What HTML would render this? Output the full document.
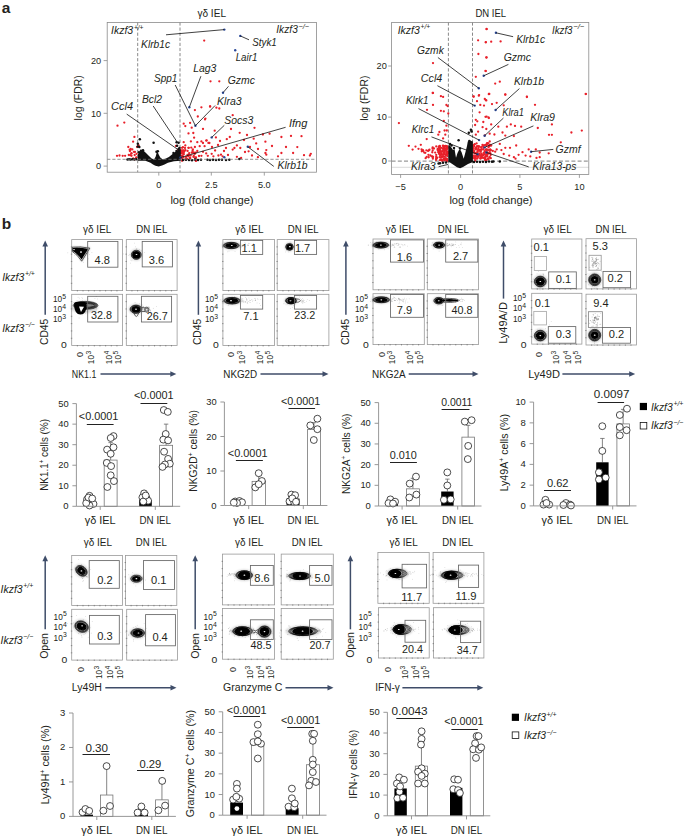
<!DOCTYPE html>
<html><head><meta charset="utf-8"><style>
html,body{margin:0;padding:0;background:#fff;}
svg{display:block;}
text{font-family:"Liberation Sans", sans-serif; fill:#231f20;}
</style></head><body>
<svg width="685" height="836" viewBox="0 0 685 836">
<text x="211.70" y="16.70" font-size="10.2" text-anchor="middle" textLength="28.6" lengthAdjust="spacingAndGlyphs">γδ IEL</text>
<line x1="103.60" y1="166.10" x2="107.20" y2="166.10" stroke="#8a8a8a" stroke-width="0.8"/>
<text x="101.20" y="169.40" font-size="9.2" text-anchor="end">0</text>
<line x1="103.60" y1="113.30" x2="107.20" y2="113.30" stroke="#8a8a8a" stroke-width="0.8"/>
<text x="101.20" y="116.60" font-size="9.2" text-anchor="end">10</text>
<line x1="103.60" y1="60.60" x2="107.20" y2="60.60" stroke="#8a8a8a" stroke-width="0.8"/>
<text x="101.20" y="63.90" font-size="9.2" text-anchor="end">20</text>
<line x1="158.80" y1="172.20" x2="158.80" y2="175.60" stroke="#8a8a8a" stroke-width="0.8"/>
<text x="158.80" y="188.20" font-size="9.2" text-anchor="middle">0</text>
<line x1="211.30" y1="172.20" x2="211.30" y2="175.60" stroke="#8a8a8a" stroke-width="0.8"/>
<text x="211.30" y="188.20" font-size="9.2" text-anchor="middle">2.5</text>
<line x1="264.30" y1="172.20" x2="264.30" y2="175.60" stroke="#8a8a8a" stroke-width="0.8"/>
<text x="264.30" y="188.20" font-size="9.2" text-anchor="middle">5.0</text>
<text x="212.00" y="203.60" font-size="10.4" text-anchor="middle" textLength="83.2" lengthAdjust="spacingAndGlyphs">log (fold change)</text>
<text x="81.80" y="97.80" font-size="10.2" text-anchor="middle" transform="rotate(-90 81.80 97.80)" textLength="45.2" lengthAdjust="spacingAndGlyphs">log (FDR)</text>
<line x1="137.70" y1="22.40" x2="137.70" y2="172.20" stroke="#6b6b6b" stroke-width="0.8" stroke-dasharray="3.2,1.9"/>
<line x1="180.00" y1="22.40" x2="180.00" y2="172.20" stroke="#6b6b6b" stroke-width="0.8" stroke-dasharray="3.2,1.9"/>
<circle cx="204.20" cy="40.60" r="1.15" fill="#e8202a"/>
<circle cx="210.50" cy="81.30" r="1.15" fill="#e8202a"/>
<circle cx="219.30" cy="81.30" r="1.15" fill="#e8202a"/>
<circle cx="210.00" cy="106.50" r="1.15" fill="#e8202a"/>
<circle cx="216.40" cy="107.70" r="1.15" fill="#e8202a"/>
<circle cx="219.30" cy="108.50" r="1.15" fill="#e8202a"/>
<circle cx="232.70" cy="115.20" r="1.15" fill="#e8202a"/>
<circle cx="254.50" cy="127.80" r="1.15" fill="#e8202a"/>
<circle cx="214.70" cy="130.70" r="1.15" fill="#e8202a"/>
<circle cx="239.70" cy="132.80" r="1.15" fill="#e8202a"/>
<circle cx="262.90" cy="134.50" r="1.15" fill="#e8202a"/>
<circle cx="269.60" cy="133.70" r="1.15" fill="#e8202a"/>
<circle cx="281.40" cy="137.00" r="1.15" fill="#e8202a"/>
<circle cx="291.00" cy="135.90" r="1.15" fill="#e8202a"/>
<circle cx="301.50" cy="136.20" r="1.15" fill="#e8202a"/>
<circle cx="215.90" cy="137.40" r="1.15" fill="#e8202a"/>
<circle cx="229.80" cy="137.00" r="1.15" fill="#e8202a"/>
<circle cx="226.80" cy="139.20" r="1.15" fill="#e8202a"/>
<circle cx="253.70" cy="138.70" r="1.15" fill="#e8202a"/>
<circle cx="265.40" cy="141.70" r="1.15" fill="#e8202a"/>
<circle cx="206.70" cy="140.40" r="1.15" fill="#e8202a"/>
<circle cx="208.40" cy="142.90" r="1.15" fill="#e8202a"/>
<circle cx="256.20" cy="143.40" r="1.15" fill="#e8202a"/>
<circle cx="236.90" cy="145.40" r="1.15" fill="#e8202a"/>
<circle cx="234.40" cy="148.00" r="1.15" fill="#e8202a"/>
<circle cx="240.30" cy="148.00" r="1.15" fill="#e8202a"/>
<circle cx="226.00" cy="148.00" r="1.15" fill="#e8202a"/>
<circle cx="297.30" cy="147.10" r="1.15" fill="#e8202a"/>
<circle cx="232.70" cy="149.60" r="1.15" fill="#e8202a"/>
<circle cx="266.30" cy="150.10" r="1.15" fill="#e8202a"/>
<circle cx="215.10" cy="150.50" r="1.15" fill="#e8202a"/>
<circle cx="248.60" cy="151.30" r="1.15" fill="#e8202a"/>
<circle cx="265.40" cy="153.00" r="1.15" fill="#e8202a"/>
<circle cx="281.40" cy="153.00" r="1.15" fill="#e8202a"/>
<circle cx="293.10" cy="153.00" r="1.15" fill="#e8202a"/>
<circle cx="266.30" cy="154.70" r="1.15" fill="#e8202a"/>
<circle cx="211.70" cy="153.80" r="1.15" fill="#e8202a"/>
<circle cx="252.00" cy="155.50" r="1.15" fill="#e8202a"/>
<circle cx="304.00" cy="155.20" r="1.15" fill="#e8202a"/>
<circle cx="310.80" cy="153.80" r="1.15" fill="#e8202a"/>
<circle cx="309.90" cy="155.50" r="1.15" fill="#e8202a"/>
<circle cx="278.00" cy="156.30" r="1.15" fill="#e8202a"/>
<circle cx="236.90" cy="156.80" r="1.15" fill="#e8202a"/>
<circle cx="221.00" cy="154.70" r="1.15" fill="#e8202a"/>
<circle cx="222.60" cy="156.30" r="1.15" fill="#e8202a"/>
<circle cx="218.40" cy="155.50" r="1.15" fill="#e8202a"/>
<circle cx="213.40" cy="156.30" r="1.15" fill="#e8202a"/>
<circle cx="257.90" cy="157.20" r="1.15" fill="#e8202a"/>
<circle cx="241.10" cy="158.00" r="1.15" fill="#e8202a"/>
<circle cx="205.00" cy="119.40" r="1.15" fill="#e8202a"/>
<circle cx="117.50" cy="125.70" r="1.15" fill="#e8202a"/>
<circle cx="124.30" cy="122.60" r="1.15" fill="#e8202a"/>
<circle cx="134.40" cy="136.90" r="1.15" fill="#e8202a"/>
<circle cx="133.10" cy="141.70" r="1.15" fill="#e8202a"/>
<circle cx="128.30" cy="147.00" r="1.15" fill="#e8202a"/>
<circle cx="132.30" cy="149.40" r="1.15" fill="#e8202a"/>
<circle cx="133.90" cy="151.80" r="1.15" fill="#e8202a"/>
<circle cx="131.50" cy="153.40" r="1.15" fill="#e8202a"/>
<circle cx="117.00" cy="155.80" r="1.15" fill="#e8202a"/>
<circle cx="119.50" cy="155.50" r="1.15" fill="#e8202a"/>
<circle cx="122.70" cy="155.80" r="1.15" fill="#e8202a"/>
<circle cx="125.10" cy="155.80" r="1.15" fill="#e8202a"/>
<circle cx="131.50" cy="155.80" r="1.15" fill="#e8202a"/>
<circle cx="134.70" cy="155.00" r="1.15" fill="#e8202a"/>
<circle cx="136.30" cy="157.40" r="1.15" fill="#e8202a"/>
<circle cx="137.10" cy="147.00" r="1.15" fill="#e8202a"/>
<circle cx="138.70" cy="145.40" r="1.15" fill="#e8202a"/>
<circle cx="183.70" cy="123.70" r="1.15" fill="#e8202a"/>
<circle cx="185.30" cy="126.10" r="1.15" fill="#e8202a"/>
<circle cx="190.10" cy="122.90" r="1.15" fill="#e8202a"/>
<circle cx="194.90" cy="110.10" r="1.15" fill="#e8202a"/>
<circle cx="201.40" cy="107.30" r="1.15" fill="#e8202a"/>
<circle cx="210.20" cy="106.40" r="1.15" fill="#e8202a"/>
<circle cx="197.80" cy="116.50" r="1.15" fill="#e8202a"/>
<circle cx="205.40" cy="118.60" r="1.15" fill="#e8202a"/>
<circle cx="191.70" cy="127.70" r="1.15" fill="#e8202a"/>
<circle cx="203.00" cy="128.90" r="1.15" fill="#e8202a"/>
<circle cx="188.50" cy="133.40" r="1.15" fill="#e8202a"/>
<circle cx="193.30" cy="133.00" r="1.15" fill="#e8202a"/>
<circle cx="194.10" cy="137.70" r="1.15" fill="#e8202a"/>
<circle cx="183.70" cy="142.20" r="1.15" fill="#e8202a"/>
<circle cx="190.90" cy="141.40" r="1.15" fill="#e8202a"/>
<circle cx="197.30" cy="142.20" r="1.15" fill="#e8202a"/>
<circle cx="203.00" cy="143.00" r="1.15" fill="#e8202a"/>
<circle cx="201.40" cy="141.40" r="1.15" fill="#e8202a"/>
<circle cx="206.20" cy="140.60" r="1.15" fill="#e8202a"/>
<circle cx="209.40" cy="143.00" r="1.15" fill="#e8202a"/>
<circle cx="185.30" cy="145.40" r="1.15" fill="#e8202a"/>
<circle cx="188.50" cy="147.80" r="1.15" fill="#e8202a"/>
<circle cx="194.90" cy="147.00" r="1.15" fill="#e8202a"/>
<circle cx="199.70" cy="146.20" r="1.15" fill="#e8202a"/>
<circle cx="204.60" cy="146.20" r="1.15" fill="#e8202a"/>
<circle cx="184.50" cy="151.00" r="1.15" fill="#e8202a"/>
<circle cx="191.70" cy="152.60" r="1.15" fill="#e8202a"/>
<circle cx="197.30" cy="151.00" r="1.15" fill="#e8202a"/>
<circle cx="203.00" cy="151.80" r="1.15" fill="#e8202a"/>
<circle cx="183.70" cy="154.20" r="1.15" fill="#e8202a"/>
<circle cx="188.50" cy="155.00" r="1.15" fill="#e8202a"/>
<circle cx="194.90" cy="153.40" r="1.15" fill="#e8202a"/>
<circle cx="201.40" cy="155.80" r="1.15" fill="#e8202a"/>
<circle cx="207.80" cy="155.80" r="1.15" fill="#e8202a"/>
<circle cx="180.50" cy="152.60" r="1.15" fill="#e8202a"/>
<circle cx="182.10" cy="155.80" r="1.15" fill="#e8202a"/>
<circle cx="181.30" cy="158.20" r="1.15" fill="#e8202a"/>
<circle cx="206.20" cy="153.40" r="1.15" fill="#e8202a"/>
<circle cx="186.00" cy="157.00" r="1.15" fill="#e8202a"/>
<circle cx="190.00" cy="158.00" r="1.15" fill="#e8202a"/>
<circle cx="196.00" cy="157.50" r="1.15" fill="#e8202a"/>
<circle cx="199.00" cy="156.00" r="1.15" fill="#e8202a"/>
<circle cx="212.00" cy="147.00" r="1.15" fill="#e8202a"/>
<circle cx="218.00" cy="145.00" r="1.15" fill="#e8202a"/>
<circle cx="224.00" cy="151.00" r="1.15" fill="#e8202a"/>
<circle cx="228.00" cy="155.00" r="1.15" fill="#e8202a"/>
<circle cx="245.00" cy="152.00" r="1.15" fill="#e8202a"/>
<circle cx="250.00" cy="147.00" r="1.15" fill="#e8202a"/>
<circle cx="258.00" cy="149.00" r="1.15" fill="#e8202a"/>
<circle cx="272.00" cy="146.00" r="1.15" fill="#e8202a"/>
<circle cx="286.00" cy="147.00" r="1.15" fill="#e8202a"/>
<circle cx="244.00" cy="140.00" r="1.15" fill="#e8202a"/>
<circle cx="247.00" cy="135.00" r="1.15" fill="#e8202a"/>
<circle cx="220.00" cy="141.00" r="1.15" fill="#e8202a"/>
<circle cx="231.00" cy="129.00" r="1.15" fill="#e8202a"/>
<circle cx="176.00" cy="146.00" r="1.15" fill="#e8202a"/>
<circle cx="178.00" cy="150.00" r="1.15" fill="#e8202a"/>
<circle cx="187.51" cy="154.84" r="1.15" fill="#e8202a"/>
<circle cx="194.83" cy="153.52" r="1.15" fill="#e8202a"/>
<circle cx="188.37" cy="155.22" r="1.15" fill="#e8202a"/>
<circle cx="183.36" cy="154.17" r="1.15" fill="#e8202a"/>
<circle cx="190.26" cy="158.10" r="1.15" fill="#e8202a"/>
<circle cx="181.96" cy="151.25" r="1.15" fill="#e8202a"/>
<circle cx="181.91" cy="158.34" r="1.15" fill="#e8202a"/>
<circle cx="191.25" cy="147.59" r="1.15" fill="#e8202a"/>
<circle cx="195.72" cy="160.51" r="1.15" fill="#e8202a"/>
<circle cx="190.64" cy="155.62" r="1.15" fill="#e8202a"/>
<circle cx="182.94" cy="147.21" r="1.15" fill="#e8202a"/>
<circle cx="188.69" cy="147.83" r="1.15" fill="#e8202a"/>
<circle cx="183.45" cy="150.39" r="1.15" fill="#e8202a"/>
<circle cx="180.97" cy="153.50" r="1.15" fill="#e8202a"/>
<circle cx="187.33" cy="158.79" r="1.15" fill="#e8202a"/>
<circle cx="188.55" cy="155.96" r="1.15" fill="#e8202a"/>
<circle cx="188.25" cy="156.27" r="1.15" fill="#e8202a"/>
<circle cx="187.59" cy="150.89" r="1.15" fill="#e8202a"/>
<circle cx="195.96" cy="160.94" r="1.15" fill="#e8202a"/>
<circle cx="193.52" cy="156.91" r="1.15" fill="#e8202a"/>
<circle cx="185.39" cy="150.22" r="1.15" fill="#e8202a"/>
<circle cx="184.98" cy="147.98" r="1.15" fill="#e8202a"/>
<circle cx="192.38" cy="152.61" r="1.15" fill="#e8202a"/>
<circle cx="193.62" cy="152.41" r="1.15" fill="#e8202a"/>
<circle cx="195.35" cy="158.86" r="1.15" fill="#e8202a"/>
<circle cx="180.51" cy="149.94" r="1.15" fill="#e8202a"/>
<circle cx="194.61" cy="153.58" r="1.15" fill="#e8202a"/>
<circle cx="195.70" cy="152.56" r="1.15" fill="#e8202a"/>
<circle cx="181.63" cy="155.81" r="1.15" fill="#e8202a"/>
<circle cx="192.57" cy="150.78" r="1.15" fill="#e8202a"/>
<circle cx="181.85" cy="151.66" r="1.15" fill="#e8202a"/>
<circle cx="195.44" cy="157.61" r="1.15" fill="#e8202a"/>
<circle cx="182.33" cy="150.45" r="1.15" fill="#e8202a"/>
<circle cx="182.07" cy="147.84" r="1.15" fill="#e8202a"/>
<circle cx="192.85" cy="149.49" r="1.15" fill="#e8202a"/>
<circle cx="189.17" cy="153.26" r="1.15" fill="#e8202a"/>
<circle cx="183.46" cy="157.25" r="1.15" fill="#e8202a"/>
<circle cx="182.53" cy="156.01" r="1.15" fill="#e8202a"/>
<circle cx="182.31" cy="152.89" r="1.15" fill="#e8202a"/>
<circle cx="183.80" cy="150.78" r="1.15" fill="#e8202a"/>
<circle cx="195.55" cy="158.25" r="1.15" fill="#e8202a"/>
<circle cx="185.21" cy="159.39" r="1.15" fill="#e8202a"/>
<circle cx="183.77" cy="152.52" r="1.15" fill="#e8202a"/>
<circle cx="193.74" cy="155.99" r="1.15" fill="#e8202a"/>
<circle cx="182.06" cy="160.85" r="1.15" fill="#e8202a"/>
<circle cx="129.92" cy="151.10" r="1.15" fill="#e8202a"/>
<circle cx="134.95" cy="151.95" r="1.15" fill="#e8202a"/>
<circle cx="130.67" cy="148.88" r="1.15" fill="#e8202a"/>
<circle cx="128.81" cy="154.99" r="1.15" fill="#e8202a"/>
<circle cx="130.19" cy="155.22" r="1.15" fill="#e8202a"/>
<circle cx="131.35" cy="153.44" r="1.15" fill="#e8202a"/>
<circle cx="136.63" cy="153.80" r="1.15" fill="#e8202a"/>
<circle cx="133.17" cy="158.40" r="1.15" fill="#e8202a"/>
<circle cx="129.65" cy="149.85" r="1.15" fill="#e8202a"/>
<circle cx="136.18" cy="157.81" r="1.15" fill="#e8202a"/>
<circle cx="130.25" cy="150.28" r="1.15" fill="#e8202a"/>
<circle cx="134.65" cy="159.28" r="1.15" fill="#e8202a"/>
<path d="M137.8,160.7 L137.8,154.5 L139.3,152.0 L141.4,150.4 L143.9,151.0 L146.0,153.0 L148.5,155.5 L151.6,158.6 L154.1,159.6 L155.7,156.6 L156.7,152.5 L157.7,152.0 L158.7,154.5 L160.3,157.6 L162.8,159.6 L165.9,158.6 L168.9,157.1 L172.0,154.5 L175.1,152.0 L178.1,149.9 L179.7,148.9 L180.8,149.5 L180.8,160.7 L174.0,161.2 L167.9,162.7 L164.5,164.4 L162.0,165.6 L158.7,166.4 L155.5,165.7 L153.0,164.4 L150.5,162.7 L145.4,160.7 Z" fill="#111"/>
<circle cx="139.80" cy="139.20" r="1.25" fill="#111"/>
<circle cx="137.80" cy="143.80" r="1.25" fill="#111"/>
<circle cx="137.80" cy="146.40" r="1.25" fill="#111"/>
<circle cx="139.30" cy="146.90" r="1.25" fill="#111"/>
<circle cx="153.60" cy="142.80" r="1.25" fill="#111"/>
<circle cx="176.60" cy="142.30" r="1.25" fill="#111"/>
<circle cx="178.60" cy="142.80" r="1.25" fill="#111"/>
<circle cx="177.10" cy="145.80" r="1.25" fill="#111"/>
<circle cx="178.60" cy="148.90" r="1.25" fill="#111"/>
<circle cx="127.50" cy="159.40" r="1.25" fill="#111"/>
<circle cx="129.10" cy="159.20" r="1.25" fill="#111"/>
<circle cx="130.70" cy="159.60" r="1.25" fill="#111"/>
<circle cx="132.50" cy="159.30" r="1.25" fill="#111"/>
<circle cx="134.30" cy="159.60" r="1.25" fill="#111"/>
<circle cx="136.20" cy="159.30" r="1.25" fill="#111"/>
<circle cx="183.00" cy="160.00" r="1.25" fill="#111"/>
<circle cx="186.00" cy="159.80" r="1.25" fill="#111"/>
<circle cx="189.00" cy="160.00" r="1.25" fill="#111"/>
<circle cx="192.00" cy="160.20" r="1.25" fill="#111"/>
<circle cx="195.00" cy="159.60" r="1.25" fill="#111"/>
<circle cx="198.00" cy="160.00" r="1.25" fill="#111"/>
<circle cx="201.00" cy="159.80" r="1.25" fill="#111"/>
<circle cx="207.50" cy="159.70" r="1.25" fill="#111"/>
<circle cx="210.00" cy="159.90" r="1.25" fill="#111"/>
<circle cx="213.00" cy="159.70" r="1.25" fill="#111"/>
<circle cx="216.00" cy="159.90" r="1.25" fill="#111"/>
<circle cx="219.00" cy="159.70" r="1.25" fill="#111"/>
<circle cx="222.00" cy="159.80" r="1.25" fill="#111"/>
<circle cx="226.00" cy="159.90" r="1.25" fill="#111"/>
<circle cx="229.30" cy="159.80" r="1.25" fill="#111"/>
<circle cx="239.40" cy="158.90" r="1.25" fill="#111"/>
<circle cx="141.00" cy="150.80" r="1.25" fill="#111"/>
<circle cx="143.00" cy="150.30" r="1.25" fill="#111"/>
<circle cx="156.50" cy="151.80" r="1.25" fill="#111"/>
<circle cx="157.80" cy="151.20" r="1.25" fill="#111"/>
<circle cx="173.50" cy="153.00" r="1.25" fill="#111"/>
<circle cx="176.50" cy="151.00" r="1.25" fill="#111"/>
<circle cx="179.50" cy="148.00" r="1.25" fill="#111"/>
<circle cx="139.00" cy="152.20" r="1.25" fill="#111"/>
<line x1="107.20" y1="159.30" x2="316.40" y2="159.30" stroke="#777777" stroke-width="0.8" stroke-dasharray="3.2,1.9"/>
<circle cx="224.30" cy="29.60" r="1.20" fill="#2b4a9a"/>
<circle cx="240.30" cy="35.90" r="1.20" fill="#2b4a9a"/>
<circle cx="235.20" cy="50.20" r="1.20" fill="#2b4a9a"/>
<circle cx="195.40" cy="125.70" r="1.20" fill="#2b4a9a"/>
<circle cx="189.30" cy="107.30" r="1.20" fill="#2b4a9a"/>
<circle cx="223.00" cy="92.70" r="1.20" fill="#2b4a9a"/>
<circle cx="211.70" cy="137.40" r="1.20" fill="#2b4a9a"/>
<circle cx="247.80" cy="146.80" r="1.20" fill="#2b4a9a"/>
<circle cx="224.30" cy="157.20" r="1.20" fill="#2b4a9a"/>
<circle cx="180.50" cy="157.50" r="1.20" fill="#2b4a9a"/>
<line x1="166.00" y1="34.80" x2="224.30" y2="29.60" stroke="#111" stroke-width="0.8"/>
<line x1="240.30" y1="35.90" x2="249.00" y2="39.80" stroke="#111" stroke-width="0.8"/>
<line x1="175.20" y1="85.00" x2="195.40" y2="125.70" stroke="#111" stroke-width="0.8"/>
<line x1="200.90" y1="76.20" x2="189.30" y2="107.30" stroke="#111" stroke-width="0.8"/>
<line x1="228.50" y1="86.30" x2="223.00" y2="92.70" stroke="#111" stroke-width="0.8"/>
<line x1="215.10" y1="105.50" x2="195.40" y2="125.70" stroke="#111" stroke-width="0.8"/>
<line x1="126.70" y1="114.10" x2="178.90" y2="150.20" stroke="#111" stroke-width="0.8"/>
<line x1="153.20" y1="106.00" x2="177.30" y2="142.20" stroke="#111" stroke-width="0.8"/>
<line x1="224.30" y1="125.30" x2="211.70" y2="137.40" stroke="#111" stroke-width="0.8"/>
<line x1="285.60" y1="127.30" x2="180.50" y2="157.50" stroke="#111" stroke-width="0.8"/>
<line x1="247.80" y1="146.80" x2="273.80" y2="166.40" stroke="#111" stroke-width="0.8"/>
<rect x="107.20" y="22.40" width="209.20" height="149.80" fill="none" stroke="#8a8a8a" stroke-width="0.8"/>
<text x="111.00" y="34.10" font-size="10.0" font-style="italic" textLength="22.2" lengthAdjust="spacingAndGlyphs">Ikzf3</text>
<text x="133.90" y="29.80" font-size="7.0" font-style="italic" textLength="9.5" lengthAdjust="spacingAndGlyphs">+/+</text>
<text x="276.30" y="33.40" font-size="10.0" font-style="italic" textLength="21.5" lengthAdjust="spacingAndGlyphs">Ikzf3</text>
<text x="298.50" y="29.10" font-size="7.0" font-style="italic" textLength="10.5" lengthAdjust="spacingAndGlyphs">−/−</text>
<text x="141.10" y="48.10" font-size="10.2" font-style="italic" textLength="28.9" lengthAdjust="spacingAndGlyphs">Klrb1c</text>
<text x="252.30" y="45.50" font-size="10.2" font-style="italic" textLength="24.5" lengthAdjust="spacingAndGlyphs">Styk1</text>
<text x="235.70" y="61.10" font-size="10.2" font-style="italic" textLength="21.7" lengthAdjust="spacingAndGlyphs">Lair1</text>
<text x="154.00" y="81.80" font-size="10.2" font-style="italic" textLength="23.3" lengthAdjust="spacingAndGlyphs">Spp1</text>
<text x="193.20" y="71.90" font-size="10.2" font-style="italic" textLength="23.2" lengthAdjust="spacingAndGlyphs">Lag3</text>
<text x="227.70" y="83.80" font-size="10.2" font-style="italic" textLength="27.2" lengthAdjust="spacingAndGlyphs">Gzmc</text>
<text x="217.10" y="104.80" font-size="10.2" font-style="italic" textLength="24.5" lengthAdjust="spacingAndGlyphs">Klra3</text>
<text x="111.10" y="110.40" font-size="10.2" font-style="italic" textLength="22" lengthAdjust="spacingAndGlyphs">Ccl4</text>
<text x="141.90" y="102.50" font-size="10.2" font-style="italic" textLength="20.1" lengthAdjust="spacingAndGlyphs">Bcl2</text>
<text x="224.30" y="123.60" font-size="10.2" font-style="italic" textLength="29" lengthAdjust="spacingAndGlyphs">Socs3</text>
<text x="288.90" y="127.00" font-size="10.2" font-style="italic" textLength="18.5" lengthAdjust="spacingAndGlyphs">Ifng</text>
<text x="277.50" y="168.90" font-size="10.2" font-style="italic" textLength="29.9" lengthAdjust="spacingAndGlyphs">Klrb1b</text>
<text x="490.80" y="16.70" font-size="10.2" text-anchor="middle" textLength="30.7" lengthAdjust="spacingAndGlyphs">DN IEL</text>
<line x1="388.20" y1="161.00" x2="391.60" y2="161.00" stroke="#8a8a8a" stroke-width="0.8"/>
<text x="386.80" y="164.30" font-size="9.2" text-anchor="end">0</text>
<line x1="388.20" y1="117.10" x2="391.60" y2="117.10" stroke="#8a8a8a" stroke-width="0.8"/>
<text x="386.80" y="120.40" font-size="9.2" text-anchor="end">10</text>
<line x1="388.20" y1="66.00" x2="391.60" y2="66.00" stroke="#8a8a8a" stroke-width="0.8"/>
<text x="386.80" y="69.30" font-size="9.2" text-anchor="end">20</text>
<line x1="400.60" y1="174.50" x2="400.60" y2="177.90" stroke="#8a8a8a" stroke-width="0.8"/>
<text x="400.60" y="190.00" font-size="9.2" text-anchor="middle">−5</text>
<line x1="460.60" y1="174.50" x2="460.60" y2="177.90" stroke="#8a8a8a" stroke-width="0.8"/>
<text x="460.60" y="190.00" font-size="9.2" text-anchor="middle">0</text>
<line x1="519.90" y1="174.50" x2="519.90" y2="177.90" stroke="#8a8a8a" stroke-width="0.8"/>
<text x="519.90" y="190.00" font-size="9.2" text-anchor="middle">5</text>
<line x1="579.40" y1="174.50" x2="579.40" y2="177.90" stroke="#8a8a8a" stroke-width="0.8"/>
<text x="579.40" y="190.00" font-size="9.2" text-anchor="middle">10</text>
<text x="491.00" y="203.60" font-size="10.4" text-anchor="middle" textLength="83.2" lengthAdjust="spacingAndGlyphs">log (fold change)</text>
<text x="368.00" y="98.20" font-size="10.2" text-anchor="middle" transform="rotate(-90 368.00 98.20)" textLength="45.2" lengthAdjust="spacingAndGlyphs">log (FDR)</text>
<line x1="391.60" y1="167.30" x2="588.80" y2="167.30" stroke="#d0d0d0" stroke-width="0.8"/>
<line x1="391.60" y1="161.10" x2="588.80" y2="161.10" stroke="#9a9a9a" stroke-width="1.3" stroke-dasharray="4,2.2"/>
<line x1="448.40" y1="22.40" x2="448.40" y2="174.50" stroke="#6b6b6b" stroke-width="0.8" stroke-dasharray="3.2,1.9"/>
<line x1="472.50" y1="22.40" x2="472.50" y2="174.50" stroke="#6b6b6b" stroke-width="0.8" stroke-dasharray="3.2,1.9"/>
<circle cx="486.60" cy="28.90" r="1.15" fill="#e8202a"/>
<circle cx="478.10" cy="40.30" r="1.15" fill="#e8202a"/>
<circle cx="485.80" cy="42.30" r="1.15" fill="#e8202a"/>
<circle cx="478.40" cy="54.00" r="1.15" fill="#e8202a"/>
<circle cx="486.30" cy="57.50" r="1.15" fill="#e8202a"/>
<circle cx="433.00" cy="63.10" r="1.15" fill="#e8202a"/>
<circle cx="485.50" cy="70.90" r="1.15" fill="#e8202a"/>
<circle cx="475.80" cy="76.80" r="1.15" fill="#e8202a"/>
<circle cx="433.00" cy="92.90" r="1.15" fill="#e8202a"/>
<circle cx="440.90" cy="96.20" r="1.15" fill="#e8202a"/>
<circle cx="443.10" cy="96.90" r="1.15" fill="#e8202a"/>
<circle cx="473.60" cy="96.50" r="1.15" fill="#e8202a"/>
<circle cx="479.10" cy="95.10" r="1.15" fill="#e8202a"/>
<circle cx="489.30" cy="93.90" r="1.15" fill="#e8202a"/>
<circle cx="486.60" cy="29.20" r="1.15" fill="#e8202a"/>
<circle cx="485.80" cy="42.20" r="1.15" fill="#e8202a"/>
<circle cx="491.20" cy="41.70" r="1.15" fill="#e8202a"/>
<circle cx="500.60" cy="41.40" r="1.15" fill="#e8202a"/>
<circle cx="486.60" cy="57.40" r="1.15" fill="#e8202a"/>
<circle cx="485.80" cy="71.10" r="1.15" fill="#e8202a"/>
<circle cx="495.20" cy="83.60" r="1.15" fill="#e8202a"/>
<circle cx="499.80" cy="81.70" r="1.15" fill="#e8202a"/>
<circle cx="488.90" cy="94.20" r="1.15" fill="#e8202a"/>
<circle cx="505.30" cy="94.50" r="1.15" fill="#e8202a"/>
<circle cx="526.90" cy="96.60" r="1.15" fill="#e8202a"/>
<circle cx="585.80" cy="94.10" r="1.15" fill="#e8202a"/>
<circle cx="432.70" cy="93.00" r="1.15" fill="#e8202a"/>
<circle cx="433.00" cy="104.90" r="1.15" fill="#e8202a"/>
<circle cx="446.40" cy="104.90" r="1.15" fill="#e8202a"/>
<circle cx="447.60" cy="106.10" r="1.15" fill="#e8202a"/>
<circle cx="427.00" cy="109.80" r="1.15" fill="#e8202a"/>
<circle cx="440.90" cy="110.80" r="1.15" fill="#e8202a"/>
<circle cx="443.80" cy="111.30" r="1.15" fill="#e8202a"/>
<circle cx="448.30" cy="113.50" r="1.15" fill="#e8202a"/>
<circle cx="398.90" cy="123.10" r="1.15" fill="#e8202a"/>
<circle cx="443.80" cy="121.00" r="1.15" fill="#e8202a"/>
<circle cx="446.40" cy="125.70" r="1.15" fill="#e8202a"/>
<circle cx="439.40" cy="132.00" r="1.15" fill="#e8202a"/>
<circle cx="444.60" cy="130.50" r="1.15" fill="#e8202a"/>
<circle cx="446.80" cy="130.50" r="1.15" fill="#e8202a"/>
<circle cx="438.30" cy="134.70" r="1.15" fill="#e8202a"/>
<circle cx="445.30" cy="134.70" r="1.15" fill="#e8202a"/>
<circle cx="426.70" cy="139.10" r="1.15" fill="#e8202a"/>
<circle cx="443.10" cy="138.40" r="1.15" fill="#e8202a"/>
<circle cx="408.80" cy="145.80" r="1.15" fill="#e8202a"/>
<circle cx="412.60" cy="149.60" r="1.15" fill="#e8202a"/>
<circle cx="415.50" cy="146.60" r="1.15" fill="#e8202a"/>
<circle cx="418.50" cy="148.80" r="1.15" fill="#e8202a"/>
<circle cx="420.80" cy="144.80" r="1.15" fill="#e8202a"/>
<circle cx="428.90" cy="150.30" r="1.15" fill="#e8202a"/>
<circle cx="432.70" cy="147.30" r="1.15" fill="#e8202a"/>
<circle cx="432.70" cy="150.30" r="1.15" fill="#e8202a"/>
<circle cx="430.40" cy="155.50" r="1.15" fill="#e8202a"/>
<circle cx="431.90" cy="156.30" r="1.15" fill="#e8202a"/>
<circle cx="473.60" cy="96.70" r="1.15" fill="#e8202a"/>
<circle cx="478.80" cy="95.70" r="1.15" fill="#e8202a"/>
<circle cx="484.80" cy="98.90" r="1.15" fill="#e8202a"/>
<circle cx="477.00" cy="101.20" r="1.15" fill="#e8202a"/>
<circle cx="480.30" cy="104.90" r="1.15" fill="#e8202a"/>
<circle cx="484.00" cy="105.60" r="1.15" fill="#e8202a"/>
<circle cx="486.30" cy="100.40" r="1.15" fill="#e8202a"/>
<circle cx="479.60" cy="112.30" r="1.15" fill="#e8202a"/>
<circle cx="485.50" cy="116.80" r="1.15" fill="#e8202a"/>
<circle cx="475.80" cy="119.80" r="1.15" fill="#e8202a"/>
<circle cx="477.30" cy="121.30" r="1.15" fill="#e8202a"/>
<circle cx="483.30" cy="122.00" r="1.15" fill="#e8202a"/>
<circle cx="475.10" cy="125.00" r="1.15" fill="#e8202a"/>
<circle cx="488.50" cy="117.50" r="1.15" fill="#e8202a"/>
<circle cx="486.30" cy="129.00" r="1.15" fill="#e8202a"/>
<circle cx="482.60" cy="127.20" r="1.15" fill="#e8202a"/>
<circle cx="478.10" cy="131.70" r="1.15" fill="#e8202a"/>
<circle cx="475.80" cy="134.70" r="1.15" fill="#e8202a"/>
<circle cx="484.80" cy="135.40" r="1.15" fill="#e8202a"/>
<circle cx="488.90" cy="93.90" r="1.15" fill="#e8202a"/>
<circle cx="505.30" cy="94.70" r="1.15" fill="#e8202a"/>
<circle cx="526.90" cy="97.00" r="1.15" fill="#e8202a"/>
<circle cx="585.80" cy="93.90" r="1.15" fill="#e8202a"/>
<circle cx="485.80" cy="100.20" r="1.15" fill="#e8202a"/>
<circle cx="492.00" cy="104.10" r="1.15" fill="#e8202a"/>
<circle cx="496.70" cy="102.80" r="1.15" fill="#e8202a"/>
<circle cx="503.70" cy="105.30" r="1.15" fill="#e8202a"/>
<circle cx="535.00" cy="104.80" r="1.15" fill="#e8202a"/>
<circle cx="486.60" cy="116.60" r="1.15" fill="#e8202a"/>
<circle cx="488.90" cy="118.10" r="1.15" fill="#e8202a"/>
<circle cx="491.20" cy="124.40" r="1.15" fill="#e8202a"/>
<circle cx="498.30" cy="126.70" r="1.15" fill="#e8202a"/>
<circle cx="506.90" cy="126.70" r="1.15" fill="#e8202a"/>
<circle cx="510.80" cy="124.40" r="1.15" fill="#e8202a"/>
<circle cx="515.00" cy="125.90" r="1.15" fill="#e8202a"/>
<circle cx="521.20" cy="126.70" r="1.15" fill="#e8202a"/>
<circle cx="537.80" cy="128.00" r="1.15" fill="#e8202a"/>
<circle cx="551.90" cy="124.40" r="1.15" fill="#e8202a"/>
<circle cx="489.70" cy="133.70" r="1.15" fill="#e8202a"/>
<circle cx="494.40" cy="134.50" r="1.15" fill="#e8202a"/>
<circle cx="502.50" cy="132.50" r="1.15" fill="#e8202a"/>
<circle cx="505.30" cy="135.60" r="1.15" fill="#e8202a"/>
<circle cx="513.90" cy="136.10" r="1.15" fill="#e8202a"/>
<circle cx="549.00" cy="134.80" r="1.15" fill="#e8202a"/>
<circle cx="551.90" cy="134.80" r="1.15" fill="#e8202a"/>
<circle cx="571.40" cy="132.50" r="1.15" fill="#e8202a"/>
<circle cx="581.80" cy="130.60" r="1.15" fill="#e8202a"/>
<circle cx="489.70" cy="141.50" r="1.15" fill="#e8202a"/>
<circle cx="491.20" cy="145.50" r="1.15" fill="#e8202a"/>
<circle cx="560.80" cy="142.30" r="1.15" fill="#e8202a"/>
<circle cx="499.80" cy="143.90" r="1.15" fill="#e8202a"/>
<circle cx="505.30" cy="147.80" r="1.15" fill="#e8202a"/>
<circle cx="510.00" cy="147.80" r="1.15" fill="#e8202a"/>
<circle cx="516.20" cy="145.50" r="1.15" fill="#e8202a"/>
<circle cx="501.40" cy="150.10" r="1.15" fill="#e8202a"/>
<circle cx="528.70" cy="149.40" r="1.15" fill="#e8202a"/>
<circle cx="535.80" cy="149.40" r="1.15" fill="#e8202a"/>
<circle cx="539.70" cy="152.50" r="1.15" fill="#e8202a"/>
<circle cx="548.70" cy="153.30" r="1.15" fill="#e8202a"/>
<circle cx="522.50" cy="152.20" r="1.15" fill="#e8202a"/>
<circle cx="525.60" cy="155.60" r="1.15" fill="#e8202a"/>
<circle cx="530.30" cy="156.40" r="1.15" fill="#e8202a"/>
<circle cx="536.50" cy="157.90" r="1.15" fill="#e8202a"/>
<circle cx="539.70" cy="157.20" r="1.15" fill="#e8202a"/>
<circle cx="518.60" cy="154.80" r="1.15" fill="#e8202a"/>
<circle cx="509.20" cy="155.60" r="1.15" fill="#e8202a"/>
<circle cx="513.90" cy="157.20" r="1.15" fill="#e8202a"/>
<circle cx="515.50" cy="158.70" r="1.15" fill="#e8202a"/>
<circle cx="503.70" cy="154.00" r="1.15" fill="#e8202a"/>
<circle cx="495.20" cy="151.70" r="1.15" fill="#e8202a"/>
<circle cx="496.70" cy="149.40" r="1.15" fill="#e8202a"/>
<circle cx="492.80" cy="150.90" r="1.15" fill="#e8202a"/>
<circle cx="486.60" cy="155.60" r="1.15" fill="#e8202a"/>
<circle cx="488.10" cy="158.70" r="1.15" fill="#e8202a"/>
<circle cx="438.97" cy="153.83" r="1.15" fill="#e8202a"/>
<circle cx="440.62" cy="154.74" r="1.15" fill="#e8202a"/>
<circle cx="443.82" cy="146.50" r="1.15" fill="#e8202a"/>
<circle cx="436.16" cy="158.31" r="1.15" fill="#e8202a"/>
<circle cx="439.24" cy="149.09" r="1.15" fill="#e8202a"/>
<circle cx="448.45" cy="152.70" r="1.15" fill="#e8202a"/>
<circle cx="446.46" cy="152.79" r="1.15" fill="#e8202a"/>
<circle cx="443.99" cy="147.80" r="1.15" fill="#e8202a"/>
<circle cx="443.94" cy="158.78" r="1.15" fill="#e8202a"/>
<circle cx="442.54" cy="156.84" r="1.15" fill="#e8202a"/>
<circle cx="444.39" cy="146.48" r="1.15" fill="#e8202a"/>
<circle cx="445.48" cy="154.54" r="1.15" fill="#e8202a"/>
<circle cx="439.77" cy="145.97" r="1.15" fill="#e8202a"/>
<circle cx="446.82" cy="152.73" r="1.15" fill="#e8202a"/>
<circle cx="444.99" cy="158.95" r="1.15" fill="#e8202a"/>
<circle cx="444.93" cy="159.59" r="1.15" fill="#e8202a"/>
<circle cx="440.94" cy="157.75" r="1.15" fill="#e8202a"/>
<circle cx="441.56" cy="159.81" r="1.15" fill="#e8202a"/>
<circle cx="446.99" cy="146.99" r="1.15" fill="#e8202a"/>
<circle cx="437.70" cy="148.82" r="1.15" fill="#e8202a"/>
<circle cx="448.07" cy="152.17" r="1.15" fill="#e8202a"/>
<circle cx="443.83" cy="150.11" r="1.15" fill="#e8202a"/>
<circle cx="442.34" cy="151.40" r="1.15" fill="#e8202a"/>
<circle cx="440.39" cy="154.45" r="1.15" fill="#e8202a"/>
<circle cx="443.30" cy="159.33" r="1.15" fill="#e8202a"/>
<circle cx="444.52" cy="159.71" r="1.15" fill="#e8202a"/>
<circle cx="446.71" cy="160.66" r="1.15" fill="#e8202a"/>
<circle cx="444.39" cy="148.00" r="1.15" fill="#e8202a"/>
<circle cx="446.76" cy="160.26" r="1.15" fill="#e8202a"/>
<circle cx="447.31" cy="154.21" r="1.15" fill="#e8202a"/>
<circle cx="444.92" cy="148.73" r="1.15" fill="#e8202a"/>
<circle cx="446.40" cy="154.28" r="1.15" fill="#e8202a"/>
<circle cx="439.56" cy="146.47" r="1.15" fill="#e8202a"/>
<circle cx="446.67" cy="160.64" r="1.15" fill="#e8202a"/>
<circle cx="437.11" cy="157.75" r="1.15" fill="#e8202a"/>
<circle cx="441.13" cy="147.81" r="1.15" fill="#e8202a"/>
<circle cx="439.67" cy="157.26" r="1.15" fill="#e8202a"/>
<circle cx="446.91" cy="146.18" r="1.15" fill="#e8202a"/>
<circle cx="443.68" cy="146.19" r="1.15" fill="#e8202a"/>
<circle cx="444.98" cy="150.56" r="1.15" fill="#e8202a"/>
<circle cx="447.01" cy="160.50" r="1.15" fill="#e8202a"/>
<circle cx="442.32" cy="160.78" r="1.15" fill="#e8202a"/>
<circle cx="439.87" cy="146.68" r="1.15" fill="#e8202a"/>
<circle cx="443.50" cy="145.98" r="1.15" fill="#e8202a"/>
<circle cx="438.47" cy="151.74" r="1.15" fill="#e8202a"/>
<circle cx="443.63" cy="147.89" r="1.15" fill="#e8202a"/>
<circle cx="436.53" cy="158.78" r="1.15" fill="#e8202a"/>
<circle cx="439.92" cy="160.17" r="1.15" fill="#e8202a"/>
<circle cx="447.21" cy="151.28" r="1.15" fill="#e8202a"/>
<circle cx="441.76" cy="153.46" r="1.15" fill="#e8202a"/>
<circle cx="444.05" cy="154.61" r="1.15" fill="#e8202a"/>
<circle cx="442.99" cy="154.99" r="1.15" fill="#e8202a"/>
<circle cx="447.76" cy="153.26" r="1.15" fill="#e8202a"/>
<circle cx="441.39" cy="156.52" r="1.15" fill="#e8202a"/>
<circle cx="438.97" cy="150.11" r="1.15" fill="#e8202a"/>
<circle cx="448.22" cy="153.47" r="1.15" fill="#e8202a"/>
<circle cx="442.86" cy="145.68" r="1.15" fill="#e8202a"/>
<circle cx="441.19" cy="154.37" r="1.15" fill="#e8202a"/>
<circle cx="436.25" cy="154.92" r="1.15" fill="#e8202a"/>
<circle cx="443.90" cy="146.42" r="1.15" fill="#e8202a"/>
<circle cx="443.84" cy="152.63" r="1.15" fill="#e8202a"/>
<circle cx="444.49" cy="150.89" r="1.15" fill="#e8202a"/>
<circle cx="444.84" cy="156.79" r="1.15" fill="#e8202a"/>
<circle cx="436.28" cy="146.43" r="1.15" fill="#e8202a"/>
<circle cx="444.45" cy="160.24" r="1.15" fill="#e8202a"/>
<circle cx="439.14" cy="152.48" r="1.15" fill="#e8202a"/>
<circle cx="443.41" cy="150.40" r="1.15" fill="#e8202a"/>
<circle cx="440.55" cy="150.28" r="1.15" fill="#e8202a"/>
<circle cx="440.61" cy="154.61" r="1.15" fill="#e8202a"/>
<circle cx="439.76" cy="151.27" r="1.15" fill="#e8202a"/>
<circle cx="445.65" cy="145.91" r="1.15" fill="#e8202a"/>
<circle cx="443.12" cy="156.75" r="1.15" fill="#e8202a"/>
<circle cx="439.88" cy="148.90" r="1.15" fill="#e8202a"/>
<circle cx="446.05" cy="149.15" r="1.15" fill="#e8202a"/>
<circle cx="438.34" cy="152.16" r="1.15" fill="#e8202a"/>
<circle cx="444.73" cy="147.06" r="1.15" fill="#e8202a"/>
<circle cx="440.02" cy="150.61" r="1.15" fill="#e8202a"/>
<circle cx="446.42" cy="152.21" r="1.15" fill="#e8202a"/>
<circle cx="446.69" cy="148.09" r="1.15" fill="#e8202a"/>
<circle cx="440.21" cy="155.45" r="1.15" fill="#e8202a"/>
<circle cx="447.06" cy="152.40" r="1.15" fill="#e8202a"/>
<circle cx="438.81" cy="147.35" r="1.15" fill="#e8202a"/>
<circle cx="442.62" cy="148.42" r="1.15" fill="#e8202a"/>
<circle cx="446.08" cy="158.33" r="1.15" fill="#e8202a"/>
<circle cx="438.29" cy="149.76" r="1.15" fill="#e8202a"/>
<circle cx="446.09" cy="155.32" r="1.15" fill="#e8202a"/>
<circle cx="446.08" cy="150.78" r="1.15" fill="#e8202a"/>
<circle cx="437.62" cy="149.97" r="1.15" fill="#e8202a"/>
<circle cx="445.92" cy="149.65" r="1.15" fill="#e8202a"/>
<circle cx="440.33" cy="151.88" r="1.15" fill="#e8202a"/>
<circle cx="441.25" cy="151.77" r="1.15" fill="#e8202a"/>
<circle cx="447.51" cy="147.89" r="1.15" fill="#e8202a"/>
<circle cx="436.06" cy="159.93" r="1.15" fill="#e8202a"/>
<circle cx="447.00" cy="160.60" r="1.15" fill="#e8202a"/>
<circle cx="441.43" cy="160.04" r="1.15" fill="#e8202a"/>
<circle cx="447.59" cy="148.90" r="1.15" fill="#e8202a"/>
<circle cx="445.32" cy="158.30" r="1.15" fill="#e8202a"/>
<circle cx="444.29" cy="153.44" r="1.15" fill="#e8202a"/>
<circle cx="439.61" cy="150.72" r="1.15" fill="#e8202a"/>
<circle cx="438.84" cy="146.54" r="1.15" fill="#e8202a"/>
<circle cx="443.36" cy="149.89" r="1.15" fill="#e8202a"/>
<circle cx="446.13" cy="146.19" r="1.15" fill="#e8202a"/>
<circle cx="447.30" cy="156.11" r="1.15" fill="#e8202a"/>
<circle cx="447.55" cy="159.22" r="1.15" fill="#e8202a"/>
<circle cx="447.25" cy="154.33" r="1.15" fill="#e8202a"/>
<circle cx="436.16" cy="156.90" r="1.15" fill="#e8202a"/>
<circle cx="438.15" cy="150.09" r="1.15" fill="#e8202a"/>
<circle cx="444.29" cy="153.53" r="1.15" fill="#e8202a"/>
<circle cx="441.17" cy="159.87" r="1.15" fill="#e8202a"/>
<circle cx="443.65" cy="150.72" r="1.15" fill="#e8202a"/>
<circle cx="477.25" cy="158.34" r="1.15" fill="#e8202a"/>
<circle cx="481.47" cy="156.93" r="1.15" fill="#e8202a"/>
<circle cx="479.11" cy="146.51" r="1.15" fill="#e8202a"/>
<circle cx="482.55" cy="157.54" r="1.15" fill="#e8202a"/>
<circle cx="475.72" cy="157.09" r="1.15" fill="#e8202a"/>
<circle cx="489.83" cy="157.35" r="1.15" fill="#e8202a"/>
<circle cx="487.98" cy="143.13" r="1.15" fill="#e8202a"/>
<circle cx="484.32" cy="158.35" r="1.15" fill="#e8202a"/>
<circle cx="473.44" cy="147.83" r="1.15" fill="#e8202a"/>
<circle cx="477.55" cy="152.39" r="1.15" fill="#e8202a"/>
<circle cx="480.45" cy="151.42" r="1.15" fill="#e8202a"/>
<circle cx="487.10" cy="143.03" r="1.15" fill="#e8202a"/>
<circle cx="473.53" cy="145.26" r="1.15" fill="#e8202a"/>
<circle cx="474.84" cy="144.22" r="1.15" fill="#e8202a"/>
<circle cx="490.82" cy="158.21" r="1.15" fill="#e8202a"/>
<circle cx="474.12" cy="151.94" r="1.15" fill="#e8202a"/>
<circle cx="478.44" cy="148.60" r="1.15" fill="#e8202a"/>
<circle cx="479.10" cy="154.52" r="1.15" fill="#e8202a"/>
<circle cx="483.53" cy="149.42" r="1.15" fill="#e8202a"/>
<circle cx="476.09" cy="148.85" r="1.15" fill="#e8202a"/>
<circle cx="474.83" cy="152.89" r="1.15" fill="#e8202a"/>
<circle cx="485.96" cy="149.77" r="1.15" fill="#e8202a"/>
<circle cx="474.00" cy="146.18" r="1.15" fill="#e8202a"/>
<circle cx="479.52" cy="153.76" r="1.15" fill="#e8202a"/>
<circle cx="487.21" cy="149.77" r="1.15" fill="#e8202a"/>
<circle cx="487.56" cy="154.09" r="1.15" fill="#e8202a"/>
<circle cx="480.61" cy="149.63" r="1.15" fill="#e8202a"/>
<circle cx="481.83" cy="155.51" r="1.15" fill="#e8202a"/>
<circle cx="480.41" cy="155.36" r="1.15" fill="#e8202a"/>
<circle cx="481.16" cy="147.36" r="1.15" fill="#e8202a"/>
<circle cx="482.57" cy="155.37" r="1.15" fill="#e8202a"/>
<circle cx="473.85" cy="150.56" r="1.15" fill="#e8202a"/>
<circle cx="480.51" cy="158.66" r="1.15" fill="#e8202a"/>
<circle cx="490.11" cy="149.66" r="1.15" fill="#e8202a"/>
<circle cx="489.38" cy="157.08" r="1.15" fill="#e8202a"/>
<circle cx="477.43" cy="151.26" r="1.15" fill="#e8202a"/>
<circle cx="474.82" cy="157.48" r="1.15" fill="#e8202a"/>
<circle cx="484.95" cy="158.79" r="1.15" fill="#e8202a"/>
<circle cx="487.40" cy="154.88" r="1.15" fill="#e8202a"/>
<circle cx="486.29" cy="153.04" r="1.15" fill="#e8202a"/>
<circle cx="474.44" cy="153.46" r="1.15" fill="#e8202a"/>
<circle cx="472.59" cy="145.55" r="1.15" fill="#e8202a"/>
<circle cx="487.06" cy="143.79" r="1.15" fill="#e8202a"/>
<circle cx="474.23" cy="144.77" r="1.15" fill="#e8202a"/>
<circle cx="489.05" cy="146.19" r="1.15" fill="#e8202a"/>
<circle cx="472.94" cy="157.98" r="1.15" fill="#e8202a"/>
<circle cx="474.78" cy="158.02" r="1.15" fill="#e8202a"/>
<circle cx="485.16" cy="157.88" r="1.15" fill="#e8202a"/>
<circle cx="490.41" cy="153.31" r="1.15" fill="#e8202a"/>
<circle cx="487.52" cy="143.65" r="1.15" fill="#e8202a"/>
<circle cx="486.93" cy="152.10" r="1.15" fill="#e8202a"/>
<circle cx="485.94" cy="144.90" r="1.15" fill="#e8202a"/>
<circle cx="486.58" cy="159.64" r="1.15" fill="#e8202a"/>
<circle cx="473.65" cy="148.77" r="1.15" fill="#e8202a"/>
<circle cx="483.10" cy="157.74" r="1.15" fill="#e8202a"/>
<circle cx="477.05" cy="146.20" r="1.15" fill="#e8202a"/>
<circle cx="477.20" cy="153.96" r="1.15" fill="#e8202a"/>
<circle cx="486.67" cy="150.01" r="1.15" fill="#e8202a"/>
<circle cx="479.41" cy="150.06" r="1.15" fill="#e8202a"/>
<circle cx="479.09" cy="150.44" r="1.15" fill="#e8202a"/>
<circle cx="474.07" cy="151.91" r="1.15" fill="#e8202a"/>
<circle cx="490.79" cy="150.35" r="1.15" fill="#e8202a"/>
<circle cx="486.55" cy="145.86" r="1.15" fill="#e8202a"/>
<circle cx="485.49" cy="156.46" r="1.15" fill="#e8202a"/>
<circle cx="485.17" cy="152.20" r="1.15" fill="#e8202a"/>
<circle cx="481.59" cy="154.44" r="1.15" fill="#e8202a"/>
<circle cx="489.37" cy="145.66" r="1.15" fill="#e8202a"/>
<circle cx="474.30" cy="156.32" r="1.15" fill="#e8202a"/>
<circle cx="489.73" cy="152.21" r="1.15" fill="#e8202a"/>
<circle cx="480.83" cy="155.80" r="1.15" fill="#e8202a"/>
<circle cx="476.00" cy="147.76" r="1.15" fill="#e8202a"/>
<circle cx="476.24" cy="153.42" r="1.15" fill="#e8202a"/>
<circle cx="478.42" cy="147.14" r="1.15" fill="#e8202a"/>
<circle cx="485.49" cy="159.97" r="1.15" fill="#e8202a"/>
<circle cx="478.06" cy="155.55" r="1.15" fill="#e8202a"/>
<circle cx="480.27" cy="158.19" r="1.15" fill="#e8202a"/>
<circle cx="483.49" cy="147.76" r="1.15" fill="#e8202a"/>
<circle cx="476.59" cy="143.41" r="1.15" fill="#e8202a"/>
<circle cx="481.51" cy="149.81" r="1.15" fill="#e8202a"/>
<circle cx="475.74" cy="149.42" r="1.15" fill="#e8202a"/>
<circle cx="478.55" cy="156.78" r="1.15" fill="#e8202a"/>
<circle cx="475.20" cy="160.64" r="1.15" fill="#e8202a"/>
<circle cx="481.52" cy="153.66" r="1.15" fill="#e8202a"/>
<circle cx="481.30" cy="157.86" r="1.15" fill="#e8202a"/>
<circle cx="487.95" cy="152.92" r="1.15" fill="#e8202a"/>
<circle cx="481.55" cy="155.83" r="1.15" fill="#e8202a"/>
<circle cx="488.61" cy="150.12" r="1.15" fill="#e8202a"/>
<circle cx="486.29" cy="160.09" r="1.15" fill="#e8202a"/>
<circle cx="481.29" cy="147.09" r="1.15" fill="#e8202a"/>
<circle cx="476.91" cy="155.77" r="1.15" fill="#e8202a"/>
<circle cx="485.20" cy="160.07" r="1.15" fill="#e8202a"/>
<circle cx="488.55" cy="147.31" r="1.15" fill="#e8202a"/>
<circle cx="476.06" cy="147.60" r="1.15" fill="#e8202a"/>
<circle cx="476.02" cy="155.54" r="1.15" fill="#e8202a"/>
<circle cx="488.64" cy="159.02" r="1.15" fill="#e8202a"/>
<circle cx="477.29" cy="158.40" r="1.15" fill="#e8202a"/>
<circle cx="478.39" cy="150.53" r="1.15" fill="#e8202a"/>
<circle cx="486.20" cy="144.53" r="1.15" fill="#e8202a"/>
<circle cx="474.24" cy="157.84" r="1.15" fill="#e8202a"/>
<circle cx="477.99" cy="149.35" r="1.15" fill="#e8202a"/>
<circle cx="483.41" cy="155.02" r="1.15" fill="#e8202a"/>
<circle cx="472.63" cy="148.96" r="1.15" fill="#e8202a"/>
<circle cx="480.70" cy="151.65" r="1.15" fill="#e8202a"/>
<circle cx="476.45" cy="153.41" r="1.15" fill="#e8202a"/>
<circle cx="490.46" cy="149.96" r="1.15" fill="#e8202a"/>
<circle cx="482.73" cy="145.12" r="1.15" fill="#e8202a"/>
<circle cx="477.67" cy="154.84" r="1.15" fill="#e8202a"/>
<circle cx="474.62" cy="158.79" r="1.15" fill="#e8202a"/>
<circle cx="489.58" cy="144.72" r="1.15" fill="#e8202a"/>
<circle cx="490.20" cy="149.66" r="1.15" fill="#e8202a"/>
<circle cx="487.02" cy="156.48" r="1.15" fill="#e8202a"/>
<circle cx="478.06" cy="155.03" r="1.15" fill="#e8202a"/>
<circle cx="484.80" cy="157.35" r="1.15" fill="#e8202a"/>
<circle cx="477.49" cy="156.42" r="1.15" fill="#e8202a"/>
<circle cx="490.57" cy="154.98" r="1.15" fill="#e8202a"/>
<circle cx="482.58" cy="145.02" r="1.15" fill="#e8202a"/>
<circle cx="481.78" cy="149.27" r="1.15" fill="#e8202a"/>
<circle cx="486.00" cy="155.08" r="1.15" fill="#e8202a"/>
<circle cx="483.15" cy="146.24" r="1.15" fill="#e8202a"/>
<circle cx="484.64" cy="154.23" r="1.15" fill="#e8202a"/>
<circle cx="475.87" cy="158.84" r="1.15" fill="#e8202a"/>
<circle cx="484.82" cy="145.19" r="1.15" fill="#e8202a"/>
<circle cx="490.02" cy="145.52" r="1.15" fill="#e8202a"/>
<circle cx="478.73" cy="155.82" r="1.15" fill="#e8202a"/>
<circle cx="483.73" cy="152.88" r="1.15" fill="#e8202a"/>
<circle cx="484.67" cy="151.15" r="1.15" fill="#e8202a"/>
<circle cx="478.37" cy="146.14" r="1.15" fill="#e8202a"/>
<circle cx="473.79" cy="155.74" r="1.15" fill="#e8202a"/>
<circle cx="486.68" cy="152.67" r="1.15" fill="#e8202a"/>
<circle cx="486.41" cy="149.39" r="1.15" fill="#e8202a"/>
<circle cx="424.25" cy="152.60" r="1.15" fill="#e8202a"/>
<circle cx="433.96" cy="148.51" r="1.15" fill="#e8202a"/>
<circle cx="428.08" cy="150.97" r="1.15" fill="#e8202a"/>
<circle cx="432.30" cy="152.25" r="1.15" fill="#e8202a"/>
<circle cx="425.33" cy="152.84" r="1.15" fill="#e8202a"/>
<circle cx="428.66" cy="157.26" r="1.15" fill="#e8202a"/>
<circle cx="425.65" cy="158.16" r="1.15" fill="#e8202a"/>
<circle cx="421.79" cy="151.25" r="1.15" fill="#e8202a"/>
<circle cx="421.59" cy="149.35" r="1.15" fill="#e8202a"/>
<circle cx="432.46" cy="156.73" r="1.15" fill="#e8202a"/>
<circle cx="422.96" cy="150.27" r="1.15" fill="#e8202a"/>
<circle cx="426.67" cy="156.92" r="1.15" fill="#e8202a"/>
<circle cx="433.05" cy="156.98" r="1.15" fill="#e8202a"/>
<circle cx="429.47" cy="149.76" r="1.15" fill="#e8202a"/>
<circle cx="426.37" cy="150.32" r="1.15" fill="#e8202a"/>
<circle cx="428.44" cy="154.82" r="1.15" fill="#e8202a"/>
<circle cx="423.23" cy="151.00" r="1.15" fill="#e8202a"/>
<circle cx="432.51" cy="148.36" r="1.15" fill="#e8202a"/>
<circle cx="432.85" cy="158.69" r="1.15" fill="#e8202a"/>
<circle cx="435.19" cy="152.60" r="1.15" fill="#e8202a"/>
<path d="M448.4,161.9 L448.4,146.0 L449.4,145.0 L451.0,147.0 L453.0,150.0 L454.5,149.0 L456.0,157.8 L457.5,153.0 L459.0,150.0 L460.1,149.6 L461.5,152.0 L463.7,158.8 L465.5,152.0 L467.0,146.0 L467.8,141.5 L470.0,140.4 L472.9,141.5 L472.9,161.9 L468.0,164.0 L463.0,167.0 L460.1,168.2 L457.0,167.2 L453.0,164.5 L450.0,162.5 Z" fill="#111"/>
<circle cx="458.60" cy="140.20" r="1.25" fill="#111"/>
<circle cx="470.90" cy="129.70" r="1.25" fill="#111"/>
<circle cx="468.80" cy="132.80" r="1.25" fill="#111"/>
<circle cx="469.30" cy="141.00" r="1.25" fill="#111"/>
<circle cx="471.50" cy="131.50" r="1.25" fill="#111"/>
<circle cx="450.00" cy="144.00" r="1.25" fill="#111"/>
<circle cx="451.50" cy="145.50" r="1.25" fill="#111"/>
<circle cx="460.00" cy="148.50" r="1.25" fill="#111"/>
<circle cx="454.00" cy="148.00" r="1.25" fill="#111"/>
<circle cx="474.00" cy="162.00" r="1.25" fill="#111"/>
<circle cx="477.00" cy="161.80" r="1.25" fill="#111"/>
<circle cx="480.00" cy="162.00" r="1.25" fill="#111"/>
<circle cx="483.00" cy="161.80" r="1.25" fill="#111"/>
<circle cx="486.00" cy="162.00" r="1.25" fill="#111"/>
<circle cx="489.00" cy="161.60" r="1.25" fill="#111"/>
<circle cx="492.00" cy="161.80" r="1.25" fill="#111"/>
<circle cx="493.40" cy="161.50" r="1.25" fill="#111"/>
<circle cx="499.80" cy="161.50" r="1.25" fill="#111"/>
<circle cx="446.00" cy="162.50" r="1.25" fill="#111"/>
<circle cx="443.00" cy="162.80" r="1.25" fill="#111"/>
<circle cx="440.00" cy="163.20" r="1.25" fill="#111"/>
<circle cx="438.60" cy="163.50" r="1.25" fill="#111"/>
<circle cx="478.80" cy="88.30" r="1.20" fill="#2b4a9a"/>
<circle cx="474.70" cy="105.60" r="1.20" fill="#2b4a9a"/>
<circle cx="479.10" cy="140.10" r="1.20" fill="#2b4a9a"/>
<circle cx="477.60" cy="154.30" r="1.20" fill="#2b4a9a"/>
<circle cx="495.90" cy="32.80" r="1.20" fill="#2b4a9a"/>
<circle cx="483.70" cy="75.80" r="1.20" fill="#2b4a9a"/>
<circle cx="495.60" cy="110.00" r="1.20" fill="#2b4a9a"/>
<circle cx="484.60" cy="135.70" r="1.20" fill="#2b4a9a"/>
<circle cx="484.60" cy="147.40" r="1.20" fill="#2b4a9a"/>
<circle cx="531.10" cy="151.70" r="1.20" fill="#2b4a9a"/>
<circle cx="486.40" cy="152.50" r="1.20" fill="#2b4a9a"/>
<line x1="437.90" y1="57.50" x2="478.80" y2="88.30" stroke="#111" stroke-width="0.8"/>
<line x1="437.40" y1="85.70" x2="474.70" y2="105.60" stroke="#111" stroke-width="0.8"/>
<line x1="418.50" y1="108.60" x2="479.10" y2="140.10" stroke="#111" stroke-width="0.8"/>
<line x1="431.50" y1="136.90" x2="477.60" y2="154.30" stroke="#111" stroke-width="0.8"/>
<line x1="438.60" y1="166.70" x2="448.30" y2="164.40" stroke="#111" stroke-width="0.8"/>
<line x1="495.90" y1="32.80" x2="513.10" y2="36.70" stroke="#111" stroke-width="0.8"/>
<line x1="508.40" y1="64.40" x2="483.70" y2="75.80" stroke="#111" stroke-width="0.8"/>
<line x1="519.40" y1="88.60" x2="495.60" y2="110.00" stroke="#111" stroke-width="0.8"/>
<line x1="503.40" y1="118.10" x2="484.60" y2="135.70" stroke="#111" stroke-width="0.8"/>
<line x1="533.40" y1="125.90" x2="484.60" y2="147.40" stroke="#111" stroke-width="0.8"/>
<line x1="553.30" y1="149.40" x2="531.10" y2="151.70" stroke="#111" stroke-width="0.8"/>
<line x1="528.70" y1="166.90" x2="486.40" y2="152.50" stroke="#111" stroke-width="0.8"/>
<rect x="391.60" y="22.40" width="197.20" height="152.10" fill="none" stroke="#8a8a8a" stroke-width="0.8"/>
<text x="397.70" y="33.60" font-size="10.0" font-style="italic" textLength="22.2" lengthAdjust="spacingAndGlyphs">Ikzf3</text>
<text x="420.60" y="29.30" font-size="7.0" font-style="italic" textLength="9.5" lengthAdjust="spacingAndGlyphs">+/+</text>
<text x="552.00" y="33.60" font-size="10.0" font-style="italic" textLength="20.5" lengthAdjust="spacingAndGlyphs">Ikzf3</text>
<text x="573.20" y="29.30" font-size="7.0" font-style="italic" textLength="11.0" lengthAdjust="spacingAndGlyphs">−/−</text>
<text x="417.00" y="53.70" font-size="10.2" font-style="italic" textLength="26.8" lengthAdjust="spacingAndGlyphs">Gzmk</text>
<text x="420.80" y="82.30" font-size="10.2" font-style="italic" textLength="21.5" lengthAdjust="spacingAndGlyphs">Ccl4</text>
<text x="405.90" y="104.40" font-size="10.2" font-style="italic" textLength="22.6" lengthAdjust="spacingAndGlyphs">Klrk1</text>
<text x="411.80" y="133.20" font-size="10.2" font-style="italic" textLength="22.4" lengthAdjust="spacingAndGlyphs">Klrc1</text>
<text x="411.10" y="170.40" font-size="10.2" font-style="italic" textLength="24.5" lengthAdjust="spacingAndGlyphs">Klra3</text>
<text x="516.20" y="43.00" font-size="10.2" font-style="italic" textLength="28.9" lengthAdjust="spacingAndGlyphs">Klrb1c</text>
<text x="503.70" y="61.00" font-size="10.2" font-style="italic" textLength="27.4" lengthAdjust="spacingAndGlyphs">Gzmc</text>
<text x="513.90" y="84.90" font-size="10.2" font-style="italic" textLength="30.1" lengthAdjust="spacingAndGlyphs">Klrb1b</text>
<text x="502.20" y="115.50" font-size="10.2" font-style="italic" textLength="21.8" lengthAdjust="spacingAndGlyphs">Klra1</text>
<text x="530.30" y="121.20" font-size="10.2" font-style="italic" textLength="24.7" lengthAdjust="spacingAndGlyphs">Klra9</text>
<text x="555.60" y="153.30" font-size="10.2" font-style="italic" textLength="25" lengthAdjust="spacingAndGlyphs">Gzmf</text>
<text x="532.60" y="170.40" font-size="10.2" font-style="italic" textLength="43.8" lengthAdjust="spacingAndGlyphs">Klra13-ps</text>
<text x="1.80" y="13.00" font-size="15.5" font-weight="bold" fill="#000">a</text>
<defs><filter id="bl" x="-50%" y="-50%" width="200%" height="200%"><feGaussianBlur stdDeviation="1.1"/></filter><filter id="bl2" x="-50%" y="-50%" width="200%" height="200%"><feGaussianBlur stdDeviation="0.45"/></filter></defs>
<text x="1.80" y="229.00" font-size="15.5" font-weight="bold" fill="#000">b</text>
<text x="97.20" y="232.50" font-size="10.2" text-anchor="middle" textLength="28.3" lengthAdjust="spacingAndGlyphs">γδ IEL</text>
<text x="151.80" y="232.50" font-size="10.2" text-anchor="middle" textLength="31.0" lengthAdjust="spacingAndGlyphs">DN IEL</text>
<text x="2.20" y="280.70" font-size="10.4" font-style="italic" textLength="22.0" lengthAdjust="spacingAndGlyphs">Ikzf3</text>
<text x="24.90" y="276.30" font-size="7.0" font-style="italic" textLength="9.9" lengthAdjust="spacingAndGlyphs">+/+</text>
<text x="2.20" y="331.80" font-size="10.4" font-style="italic" textLength="22.0" lengthAdjust="spacingAndGlyphs">Ikzf3</text>
<text x="24.90" y="327.40" font-size="7.0" font-style="italic" textLength="9.9" lengthAdjust="spacingAndGlyphs">−/−</text>
<rect x="71.70" y="239.60" width="50.90" height="51.00" fill="none" stroke="#999999" stroke-width="0.8"/>
<line x1="77.36" y1="290.00" x2="77.36" y2="291.50" stroke="#555" stroke-width="0.5"/>
<line x1="83.01" y1="290.00" x2="83.01" y2="291.50" stroke="#555" stroke-width="0.5"/>
<line x1="88.67" y1="290.00" x2="88.67" y2="291.50" stroke="#555" stroke-width="0.5"/>
<line x1="94.32" y1="290.00" x2="94.32" y2="291.50" stroke="#555" stroke-width="0.5"/>
<line x1="99.98" y1="290.00" x2="99.98" y2="291.50" stroke="#555" stroke-width="0.5"/>
<line x1="105.63" y1="290.00" x2="105.63" y2="291.50" stroke="#555" stroke-width="0.5"/>
<line x1="111.29" y1="290.00" x2="111.29" y2="291.50" stroke="#555" stroke-width="0.5"/>
<line x1="116.94" y1="290.00" x2="116.94" y2="291.50" stroke="#555" stroke-width="0.5"/>
<line x1="70.80" y1="246.89" x2="72.30" y2="246.89" stroke="#555" stroke-width="0.5"/>
<line x1="70.80" y1="254.17" x2="72.30" y2="254.17" stroke="#555" stroke-width="0.5"/>
<line x1="70.80" y1="261.46" x2="72.30" y2="261.46" stroke="#555" stroke-width="0.5"/>
<line x1="70.80" y1="268.74" x2="72.30" y2="268.74" stroke="#555" stroke-width="0.5"/>
<line x1="70.80" y1="276.03" x2="72.30" y2="276.03" stroke="#555" stroke-width="0.5"/>
<line x1="70.80" y1="283.31" x2="72.30" y2="283.31" stroke="#555" stroke-width="0.5"/>
<rect x="71.70" y="294.30" width="50.90" height="51.30" fill="none" stroke="#999999" stroke-width="0.8"/>
<line x1="77.36" y1="345.00" x2="77.36" y2="346.50" stroke="#555" stroke-width="0.5"/>
<line x1="83.01" y1="345.00" x2="83.01" y2="346.50" stroke="#555" stroke-width="0.5"/>
<line x1="88.67" y1="345.00" x2="88.67" y2="346.50" stroke="#555" stroke-width="0.5"/>
<line x1="94.32" y1="345.00" x2="94.32" y2="346.50" stroke="#555" stroke-width="0.5"/>
<line x1="99.98" y1="345.00" x2="99.98" y2="346.50" stroke="#555" stroke-width="0.5"/>
<line x1="105.63" y1="345.00" x2="105.63" y2="346.50" stroke="#555" stroke-width="0.5"/>
<line x1="111.29" y1="345.00" x2="111.29" y2="346.50" stroke="#555" stroke-width="0.5"/>
<line x1="116.94" y1="345.00" x2="116.94" y2="346.50" stroke="#555" stroke-width="0.5"/>
<line x1="70.80" y1="301.63" x2="72.30" y2="301.63" stroke="#555" stroke-width="0.5"/>
<line x1="70.80" y1="308.96" x2="72.30" y2="308.96" stroke="#555" stroke-width="0.5"/>
<line x1="70.80" y1="316.29" x2="72.30" y2="316.29" stroke="#555" stroke-width="0.5"/>
<line x1="70.80" y1="323.61" x2="72.30" y2="323.61" stroke="#555" stroke-width="0.5"/>
<line x1="70.80" y1="330.94" x2="72.30" y2="330.94" stroke="#555" stroke-width="0.5"/>
<line x1="70.80" y1="338.27" x2="72.30" y2="338.27" stroke="#555" stroke-width="0.5"/>
<rect x="126.30" y="239.60" width="50.80" height="51.00" fill="none" stroke="#999999" stroke-width="0.8"/>
<line x1="131.94" y1="290.00" x2="131.94" y2="291.50" stroke="#555" stroke-width="0.5"/>
<line x1="137.59" y1="290.00" x2="137.59" y2="291.50" stroke="#555" stroke-width="0.5"/>
<line x1="143.23" y1="290.00" x2="143.23" y2="291.50" stroke="#555" stroke-width="0.5"/>
<line x1="148.88" y1="290.00" x2="148.88" y2="291.50" stroke="#555" stroke-width="0.5"/>
<line x1="154.52" y1="290.00" x2="154.52" y2="291.50" stroke="#555" stroke-width="0.5"/>
<line x1="160.17" y1="290.00" x2="160.17" y2="291.50" stroke="#555" stroke-width="0.5"/>
<line x1="165.81" y1="290.00" x2="165.81" y2="291.50" stroke="#555" stroke-width="0.5"/>
<line x1="171.46" y1="290.00" x2="171.46" y2="291.50" stroke="#555" stroke-width="0.5"/>
<line x1="125.40" y1="246.89" x2="126.90" y2="246.89" stroke="#555" stroke-width="0.5"/>
<line x1="125.40" y1="254.17" x2="126.90" y2="254.17" stroke="#555" stroke-width="0.5"/>
<line x1="125.40" y1="261.46" x2="126.90" y2="261.46" stroke="#555" stroke-width="0.5"/>
<line x1="125.40" y1="268.74" x2="126.90" y2="268.74" stroke="#555" stroke-width="0.5"/>
<line x1="125.40" y1="276.03" x2="126.90" y2="276.03" stroke="#555" stroke-width="0.5"/>
<line x1="125.40" y1="283.31" x2="126.90" y2="283.31" stroke="#555" stroke-width="0.5"/>
<rect x="126.30" y="294.30" width="50.80" height="51.30" fill="none" stroke="#999999" stroke-width="0.8"/>
<line x1="131.94" y1="345.00" x2="131.94" y2="346.50" stroke="#555" stroke-width="0.5"/>
<line x1="137.59" y1="345.00" x2="137.59" y2="346.50" stroke="#555" stroke-width="0.5"/>
<line x1="143.23" y1="345.00" x2="143.23" y2="346.50" stroke="#555" stroke-width="0.5"/>
<line x1="148.88" y1="345.00" x2="148.88" y2="346.50" stroke="#555" stroke-width="0.5"/>
<line x1="154.52" y1="345.00" x2="154.52" y2="346.50" stroke="#555" stroke-width="0.5"/>
<line x1="160.17" y1="345.00" x2="160.17" y2="346.50" stroke="#555" stroke-width="0.5"/>
<line x1="165.81" y1="345.00" x2="165.81" y2="346.50" stroke="#555" stroke-width="0.5"/>
<line x1="171.46" y1="345.00" x2="171.46" y2="346.50" stroke="#555" stroke-width="0.5"/>
<line x1="125.40" y1="301.63" x2="126.90" y2="301.63" stroke="#555" stroke-width="0.5"/>
<line x1="125.40" y1="308.96" x2="126.90" y2="308.96" stroke="#555" stroke-width="0.5"/>
<line x1="125.40" y1="316.29" x2="126.90" y2="316.29" stroke="#555" stroke-width="0.5"/>
<line x1="125.40" y1="323.61" x2="126.90" y2="323.61" stroke="#555" stroke-width="0.5"/>
<line x1="125.40" y1="330.94" x2="126.90" y2="330.94" stroke="#555" stroke-width="0.5"/>
<line x1="125.40" y1="338.27" x2="126.90" y2="338.27" stroke="#555" stroke-width="0.5"/>
<path d="M72.2,246.6 L90.5,247.6 L81.8,261.8 Z" fill="#000" opacity="0.25" filter="url(#bl)"/>
<circle cx="88.44" cy="258.80" r="0.4" fill="#777" opacity="0.5"/>
<circle cx="82.33" cy="249.94" r="0.4" fill="#777" opacity="0.5"/>
<circle cx="76.54" cy="253.13" r="0.4" fill="#777" opacity="0.5"/>
<circle cx="76.89" cy="247.25" r="0.4" fill="#777" opacity="0.5"/>
<circle cx="83.00" cy="253.53" r="0.4" fill="#777" opacity="0.5"/>
<circle cx="84.73" cy="249.34" r="0.4" fill="#777" opacity="0.5"/>
<circle cx="82.03" cy="252.74" r="0.4" fill="#777" opacity="0.5"/>
<circle cx="74.47" cy="255.15" r="0.4" fill="#777" opacity="0.5"/>
<circle cx="83.60" cy="262.56" r="0.4" fill="#777" opacity="0.5"/>
<circle cx="83.01" cy="252.42" r="0.4" fill="#777" opacity="0.5"/>
<circle cx="88.16" cy="253.80" r="0.4" fill="#777" opacity="0.5"/>
<circle cx="86.55" cy="251.54" r="0.4" fill="#777" opacity="0.5"/>
<circle cx="83.09" cy="257.10" r="0.4" fill="#777" opacity="0.5"/>
<circle cx="85.48" cy="253.51" r="0.4" fill="#777" opacity="0.5"/>
<circle cx="76.59" cy="254.78" r="0.4" fill="#777" opacity="0.5"/>
<circle cx="82.38" cy="255.88" r="0.4" fill="#777" opacity="0.5"/>
<circle cx="83.08" cy="257.35" r="0.4" fill="#777" opacity="0.5"/>
<circle cx="81.74" cy="253.81" r="0.4" fill="#777" opacity="0.5"/>
<circle cx="85.33" cy="248.65" r="0.4" fill="#777" opacity="0.5"/>
<circle cx="79.99" cy="251.00" r="0.4" fill="#777" opacity="0.5"/>
<circle cx="91.90" cy="252.63" r="0.4" fill="#777" opacity="0.5"/>
<circle cx="85.26" cy="255.48" r="0.4" fill="#777" opacity="0.5"/>
<circle cx="80.60" cy="246.80" r="0.4" fill="#777" opacity="0.5"/>
<circle cx="86.82" cy="251.37" r="0.4" fill="#777" opacity="0.5"/>
<circle cx="85.59" cy="247.78" r="0.4" fill="#777" opacity="0.5"/>
<circle cx="79.81" cy="258.03" r="0.4" fill="#777" opacity="0.5"/>
<circle cx="89.16" cy="247.79" r="0.4" fill="#777" opacity="0.5"/>
<circle cx="75.34" cy="252.82" r="0.4" fill="#777" opacity="0.5"/>
<circle cx="85.64" cy="253.64" r="0.4" fill="#777" opacity="0.5"/>
<circle cx="83.52" cy="249.04" r="0.4" fill="#777" opacity="0.5"/>
<circle cx="84.93" cy="257.47" r="0.4" fill="#777" opacity="0.5"/>
<circle cx="79.82" cy="247.27" r="0.4" fill="#777" opacity="0.5"/>
<circle cx="78.21" cy="256.05" r="0.4" fill="#777" opacity="0.5"/>
<circle cx="73.33" cy="252.63" r="0.4" fill="#777" opacity="0.5"/>
<circle cx="77.04" cy="252.48" r="0.4" fill="#777" opacity="0.5"/>
<circle cx="80.78" cy="253.06" r="0.4" fill="#777" opacity="0.5"/>
<circle cx="89.51" cy="254.68" r="0.4" fill="#777" opacity="0.5"/>
<circle cx="88.67" cy="252.43" r="0.4" fill="#777" opacity="0.5"/>
<circle cx="79.60" cy="254.52" r="0.4" fill="#777" opacity="0.5"/>
<circle cx="67.82" cy="252.84" r="0.4" fill="#777" opacity="0.5"/>
<path d="M72.3,247.2 Q80,246.2 89.8,248.2 Q85.8,254.6 81.7,261.2 Q77,254 72.3,251.6 Z" fill="none" stroke="#000" stroke-width="0.6"/>
<path d="M72.6,248.0 Q80,247.2 88.3,249.0 Q84.6,254.2 81.6,259.6 Q77.4,253.4 72.6,251.0 Z" fill="#000"/>
<ellipse cx="81.0" cy="252.1" rx="1.0" ry="0.8" fill="#fff" filter="url(#bl2)"/>
<ellipse cx="74.0" cy="249.6" rx="0.8" ry="0.6" fill="#fff" filter="url(#bl2)"/>
<ellipse cx="136.30" cy="254.80" rx="6.00" ry="5.98" fill="#000" opacity="0.16" filter="url(#bl)"/>
<circle cx="144.48" cy="252.36" r="0.4" fill="#777" opacity="0.5"/>
<circle cx="137.68" cy="255.34" r="0.4" fill="#777" opacity="0.5"/>
<circle cx="139.22" cy="249.64" r="0.4" fill="#777" opacity="0.5"/>
<circle cx="134.85" cy="252.03" r="0.4" fill="#777" opacity="0.5"/>
<circle cx="132.54" cy="251.69" r="0.4" fill="#777" opacity="0.5"/>
<circle cx="134.51" cy="253.74" r="0.4" fill="#777" opacity="0.5"/>
<circle cx="133.13" cy="256.35" r="0.4" fill="#777" opacity="0.5"/>
<circle cx="134.38" cy="243.03" r="0.4" fill="#777" opacity="0.5"/>
<circle cx="140.47" cy="253.36" r="0.4" fill="#777" opacity="0.5"/>
<circle cx="133.70" cy="255.79" r="0.4" fill="#777" opacity="0.5"/>
<circle cx="137.10" cy="254.99" r="0.4" fill="#777" opacity="0.5"/>
<circle cx="133.31" cy="255.51" r="0.4" fill="#777" opacity="0.5"/>
<circle cx="130.92" cy="260.11" r="0.4" fill="#777" opacity="0.5"/>
<circle cx="131.87" cy="254.04" r="0.4" fill="#777" opacity="0.5"/>
<circle cx="136.37" cy="255.61" r="0.4" fill="#777" opacity="0.5"/>
<circle cx="135.44" cy="256.58" r="0.4" fill="#777" opacity="0.5"/>
<circle cx="123.58" cy="253.94" r="0.4" fill="#777" opacity="0.5"/>
<circle cx="135.29" cy="252.73" r="0.4" fill="#777" opacity="0.5"/>
<circle cx="141.20" cy="250.73" r="0.4" fill="#777" opacity="0.5"/>
<circle cx="135.55" cy="246.83" r="0.4" fill="#777" opacity="0.5"/>
<circle cx="136.80" cy="248.32" r="0.4" fill="#777" opacity="0.5"/>
<circle cx="130.32" cy="263.03" r="0.4" fill="#777" opacity="0.5"/>
<circle cx="138.32" cy="254.28" r="0.4" fill="#777" opacity="0.5"/>
<circle cx="136.44" cy="248.97" r="0.4" fill="#777" opacity="0.5"/>
<circle cx="132.12" cy="255.89" r="0.4" fill="#777" opacity="0.5"/>
<circle cx="128.35" cy="255.32" r="0.4" fill="#777" opacity="0.5"/>
<circle cx="129.69" cy="254.76" r="0.4" fill="#777" opacity="0.5"/>
<circle cx="131.90" cy="260.85" r="0.4" fill="#777" opacity="0.5"/>
<ellipse cx="136.30" cy="254.80" rx="5.00" ry="4.60" fill="none" stroke="#000" stroke-width="0.55"/>
<ellipse cx="136.30" cy="254.80" rx="4.60" ry="4.25" fill="none" stroke="#000" stroke-width="0.55"/>
<ellipse cx="136.30" cy="254.80" rx="4.20" ry="3.90" fill="#000"/>
<ellipse cx="136.50" cy="254.50" rx="0.9" ry="0.6" fill="#fff" filter="url(#bl2)"/>
<ellipse cx="84.5" cy="307" rx="13.5" ry="6.2" fill="#000" opacity="0.16" filter="url(#bl)"/>
<circle cx="85.57" cy="313.13" r="0.4" fill="#777" opacity="0.5"/>
<circle cx="79.41" cy="311.97" r="0.4" fill="#777" opacity="0.5"/>
<circle cx="83.45" cy="306.32" r="0.4" fill="#777" opacity="0.5"/>
<circle cx="96.40" cy="308.21" r="0.4" fill="#777" opacity="0.5"/>
<circle cx="84.74" cy="310.78" r="0.4" fill="#777" opacity="0.5"/>
<circle cx="91.76" cy="307.36" r="0.4" fill="#777" opacity="0.5"/>
<circle cx="88.53" cy="303.12" r="0.4" fill="#777" opacity="0.5"/>
<circle cx="82.80" cy="305.53" r="0.4" fill="#777" opacity="0.5"/>
<circle cx="77.01" cy="300.71" r="0.4" fill="#777" opacity="0.5"/>
<circle cx="75.24" cy="306.43" r="0.4" fill="#777" opacity="0.5"/>
<circle cx="83.97" cy="306.06" r="0.4" fill="#777" opacity="0.5"/>
<circle cx="85.41" cy="301.49" r="0.4" fill="#777" opacity="0.5"/>
<circle cx="84.52" cy="308.57" r="0.4" fill="#777" opacity="0.5"/>
<circle cx="89.51" cy="303.69" r="0.4" fill="#777" opacity="0.5"/>
<circle cx="82.60" cy="298.43" r="0.4" fill="#777" opacity="0.5"/>
<circle cx="81.98" cy="297.61" r="0.4" fill="#777" opacity="0.5"/>
<circle cx="76.48" cy="312.46" r="0.4" fill="#777" opacity="0.5"/>
<circle cx="71.79" cy="311.09" r="0.4" fill="#777" opacity="0.5"/>
<circle cx="86.97" cy="306.09" r="0.4" fill="#777" opacity="0.5"/>
<circle cx="87.76" cy="309.87" r="0.4" fill="#777" opacity="0.5"/>
<circle cx="91.27" cy="306.46" r="0.4" fill="#777" opacity="0.5"/>
<circle cx="81.45" cy="304.78" r="0.4" fill="#777" opacity="0.5"/>
<circle cx="79.08" cy="307.30" r="0.4" fill="#777" opacity="0.5"/>
<circle cx="80.29" cy="312.31" r="0.4" fill="#777" opacity="0.5"/>
<circle cx="73.78" cy="302.58" r="0.4" fill="#777" opacity="0.5"/>
<circle cx="79.28" cy="298.08" r="0.4" fill="#777" opacity="0.5"/>
<circle cx="96.41" cy="296.66" r="0.4" fill="#777" opacity="0.5"/>
<circle cx="83.30" cy="305.14" r="0.4" fill="#777" opacity="0.5"/>
<circle cx="94.94" cy="298.57" r="0.4" fill="#777" opacity="0.5"/>
<circle cx="91.43" cy="304.21" r="0.4" fill="#777" opacity="0.5"/>
<circle cx="84.07" cy="304.48" r="0.4" fill="#777" opacity="0.5"/>
<circle cx="88.84" cy="302.38" r="0.4" fill="#777" opacity="0.5"/>
<circle cx="84.53" cy="309.09" r="0.4" fill="#777" opacity="0.5"/>
<circle cx="96.04" cy="296.68" r="0.4" fill="#777" opacity="0.5"/>
<circle cx="94.15" cy="311.77" r="0.4" fill="#777" opacity="0.5"/>
<circle cx="82.10" cy="308.87" r="0.4" fill="#777" opacity="0.5"/>
<circle cx="82.20" cy="314.91" r="0.4" fill="#777" opacity="0.5"/>
<circle cx="86.26" cy="306.53" r="0.4" fill="#777" opacity="0.5"/>
<circle cx="83.63" cy="306.60" r="0.4" fill="#777" opacity="0.5"/>
<circle cx="83.94" cy="303.54" r="0.4" fill="#777" opacity="0.5"/>
<circle cx="97.35" cy="298.90" r="0.4" fill="#777" opacity="0.5"/>
<circle cx="63.37" cy="306.95" r="0.4" fill="#777" opacity="0.5"/>
<circle cx="84.12" cy="309.18" r="0.4" fill="#777" opacity="0.5"/>
<circle cx="83.77" cy="306.83" r="0.4" fill="#777" opacity="0.5"/>
<circle cx="86.99" cy="311.86" r="0.4" fill="#777" opacity="0.5"/>
<circle cx="82.31" cy="305.82" r="0.4" fill="#777" opacity="0.5"/>
<circle cx="96.64" cy="309.89" r="0.4" fill="#777" opacity="0.5"/>
<circle cx="79.09" cy="317.96" r="0.4" fill="#777" opacity="0.5"/>
<circle cx="89.66" cy="304.85" r="0.4" fill="#777" opacity="0.5"/>
<circle cx="77.95" cy="308.84" r="0.4" fill="#777" opacity="0.5"/>
<circle cx="80.01" cy="302.74" r="0.4" fill="#777" opacity="0.5"/>
<circle cx="77.22" cy="305.22" r="0.4" fill="#777" opacity="0.5"/>
<circle cx="91.65" cy="305.55" r="0.4" fill="#777" opacity="0.5"/>
<circle cx="76.30" cy="310.51" r="0.4" fill="#777" opacity="0.5"/>
<circle cx="85.39" cy="311.30" r="0.4" fill="#777" opacity="0.5"/>
<circle cx="92.21" cy="306.74" r="0.4" fill="#777" opacity="0.5"/>
<circle cx="84.13" cy="307.30" r="0.4" fill="#777" opacity="0.5"/>
<circle cx="78.19" cy="310.51" r="0.4" fill="#777" opacity="0.5"/>
<circle cx="93.23" cy="308.28" r="0.4" fill="#777" opacity="0.5"/>
<circle cx="83.58" cy="306.33" r="0.4" fill="#777" opacity="0.5"/>
<circle cx="80.32" cy="303.88" r="0.4" fill="#777" opacity="0.5"/>
<circle cx="82.59" cy="303.71" r="0.4" fill="#777" opacity="0.5"/>
<circle cx="82.38" cy="300.40" r="0.4" fill="#777" opacity="0.5"/>
<circle cx="87.10" cy="307.72" r="0.4" fill="#777" opacity="0.5"/>
<circle cx="78.08" cy="297.16" r="0.4" fill="#777" opacity="0.5"/>
<circle cx="84.95" cy="312.47" r="0.4" fill="#777" opacity="0.5"/>
<circle cx="80.60" cy="305.33" r="0.4" fill="#777" opacity="0.5"/>
<circle cx="81.59" cy="310.44" r="0.4" fill="#777" opacity="0.5"/>
<circle cx="79.50" cy="311.94" r="0.4" fill="#777" opacity="0.5"/>
<circle cx="83.18" cy="311.66" r="0.4" fill="#777" opacity="0.5"/>
<circle cx="85.20" cy="306.46" r="0.4" fill="#777" opacity="0.5"/>
<circle cx="76.13" cy="304.41" r="0.4" fill="#777" opacity="0.5"/>
<circle cx="83.43" cy="310.47" r="0.4" fill="#777" opacity="0.5"/>
<circle cx="86.47" cy="304.36" r="0.4" fill="#777" opacity="0.5"/>
<circle cx="87.46" cy="311.94" r="0.4" fill="#777" opacity="0.5"/>
<circle cx="84.11" cy="305.52" r="0.4" fill="#777" opacity="0.5"/>
<circle cx="82.64" cy="311.15" r="0.4" fill="#777" opacity="0.5"/>
<circle cx="88.23" cy="303.32" r="0.4" fill="#777" opacity="0.5"/>
<circle cx="87.25" cy="305.34" r="0.4" fill="#777" opacity="0.5"/>
<circle cx="80.49" cy="313.08" r="0.4" fill="#777" opacity="0.5"/>
<ellipse cx="85.6" cy="305.4" rx="12.0" ry="3.8" fill="#222" opacity="0.45"/>
<ellipse cx="85.6" cy="305.4" rx="12.4" ry="4.0" fill="none" stroke="#000" stroke-width="0.55"/>
<ellipse cx="85.6" cy="305.4" rx="11.3" ry="3.3" fill="none" stroke="#000" stroke-width="0.55"/>
<ellipse cx="85.6" cy="305.4" rx="10.2" ry="2.6" fill="none" stroke="#000" stroke-width="0.55"/>
<ellipse cx="85.6" cy="305.4" rx="9.0" ry="1.9" fill="none" stroke="#000" stroke-width="0.55"/>
<path d="M74.0,304.5 Q74.5,314.5 80.5,314.6 Q86.5,314.5 86.8,304.8 Z" fill="#000"/>
<ellipse cx="80.4" cy="303.8" rx="6.4" ry="2.4" fill="#000"/>
<path d="M79.0,306.6 L84.0,306.8 L81.0,312.0 Z" fill="#fff" filter="url(#bl2)"/>
<ellipse cx="136.00" cy="309.20" rx="7.20" ry="5.46" fill="#000" opacity="0.16" filter="url(#bl)"/>
<circle cx="136.17" cy="310.76" r="0.4" fill="#777" opacity="0.5"/>
<circle cx="134.06" cy="310.38" r="0.4" fill="#777" opacity="0.5"/>
<circle cx="139.89" cy="310.58" r="0.4" fill="#777" opacity="0.5"/>
<circle cx="142.56" cy="306.23" r="0.4" fill="#777" opacity="0.5"/>
<circle cx="136.28" cy="306.83" r="0.4" fill="#777" opacity="0.5"/>
<circle cx="132.71" cy="308.58" r="0.4" fill="#777" opacity="0.5"/>
<circle cx="136.93" cy="310.61" r="0.4" fill="#777" opacity="0.5"/>
<circle cx="138.13" cy="316.71" r="0.4" fill="#777" opacity="0.5"/>
<circle cx="139.62" cy="303.84" r="0.4" fill="#777" opacity="0.5"/>
<circle cx="136.86" cy="307.11" r="0.4" fill="#777" opacity="0.5"/>
<circle cx="133.83" cy="313.59" r="0.4" fill="#777" opacity="0.5"/>
<circle cx="135.06" cy="302.64" r="0.4" fill="#777" opacity="0.5"/>
<circle cx="137.30" cy="308.22" r="0.4" fill="#777" opacity="0.5"/>
<circle cx="131.07" cy="306.11" r="0.4" fill="#777" opacity="0.5"/>
<circle cx="133.37" cy="309.12" r="0.4" fill="#777" opacity="0.5"/>
<circle cx="134.21" cy="309.44" r="0.4" fill="#777" opacity="0.5"/>
<circle cx="143.71" cy="306.51" r="0.4" fill="#777" opacity="0.5"/>
<circle cx="132.61" cy="308.36" r="0.4" fill="#777" opacity="0.5"/>
<circle cx="140.60" cy="306.83" r="0.4" fill="#777" opacity="0.5"/>
<circle cx="142.02" cy="304.80" r="0.4" fill="#777" opacity="0.5"/>
<circle cx="131.66" cy="309.02" r="0.4" fill="#777" opacity="0.5"/>
<circle cx="132.37" cy="307.12" r="0.4" fill="#777" opacity="0.5"/>
<circle cx="137.90" cy="311.63" r="0.4" fill="#777" opacity="0.5"/>
<circle cx="136.48" cy="308.28" r="0.4" fill="#777" opacity="0.5"/>
<circle cx="141.65" cy="310.55" r="0.4" fill="#777" opacity="0.5"/>
<circle cx="135.01" cy="313.28" r="0.4" fill="#777" opacity="0.5"/>
<circle cx="132.21" cy="309.75" r="0.4" fill="#777" opacity="0.5"/>
<circle cx="138.77" cy="309.16" r="0.4" fill="#777" opacity="0.5"/>
<circle cx="133.59" cy="310.38" r="0.4" fill="#777" opacity="0.5"/>
<circle cx="133.73" cy="307.20" r="0.4" fill="#777" opacity="0.5"/>
<circle cx="153.25" cy="308.24" r="0.4" fill="#666" opacity="0.45"/>
<circle cx="146.22" cy="307.93" r="0.4" fill="#666" opacity="0.45"/>
<circle cx="143.86" cy="311.07" r="0.4" fill="#666" opacity="0.45"/>
<circle cx="146.72" cy="308.74" r="0.4" fill="#666" opacity="0.45"/>
<circle cx="150.15" cy="311.76" r="0.4" fill="#666" opacity="0.45"/>
<circle cx="150.20" cy="310.48" r="0.4" fill="#666" opacity="0.45"/>
<circle cx="144.12" cy="310.89" r="0.4" fill="#666" opacity="0.45"/>
<circle cx="149.44" cy="307.49" r="0.4" fill="#666" opacity="0.45"/>
<circle cx="144.15" cy="309.84" r="0.4" fill="#666" opacity="0.45"/>
<circle cx="143.00" cy="307.54" r="0.4" fill="#666" opacity="0.45"/>
<circle cx="143.25" cy="309.90" r="0.4" fill="#666" opacity="0.45"/>
<circle cx="143.91" cy="308.74" r="0.4" fill="#666" opacity="0.45"/>
<circle cx="148.41" cy="310.76" r="0.4" fill="#666" opacity="0.45"/>
<circle cx="150.25" cy="310.19" r="0.4" fill="#666" opacity="0.45"/>
<circle cx="148.56" cy="306.33" r="0.4" fill="#666" opacity="0.45"/>
<circle cx="146.45" cy="310.55" r="0.4" fill="#666" opacity="0.45"/>
<circle cx="149.33" cy="308.36" r="0.4" fill="#666" opacity="0.45"/>
<circle cx="148.79" cy="308.95" r="0.4" fill="#666" opacity="0.45"/>
<circle cx="147.04" cy="308.63" r="0.4" fill="#666" opacity="0.45"/>
<circle cx="143.42" cy="306.64" r="0.4" fill="#666" opacity="0.45"/>
<circle cx="141.85" cy="308.37" r="0.4" fill="#666" opacity="0.45"/>
<circle cx="156.36" cy="306.41" r="0.4" fill="#666" opacity="0.45"/>
<circle cx="148.30" cy="310.65" r="0.4" fill="#666" opacity="0.45"/>
<circle cx="149.75" cy="309.36" r="0.4" fill="#666" opacity="0.45"/>
<circle cx="147.74" cy="309.70" r="0.4" fill="#666" opacity="0.45"/>
<circle cx="145.48" cy="308.55" r="0.4" fill="#666" opacity="0.45"/>
<circle cx="146.77" cy="309.17" r="0.4" fill="#666" opacity="0.45"/>
<circle cx="147.50" cy="307.97" r="0.4" fill="#666" opacity="0.45"/>
<circle cx="150.80" cy="309.92" r="0.4" fill="#666" opacity="0.45"/>
<circle cx="145.52" cy="306.93" r="0.4" fill="#666" opacity="0.45"/>
<circle cx="142.44" cy="308.46" r="0.4" fill="#666" opacity="0.45"/>
<circle cx="145.94" cy="307.73" r="0.4" fill="#666" opacity="0.45"/>
<circle cx="149.41" cy="307.07" r="0.4" fill="#666" opacity="0.45"/>
<ellipse cx="136.00" cy="309.20" rx="6.00" ry="4.20" fill="none" stroke="#000" stroke-width="0.55"/>
<ellipse cx="136.00" cy="309.20" rx="5.47" ry="3.87" fill="none" stroke="#000" stroke-width="0.55"/>
<ellipse cx="136.00" cy="309.20" rx="4.93" ry="3.53" fill="none" stroke="#000" stroke-width="0.55"/>
<ellipse cx="136.00" cy="309.20" rx="4.40" ry="3.20" fill="#000"/>
<ellipse cx="136.00" cy="309.20" rx="0.9" ry="0.6" fill="#fff" filter="url(#bl2)"/>
<ellipse cx="146.8" cy="309.7" rx="2.2" ry="2.6" fill="none" stroke="#000" stroke-width="0.6"/>
<ellipse cx="146.8" cy="309.7" rx="1.3" ry="1.6" fill="none" stroke="#000" stroke-width="0.5"/>
<line x1="141.00" y1="307.50" x2="145.00" y2="307.80" stroke="#000" stroke-width="0.6"/>
<line x1="141.00" y1="311.50" x2="145.00" y2="311.60" stroke="#000" stroke-width="0.6"/>
<path d="M134,313.2 Q136.3,319.8 138.6,313.2" fill="none" stroke="#000" stroke-width="0.6"/>
<rect x="87.70" y="241.40" width="30.20" height="25.80" fill="none" stroke="#666666" stroke-width="0.85"/>
<rect x="142.20" y="241.40" width="30.20" height="25.50" fill="none" stroke="#666666" stroke-width="0.85"/>
<rect x="87.70" y="296.30" width="30.20" height="25.70" fill="none" stroke="#666666" stroke-width="0.85"/>
<rect x="141.40" y="296.30" width="30.20" height="25.70" fill="none" stroke="#666666" stroke-width="0.85"/>
<text x="102.30" y="263.50" font-size="10.4" text-anchor="middle" textLength="15.4" lengthAdjust="spacingAndGlyphs">4.8</text>
<text x="156.50" y="264.00" font-size="10.4" text-anchor="middle" textLength="15.4" lengthAdjust="spacingAndGlyphs">3.6</text>
<text x="101.60" y="318.90" font-size="10.4" text-anchor="middle" textLength="21.0" lengthAdjust="spacingAndGlyphs">32.8</text>
<text x="157.30" y="319.80" font-size="10.4" text-anchor="middle" textLength="21.0" lengthAdjust="spacingAndGlyphs">26.7</text>
<line x1="45.20" y1="314.80" x2="45.20" y2="244.60" stroke="#3f4d69" stroke-width="1.5"/>
<path d="M45.20,240.60 L42.40,246.60 L48.00,246.60 Z" fill="#3f4d69"/>
<text x="47.90" y="331.90" font-size="10.0" text-anchor="middle" transform="rotate(-90 47.90 331.90)" textLength="26.3" lengthAdjust="spacingAndGlyphs">CD45</text>
<text x="53.00" y="301.70" font-size="8.6" textLength="9.2" lengthAdjust="spacingAndGlyphs">10</text>
<text x="62.30" y="298.60" font-size="6.6" textLength="3.8" lengthAdjust="spacingAndGlyphs">5</text>
<text x="53.00" y="311.60" font-size="8.6" textLength="9.2" lengthAdjust="spacingAndGlyphs">10</text>
<text x="62.30" y="308.50" font-size="6.6" textLength="3.8" lengthAdjust="spacingAndGlyphs">4</text>
<text x="53.00" y="322.00" font-size="8.6" textLength="9.2" lengthAdjust="spacingAndGlyphs">10</text>
<text x="62.30" y="318.90" font-size="6.6" textLength="3.8" lengthAdjust="spacingAndGlyphs">3</text>
<text x="63.80" y="348.00" font-size="9.2" text-anchor="middle" textLength="5.8" lengthAdjust="spacingAndGlyphs">0</text>
<text x="83.30" y="354.60" font-size="9.0" text-anchor="middle" transform="rotate(-90 83.30 354.60)">0</text>
<text x="93.60" y="364.20" font-size="8.8" textLength="9.2" lengthAdjust="spacingAndGlyphs" transform="rotate(-90 93.60 364.20)">10</text>
<text x="90.50" y="354.50" font-size="6.6" textLength="3.8" lengthAdjust="spacingAndGlyphs" transform="rotate(-90 90.50 354.50)">3</text>
<text x="111.60" y="364.20" font-size="8.8" textLength="9.2" lengthAdjust="spacingAndGlyphs" transform="rotate(-90 111.60 364.20)">10</text>
<text x="108.50" y="354.50" font-size="6.6" textLength="3.8" lengthAdjust="spacingAndGlyphs" transform="rotate(-90 108.50 354.50)">4</text>
<text x="121.50" y="364.20" font-size="8.8" textLength="9.2" lengthAdjust="spacingAndGlyphs" transform="rotate(-90 121.50 364.20)">10</text>
<text x="118.40" y="354.50" font-size="6.6" textLength="3.8" lengthAdjust="spacingAndGlyphs" transform="rotate(-90 118.40 354.50)">5</text>
<text x="71.80" y="377.60" font-size="10.0" textLength="24.5" lengthAdjust="spacingAndGlyphs">NK1.1</text>
<line x1="100.50" y1="374.00" x2="172.30" y2="374.00" stroke="#3f4d69" stroke-width="1.5"/>
<path d="M176.30,374.00 L170.30,371.20 L170.30,376.80 Z" fill="#3f4d69"/>
<text x="249.30" y="232.50" font-size="10.2" text-anchor="middle" textLength="28.3" lengthAdjust="spacingAndGlyphs">γδ IEL</text>
<text x="303.20" y="232.50" font-size="10.2" text-anchor="middle" textLength="31.0" lengthAdjust="spacingAndGlyphs">DN IEL</text>
<rect x="222.90" y="239.60" width="51.70" height="51.00" fill="none" stroke="#999999" stroke-width="0.8"/>
<line x1="228.64" y1="290.00" x2="228.64" y2="291.50" stroke="#555" stroke-width="0.5"/>
<line x1="234.39" y1="290.00" x2="234.39" y2="291.50" stroke="#555" stroke-width="0.5"/>
<line x1="240.13" y1="290.00" x2="240.13" y2="291.50" stroke="#555" stroke-width="0.5"/>
<line x1="245.88" y1="290.00" x2="245.88" y2="291.50" stroke="#555" stroke-width="0.5"/>
<line x1="251.62" y1="290.00" x2="251.62" y2="291.50" stroke="#555" stroke-width="0.5"/>
<line x1="257.37" y1="290.00" x2="257.37" y2="291.50" stroke="#555" stroke-width="0.5"/>
<line x1="263.11" y1="290.00" x2="263.11" y2="291.50" stroke="#555" stroke-width="0.5"/>
<line x1="268.86" y1="290.00" x2="268.86" y2="291.50" stroke="#555" stroke-width="0.5"/>
<line x1="222.00" y1="246.89" x2="223.50" y2="246.89" stroke="#555" stroke-width="0.5"/>
<line x1="222.00" y1="254.17" x2="223.50" y2="254.17" stroke="#555" stroke-width="0.5"/>
<line x1="222.00" y1="261.46" x2="223.50" y2="261.46" stroke="#555" stroke-width="0.5"/>
<line x1="222.00" y1="268.74" x2="223.50" y2="268.74" stroke="#555" stroke-width="0.5"/>
<line x1="222.00" y1="276.03" x2="223.50" y2="276.03" stroke="#555" stroke-width="0.5"/>
<line x1="222.00" y1="283.31" x2="223.50" y2="283.31" stroke="#555" stroke-width="0.5"/>
<rect x="222.90" y="294.30" width="51.70" height="51.30" fill="none" stroke="#999999" stroke-width="0.8"/>
<line x1="228.64" y1="345.00" x2="228.64" y2="346.50" stroke="#555" stroke-width="0.5"/>
<line x1="234.39" y1="345.00" x2="234.39" y2="346.50" stroke="#555" stroke-width="0.5"/>
<line x1="240.13" y1="345.00" x2="240.13" y2="346.50" stroke="#555" stroke-width="0.5"/>
<line x1="245.88" y1="345.00" x2="245.88" y2="346.50" stroke="#555" stroke-width="0.5"/>
<line x1="251.62" y1="345.00" x2="251.62" y2="346.50" stroke="#555" stroke-width="0.5"/>
<line x1="257.37" y1="345.00" x2="257.37" y2="346.50" stroke="#555" stroke-width="0.5"/>
<line x1="263.11" y1="345.00" x2="263.11" y2="346.50" stroke="#555" stroke-width="0.5"/>
<line x1="268.86" y1="345.00" x2="268.86" y2="346.50" stroke="#555" stroke-width="0.5"/>
<line x1="222.00" y1="301.63" x2="223.50" y2="301.63" stroke="#555" stroke-width="0.5"/>
<line x1="222.00" y1="308.96" x2="223.50" y2="308.96" stroke="#555" stroke-width="0.5"/>
<line x1="222.00" y1="316.29" x2="223.50" y2="316.29" stroke="#555" stroke-width="0.5"/>
<line x1="222.00" y1="323.61" x2="223.50" y2="323.61" stroke="#555" stroke-width="0.5"/>
<line x1="222.00" y1="330.94" x2="223.50" y2="330.94" stroke="#555" stroke-width="0.5"/>
<line x1="222.00" y1="338.27" x2="223.50" y2="338.27" stroke="#555" stroke-width="0.5"/>
<rect x="277.20" y="239.60" width="51.70" height="51.00" fill="none" stroke="#999999" stroke-width="0.8"/>
<line x1="282.94" y1="290.00" x2="282.94" y2="291.50" stroke="#555" stroke-width="0.5"/>
<line x1="288.69" y1="290.00" x2="288.69" y2="291.50" stroke="#555" stroke-width="0.5"/>
<line x1="294.43" y1="290.00" x2="294.43" y2="291.50" stroke="#555" stroke-width="0.5"/>
<line x1="300.18" y1="290.00" x2="300.18" y2="291.50" stroke="#555" stroke-width="0.5"/>
<line x1="305.92" y1="290.00" x2="305.92" y2="291.50" stroke="#555" stroke-width="0.5"/>
<line x1="311.67" y1="290.00" x2="311.67" y2="291.50" stroke="#555" stroke-width="0.5"/>
<line x1="317.41" y1="290.00" x2="317.41" y2="291.50" stroke="#555" stroke-width="0.5"/>
<line x1="323.16" y1="290.00" x2="323.16" y2="291.50" stroke="#555" stroke-width="0.5"/>
<line x1="276.30" y1="246.89" x2="277.80" y2="246.89" stroke="#555" stroke-width="0.5"/>
<line x1="276.30" y1="254.17" x2="277.80" y2="254.17" stroke="#555" stroke-width="0.5"/>
<line x1="276.30" y1="261.46" x2="277.80" y2="261.46" stroke="#555" stroke-width="0.5"/>
<line x1="276.30" y1="268.74" x2="277.80" y2="268.74" stroke="#555" stroke-width="0.5"/>
<line x1="276.30" y1="276.03" x2="277.80" y2="276.03" stroke="#555" stroke-width="0.5"/>
<line x1="276.30" y1="283.31" x2="277.80" y2="283.31" stroke="#555" stroke-width="0.5"/>
<rect x="277.20" y="294.30" width="51.70" height="51.30" fill="none" stroke="#999999" stroke-width="0.8"/>
<line x1="282.94" y1="345.00" x2="282.94" y2="346.50" stroke="#555" stroke-width="0.5"/>
<line x1="288.69" y1="345.00" x2="288.69" y2="346.50" stroke="#555" stroke-width="0.5"/>
<line x1="294.43" y1="345.00" x2="294.43" y2="346.50" stroke="#555" stroke-width="0.5"/>
<line x1="300.18" y1="345.00" x2="300.18" y2="346.50" stroke="#555" stroke-width="0.5"/>
<line x1="305.92" y1="345.00" x2="305.92" y2="346.50" stroke="#555" stroke-width="0.5"/>
<line x1="311.67" y1="345.00" x2="311.67" y2="346.50" stroke="#555" stroke-width="0.5"/>
<line x1="317.41" y1="345.00" x2="317.41" y2="346.50" stroke="#555" stroke-width="0.5"/>
<line x1="323.16" y1="345.00" x2="323.16" y2="346.50" stroke="#555" stroke-width="0.5"/>
<line x1="276.30" y1="301.63" x2="277.80" y2="301.63" stroke="#555" stroke-width="0.5"/>
<line x1="276.30" y1="308.96" x2="277.80" y2="308.96" stroke="#555" stroke-width="0.5"/>
<line x1="276.30" y1="316.29" x2="277.80" y2="316.29" stroke="#555" stroke-width="0.5"/>
<line x1="276.30" y1="323.61" x2="277.80" y2="323.61" stroke="#555" stroke-width="0.5"/>
<line x1="276.30" y1="330.94" x2="277.80" y2="330.94" stroke="#555" stroke-width="0.5"/>
<line x1="276.30" y1="338.27" x2="277.80" y2="338.27" stroke="#555" stroke-width="0.5"/>
<ellipse cx="231.30" cy="245.50" rx="9.60" ry="4.16" fill="#000" opacity="0.16" filter="url(#bl)"/>
<circle cx="224.70" cy="242.56" r="0.4" fill="#777" opacity="0.5"/>
<circle cx="235.05" cy="239.63" r="0.4" fill="#777" opacity="0.5"/>
<circle cx="230.50" cy="239.72" r="0.4" fill="#777" opacity="0.5"/>
<circle cx="237.47" cy="246.02" r="0.4" fill="#777" opacity="0.5"/>
<circle cx="238.90" cy="244.21" r="0.4" fill="#777" opacity="0.5"/>
<circle cx="233.53" cy="244.77" r="0.4" fill="#777" opacity="0.5"/>
<circle cx="227.17" cy="245.87" r="0.4" fill="#777" opacity="0.5"/>
<circle cx="224.26" cy="244.59" r="0.4" fill="#777" opacity="0.5"/>
<circle cx="235.20" cy="245.65" r="0.4" fill="#777" opacity="0.5"/>
<circle cx="229.00" cy="251.11" r="0.4" fill="#777" opacity="0.5"/>
<circle cx="231.63" cy="244.00" r="0.4" fill="#777" opacity="0.5"/>
<circle cx="232.19" cy="244.16" r="0.4" fill="#777" opacity="0.5"/>
<circle cx="229.14" cy="244.60" r="0.4" fill="#777" opacity="0.5"/>
<circle cx="242.64" cy="245.56" r="0.4" fill="#777" opacity="0.5"/>
<circle cx="232.28" cy="247.23" r="0.4" fill="#777" opacity="0.5"/>
<circle cx="242.59" cy="244.93" r="0.4" fill="#777" opacity="0.5"/>
<circle cx="227.81" cy="251.84" r="0.4" fill="#777" opacity="0.5"/>
<circle cx="223.13" cy="244.56" r="0.4" fill="#777" opacity="0.5"/>
<circle cx="235.03" cy="251.35" r="0.4" fill="#777" opacity="0.5"/>
<circle cx="225.98" cy="239.28" r="0.4" fill="#777" opacity="0.5"/>
<circle cx="235.01" cy="244.16" r="0.4" fill="#777" opacity="0.5"/>
<circle cx="229.13" cy="246.68" r="0.4" fill="#777" opacity="0.5"/>
<circle cx="232.55" cy="246.24" r="0.4" fill="#777" opacity="0.5"/>
<circle cx="228.89" cy="248.80" r="0.4" fill="#777" opacity="0.5"/>
<circle cx="239.73" cy="245.58" r="0.4" fill="#777" opacity="0.5"/>
<circle cx="228.77" cy="247.38" r="0.4" fill="#777" opacity="0.5"/>
<circle cx="233.98" cy="242.84" r="0.4" fill="#777" opacity="0.5"/>
<circle cx="228.72" cy="248.19" r="0.4" fill="#777" opacity="0.5"/>
<circle cx="230.76" cy="244.66" r="0.4" fill="#777" opacity="0.5"/>
<circle cx="232.49" cy="245.41" r="0.4" fill="#777" opacity="0.5"/>
<circle cx="245.09" cy="244.83" r="0.4" fill="#666" opacity="0.45"/>
<circle cx="244.95" cy="242.74" r="0.4" fill="#666" opacity="0.45"/>
<circle cx="240.96" cy="247.50" r="0.4" fill="#666" opacity="0.45"/>
<circle cx="242.05" cy="246.22" r="0.4" fill="#666" opacity="0.45"/>
<circle cx="239.98" cy="247.23" r="0.4" fill="#666" opacity="0.45"/>
<circle cx="245.75" cy="247.01" r="0.4" fill="#666" opacity="0.45"/>
<circle cx="241.87" cy="246.19" r="0.4" fill="#666" opacity="0.45"/>
<circle cx="240.20" cy="246.10" r="0.4" fill="#666" opacity="0.45"/>
<circle cx="236.75" cy="246.21" r="0.4" fill="#666" opacity="0.45"/>
<circle cx="244.97" cy="245.19" r="0.4" fill="#666" opacity="0.45"/>
<circle cx="247.29" cy="245.47" r="0.4" fill="#666" opacity="0.45"/>
<circle cx="248.57" cy="245.05" r="0.4" fill="#666" opacity="0.45"/>
<circle cx="240.66" cy="245.45" r="0.4" fill="#666" opacity="0.45"/>
<circle cx="253.61" cy="243.66" r="0.4" fill="#666" opacity="0.45"/>
<circle cx="241.90" cy="245.18" r="0.4" fill="#666" opacity="0.45"/>
<circle cx="245.36" cy="243.77" r="0.4" fill="#666" opacity="0.45"/>
<circle cx="249.23" cy="243.35" r="0.4" fill="#666" opacity="0.45"/>
<circle cx="248.04" cy="245.30" r="0.4" fill="#666" opacity="0.45"/>
<circle cx="239.99" cy="246.53" r="0.4" fill="#666" opacity="0.45"/>
<circle cx="237.72" cy="245.54" r="0.4" fill="#666" opacity="0.45"/>
<circle cx="238.90" cy="244.00" r="0.4" fill="#666" opacity="0.45"/>
<circle cx="238.85" cy="245.44" r="0.4" fill="#666" opacity="0.45"/>
<circle cx="248.39" cy="245.12" r="0.4" fill="#666" opacity="0.45"/>
<circle cx="247.40" cy="244.82" r="0.4" fill="#666" opacity="0.45"/>
<circle cx="245.31" cy="246.48" r="0.4" fill="#666" opacity="0.45"/>
<circle cx="242.38" cy="246.51" r="0.4" fill="#666" opacity="0.45"/>
<circle cx="244.06" cy="246.02" r="0.4" fill="#666" opacity="0.45"/>
<circle cx="237.58" cy="245.85" r="0.4" fill="#666" opacity="0.45"/>
<circle cx="248.50" cy="243.27" r="0.4" fill="#666" opacity="0.45"/>
<circle cx="242.54" cy="245.50" r="0.4" fill="#666" opacity="0.45"/>
<ellipse cx="231.30" cy="245.50" rx="8.00" ry="3.20" fill="none" stroke="#000" stroke-width="0.55"/>
<ellipse cx="231.30" cy="245.50" rx="7.33" ry="2.97" fill="none" stroke="#000" stroke-width="0.55"/>
<ellipse cx="231.30" cy="245.50" rx="6.67" ry="2.73" fill="none" stroke="#000" stroke-width="0.55"/>
<ellipse cx="231.30" cy="245.50" rx="6.00" ry="2.50" fill="#000"/>
<ellipse cx="231.80" cy="245.50" rx="0.9" ry="0.6" fill="#fff" filter="url(#bl2)"/>
<ellipse cx="289.50" cy="246.90" rx="4.68" ry="4.55" fill="#000" opacity="0.16" filter="url(#bl)"/>
<circle cx="290.86" cy="241.89" r="0.4" fill="#777" opacity="0.5"/>
<circle cx="287.38" cy="247.10" r="0.4" fill="#777" opacity="0.5"/>
<circle cx="293.53" cy="246.91" r="0.4" fill="#777" opacity="0.5"/>
<circle cx="284.97" cy="247.78" r="0.4" fill="#777" opacity="0.5"/>
<circle cx="286.23" cy="250.33" r="0.4" fill="#777" opacity="0.5"/>
<circle cx="288.80" cy="251.89" r="0.4" fill="#777" opacity="0.5"/>
<circle cx="289.14" cy="244.03" r="0.4" fill="#777" opacity="0.5"/>
<circle cx="285.49" cy="245.89" r="0.4" fill="#777" opacity="0.5"/>
<circle cx="290.72" cy="250.23" r="0.4" fill="#777" opacity="0.5"/>
<circle cx="290.23" cy="244.83" r="0.4" fill="#777" opacity="0.5"/>
<circle cx="290.87" cy="242.88" r="0.4" fill="#777" opacity="0.5"/>
<circle cx="290.88" cy="244.80" r="0.4" fill="#777" opacity="0.5"/>
<circle cx="293.58" cy="249.68" r="0.4" fill="#777" opacity="0.5"/>
<circle cx="290.50" cy="244.04" r="0.4" fill="#777" opacity="0.5"/>
<circle cx="291.00" cy="247.93" r="0.4" fill="#777" opacity="0.5"/>
<circle cx="288.00" cy="245.16" r="0.4" fill="#777" opacity="0.5"/>
<circle cx="292.97" cy="245.78" r="0.4" fill="#777" opacity="0.5"/>
<circle cx="290.71" cy="250.79" r="0.4" fill="#777" opacity="0.5"/>
<circle cx="285.45" cy="251.90" r="0.4" fill="#777" opacity="0.5"/>
<circle cx="292.27" cy="245.09" r="0.4" fill="#777" opacity="0.5"/>
<ellipse cx="289.50" cy="246.90" rx="3.90" ry="3.50" fill="none" stroke="#000" stroke-width="0.55"/>
<ellipse cx="289.50" cy="246.90" rx="3.55" ry="3.20" fill="none" stroke="#000" stroke-width="0.55"/>
<ellipse cx="289.50" cy="246.90" rx="3.20" ry="2.90" fill="#000"/>
<ellipse cx="289.90" cy="246.70" rx="0.9" ry="0.6" fill="#fff" filter="url(#bl2)"/>
<ellipse cx="232.00" cy="300.70" rx="9.96" ry="4.29" fill="#000" opacity="0.16" filter="url(#bl)"/>
<circle cx="230.51" cy="302.05" r="0.4" fill="#777" opacity="0.5"/>
<circle cx="230.69" cy="299.87" r="0.4" fill="#777" opacity="0.5"/>
<circle cx="226.60" cy="300.14" r="0.4" fill="#777" opacity="0.5"/>
<circle cx="238.46" cy="301.82" r="0.4" fill="#777" opacity="0.5"/>
<circle cx="238.02" cy="301.36" r="0.4" fill="#777" opacity="0.5"/>
<circle cx="234.29" cy="301.19" r="0.4" fill="#777" opacity="0.5"/>
<circle cx="222.32" cy="302.96" r="0.4" fill="#777" opacity="0.5"/>
<circle cx="234.94" cy="302.02" r="0.4" fill="#777" opacity="0.5"/>
<circle cx="222.17" cy="296.10" r="0.4" fill="#777" opacity="0.5"/>
<circle cx="226.83" cy="299.46" r="0.4" fill="#777" opacity="0.5"/>
<circle cx="233.77" cy="300.58" r="0.4" fill="#777" opacity="0.5"/>
<circle cx="235.03" cy="299.00" r="0.4" fill="#777" opacity="0.5"/>
<circle cx="233.79" cy="301.74" r="0.4" fill="#777" opacity="0.5"/>
<circle cx="228.16" cy="305.23" r="0.4" fill="#777" opacity="0.5"/>
<circle cx="235.23" cy="303.86" r="0.4" fill="#777" opacity="0.5"/>
<circle cx="228.40" cy="298.75" r="0.4" fill="#777" opacity="0.5"/>
<circle cx="230.00" cy="300.42" r="0.4" fill="#777" opacity="0.5"/>
<circle cx="235.67" cy="301.36" r="0.4" fill="#777" opacity="0.5"/>
<circle cx="229.40" cy="298.17" r="0.4" fill="#777" opacity="0.5"/>
<circle cx="228.98" cy="303.92" r="0.4" fill="#777" opacity="0.5"/>
<circle cx="227.31" cy="301.35" r="0.4" fill="#777" opacity="0.5"/>
<circle cx="234.48" cy="296.77" r="0.4" fill="#777" opacity="0.5"/>
<circle cx="232.28" cy="304.15" r="0.4" fill="#777" opacity="0.5"/>
<circle cx="220.30" cy="299.85" r="0.4" fill="#777" opacity="0.5"/>
<circle cx="231.38" cy="298.54" r="0.4" fill="#777" opacity="0.5"/>
<circle cx="234.89" cy="300.54" r="0.4" fill="#777" opacity="0.5"/>
<circle cx="223.49" cy="302.89" r="0.4" fill="#777" opacity="0.5"/>
<circle cx="235.89" cy="303.20" r="0.4" fill="#777" opacity="0.5"/>
<circle cx="240.37" cy="301.66" r="0.4" fill="#777" opacity="0.5"/>
<circle cx="232.69" cy="297.27" r="0.4" fill="#777" opacity="0.5"/>
<circle cx="235.58" cy="299.08" r="0.4" fill="#777" opacity="0.5"/>
<circle cx="247.16" cy="303.11" r="0.4" fill="#666" opacity="0.45"/>
<circle cx="255.11" cy="300.59" r="0.4" fill="#666" opacity="0.45"/>
<circle cx="242.19" cy="301.15" r="0.4" fill="#666" opacity="0.45"/>
<circle cx="260.32" cy="305.45" r="0.4" fill="#666" opacity="0.45"/>
<circle cx="247.12" cy="299.79" r="0.4" fill="#666" opacity="0.45"/>
<circle cx="239.67" cy="299.60" r="0.4" fill="#666" opacity="0.45"/>
<circle cx="250.80" cy="300.28" r="0.4" fill="#666" opacity="0.45"/>
<circle cx="245.59" cy="301.95" r="0.4" fill="#666" opacity="0.45"/>
<circle cx="236.26" cy="299.07" r="0.4" fill="#666" opacity="0.45"/>
<circle cx="246.70" cy="300.13" r="0.4" fill="#666" opacity="0.45"/>
<circle cx="245.44" cy="301.46" r="0.4" fill="#666" opacity="0.45"/>
<circle cx="250.48" cy="302.58" r="0.4" fill="#666" opacity="0.45"/>
<circle cx="249.55" cy="302.04" r="0.4" fill="#666" opacity="0.45"/>
<circle cx="247.25" cy="302.67" r="0.4" fill="#666" opacity="0.45"/>
<circle cx="249.54" cy="300.08" r="0.4" fill="#666" opacity="0.45"/>
<circle cx="242.69" cy="299.95" r="0.4" fill="#666" opacity="0.45"/>
<circle cx="245.78" cy="302.30" r="0.4" fill="#666" opacity="0.45"/>
<circle cx="248.95" cy="297.97" r="0.4" fill="#666" opacity="0.45"/>
<circle cx="245.70" cy="297.67" r="0.4" fill="#666" opacity="0.45"/>
<circle cx="246.36" cy="299.66" r="0.4" fill="#666" opacity="0.45"/>
<circle cx="247.74" cy="303.06" r="0.4" fill="#666" opacity="0.45"/>
<circle cx="239.37" cy="299.22" r="0.4" fill="#666" opacity="0.45"/>
<circle cx="255.36" cy="299.41" r="0.4" fill="#666" opacity="0.45"/>
<circle cx="255.33" cy="300.64" r="0.4" fill="#666" opacity="0.45"/>
<circle cx="242.85" cy="298.39" r="0.4" fill="#666" opacity="0.45"/>
<circle cx="236.94" cy="301.05" r="0.4" fill="#666" opacity="0.45"/>
<circle cx="251.78" cy="299.65" r="0.4" fill="#666" opacity="0.45"/>
<circle cx="243.96" cy="302.31" r="0.4" fill="#666" opacity="0.45"/>
<circle cx="241.47" cy="299.66" r="0.4" fill="#666" opacity="0.45"/>
<circle cx="241.42" cy="301.05" r="0.4" fill="#666" opacity="0.45"/>
<circle cx="246.37" cy="298.58" r="0.4" fill="#666" opacity="0.45"/>
<circle cx="260.26" cy="299.41" r="0.4" fill="#666" opacity="0.45"/>
<circle cx="252.67" cy="301.14" r="0.4" fill="#666" opacity="0.45"/>
<circle cx="246.69" cy="299.02" r="0.4" fill="#666" opacity="0.45"/>
<circle cx="243.80" cy="300.17" r="0.4" fill="#666" opacity="0.45"/>
<circle cx="238.60" cy="303.10" r="0.4" fill="#666" opacity="0.45"/>
<circle cx="241.45" cy="298.12" r="0.4" fill="#666" opacity="0.45"/>
<circle cx="258.02" cy="299.22" r="0.4" fill="#666" opacity="0.45"/>
<circle cx="255.28" cy="298.33" r="0.4" fill="#666" opacity="0.45"/>
<circle cx="257.37" cy="298.79" r="0.4" fill="#666" opacity="0.45"/>
<circle cx="242.07" cy="301.84" r="0.4" fill="#666" opacity="0.45"/>
<circle cx="237.95" cy="301.91" r="0.4" fill="#666" opacity="0.45"/>
<circle cx="255.32" cy="300.67" r="0.4" fill="#666" opacity="0.45"/>
<circle cx="244.90" cy="301.29" r="0.4" fill="#666" opacity="0.45"/>
<circle cx="248.41" cy="301.44" r="0.4" fill="#666" opacity="0.45"/>
<circle cx="247.09" cy="301.04" r="0.4" fill="#666" opacity="0.45"/>
<circle cx="243.14" cy="301.81" r="0.4" fill="#666" opacity="0.45"/>
<circle cx="250.09" cy="300.71" r="0.4" fill="#666" opacity="0.45"/>
<circle cx="257.05" cy="302.88" r="0.4" fill="#666" opacity="0.45"/>
<circle cx="252.94" cy="300.10" r="0.4" fill="#666" opacity="0.45"/>
<circle cx="242.05" cy="300.65" r="0.4" fill="#666" opacity="0.45"/>
<circle cx="243.35" cy="301.79" r="0.4" fill="#666" opacity="0.45"/>
<circle cx="259.35" cy="303.62" r="0.4" fill="#666" opacity="0.45"/>
<circle cx="254.54" cy="298.64" r="0.4" fill="#666" opacity="0.45"/>
<ellipse cx="232.00" cy="300.70" rx="8.30" ry="3.30" fill="none" stroke="#000" stroke-width="0.55"/>
<ellipse cx="232.00" cy="300.70" rx="7.60" ry="3.07" fill="none" stroke="#000" stroke-width="0.55"/>
<ellipse cx="232.00" cy="300.70" rx="6.90" ry="2.83" fill="none" stroke="#000" stroke-width="0.55"/>
<ellipse cx="232.00" cy="300.70" rx="6.20" ry="2.60" fill="#000"/>
<ellipse cx="231.00" cy="300.70" rx="0.9" ry="0.6" fill="#fff" filter="url(#bl2)"/>
<ellipse cx="291.00" cy="300.70" rx="6.72" ry="4.16" fill="#000" opacity="0.16" filter="url(#bl)"/>
<circle cx="292.46" cy="307.18" r="0.4" fill="#777" opacity="0.5"/>
<circle cx="295.29" cy="303.55" r="0.4" fill="#777" opacity="0.5"/>
<circle cx="293.54" cy="301.68" r="0.4" fill="#777" opacity="0.5"/>
<circle cx="293.69" cy="300.69" r="0.4" fill="#777" opacity="0.5"/>
<circle cx="288.27" cy="298.49" r="0.4" fill="#777" opacity="0.5"/>
<circle cx="286.62" cy="301.57" r="0.4" fill="#777" opacity="0.5"/>
<circle cx="293.62" cy="305.21" r="0.4" fill="#777" opacity="0.5"/>
<circle cx="293.42" cy="301.70" r="0.4" fill="#777" opacity="0.5"/>
<circle cx="294.06" cy="300.95" r="0.4" fill="#777" opacity="0.5"/>
<circle cx="283.93" cy="303.73" r="0.4" fill="#777" opacity="0.5"/>
<circle cx="289.60" cy="301.57" r="0.4" fill="#777" opacity="0.5"/>
<circle cx="290.36" cy="308.60" r="0.4" fill="#777" opacity="0.5"/>
<circle cx="296.03" cy="302.08" r="0.4" fill="#777" opacity="0.5"/>
<circle cx="286.87" cy="303.32" r="0.4" fill="#777" opacity="0.5"/>
<circle cx="287.83" cy="304.03" r="0.4" fill="#777" opacity="0.5"/>
<circle cx="285.32" cy="300.76" r="0.4" fill="#777" opacity="0.5"/>
<circle cx="295.21" cy="298.74" r="0.4" fill="#777" opacity="0.5"/>
<circle cx="291.90" cy="301.43" r="0.4" fill="#777" opacity="0.5"/>
<circle cx="295.28" cy="299.71" r="0.4" fill="#777" opacity="0.5"/>
<circle cx="294.27" cy="306.51" r="0.4" fill="#777" opacity="0.5"/>
<circle cx="285.43" cy="298.73" r="0.4" fill="#777" opacity="0.5"/>
<circle cx="293.36" cy="299.27" r="0.4" fill="#777" opacity="0.5"/>
<circle cx="286.00" cy="304.82" r="0.4" fill="#777" opacity="0.5"/>
<circle cx="295.41" cy="303.96" r="0.4" fill="#777" opacity="0.5"/>
<circle cx="304.92" cy="302.55" r="0.4" fill="#666" opacity="0.45"/>
<circle cx="303.25" cy="299.92" r="0.4" fill="#666" opacity="0.45"/>
<circle cx="300.66" cy="301.65" r="0.4" fill="#666" opacity="0.45"/>
<circle cx="302.90" cy="301.24" r="0.4" fill="#666" opacity="0.45"/>
<circle cx="302.82" cy="303.23" r="0.4" fill="#666" opacity="0.45"/>
<circle cx="301.74" cy="301.59" r="0.4" fill="#666" opacity="0.45"/>
<circle cx="307.27" cy="299.53" r="0.4" fill="#666" opacity="0.45"/>
<circle cx="303.21" cy="301.49" r="0.4" fill="#666" opacity="0.45"/>
<circle cx="304.10" cy="300.71" r="0.4" fill="#666" opacity="0.45"/>
<circle cx="297.67" cy="299.37" r="0.4" fill="#666" opacity="0.45"/>
<circle cx="300.36" cy="300.45" r="0.4" fill="#666" opacity="0.45"/>
<circle cx="300.03" cy="298.45" r="0.4" fill="#666" opacity="0.45"/>
<circle cx="298.27" cy="301.18" r="0.4" fill="#666" opacity="0.45"/>
<circle cx="299.40" cy="296.94" r="0.4" fill="#666" opacity="0.45"/>
<circle cx="302.96" cy="300.49" r="0.4" fill="#666" opacity="0.45"/>
<circle cx="301.21" cy="299.29" r="0.4" fill="#666" opacity="0.45"/>
<circle cx="309.27" cy="300.52" r="0.4" fill="#666" opacity="0.45"/>
<circle cx="294.30" cy="301.08" r="0.4" fill="#666" opacity="0.45"/>
<circle cx="302.14" cy="300.38" r="0.4" fill="#666" opacity="0.45"/>
<circle cx="294.71" cy="302.55" r="0.4" fill="#666" opacity="0.45"/>
<circle cx="301.32" cy="302.19" r="0.4" fill="#666" opacity="0.45"/>
<circle cx="298.99" cy="299.92" r="0.4" fill="#666" opacity="0.45"/>
<circle cx="301.43" cy="299.99" r="0.4" fill="#666" opacity="0.45"/>
<circle cx="297.76" cy="299.85" r="0.4" fill="#666" opacity="0.45"/>
<circle cx="306.45" cy="301.19" r="0.4" fill="#666" opacity="0.45"/>
<circle cx="302.53" cy="298.34" r="0.4" fill="#666" opacity="0.45"/>
<circle cx="302.40" cy="302.29" r="0.4" fill="#666" opacity="0.45"/>
<circle cx="303.97" cy="302.52" r="0.4" fill="#666" opacity="0.45"/>
<circle cx="296.05" cy="299.00" r="0.4" fill="#666" opacity="0.45"/>
<circle cx="302.56" cy="301.55" r="0.4" fill="#666" opacity="0.45"/>
<ellipse cx="291.00" cy="300.70" rx="5.60" ry="3.20" fill="none" stroke="#000" stroke-width="0.55"/>
<ellipse cx="291.00" cy="300.70" rx="5.10" ry="3.08" fill="none" stroke="#000" stroke-width="0.55"/>
<ellipse cx="291.00" cy="300.70" rx="4.60" ry="2.95" fill="none" stroke="#000" stroke-width="0.55"/>
<ellipse cx="291.00" cy="300.70" rx="4.10" ry="2.83" fill="none" stroke="#000" stroke-width="0.55"/>
<ellipse cx="291.00" cy="300.70" rx="3.60" ry="2.70" fill="#000"/>
<ellipse cx="290.50" cy="300.70" rx="0.9" ry="0.6" fill="#fff" filter="url(#bl2)"/>
<ellipse cx="295.5" cy="300.6" rx="4.8" ry="1.9" fill="none" stroke="#000" stroke-width="0.5"/>
<rect x="240.40" y="240.40" width="22.30" height="14.00" fill="none" stroke="#666666" stroke-width="0.85"/>
<rect x="294.40" y="240.40" width="22.20" height="14.00" fill="none" stroke="#666666" stroke-width="0.85"/>
<rect x="240.40" y="295.40" width="22.30" height="13.70" fill="none" stroke="#666666" stroke-width="0.85"/>
<rect x="294.40" y="295.40" width="22.20" height="13.70" fill="none" stroke="#666666" stroke-width="0.85"/>
<text x="249.20" y="251.80" font-size="10.4" text-anchor="middle" textLength="15.4" lengthAdjust="spacingAndGlyphs">1.1</text>
<text x="302.60" y="251.80" font-size="10.4" text-anchor="middle" textLength="15.4" lengthAdjust="spacingAndGlyphs">1.7</text>
<text x="250.90" y="320.10" font-size="10.4" text-anchor="middle" textLength="15.4" lengthAdjust="spacingAndGlyphs">7.1</text>
<text x="304.70" y="319.10" font-size="10.4" text-anchor="middle" textLength="21.0" lengthAdjust="spacingAndGlyphs">23.2</text>
<line x1="198.40" y1="314.80" x2="198.40" y2="244.60" stroke="#3f4d69" stroke-width="1.5"/>
<path d="M198.40,240.60 L195.60,246.60 L201.20,246.60 Z" fill="#3f4d69"/>
<text x="201.10" y="331.90" font-size="10.0" text-anchor="middle" transform="rotate(-90 201.10 331.90)" textLength="26.3" lengthAdjust="spacingAndGlyphs">CD45</text>
<text x="205.00" y="301.70" font-size="8.6" textLength="9.2" lengthAdjust="spacingAndGlyphs">10</text>
<text x="214.30" y="298.60" font-size="6.6" textLength="3.8" lengthAdjust="spacingAndGlyphs">5</text>
<text x="205.00" y="311.60" font-size="8.6" textLength="9.2" lengthAdjust="spacingAndGlyphs">10</text>
<text x="214.30" y="308.50" font-size="6.6" textLength="3.8" lengthAdjust="spacingAndGlyphs">4</text>
<text x="205.00" y="322.00" font-size="8.6" textLength="9.2" lengthAdjust="spacingAndGlyphs">10</text>
<text x="214.30" y="318.90" font-size="6.6" textLength="3.8" lengthAdjust="spacingAndGlyphs">3</text>
<text x="215.80" y="348.00" font-size="9.2" text-anchor="middle" textLength="5.8" lengthAdjust="spacingAndGlyphs">0</text>
<text x="234.50" y="354.60" font-size="9.0" text-anchor="middle" transform="rotate(-90 234.50 354.60)">0</text>
<text x="244.80" y="364.20" font-size="8.8" textLength="9.2" lengthAdjust="spacingAndGlyphs" transform="rotate(-90 244.80 364.20)">10</text>
<text x="241.70" y="354.50" font-size="6.6" textLength="3.8" lengthAdjust="spacingAndGlyphs" transform="rotate(-90 241.70 354.50)">3</text>
<text x="262.80" y="364.20" font-size="8.8" textLength="9.2" lengthAdjust="spacingAndGlyphs" transform="rotate(-90 262.80 364.20)">10</text>
<text x="259.70" y="354.50" font-size="6.6" textLength="3.8" lengthAdjust="spacingAndGlyphs" transform="rotate(-90 259.70 354.50)">4</text>
<text x="272.70" y="364.20" font-size="8.8" textLength="9.2" lengthAdjust="spacingAndGlyphs" transform="rotate(-90 272.70 364.20)">10</text>
<text x="269.60" y="354.50" font-size="6.6" textLength="3.8" lengthAdjust="spacingAndGlyphs" transform="rotate(-90 269.60 354.50)">5</text>
<text x="223.30" y="377.60" font-size="10.0" textLength="33.9" lengthAdjust="spacingAndGlyphs">NKG2D</text>
<line x1="260.50" y1="374.00" x2="324.50" y2="374.00" stroke="#3f4d69" stroke-width="1.5"/>
<path d="M328.50,374.00 L322.50,371.20 L322.50,376.80 Z" fill="#3f4d69"/>
<text x="399.80" y="232.50" font-size="10.2" text-anchor="middle" textLength="28.3" lengthAdjust="spacingAndGlyphs">γδ IEL</text>
<text x="453.30" y="232.50" font-size="10.2" text-anchor="middle" textLength="31.0" lengthAdjust="spacingAndGlyphs">DN IEL</text>
<rect x="373.00" y="239.00" width="51.30" height="50.80" fill="none" stroke="#999999" stroke-width="0.8"/>
<line x1="378.70" y1="289.20" x2="378.70" y2="290.70" stroke="#555" stroke-width="0.5"/>
<line x1="384.40" y1="289.20" x2="384.40" y2="290.70" stroke="#555" stroke-width="0.5"/>
<line x1="390.10" y1="289.20" x2="390.10" y2="290.70" stroke="#555" stroke-width="0.5"/>
<line x1="395.80" y1="289.20" x2="395.80" y2="290.70" stroke="#555" stroke-width="0.5"/>
<line x1="401.50" y1="289.20" x2="401.50" y2="290.70" stroke="#555" stroke-width="0.5"/>
<line x1="407.20" y1="289.20" x2="407.20" y2="290.70" stroke="#555" stroke-width="0.5"/>
<line x1="412.90" y1="289.20" x2="412.90" y2="290.70" stroke="#555" stroke-width="0.5"/>
<line x1="418.60" y1="289.20" x2="418.60" y2="290.70" stroke="#555" stroke-width="0.5"/>
<line x1="372.10" y1="246.26" x2="373.60" y2="246.26" stroke="#555" stroke-width="0.5"/>
<line x1="372.10" y1="253.51" x2="373.60" y2="253.51" stroke="#555" stroke-width="0.5"/>
<line x1="372.10" y1="260.77" x2="373.60" y2="260.77" stroke="#555" stroke-width="0.5"/>
<line x1="372.10" y1="268.03" x2="373.60" y2="268.03" stroke="#555" stroke-width="0.5"/>
<line x1="372.10" y1="275.29" x2="373.60" y2="275.29" stroke="#555" stroke-width="0.5"/>
<line x1="372.10" y1="282.54" x2="373.60" y2="282.54" stroke="#555" stroke-width="0.5"/>
<rect x="427.30" y="239.00" width="51.20" height="50.80" fill="none" stroke="#999999" stroke-width="0.8"/>
<line x1="432.99" y1="289.20" x2="432.99" y2="290.70" stroke="#555" stroke-width="0.5"/>
<line x1="438.68" y1="289.20" x2="438.68" y2="290.70" stroke="#555" stroke-width="0.5"/>
<line x1="444.37" y1="289.20" x2="444.37" y2="290.70" stroke="#555" stroke-width="0.5"/>
<line x1="450.06" y1="289.20" x2="450.06" y2="290.70" stroke="#555" stroke-width="0.5"/>
<line x1="455.74" y1="289.20" x2="455.74" y2="290.70" stroke="#555" stroke-width="0.5"/>
<line x1="461.43" y1="289.20" x2="461.43" y2="290.70" stroke="#555" stroke-width="0.5"/>
<line x1="467.12" y1="289.20" x2="467.12" y2="290.70" stroke="#555" stroke-width="0.5"/>
<line x1="472.81" y1="289.20" x2="472.81" y2="290.70" stroke="#555" stroke-width="0.5"/>
<line x1="426.40" y1="246.26" x2="427.90" y2="246.26" stroke="#555" stroke-width="0.5"/>
<line x1="426.40" y1="253.51" x2="427.90" y2="253.51" stroke="#555" stroke-width="0.5"/>
<line x1="426.40" y1="260.77" x2="427.90" y2="260.77" stroke="#555" stroke-width="0.5"/>
<line x1="426.40" y1="268.03" x2="427.90" y2="268.03" stroke="#555" stroke-width="0.5"/>
<line x1="426.40" y1="275.29" x2="427.90" y2="275.29" stroke="#555" stroke-width="0.5"/>
<line x1="426.40" y1="282.54" x2="427.90" y2="282.54" stroke="#555" stroke-width="0.5"/>
<rect x="373.00" y="293.70" width="51.30" height="50.90" fill="none" stroke="#999999" stroke-width="0.8"/>
<line x1="378.70" y1="344.00" x2="378.70" y2="345.50" stroke="#555" stroke-width="0.5"/>
<line x1="384.40" y1="344.00" x2="384.40" y2="345.50" stroke="#555" stroke-width="0.5"/>
<line x1="390.10" y1="344.00" x2="390.10" y2="345.50" stroke="#555" stroke-width="0.5"/>
<line x1="395.80" y1="344.00" x2="395.80" y2="345.50" stroke="#555" stroke-width="0.5"/>
<line x1="401.50" y1="344.00" x2="401.50" y2="345.50" stroke="#555" stroke-width="0.5"/>
<line x1="407.20" y1="344.00" x2="407.20" y2="345.50" stroke="#555" stroke-width="0.5"/>
<line x1="412.90" y1="344.00" x2="412.90" y2="345.50" stroke="#555" stroke-width="0.5"/>
<line x1="418.60" y1="344.00" x2="418.60" y2="345.50" stroke="#555" stroke-width="0.5"/>
<line x1="372.10" y1="300.97" x2="373.60" y2="300.97" stroke="#555" stroke-width="0.5"/>
<line x1="372.10" y1="308.24" x2="373.60" y2="308.24" stroke="#555" stroke-width="0.5"/>
<line x1="372.10" y1="315.51" x2="373.60" y2="315.51" stroke="#555" stroke-width="0.5"/>
<line x1="372.10" y1="322.79" x2="373.60" y2="322.79" stroke="#555" stroke-width="0.5"/>
<line x1="372.10" y1="330.06" x2="373.60" y2="330.06" stroke="#555" stroke-width="0.5"/>
<line x1="372.10" y1="337.33" x2="373.60" y2="337.33" stroke="#555" stroke-width="0.5"/>
<rect x="427.30" y="293.70" width="51.20" height="50.90" fill="none" stroke="#999999" stroke-width="0.8"/>
<line x1="432.99" y1="344.00" x2="432.99" y2="345.50" stroke="#555" stroke-width="0.5"/>
<line x1="438.68" y1="344.00" x2="438.68" y2="345.50" stroke="#555" stroke-width="0.5"/>
<line x1="444.37" y1="344.00" x2="444.37" y2="345.50" stroke="#555" stroke-width="0.5"/>
<line x1="450.06" y1="344.00" x2="450.06" y2="345.50" stroke="#555" stroke-width="0.5"/>
<line x1="455.74" y1="344.00" x2="455.74" y2="345.50" stroke="#555" stroke-width="0.5"/>
<line x1="461.43" y1="344.00" x2="461.43" y2="345.50" stroke="#555" stroke-width="0.5"/>
<line x1="467.12" y1="344.00" x2="467.12" y2="345.50" stroke="#555" stroke-width="0.5"/>
<line x1="472.81" y1="344.00" x2="472.81" y2="345.50" stroke="#555" stroke-width="0.5"/>
<line x1="426.40" y1="300.97" x2="427.90" y2="300.97" stroke="#555" stroke-width="0.5"/>
<line x1="426.40" y1="308.24" x2="427.90" y2="308.24" stroke="#555" stroke-width="0.5"/>
<line x1="426.40" y1="315.51" x2="427.90" y2="315.51" stroke="#555" stroke-width="0.5"/>
<line x1="426.40" y1="322.79" x2="427.90" y2="322.79" stroke="#555" stroke-width="0.5"/>
<line x1="426.40" y1="330.06" x2="427.90" y2="330.06" stroke="#555" stroke-width="0.5"/>
<line x1="426.40" y1="337.33" x2="427.90" y2="337.33" stroke="#555" stroke-width="0.5"/>
<ellipse cx="380.90" cy="245.10" rx="9.60" ry="3.90" fill="#000" opacity="0.16" filter="url(#bl)"/>
<circle cx="375.63" cy="245.63" r="0.4" fill="#777" opacity="0.5"/>
<circle cx="388.14" cy="248.78" r="0.4" fill="#777" opacity="0.5"/>
<circle cx="387.51" cy="245.21" r="0.4" fill="#777" opacity="0.5"/>
<circle cx="382.75" cy="244.51" r="0.4" fill="#777" opacity="0.5"/>
<circle cx="373.59" cy="243.99" r="0.4" fill="#777" opacity="0.5"/>
<circle cx="386.19" cy="245.70" r="0.4" fill="#777" opacity="0.5"/>
<circle cx="379.13" cy="242.58" r="0.4" fill="#777" opacity="0.5"/>
<circle cx="380.39" cy="243.71" r="0.4" fill="#777" opacity="0.5"/>
<circle cx="381.10" cy="246.26" r="0.4" fill="#777" opacity="0.5"/>
<circle cx="368.20" cy="244.89" r="0.4" fill="#777" opacity="0.5"/>
<circle cx="372.76" cy="242.87" r="0.4" fill="#777" opacity="0.5"/>
<circle cx="374.00" cy="247.75" r="0.4" fill="#777" opacity="0.5"/>
<circle cx="384.63" cy="246.29" r="0.4" fill="#777" opacity="0.5"/>
<circle cx="376.77" cy="241.67" r="0.4" fill="#777" opacity="0.5"/>
<circle cx="378.78" cy="245.59" r="0.4" fill="#777" opacity="0.5"/>
<circle cx="380.50" cy="246.74" r="0.4" fill="#777" opacity="0.5"/>
<circle cx="378.91" cy="249.39" r="0.4" fill="#777" opacity="0.5"/>
<circle cx="384.55" cy="249.86" r="0.4" fill="#777" opacity="0.5"/>
<circle cx="382.27" cy="244.55" r="0.4" fill="#777" opacity="0.5"/>
<circle cx="376.18" cy="247.03" r="0.4" fill="#777" opacity="0.5"/>
<circle cx="386.72" cy="245.47" r="0.4" fill="#777" opacity="0.5"/>
<circle cx="383.17" cy="244.45" r="0.4" fill="#777" opacity="0.5"/>
<circle cx="378.56" cy="244.40" r="0.4" fill="#777" opacity="0.5"/>
<circle cx="370.43" cy="242.68" r="0.4" fill="#777" opacity="0.5"/>
<circle cx="381.11" cy="245.40" r="0.4" fill="#777" opacity="0.5"/>
<circle cx="386.94" cy="246.60" r="0.4" fill="#777" opacity="0.5"/>
<circle cx="383.24" cy="245.21" r="0.4" fill="#777" opacity="0.5"/>
<circle cx="368.29" cy="245.21" r="0.4" fill="#777" opacity="0.5"/>
<circle cx="375.95" cy="246.26" r="0.4" fill="#777" opacity="0.5"/>
<circle cx="394.54" cy="246.62" r="0.4" fill="#666" opacity="0.45"/>
<circle cx="393.43" cy="245.02" r="0.4" fill="#666" opacity="0.45"/>
<circle cx="383.77" cy="245.15" r="0.4" fill="#666" opacity="0.45"/>
<circle cx="390.26" cy="244.60" r="0.4" fill="#666" opacity="0.45"/>
<circle cx="396.77" cy="243.82" r="0.4" fill="#666" opacity="0.45"/>
<circle cx="394.09" cy="247.65" r="0.4" fill="#666" opacity="0.45"/>
<circle cx="400.39" cy="247.57" r="0.4" fill="#666" opacity="0.45"/>
<circle cx="399.90" cy="244.11" r="0.4" fill="#666" opacity="0.45"/>
<circle cx="393.78" cy="245.15" r="0.4" fill="#666" opacity="0.45"/>
<circle cx="399.24" cy="247.18" r="0.4" fill="#666" opacity="0.45"/>
<circle cx="394.63" cy="243.40" r="0.4" fill="#666" opacity="0.45"/>
<circle cx="400.39" cy="246.78" r="0.4" fill="#666" opacity="0.45"/>
<circle cx="404.98" cy="245.02" r="0.4" fill="#666" opacity="0.45"/>
<circle cx="392.93" cy="243.98" r="0.4" fill="#666" opacity="0.45"/>
<circle cx="393.10" cy="245.55" r="0.4" fill="#666" opacity="0.45"/>
<circle cx="407.39" cy="246.07" r="0.4" fill="#666" opacity="0.45"/>
<circle cx="391.79" cy="245.98" r="0.4" fill="#666" opacity="0.45"/>
<circle cx="382.17" cy="245.57" r="0.4" fill="#666" opacity="0.45"/>
<circle cx="401.65" cy="244.18" r="0.4" fill="#666" opacity="0.45"/>
<circle cx="396.71" cy="243.65" r="0.4" fill="#666" opacity="0.45"/>
<circle cx="390.53" cy="243.34" r="0.4" fill="#666" opacity="0.45"/>
<circle cx="394.74" cy="244.85" r="0.4" fill="#666" opacity="0.45"/>
<circle cx="389.42" cy="245.57" r="0.4" fill="#666" opacity="0.45"/>
<circle cx="390.38" cy="242.54" r="0.4" fill="#666" opacity="0.45"/>
<circle cx="396.49" cy="243.87" r="0.4" fill="#666" opacity="0.45"/>
<circle cx="387.41" cy="245.50" r="0.4" fill="#666" opacity="0.45"/>
<circle cx="395.69" cy="243.97" r="0.4" fill="#666" opacity="0.45"/>
<circle cx="390.37" cy="246.28" r="0.4" fill="#666" opacity="0.45"/>
<circle cx="388.54" cy="245.27" r="0.4" fill="#666" opacity="0.45"/>
<circle cx="398.48" cy="244.13" r="0.4" fill="#666" opacity="0.45"/>
<circle cx="392.74" cy="244.79" r="0.4" fill="#666" opacity="0.45"/>
<circle cx="398.31" cy="243.34" r="0.4" fill="#666" opacity="0.45"/>
<circle cx="392.14" cy="244.48" r="0.4" fill="#666" opacity="0.45"/>
<circle cx="398.51" cy="245.72" r="0.4" fill="#666" opacity="0.45"/>
<circle cx="394.87" cy="247.42" r="0.4" fill="#666" opacity="0.45"/>
<circle cx="387.34" cy="244.02" r="0.4" fill="#666" opacity="0.45"/>
<circle cx="398.85" cy="244.76" r="0.4" fill="#666" opacity="0.45"/>
<circle cx="399.79" cy="246.92" r="0.4" fill="#666" opacity="0.45"/>
<circle cx="387.55" cy="246.28" r="0.4" fill="#666" opacity="0.45"/>
<circle cx="392.31" cy="245.51" r="0.4" fill="#666" opacity="0.45"/>
<circle cx="402.77" cy="244.46" r="0.4" fill="#666" opacity="0.45"/>
<circle cx="397.67" cy="243.26" r="0.4" fill="#666" opacity="0.45"/>
<circle cx="404.64" cy="244.39" r="0.4" fill="#666" opacity="0.45"/>
<circle cx="397.21" cy="245.42" r="0.4" fill="#666" opacity="0.45"/>
<circle cx="402.97" cy="245.75" r="0.4" fill="#666" opacity="0.45"/>
<ellipse cx="380.90" cy="245.10" rx="8.00" ry="3.00" fill="none" stroke="#000" stroke-width="0.55"/>
<ellipse cx="380.90" cy="245.10" rx="7.33" ry="2.77" fill="none" stroke="#000" stroke-width="0.55"/>
<ellipse cx="380.90" cy="245.10" rx="6.67" ry="2.53" fill="none" stroke="#000" stroke-width="0.55"/>
<ellipse cx="380.90" cy="245.10" rx="6.00" ry="2.30" fill="#000"/>
<ellipse cx="380.90" cy="245.10" rx="0.9" ry="0.6" fill="#fff" filter="url(#bl2)"/>
<ellipse cx="439.10" cy="245.10" rx="7.08" ry="3.90" fill="#000" opacity="0.16" filter="url(#bl)"/>
<circle cx="435.16" cy="244.00" r="0.4" fill="#777" opacity="0.5"/>
<circle cx="436.63" cy="244.33" r="0.4" fill="#777" opacity="0.5"/>
<circle cx="442.08" cy="240.98" r="0.4" fill="#777" opacity="0.5"/>
<circle cx="437.71" cy="243.93" r="0.4" fill="#777" opacity="0.5"/>
<circle cx="435.45" cy="244.82" r="0.4" fill="#777" opacity="0.5"/>
<circle cx="439.10" cy="251.03" r="0.4" fill="#777" opacity="0.5"/>
<circle cx="440.35" cy="245.08" r="0.4" fill="#777" opacity="0.5"/>
<circle cx="442.68" cy="242.59" r="0.4" fill="#777" opacity="0.5"/>
<circle cx="436.62" cy="246.43" r="0.4" fill="#777" opacity="0.5"/>
<circle cx="437.03" cy="242.74" r="0.4" fill="#777" opacity="0.5"/>
<circle cx="436.71" cy="241.85" r="0.4" fill="#777" opacity="0.5"/>
<circle cx="443.83" cy="248.14" r="0.4" fill="#777" opacity="0.5"/>
<circle cx="449.94" cy="244.40" r="0.4" fill="#777" opacity="0.5"/>
<circle cx="438.16" cy="244.63" r="0.4" fill="#777" opacity="0.5"/>
<circle cx="441.31" cy="245.13" r="0.4" fill="#777" opacity="0.5"/>
<circle cx="442.37" cy="244.36" r="0.4" fill="#777" opacity="0.5"/>
<circle cx="433.21" cy="248.92" r="0.4" fill="#777" opacity="0.5"/>
<circle cx="437.05" cy="247.88" r="0.4" fill="#777" opacity="0.5"/>
<circle cx="437.71" cy="245.44" r="0.4" fill="#777" opacity="0.5"/>
<circle cx="432.24" cy="242.76" r="0.4" fill="#777" opacity="0.5"/>
<circle cx="440.73" cy="246.52" r="0.4" fill="#777" opacity="0.5"/>
<circle cx="438.13" cy="245.44" r="0.4" fill="#777" opacity="0.5"/>
<circle cx="431.48" cy="245.19" r="0.4" fill="#777" opacity="0.5"/>
<circle cx="436.31" cy="242.62" r="0.4" fill="#777" opacity="0.5"/>
<circle cx="454.97" cy="244.44" r="0.4" fill="#666" opacity="0.45"/>
<circle cx="452.44" cy="244.05" r="0.4" fill="#666" opacity="0.45"/>
<circle cx="447.52" cy="245.13" r="0.4" fill="#666" opacity="0.45"/>
<circle cx="449.33" cy="244.86" r="0.4" fill="#666" opacity="0.45"/>
<circle cx="447.70" cy="245.61" r="0.4" fill="#666" opacity="0.45"/>
<circle cx="458.79" cy="245.64" r="0.4" fill="#666" opacity="0.45"/>
<circle cx="453.13" cy="244.58" r="0.4" fill="#666" opacity="0.45"/>
<circle cx="447.38" cy="243.73" r="0.4" fill="#666" opacity="0.45"/>
<circle cx="445.79" cy="245.85" r="0.4" fill="#666" opacity="0.45"/>
<circle cx="449.13" cy="244.04" r="0.4" fill="#666" opacity="0.45"/>
<circle cx="447.61" cy="246.27" r="0.4" fill="#666" opacity="0.45"/>
<circle cx="461.10" cy="244.87" r="0.4" fill="#666" opacity="0.45"/>
<circle cx="451.82" cy="243.47" r="0.4" fill="#666" opacity="0.45"/>
<circle cx="461.21" cy="242.89" r="0.4" fill="#666" opacity="0.45"/>
<circle cx="453.14" cy="244.39" r="0.4" fill="#666" opacity="0.45"/>
<circle cx="448.34" cy="245.54" r="0.4" fill="#666" opacity="0.45"/>
<circle cx="442.81" cy="245.82" r="0.4" fill="#666" opacity="0.45"/>
<circle cx="447.09" cy="245.04" r="0.4" fill="#666" opacity="0.45"/>
<circle cx="452.23" cy="245.66" r="0.4" fill="#666" opacity="0.45"/>
<circle cx="455.76" cy="241.91" r="0.4" fill="#666" opacity="0.45"/>
<circle cx="451.30" cy="244.92" r="0.4" fill="#666" opacity="0.45"/>
<circle cx="450.74" cy="245.77" r="0.4" fill="#666" opacity="0.45"/>
<circle cx="448.14" cy="245.21" r="0.4" fill="#666" opacity="0.45"/>
<circle cx="446.22" cy="245.12" r="0.4" fill="#666" opacity="0.45"/>
<circle cx="447.43" cy="243.76" r="0.4" fill="#666" opacity="0.45"/>
<circle cx="449.67" cy="244.99" r="0.4" fill="#666" opacity="0.45"/>
<circle cx="455.32" cy="244.48" r="0.4" fill="#666" opacity="0.45"/>
<circle cx="453.65" cy="244.10" r="0.4" fill="#666" opacity="0.45"/>
<circle cx="462.34" cy="247.32" r="0.4" fill="#666" opacity="0.45"/>
<circle cx="448.34" cy="245.04" r="0.4" fill="#666" opacity="0.45"/>
<circle cx="460.77" cy="244.27" r="0.4" fill="#666" opacity="0.45"/>
<circle cx="459.25" cy="247.20" r="0.4" fill="#666" opacity="0.45"/>
<circle cx="452.56" cy="245.54" r="0.4" fill="#666" opacity="0.45"/>
<circle cx="456.30" cy="247.30" r="0.4" fill="#666" opacity="0.45"/>
<circle cx="446.62" cy="243.90" r="0.4" fill="#666" opacity="0.45"/>
<circle cx="449.85" cy="243.89" r="0.4" fill="#666" opacity="0.45"/>
<circle cx="452.65" cy="245.21" r="0.4" fill="#666" opacity="0.45"/>
<circle cx="451.47" cy="246.85" r="0.4" fill="#666" opacity="0.45"/>
<circle cx="452.19" cy="245.19" r="0.4" fill="#666" opacity="0.45"/>
<circle cx="451.19" cy="245.20" r="0.4" fill="#666" opacity="0.45"/>
<circle cx="453.22" cy="245.26" r="0.4" fill="#666" opacity="0.45"/>
<circle cx="453.87" cy="245.87" r="0.4" fill="#666" opacity="0.45"/>
<ellipse cx="439.10" cy="245.10" rx="5.90" ry="3.00" fill="none" stroke="#000" stroke-width="0.55"/>
<ellipse cx="439.10" cy="245.10" rx="5.33" ry="2.80" fill="none" stroke="#000" stroke-width="0.55"/>
<ellipse cx="439.10" cy="245.10" rx="4.77" ry="2.60" fill="none" stroke="#000" stroke-width="0.55"/>
<ellipse cx="439.10" cy="245.10" rx="4.20" ry="2.40" fill="#000"/>
<ellipse cx="439.10" cy="245.10" rx="0.9" ry="0.6" fill="#fff" filter="url(#bl2)"/>
<ellipse cx="381.30" cy="299.80" rx="10.08" ry="3.90" fill="#000" opacity="0.16" filter="url(#bl)"/>
<circle cx="374.10" cy="300.71" r="0.4" fill="#777" opacity="0.5"/>
<circle cx="387.15" cy="298.57" r="0.4" fill="#777" opacity="0.5"/>
<circle cx="373.49" cy="299.64" r="0.4" fill="#777" opacity="0.5"/>
<circle cx="384.11" cy="302.44" r="0.4" fill="#777" opacity="0.5"/>
<circle cx="374.15" cy="296.70" r="0.4" fill="#777" opacity="0.5"/>
<circle cx="385.45" cy="300.94" r="0.4" fill="#777" opacity="0.5"/>
<circle cx="390.32" cy="302.16" r="0.4" fill="#777" opacity="0.5"/>
<circle cx="380.70" cy="299.14" r="0.4" fill="#777" opacity="0.5"/>
<circle cx="396.41" cy="299.11" r="0.4" fill="#777" opacity="0.5"/>
<circle cx="376.68" cy="297.07" r="0.4" fill="#777" opacity="0.5"/>
<circle cx="381.86" cy="300.15" r="0.4" fill="#777" opacity="0.5"/>
<circle cx="379.27" cy="299.65" r="0.4" fill="#777" opacity="0.5"/>
<circle cx="382.91" cy="301.46" r="0.4" fill="#777" opacity="0.5"/>
<circle cx="387.75" cy="300.30" r="0.4" fill="#777" opacity="0.5"/>
<circle cx="370.78" cy="301.48" r="0.4" fill="#777" opacity="0.5"/>
<circle cx="372.95" cy="299.39" r="0.4" fill="#777" opacity="0.5"/>
<circle cx="372.63" cy="299.81" r="0.4" fill="#777" opacity="0.5"/>
<circle cx="376.72" cy="300.31" r="0.4" fill="#777" opacity="0.5"/>
<circle cx="400.71" cy="299.68" r="0.4" fill="#777" opacity="0.5"/>
<circle cx="386.25" cy="296.62" r="0.4" fill="#777" opacity="0.5"/>
<circle cx="379.61" cy="301.39" r="0.4" fill="#777" opacity="0.5"/>
<circle cx="380.76" cy="300.69" r="0.4" fill="#777" opacity="0.5"/>
<circle cx="381.91" cy="297.39" r="0.4" fill="#777" opacity="0.5"/>
<circle cx="384.61" cy="297.85" r="0.4" fill="#777" opacity="0.5"/>
<circle cx="392.31" cy="298.59" r="0.4" fill="#777" opacity="0.5"/>
<circle cx="385.33" cy="299.81" r="0.4" fill="#777" opacity="0.5"/>
<circle cx="386.90" cy="298.35" r="0.4" fill="#777" opacity="0.5"/>
<circle cx="387.17" cy="299.50" r="0.4" fill="#777" opacity="0.5"/>
<circle cx="388.73" cy="301.30" r="0.4" fill="#777" opacity="0.5"/>
<circle cx="382.13" cy="297.93" r="0.4" fill="#777" opacity="0.5"/>
<circle cx="399.81" cy="298.94" r="0.4" fill="#666" opacity="0.45"/>
<circle cx="404.14" cy="299.22" r="0.4" fill="#666" opacity="0.45"/>
<circle cx="391.76" cy="300.96" r="0.4" fill="#666" opacity="0.45"/>
<circle cx="399.79" cy="300.60" r="0.4" fill="#666" opacity="0.45"/>
<circle cx="394.42" cy="300.28" r="0.4" fill="#666" opacity="0.45"/>
<circle cx="395.20" cy="298.53" r="0.4" fill="#666" opacity="0.45"/>
<circle cx="394.62" cy="300.55" r="0.4" fill="#666" opacity="0.45"/>
<circle cx="399.63" cy="301.98" r="0.4" fill="#666" opacity="0.45"/>
<circle cx="402.27" cy="299.05" r="0.4" fill="#666" opacity="0.45"/>
<circle cx="399.62" cy="298.66" r="0.4" fill="#666" opacity="0.45"/>
<circle cx="398.27" cy="298.77" r="0.4" fill="#666" opacity="0.45"/>
<circle cx="392.77" cy="299.20" r="0.4" fill="#666" opacity="0.45"/>
<circle cx="404.56" cy="298.08" r="0.4" fill="#666" opacity="0.45"/>
<circle cx="400.00" cy="300.20" r="0.4" fill="#666" opacity="0.45"/>
<circle cx="394.21" cy="300.04" r="0.4" fill="#666" opacity="0.45"/>
<circle cx="399.05" cy="303.23" r="0.4" fill="#666" opacity="0.45"/>
<circle cx="398.98" cy="299.70" r="0.4" fill="#666" opacity="0.45"/>
<circle cx="405.82" cy="300.07" r="0.4" fill="#666" opacity="0.45"/>
<circle cx="409.15" cy="298.85" r="0.4" fill="#666" opacity="0.45"/>
<circle cx="394.76" cy="297.65" r="0.4" fill="#666" opacity="0.45"/>
<circle cx="391.51" cy="299.97" r="0.4" fill="#666" opacity="0.45"/>
<circle cx="399.67" cy="299.28" r="0.4" fill="#666" opacity="0.45"/>
<circle cx="394.30" cy="297.77" r="0.4" fill="#666" opacity="0.45"/>
<circle cx="403.39" cy="301.79" r="0.4" fill="#666" opacity="0.45"/>
<circle cx="405.23" cy="303.00" r="0.4" fill="#666" opacity="0.45"/>
<circle cx="398.54" cy="298.26" r="0.4" fill="#666" opacity="0.45"/>
<circle cx="384.88" cy="297.90" r="0.4" fill="#666" opacity="0.45"/>
<circle cx="395.45" cy="300.50" r="0.4" fill="#666" opacity="0.45"/>
<circle cx="393.49" cy="296.99" r="0.4" fill="#666" opacity="0.45"/>
<circle cx="403.32" cy="301.78" r="0.4" fill="#666" opacity="0.45"/>
<circle cx="391.43" cy="301.17" r="0.4" fill="#666" opacity="0.45"/>
<circle cx="384.35" cy="300.29" r="0.4" fill="#666" opacity="0.45"/>
<circle cx="384.97" cy="298.12" r="0.4" fill="#666" opacity="0.45"/>
<circle cx="400.87" cy="299.63" r="0.4" fill="#666" opacity="0.45"/>
<circle cx="406.77" cy="298.91" r="0.4" fill="#666" opacity="0.45"/>
<circle cx="402.58" cy="301.24" r="0.4" fill="#666" opacity="0.45"/>
<circle cx="397.76" cy="300.23" r="0.4" fill="#666" opacity="0.45"/>
<circle cx="403.00" cy="300.27" r="0.4" fill="#666" opacity="0.45"/>
<circle cx="399.54" cy="299.41" r="0.4" fill="#666" opacity="0.45"/>
<circle cx="388.19" cy="298.34" r="0.4" fill="#666" opacity="0.45"/>
<circle cx="392.16" cy="301.49" r="0.4" fill="#666" opacity="0.45"/>
<circle cx="390.07" cy="298.49" r="0.4" fill="#666" opacity="0.45"/>
<circle cx="382.22" cy="300.26" r="0.4" fill="#666" opacity="0.45"/>
<circle cx="394.87" cy="300.37" r="0.4" fill="#666" opacity="0.45"/>
<circle cx="401.13" cy="300.55" r="0.4" fill="#666" opacity="0.45"/>
<circle cx="407.87" cy="302.05" r="0.4" fill="#666" opacity="0.45"/>
<circle cx="405.22" cy="301.79" r="0.4" fill="#666" opacity="0.45"/>
<circle cx="398.80" cy="298.24" r="0.4" fill="#666" opacity="0.45"/>
<circle cx="401.59" cy="300.10" r="0.4" fill="#666" opacity="0.45"/>
<circle cx="403.35" cy="299.23" r="0.4" fill="#666" opacity="0.45"/>
<circle cx="398.57" cy="299.09" r="0.4" fill="#666" opacity="0.45"/>
<circle cx="403.08" cy="300.19" r="0.4" fill="#666" opacity="0.45"/>
<circle cx="395.75" cy="300.57" r="0.4" fill="#666" opacity="0.45"/>
<circle cx="393.31" cy="298.38" r="0.4" fill="#666" opacity="0.45"/>
<ellipse cx="381.30" cy="299.80" rx="8.40" ry="3.00" fill="none" stroke="#000" stroke-width="0.55"/>
<ellipse cx="381.30" cy="299.80" rx="7.70" ry="2.77" fill="none" stroke="#000" stroke-width="0.55"/>
<ellipse cx="381.30" cy="299.80" rx="7.00" ry="2.53" fill="none" stroke="#000" stroke-width="0.55"/>
<ellipse cx="381.30" cy="299.80" rx="6.30" ry="2.30" fill="#000"/>
<ellipse cx="381.30" cy="299.80" rx="0.9" ry="0.6" fill="#fff" filter="url(#bl2)"/>
<ellipse cx="438.80" cy="300.70" rx="6.00" ry="4.29" fill="#000" opacity="0.16" filter="url(#bl)"/>
<circle cx="433.74" cy="301.31" r="0.4" fill="#777" opacity="0.5"/>
<circle cx="437.83" cy="299.43" r="0.4" fill="#777" opacity="0.5"/>
<circle cx="442.18" cy="300.87" r="0.4" fill="#777" opacity="0.5"/>
<circle cx="437.84" cy="305.46" r="0.4" fill="#777" opacity="0.5"/>
<circle cx="437.07" cy="297.37" r="0.4" fill="#777" opacity="0.5"/>
<circle cx="433.99" cy="299.31" r="0.4" fill="#777" opacity="0.5"/>
<circle cx="441.10" cy="302.95" r="0.4" fill="#777" opacity="0.5"/>
<circle cx="442.79" cy="305.59" r="0.4" fill="#777" opacity="0.5"/>
<circle cx="444.83" cy="302.46" r="0.4" fill="#777" opacity="0.5"/>
<circle cx="443.56" cy="302.52" r="0.4" fill="#777" opacity="0.5"/>
<circle cx="436.95" cy="303.00" r="0.4" fill="#777" opacity="0.5"/>
<circle cx="439.17" cy="300.27" r="0.4" fill="#777" opacity="0.5"/>
<circle cx="446.01" cy="302.88" r="0.4" fill="#777" opacity="0.5"/>
<circle cx="437.27" cy="300.64" r="0.4" fill="#777" opacity="0.5"/>
<circle cx="447.25" cy="300.18" r="0.4" fill="#777" opacity="0.5"/>
<circle cx="441.59" cy="302.50" r="0.4" fill="#777" opacity="0.5"/>
<circle cx="440.80" cy="302.42" r="0.4" fill="#777" opacity="0.5"/>
<circle cx="437.29" cy="299.61" r="0.4" fill="#777" opacity="0.5"/>
<circle cx="438.43" cy="299.89" r="0.4" fill="#777" opacity="0.5"/>
<circle cx="441.86" cy="304.97" r="0.4" fill="#777" opacity="0.5"/>
<circle cx="435.84" cy="302.31" r="0.4" fill="#777" opacity="0.5"/>
<circle cx="435.52" cy="299.00" r="0.4" fill="#777" opacity="0.5"/>
<circle cx="438.15" cy="301.14" r="0.4" fill="#777" opacity="0.5"/>
<circle cx="446.69" cy="300.73" r="0.4" fill="#666" opacity="0.45"/>
<circle cx="448.49" cy="299.12" r="0.4" fill="#666" opacity="0.45"/>
<circle cx="461.75" cy="299.25" r="0.4" fill="#666" opacity="0.45"/>
<circle cx="456.46" cy="301.28" r="0.4" fill="#666" opacity="0.45"/>
<circle cx="449.43" cy="300.86" r="0.4" fill="#666" opacity="0.45"/>
<circle cx="462.85" cy="300.02" r="0.4" fill="#666" opacity="0.45"/>
<circle cx="449.65" cy="300.74" r="0.4" fill="#666" opacity="0.45"/>
<circle cx="455.52" cy="302.25" r="0.4" fill="#666" opacity="0.45"/>
<circle cx="457.35" cy="300.14" r="0.4" fill="#666" opacity="0.45"/>
<circle cx="449.83" cy="300.85" r="0.4" fill="#666" opacity="0.45"/>
<circle cx="451.36" cy="299.87" r="0.4" fill="#666" opacity="0.45"/>
<circle cx="461.82" cy="301.28" r="0.4" fill="#666" opacity="0.45"/>
<circle cx="451.81" cy="302.26" r="0.4" fill="#666" opacity="0.45"/>
<circle cx="460.36" cy="299.56" r="0.4" fill="#666" opacity="0.45"/>
<circle cx="462.65" cy="299.27" r="0.4" fill="#666" opacity="0.45"/>
<circle cx="458.18" cy="300.88" r="0.4" fill="#666" opacity="0.45"/>
<circle cx="451.33" cy="299.24" r="0.4" fill="#666" opacity="0.45"/>
<circle cx="464.36" cy="300.57" r="0.4" fill="#666" opacity="0.45"/>
<circle cx="451.16" cy="299.38" r="0.4" fill="#666" opacity="0.45"/>
<circle cx="451.28" cy="300.39" r="0.4" fill="#666" opacity="0.45"/>
<circle cx="451.70" cy="300.28" r="0.4" fill="#666" opacity="0.45"/>
<circle cx="447.98" cy="297.84" r="0.4" fill="#666" opacity="0.45"/>
<circle cx="455.38" cy="301.50" r="0.4" fill="#666" opacity="0.45"/>
<circle cx="444.85" cy="299.28" r="0.4" fill="#666" opacity="0.45"/>
<circle cx="457.08" cy="301.63" r="0.4" fill="#666" opacity="0.45"/>
<circle cx="451.99" cy="300.02" r="0.4" fill="#666" opacity="0.45"/>
<circle cx="462.50" cy="301.41" r="0.4" fill="#666" opacity="0.45"/>
<circle cx="449.47" cy="299.31" r="0.4" fill="#666" opacity="0.45"/>
<circle cx="452.13" cy="300.33" r="0.4" fill="#666" opacity="0.45"/>
<circle cx="448.41" cy="300.68" r="0.4" fill="#666" opacity="0.45"/>
<circle cx="451.34" cy="300.43" r="0.4" fill="#666" opacity="0.45"/>
<circle cx="460.32" cy="301.15" r="0.4" fill="#666" opacity="0.45"/>
<circle cx="451.87" cy="298.68" r="0.4" fill="#666" opacity="0.45"/>
<circle cx="459.22" cy="300.02" r="0.4" fill="#666" opacity="0.45"/>
<circle cx="450.81" cy="301.24" r="0.4" fill="#666" opacity="0.45"/>
<circle cx="446.60" cy="300.44" r="0.4" fill="#666" opacity="0.45"/>
<circle cx="456.04" cy="300.07" r="0.4" fill="#666" opacity="0.45"/>
<circle cx="446.43" cy="299.49" r="0.4" fill="#666" opacity="0.45"/>
<circle cx="454.49" cy="299.12" r="0.4" fill="#666" opacity="0.45"/>
<circle cx="458.72" cy="301.00" r="0.4" fill="#666" opacity="0.45"/>
<circle cx="446.91" cy="299.22" r="0.4" fill="#666" opacity="0.45"/>
<circle cx="455.45" cy="301.63" r="0.4" fill="#666" opacity="0.45"/>
<circle cx="453.33" cy="300.81" r="0.4" fill="#666" opacity="0.45"/>
<circle cx="459.37" cy="300.29" r="0.4" fill="#666" opacity="0.45"/>
<circle cx="441.42" cy="301.74" r="0.4" fill="#666" opacity="0.45"/>
<circle cx="455.35" cy="299.48" r="0.4" fill="#666" opacity="0.45"/>
<circle cx="463.75" cy="299.62" r="0.4" fill="#666" opacity="0.45"/>
<circle cx="449.23" cy="299.94" r="0.4" fill="#666" opacity="0.45"/>
<circle cx="461.47" cy="298.12" r="0.4" fill="#666" opacity="0.45"/>
<circle cx="452.27" cy="299.50" r="0.4" fill="#666" opacity="0.45"/>
<circle cx="459.91" cy="299.13" r="0.4" fill="#666" opacity="0.45"/>
<ellipse cx="438.80" cy="300.70" rx="5.00" ry="3.30" fill="none" stroke="#000" stroke-width="0.55"/>
<ellipse cx="438.80" cy="300.70" rx="4.40" ry="3.00" fill="none" stroke="#000" stroke-width="0.55"/>
<ellipse cx="438.80" cy="300.70" rx="3.80" ry="2.70" fill="#000"/>
<ellipse cx="438.80" cy="300.70" rx="0.9" ry="0.6" fill="#fff" filter="url(#bl2)"/>
<ellipse cx="449.0" cy="300.4" rx="10.0" ry="2.0" fill="none" stroke="#000" stroke-width="0.6"/>
<ellipse cx="449.5" cy="300.4" rx="8.8" ry="1.3" fill="#000"/>
<rect x="390.50" y="239.90" width="33.00" height="22.20" fill="none" stroke="#666666" stroke-width="0.85"/>
<rect x="445.70" y="239.90" width="32.10" height="22.20" fill="none" stroke="#666666" stroke-width="0.85"/>
<rect x="390.50" y="294.50" width="33.00" height="22.80" fill="none" stroke="#666666" stroke-width="0.85"/>
<rect x="445.70" y="294.50" width="32.10" height="22.80" fill="none" stroke="#666666" stroke-width="0.85"/>
<text x="404.50" y="260.60" font-size="10.4" text-anchor="middle" textLength="15.4" lengthAdjust="spacingAndGlyphs">1.6</text>
<text x="460.60" y="260.00" font-size="10.4" text-anchor="middle" textLength="15.4" lengthAdjust="spacingAndGlyphs">2.7</text>
<text x="404.50" y="314.30" font-size="10.4" text-anchor="middle" textLength="15.4" lengthAdjust="spacingAndGlyphs">7.9</text>
<text x="462.00" y="313.50" font-size="10.4" text-anchor="middle" textLength="21.0" lengthAdjust="spacingAndGlyphs">40.8</text>
<line x1="345.90" y1="314.80" x2="345.90" y2="244.60" stroke="#3f4d69" stroke-width="1.5"/>
<path d="M345.90,240.60 L343.10,246.60 L348.70,246.60 Z" fill="#3f4d69"/>
<text x="348.60" y="331.90" font-size="10.0" text-anchor="middle" transform="rotate(-90 348.60 331.90)" textLength="26.3" lengthAdjust="spacingAndGlyphs">CD45</text>
<text x="355.00" y="301.70" font-size="8.6" textLength="9.2" lengthAdjust="spacingAndGlyphs">10</text>
<text x="364.30" y="298.60" font-size="6.6" textLength="3.8" lengthAdjust="spacingAndGlyphs">5</text>
<text x="355.00" y="311.60" font-size="8.6" textLength="9.2" lengthAdjust="spacingAndGlyphs">10</text>
<text x="364.30" y="308.50" font-size="6.6" textLength="3.8" lengthAdjust="spacingAndGlyphs">4</text>
<text x="355.00" y="322.00" font-size="8.6" textLength="9.2" lengthAdjust="spacingAndGlyphs">10</text>
<text x="364.30" y="318.90" font-size="6.6" textLength="3.8" lengthAdjust="spacingAndGlyphs">3</text>
<text x="365.80" y="348.00" font-size="9.2" text-anchor="middle" textLength="5.8" lengthAdjust="spacingAndGlyphs">0</text>
<text x="384.60" y="354.60" font-size="9.0" text-anchor="middle" transform="rotate(-90 384.60 354.60)">0</text>
<text x="394.90" y="364.20" font-size="8.8" textLength="9.2" lengthAdjust="spacingAndGlyphs" transform="rotate(-90 394.90 364.20)">10</text>
<text x="391.80" y="354.50" font-size="6.6" textLength="3.8" lengthAdjust="spacingAndGlyphs" transform="rotate(-90 391.80 354.50)">3</text>
<text x="412.90" y="364.20" font-size="8.8" textLength="9.2" lengthAdjust="spacingAndGlyphs" transform="rotate(-90 412.90 364.20)">10</text>
<text x="409.80" y="354.50" font-size="6.6" textLength="3.8" lengthAdjust="spacingAndGlyphs" transform="rotate(-90 409.80 354.50)">4</text>
<text x="422.80" y="364.20" font-size="8.8" textLength="9.2" lengthAdjust="spacingAndGlyphs" transform="rotate(-90 422.80 364.20)">10</text>
<text x="419.70" y="354.50" font-size="6.6" textLength="3.8" lengthAdjust="spacingAndGlyphs" transform="rotate(-90 419.70 354.50)">5</text>
<text x="372.00" y="377.60" font-size="10.0" textLength="33.7" lengthAdjust="spacingAndGlyphs">NKG2A</text>
<line x1="408.70" y1="374.00" x2="474.50" y2="374.00" stroke="#3f4d69" stroke-width="1.5"/>
<path d="M478.50,374.00 L472.50,371.20 L472.50,376.80 Z" fill="#3f4d69"/>
<text x="557.60" y="232.50" font-size="10.2" text-anchor="middle" textLength="28.3" lengthAdjust="spacingAndGlyphs">γδ IEL</text>
<text x="611.00" y="232.50" font-size="10.2" text-anchor="middle" textLength="31.0" lengthAdjust="spacingAndGlyphs">DN IEL</text>
<rect x="531.70" y="239.00" width="50.20" height="49.90" fill="none" stroke="#999999" stroke-width="0.8"/>
<line x1="537.28" y1="288.30" x2="537.28" y2="289.80" stroke="#555" stroke-width="0.5"/>
<line x1="542.86" y1="288.30" x2="542.86" y2="289.80" stroke="#555" stroke-width="0.5"/>
<line x1="548.43" y1="288.30" x2="548.43" y2="289.80" stroke="#555" stroke-width="0.5"/>
<line x1="554.01" y1="288.30" x2="554.01" y2="289.80" stroke="#555" stroke-width="0.5"/>
<line x1="559.59" y1="288.30" x2="559.59" y2="289.80" stroke="#555" stroke-width="0.5"/>
<line x1="565.17" y1="288.30" x2="565.17" y2="289.80" stroke="#555" stroke-width="0.5"/>
<line x1="570.74" y1="288.30" x2="570.74" y2="289.80" stroke="#555" stroke-width="0.5"/>
<line x1="576.32" y1="288.30" x2="576.32" y2="289.80" stroke="#555" stroke-width="0.5"/>
<line x1="530.80" y1="246.13" x2="532.30" y2="246.13" stroke="#555" stroke-width="0.5"/>
<line x1="530.80" y1="253.26" x2="532.30" y2="253.26" stroke="#555" stroke-width="0.5"/>
<line x1="530.80" y1="260.39" x2="532.30" y2="260.39" stroke="#555" stroke-width="0.5"/>
<line x1="530.80" y1="267.51" x2="532.30" y2="267.51" stroke="#555" stroke-width="0.5"/>
<line x1="530.80" y1="274.64" x2="532.30" y2="274.64" stroke="#555" stroke-width="0.5"/>
<line x1="530.80" y1="281.77" x2="532.30" y2="281.77" stroke="#555" stroke-width="0.5"/>
<rect x="586.00" y="238.70" width="50.60" height="50.20" fill="none" stroke="#999999" stroke-width="0.8"/>
<line x1="591.62" y1="288.30" x2="591.62" y2="289.80" stroke="#555" stroke-width="0.5"/>
<line x1="597.24" y1="288.30" x2="597.24" y2="289.80" stroke="#555" stroke-width="0.5"/>
<line x1="602.87" y1="288.30" x2="602.87" y2="289.80" stroke="#555" stroke-width="0.5"/>
<line x1="608.49" y1="288.30" x2="608.49" y2="289.80" stroke="#555" stroke-width="0.5"/>
<line x1="614.11" y1="288.30" x2="614.11" y2="289.80" stroke="#555" stroke-width="0.5"/>
<line x1="619.73" y1="288.30" x2="619.73" y2="289.80" stroke="#555" stroke-width="0.5"/>
<line x1="625.36" y1="288.30" x2="625.36" y2="289.80" stroke="#555" stroke-width="0.5"/>
<line x1="630.98" y1="288.30" x2="630.98" y2="289.80" stroke="#555" stroke-width="0.5"/>
<line x1="585.10" y1="245.87" x2="586.60" y2="245.87" stroke="#555" stroke-width="0.5"/>
<line x1="585.10" y1="253.04" x2="586.60" y2="253.04" stroke="#555" stroke-width="0.5"/>
<line x1="585.10" y1="260.21" x2="586.60" y2="260.21" stroke="#555" stroke-width="0.5"/>
<line x1="585.10" y1="267.39" x2="586.60" y2="267.39" stroke="#555" stroke-width="0.5"/>
<line x1="585.10" y1="274.56" x2="586.60" y2="274.56" stroke="#555" stroke-width="0.5"/>
<line x1="585.10" y1="281.73" x2="586.60" y2="281.73" stroke="#555" stroke-width="0.5"/>
<rect x="531.70" y="293.30" width="50.20" height="50.80" fill="none" stroke="#999999" stroke-width="0.8"/>
<line x1="537.28" y1="343.50" x2="537.28" y2="345.00" stroke="#555" stroke-width="0.5"/>
<line x1="542.86" y1="343.50" x2="542.86" y2="345.00" stroke="#555" stroke-width="0.5"/>
<line x1="548.43" y1="343.50" x2="548.43" y2="345.00" stroke="#555" stroke-width="0.5"/>
<line x1="554.01" y1="343.50" x2="554.01" y2="345.00" stroke="#555" stroke-width="0.5"/>
<line x1="559.59" y1="343.50" x2="559.59" y2="345.00" stroke="#555" stroke-width="0.5"/>
<line x1="565.17" y1="343.50" x2="565.17" y2="345.00" stroke="#555" stroke-width="0.5"/>
<line x1="570.74" y1="343.50" x2="570.74" y2="345.00" stroke="#555" stroke-width="0.5"/>
<line x1="576.32" y1="343.50" x2="576.32" y2="345.00" stroke="#555" stroke-width="0.5"/>
<line x1="530.80" y1="300.56" x2="532.30" y2="300.56" stroke="#555" stroke-width="0.5"/>
<line x1="530.80" y1="307.81" x2="532.30" y2="307.81" stroke="#555" stroke-width="0.5"/>
<line x1="530.80" y1="315.07" x2="532.30" y2="315.07" stroke="#555" stroke-width="0.5"/>
<line x1="530.80" y1="322.33" x2="532.30" y2="322.33" stroke="#555" stroke-width="0.5"/>
<line x1="530.80" y1="329.59" x2="532.30" y2="329.59" stroke="#555" stroke-width="0.5"/>
<line x1="530.80" y1="336.84" x2="532.30" y2="336.84" stroke="#555" stroke-width="0.5"/>
<rect x="586.00" y="294.20" width="50.60" height="50.80" fill="none" stroke="#999999" stroke-width="0.8"/>
<line x1="591.62" y1="344.40" x2="591.62" y2="345.90" stroke="#555" stroke-width="0.5"/>
<line x1="597.24" y1="344.40" x2="597.24" y2="345.90" stroke="#555" stroke-width="0.5"/>
<line x1="602.87" y1="344.40" x2="602.87" y2="345.90" stroke="#555" stroke-width="0.5"/>
<line x1="608.49" y1="344.40" x2="608.49" y2="345.90" stroke="#555" stroke-width="0.5"/>
<line x1="614.11" y1="344.40" x2="614.11" y2="345.90" stroke="#555" stroke-width="0.5"/>
<line x1="619.73" y1="344.40" x2="619.73" y2="345.90" stroke="#555" stroke-width="0.5"/>
<line x1="625.36" y1="344.40" x2="625.36" y2="345.90" stroke="#555" stroke-width="0.5"/>
<line x1="630.98" y1="344.40" x2="630.98" y2="345.90" stroke="#555" stroke-width="0.5"/>
<line x1="585.10" y1="301.46" x2="586.60" y2="301.46" stroke="#555" stroke-width="0.5"/>
<line x1="585.10" y1="308.71" x2="586.60" y2="308.71" stroke="#555" stroke-width="0.5"/>
<line x1="585.10" y1="315.97" x2="586.60" y2="315.97" stroke="#555" stroke-width="0.5"/>
<line x1="585.10" y1="323.23" x2="586.60" y2="323.23" stroke="#555" stroke-width="0.5"/>
<line x1="585.10" y1="330.49" x2="586.60" y2="330.49" stroke="#555" stroke-width="0.5"/>
<line x1="585.10" y1="337.74" x2="586.60" y2="337.74" stroke="#555" stroke-width="0.5"/>
<circle cx="593.90" cy="262.76" r="0.45" fill="#555" opacity="0.55"/>
<circle cx="597.83" cy="268.09" r="0.45" fill="#555" opacity="0.55"/>
<circle cx="596.64" cy="265.88" r="0.45" fill="#555" opacity="0.55"/>
<circle cx="592.34" cy="263.61" r="0.45" fill="#555" opacity="0.55"/>
<circle cx="598.02" cy="267.66" r="0.45" fill="#555" opacity="0.55"/>
<circle cx="592.84" cy="259.30" r="0.45" fill="#555" opacity="0.55"/>
<circle cx="593.19" cy="264.93" r="0.45" fill="#555" opacity="0.55"/>
<circle cx="595.03" cy="264.66" r="0.45" fill="#555" opacity="0.55"/>
<circle cx="595.87" cy="263.38" r="0.45" fill="#555" opacity="0.55"/>
<circle cx="593.77" cy="265.41" r="0.45" fill="#555" opacity="0.55"/>
<circle cx="592.84" cy="257.97" r="0.45" fill="#555" opacity="0.55"/>
<circle cx="592.78" cy="264.73" r="0.45" fill="#555" opacity="0.55"/>
<circle cx="598.65" cy="268.73" r="0.45" fill="#555" opacity="0.55"/>
<circle cx="598.97" cy="265.91" r="0.45" fill="#555" opacity="0.55"/>
<circle cx="596.61" cy="260.72" r="0.45" fill="#555" opacity="0.55"/>
<circle cx="595.93" cy="263.55" r="0.45" fill="#555" opacity="0.55"/>
<circle cx="594.17" cy="261.52" r="0.45" fill="#555" opacity="0.55"/>
<circle cx="597.67" cy="262.61" r="0.45" fill="#555" opacity="0.55"/>
<circle cx="596.68" cy="263.27" r="0.45" fill="#555" opacity="0.55"/>
<circle cx="593.05" cy="264.92" r="0.45" fill="#555" opacity="0.55"/>
<circle cx="598.69" cy="263.26" r="0.45" fill="#555" opacity="0.55"/>
<circle cx="596.75" cy="260.42" r="0.45" fill="#555" opacity="0.55"/>
<circle cx="599.15" cy="263.95" r="0.45" fill="#555" opacity="0.55"/>
<circle cx="592.53" cy="266.30" r="0.45" fill="#555" opacity="0.55"/>
<circle cx="594.99" cy="263.16" r="0.45" fill="#555" opacity="0.55"/>
<circle cx="596.05" cy="260.94" r="0.45" fill="#555" opacity="0.55"/>
<circle cx="595.88" cy="266.61" r="0.45" fill="#555" opacity="0.55"/>
<circle cx="592.69" cy="257.95" r="0.45" fill="#555" opacity="0.55"/>
<circle cx="594.54" cy="263.74" r="0.45" fill="#555" opacity="0.55"/>
<circle cx="591.74" cy="257.64" r="0.45" fill="#555" opacity="0.55"/>
<circle cx="593.42" cy="263.28" r="0.45" fill="#555" opacity="0.55"/>
<circle cx="593.71" cy="263.33" r="0.45" fill="#555" opacity="0.55"/>
<circle cx="592.35" cy="261.25" r="0.45" fill="#555" opacity="0.55"/>
<circle cx="595.52" cy="258.46" r="0.45" fill="#555" opacity="0.55"/>
<circle cx="593.97" cy="261.00" r="0.45" fill="#555" opacity="0.55"/>
<circle cx="596.70" cy="265.25" r="0.45" fill="#555" opacity="0.55"/>
<circle cx="596.70" cy="257.58" r="0.45" fill="#555" opacity="0.55"/>
<circle cx="595.57" cy="262.54" r="0.45" fill="#555" opacity="0.55"/>
<circle cx="593.78" cy="262.23" r="0.45" fill="#555" opacity="0.55"/>
<circle cx="597.11" cy="264.58" r="0.45" fill="#555" opacity="0.55"/>
<circle cx="597.23" cy="259.61" r="0.45" fill="#555" opacity="0.55"/>
<circle cx="595.79" cy="261.56" r="0.45" fill="#555" opacity="0.55"/>
<circle cx="595.63" cy="263.98" r="0.45" fill="#555" opacity="0.55"/>
<circle cx="598.41" cy="259.18" r="0.45" fill="#555" opacity="0.55"/>
<circle cx="591.73" cy="261.04" r="0.45" fill="#555" opacity="0.55"/>
<circle cx="592.99" cy="267.48" r="0.45" fill="#555" opacity="0.55"/>
<circle cx="592.90" cy="265.01" r="0.45" fill="#555" opacity="0.55"/>
<circle cx="596.61" cy="265.71" r="0.45" fill="#555" opacity="0.55"/>
<circle cx="595.80" cy="266.15" r="0.45" fill="#555" opacity="0.55"/>
<circle cx="592.06" cy="265.12" r="0.45" fill="#555" opacity="0.55"/>
<circle cx="596.89" cy="259.49" r="0.45" fill="#555" opacity="0.55"/>
<circle cx="600.11" cy="261.19" r="0.45" fill="#555" opacity="0.55"/>
<circle cx="595.80" cy="260.09" r="0.45" fill="#555" opacity="0.55"/>
<circle cx="594.09" cy="262.36" r="0.45" fill="#555" opacity="0.55"/>
<circle cx="596.37" cy="269.64" r="0.45" fill="#555" opacity="0.55"/>
<circle cx="592.27" cy="259.55" r="0.45" fill="#555" opacity="0.55"/>
<circle cx="589.83" cy="267.28" r="0.45" fill="#555" opacity="0.55"/>
<circle cx="593.14" cy="260.87" r="0.45" fill="#555" opacity="0.55"/>
<circle cx="596.10" cy="259.48" r="0.45" fill="#555" opacity="0.55"/>
<circle cx="595.10" cy="261.67" r="0.45" fill="#555" opacity="0.55"/>
<circle cx="596.13" cy="263.27" r="0.45" fill="#555" opacity="0.55"/>
<circle cx="595.95" cy="261.70" r="0.45" fill="#555" opacity="0.55"/>
<circle cx="596.73" cy="259.21" r="0.45" fill="#555" opacity="0.55"/>
<circle cx="598.00" cy="268.84" r="0.45" fill="#555" opacity="0.55"/>
<circle cx="597.30" cy="269.16" r="0.45" fill="#555" opacity="0.55"/>
<circle cx="597.98" cy="263.00" r="0.45" fill="#555" opacity="0.55"/>
<circle cx="593.42" cy="266.85" r="0.45" fill="#555" opacity="0.55"/>
<circle cx="592.06" cy="265.17" r="0.45" fill="#555" opacity="0.55"/>
<circle cx="594.62" cy="262.55" r="0.45" fill="#555" opacity="0.55"/>
<circle cx="596.34" cy="258.28" r="0.45" fill="#555" opacity="0.55"/>
<circle cx="597.15" cy="324.74" r="0.45" fill="#555" opacity="0.55"/>
<circle cx="590.13" cy="320.60" r="0.45" fill="#555" opacity="0.55"/>
<circle cx="595.98" cy="317.05" r="0.45" fill="#555" opacity="0.55"/>
<circle cx="592.75" cy="319.90" r="0.45" fill="#555" opacity="0.55"/>
<circle cx="597.85" cy="319.20" r="0.45" fill="#555" opacity="0.55"/>
<circle cx="596.69" cy="324.58" r="0.45" fill="#555" opacity="0.55"/>
<circle cx="600.71" cy="324.12" r="0.45" fill="#555" opacity="0.55"/>
<circle cx="592.07" cy="317.07" r="0.45" fill="#555" opacity="0.55"/>
<circle cx="593.41" cy="315.01" r="0.45" fill="#555" opacity="0.55"/>
<circle cx="589.66" cy="323.21" r="0.45" fill="#555" opacity="0.55"/>
<circle cx="591.52" cy="321.90" r="0.45" fill="#555" opacity="0.55"/>
<circle cx="595.77" cy="316.54" r="0.45" fill="#555" opacity="0.55"/>
<circle cx="596.99" cy="325.76" r="0.45" fill="#555" opacity="0.55"/>
<circle cx="597.50" cy="325.96" r="0.45" fill="#555" opacity="0.55"/>
<circle cx="595.04" cy="317.78" r="0.45" fill="#555" opacity="0.55"/>
<circle cx="596.05" cy="326.68" r="0.45" fill="#555" opacity="0.55"/>
<circle cx="597.40" cy="315.07" r="0.45" fill="#555" opacity="0.55"/>
<circle cx="597.35" cy="322.72" r="0.45" fill="#555" opacity="0.55"/>
<circle cx="594.10" cy="322.62" r="0.45" fill="#555" opacity="0.55"/>
<circle cx="592.08" cy="326.24" r="0.45" fill="#555" opacity="0.55"/>
<circle cx="593.06" cy="320.93" r="0.45" fill="#555" opacity="0.55"/>
<circle cx="594.47" cy="317.67" r="0.45" fill="#555" opacity="0.55"/>
<circle cx="596.88" cy="319.32" r="0.45" fill="#555" opacity="0.55"/>
<circle cx="595.04" cy="318.17" r="0.45" fill="#555" opacity="0.55"/>
<circle cx="594.49" cy="317.89" r="0.45" fill="#555" opacity="0.55"/>
<circle cx="593.86" cy="323.40" r="0.45" fill="#555" opacity="0.55"/>
<circle cx="598.65" cy="319.23" r="0.45" fill="#555" opacity="0.55"/>
<circle cx="600.81" cy="313.39" r="0.45" fill="#555" opacity="0.55"/>
<circle cx="596.73" cy="318.76" r="0.45" fill="#555" opacity="0.55"/>
<circle cx="593.65" cy="320.68" r="0.45" fill="#555" opacity="0.55"/>
<circle cx="594.61" cy="320.50" r="0.45" fill="#555" opacity="0.55"/>
<circle cx="594.60" cy="320.32" r="0.45" fill="#555" opacity="0.55"/>
<circle cx="595.43" cy="317.67" r="0.45" fill="#555" opacity="0.55"/>
<circle cx="593.15" cy="326.00" r="0.45" fill="#555" opacity="0.55"/>
<circle cx="597.42" cy="319.93" r="0.45" fill="#555" opacity="0.55"/>
<circle cx="595.15" cy="313.36" r="0.45" fill="#555" opacity="0.55"/>
<circle cx="588.53" cy="320.04" r="0.45" fill="#555" opacity="0.55"/>
<circle cx="593.10" cy="314.25" r="0.45" fill="#555" opacity="0.55"/>
<circle cx="594.63" cy="318.86" r="0.45" fill="#555" opacity="0.55"/>
<circle cx="595.07" cy="321.06" r="0.45" fill="#555" opacity="0.55"/>
<circle cx="595.16" cy="318.02" r="0.45" fill="#555" opacity="0.55"/>
<circle cx="596.21" cy="320.09" r="0.45" fill="#555" opacity="0.55"/>
<circle cx="599.92" cy="324.37" r="0.45" fill="#555" opacity="0.55"/>
<circle cx="594.56" cy="323.46" r="0.45" fill="#555" opacity="0.55"/>
<circle cx="593.31" cy="322.22" r="0.45" fill="#555" opacity="0.55"/>
<circle cx="596.17" cy="319.26" r="0.45" fill="#555" opacity="0.55"/>
<circle cx="599.52" cy="316.51" r="0.45" fill="#555" opacity="0.55"/>
<circle cx="597.90" cy="318.43" r="0.45" fill="#555" opacity="0.55"/>
<circle cx="595.39" cy="317.26" r="0.45" fill="#555" opacity="0.55"/>
<circle cx="594.16" cy="319.60" r="0.45" fill="#555" opacity="0.55"/>
<circle cx="594.48" cy="320.40" r="0.45" fill="#555" opacity="0.55"/>
<circle cx="592.86" cy="322.30" r="0.45" fill="#555" opacity="0.55"/>
<circle cx="594.44" cy="318.96" r="0.45" fill="#555" opacity="0.55"/>
<circle cx="590.38" cy="320.78" r="0.45" fill="#555" opacity="0.55"/>
<circle cx="593.11" cy="320.09" r="0.45" fill="#555" opacity="0.55"/>
<circle cx="598.26" cy="316.26" r="0.45" fill="#555" opacity="0.55"/>
<circle cx="597.35" cy="316.86" r="0.45" fill="#555" opacity="0.55"/>
<circle cx="597.74" cy="319.25" r="0.45" fill="#555" opacity="0.55"/>
<circle cx="595.64" cy="318.20" r="0.45" fill="#555" opacity="0.55"/>
<circle cx="591.33" cy="327.10" r="0.45" fill="#555" opacity="0.55"/>
<circle cx="598.57" cy="319.74" r="0.45" fill="#555" opacity="0.55"/>
<circle cx="596.62" cy="317.76" r="0.45" fill="#555" opacity="0.55"/>
<circle cx="594.31" cy="317.30" r="0.45" fill="#555" opacity="0.55"/>
<circle cx="588.34" cy="318.36" r="0.45" fill="#555" opacity="0.55"/>
<circle cx="594.72" cy="317.59" r="0.45" fill="#555" opacity="0.55"/>
<circle cx="598.48" cy="318.47" r="0.45" fill="#555" opacity="0.55"/>
<circle cx="594.31" cy="317.91" r="0.45" fill="#555" opacity="0.55"/>
<circle cx="595.97" cy="324.86" r="0.45" fill="#555" opacity="0.55"/>
<circle cx="596.47" cy="318.40" r="0.45" fill="#555" opacity="0.55"/>
<circle cx="595.48" cy="322.07" r="0.45" fill="#555" opacity="0.55"/>
<ellipse cx="540.30" cy="281.50" rx="7.20" ry="7.02" fill="#000" opacity="0.16" filter="url(#bl)"/>
<circle cx="539.94" cy="288.06" r="0.4" fill="#777" opacity="0.5"/>
<circle cx="537.01" cy="273.81" r="0.4" fill="#777" opacity="0.5"/>
<circle cx="541.49" cy="284.38" r="0.4" fill="#777" opacity="0.5"/>
<circle cx="542.11" cy="283.96" r="0.4" fill="#777" opacity="0.5"/>
<circle cx="540.08" cy="279.23" r="0.4" fill="#777" opacity="0.5"/>
<circle cx="537.44" cy="280.91" r="0.4" fill="#777" opacity="0.5"/>
<circle cx="539.06" cy="285.91" r="0.4" fill="#777" opacity="0.5"/>
<circle cx="543.31" cy="276.46" r="0.4" fill="#777" opacity="0.5"/>
<circle cx="543.66" cy="281.81" r="0.4" fill="#777" opacity="0.5"/>
<circle cx="545.44" cy="288.47" r="0.4" fill="#777" opacity="0.5"/>
<circle cx="543.09" cy="274.22" r="0.4" fill="#777" opacity="0.5"/>
<circle cx="543.50" cy="275.17" r="0.4" fill="#777" opacity="0.5"/>
<circle cx="547.39" cy="279.10" r="0.4" fill="#777" opacity="0.5"/>
<circle cx="539.96" cy="289.91" r="0.4" fill="#777" opacity="0.5"/>
<circle cx="533.28" cy="282.10" r="0.4" fill="#777" opacity="0.5"/>
<circle cx="536.21" cy="279.70" r="0.4" fill="#777" opacity="0.5"/>
<circle cx="537.37" cy="284.95" r="0.4" fill="#777" opacity="0.5"/>
<circle cx="539.48" cy="283.49" r="0.4" fill="#777" opacity="0.5"/>
<circle cx="543.48" cy="274.50" r="0.4" fill="#777" opacity="0.5"/>
<circle cx="546.71" cy="280.91" r="0.4" fill="#777" opacity="0.5"/>
<circle cx="533.72" cy="279.10" r="0.4" fill="#777" opacity="0.5"/>
<circle cx="544.48" cy="286.37" r="0.4" fill="#777" opacity="0.5"/>
<circle cx="537.85" cy="282.44" r="0.4" fill="#777" opacity="0.5"/>
<circle cx="541.80" cy="286.52" r="0.4" fill="#777" opacity="0.5"/>
<circle cx="540.20" cy="286.29" r="0.4" fill="#777" opacity="0.5"/>
<circle cx="536.98" cy="278.83" r="0.4" fill="#777" opacity="0.5"/>
<circle cx="543.62" cy="285.18" r="0.4" fill="#777" opacity="0.5"/>
<circle cx="540.58" cy="284.65" r="0.4" fill="#777" opacity="0.5"/>
<circle cx="541.67" cy="285.38" r="0.4" fill="#777" opacity="0.5"/>
<circle cx="545.76" cy="284.29" r="0.4" fill="#777" opacity="0.5"/>
<circle cx="544.30" cy="280.27" r="0.4" fill="#777" opacity="0.5"/>
<circle cx="538.40" cy="271.65" r="0.4" fill="#777" opacity="0.5"/>
<circle cx="542.54" cy="282.14" r="0.4" fill="#777" opacity="0.5"/>
<circle cx="543.07" cy="273.76" r="0.4" fill="#777" opacity="0.5"/>
<circle cx="538.71" cy="279.55" r="0.4" fill="#777" opacity="0.5"/>
<ellipse cx="540.30" cy="281.50" rx="6.00" ry="5.40" fill="none" stroke="#000" stroke-width="0.55"/>
<ellipse cx="540.30" cy="281.50" rx="5.53" ry="5.00" fill="none" stroke="#000" stroke-width="0.55"/>
<ellipse cx="540.30" cy="281.50" rx="5.07" ry="4.60" fill="none" stroke="#000" stroke-width="0.55"/>
<ellipse cx="540.30" cy="281.50" rx="4.60" ry="4.20" fill="#000"/>
<ellipse cx="540.30" cy="281.50" rx="0.9" ry="0.6" fill="#fff" filter="url(#bl2)"/>
<ellipse cx="594.70" cy="279.80" rx="7.32" ry="7.67" fill="#000" opacity="0.16" filter="url(#bl)"/>
<circle cx="599.91" cy="284.37" r="0.4" fill="#777" opacity="0.5"/>
<circle cx="588.85" cy="270.65" r="0.4" fill="#777" opacity="0.5"/>
<circle cx="594.27" cy="283.40" r="0.4" fill="#777" opacity="0.5"/>
<circle cx="594.07" cy="272.92" r="0.4" fill="#777" opacity="0.5"/>
<circle cx="592.58" cy="286.57" r="0.4" fill="#777" opacity="0.5"/>
<circle cx="588.80" cy="284.75" r="0.4" fill="#777" opacity="0.5"/>
<circle cx="596.93" cy="282.07" r="0.4" fill="#777" opacity="0.5"/>
<circle cx="597.97" cy="277.22" r="0.4" fill="#777" opacity="0.5"/>
<circle cx="594.20" cy="288.31" r="0.4" fill="#777" opacity="0.5"/>
<circle cx="593.05" cy="277.82" r="0.4" fill="#777" opacity="0.5"/>
<circle cx="588.72" cy="277.59" r="0.4" fill="#777" opacity="0.5"/>
<circle cx="597.86" cy="285.70" r="0.4" fill="#777" opacity="0.5"/>
<circle cx="597.47" cy="282.79" r="0.4" fill="#777" opacity="0.5"/>
<circle cx="597.20" cy="281.39" r="0.4" fill="#777" opacity="0.5"/>
<circle cx="599.00" cy="279.14" r="0.4" fill="#777" opacity="0.5"/>
<circle cx="599.28" cy="279.50" r="0.4" fill="#777" opacity="0.5"/>
<circle cx="587.94" cy="273.81" r="0.4" fill="#777" opacity="0.5"/>
<circle cx="593.90" cy="277.68" r="0.4" fill="#777" opacity="0.5"/>
<circle cx="589.57" cy="276.25" r="0.4" fill="#777" opacity="0.5"/>
<circle cx="595.50" cy="281.71" r="0.4" fill="#777" opacity="0.5"/>
<circle cx="598.32" cy="275.79" r="0.4" fill="#777" opacity="0.5"/>
<circle cx="596.32" cy="284.66" r="0.4" fill="#777" opacity="0.5"/>
<circle cx="596.22" cy="288.08" r="0.4" fill="#777" opacity="0.5"/>
<circle cx="592.71" cy="279.79" r="0.4" fill="#777" opacity="0.5"/>
<circle cx="595.47" cy="277.94" r="0.4" fill="#777" opacity="0.5"/>
<circle cx="594.51" cy="280.90" r="0.4" fill="#777" opacity="0.5"/>
<circle cx="594.57" cy="277.48" r="0.4" fill="#777" opacity="0.5"/>
<circle cx="592.84" cy="279.46" r="0.4" fill="#777" opacity="0.5"/>
<circle cx="588.26" cy="280.68" r="0.4" fill="#777" opacity="0.5"/>
<circle cx="590.11" cy="278.67" r="0.4" fill="#777" opacity="0.5"/>
<circle cx="590.14" cy="280.28" r="0.4" fill="#777" opacity="0.5"/>
<circle cx="593.13" cy="278.61" r="0.4" fill="#777" opacity="0.5"/>
<circle cx="591.61" cy="280.35" r="0.4" fill="#777" opacity="0.5"/>
<circle cx="601.40" cy="271.45" r="0.4" fill="#777" opacity="0.5"/>
<circle cx="596.87" cy="280.86" r="0.4" fill="#777" opacity="0.5"/>
<circle cx="593.10" cy="273.92" r="0.4" fill="#777" opacity="0.5"/>
<circle cx="601.32" cy="280.68" r="0.4" fill="#777" opacity="0.5"/>
<circle cx="598.90" cy="278.09" r="0.4" fill="#777" opacity="0.5"/>
<ellipse cx="594.70" cy="279.80" rx="6.10" ry="5.90" fill="none" stroke="#000" stroke-width="0.55"/>
<ellipse cx="594.70" cy="279.80" rx="5.64" ry="5.46" fill="none" stroke="#000" stroke-width="0.55"/>
<ellipse cx="594.70" cy="279.80" rx="5.18" ry="5.02" fill="none" stroke="#000" stroke-width="0.55"/>
<ellipse cx="594.70" cy="279.80" rx="4.72" ry="4.58" fill="none" stroke="#000" stroke-width="0.55"/>
<ellipse cx="594.70" cy="279.80" rx="4.26" ry="4.14" fill="none" stroke="#000" stroke-width="0.55"/>
<ellipse cx="594.70" cy="279.80" rx="3.80" ry="3.70" fill="#000"/>
<ellipse cx="594.70" cy="279.80" rx="0.9" ry="0.6" fill="#fff" filter="url(#bl2)"/>
<ellipse cx="540.30" cy="335.60" rx="7.20" ry="7.02" fill="#000" opacity="0.16" filter="url(#bl)"/>
<circle cx="540.93" cy="335.46" r="0.4" fill="#777" opacity="0.5"/>
<circle cx="540.08" cy="333.08" r="0.4" fill="#777" opacity="0.5"/>
<circle cx="541.07" cy="335.53" r="0.4" fill="#777" opacity="0.5"/>
<circle cx="544.92" cy="331.11" r="0.4" fill="#777" opacity="0.5"/>
<circle cx="551.18" cy="321.60" r="0.4" fill="#777" opacity="0.5"/>
<circle cx="540.55" cy="339.52" r="0.4" fill="#777" opacity="0.5"/>
<circle cx="539.41" cy="332.21" r="0.4" fill="#777" opacity="0.5"/>
<circle cx="540.05" cy="338.70" r="0.4" fill="#777" opacity="0.5"/>
<circle cx="545.66" cy="328.74" r="0.4" fill="#777" opacity="0.5"/>
<circle cx="541.18" cy="332.66" r="0.4" fill="#777" opacity="0.5"/>
<circle cx="544.78" cy="333.25" r="0.4" fill="#777" opacity="0.5"/>
<circle cx="540.84" cy="340.33" r="0.4" fill="#777" opacity="0.5"/>
<circle cx="538.81" cy="336.45" r="0.4" fill="#777" opacity="0.5"/>
<circle cx="536.66" cy="333.99" r="0.4" fill="#777" opacity="0.5"/>
<circle cx="531.52" cy="331.38" r="0.4" fill="#777" opacity="0.5"/>
<circle cx="537.69" cy="332.11" r="0.4" fill="#777" opacity="0.5"/>
<circle cx="549.28" cy="324.93" r="0.4" fill="#777" opacity="0.5"/>
<circle cx="530.20" cy="336.24" r="0.4" fill="#777" opacity="0.5"/>
<circle cx="542.59" cy="335.88" r="0.4" fill="#777" opacity="0.5"/>
<circle cx="544.95" cy="344.60" r="0.4" fill="#777" opacity="0.5"/>
<circle cx="537.86" cy="329.19" r="0.4" fill="#777" opacity="0.5"/>
<circle cx="539.18" cy="340.52" r="0.4" fill="#777" opacity="0.5"/>
<circle cx="541.76" cy="334.31" r="0.4" fill="#777" opacity="0.5"/>
<circle cx="541.28" cy="336.50" r="0.4" fill="#777" opacity="0.5"/>
<circle cx="532.41" cy="337.22" r="0.4" fill="#777" opacity="0.5"/>
<circle cx="536.30" cy="334.12" r="0.4" fill="#777" opacity="0.5"/>
<circle cx="537.66" cy="335.56" r="0.4" fill="#777" opacity="0.5"/>
<circle cx="544.02" cy="334.31" r="0.4" fill="#777" opacity="0.5"/>
<circle cx="540.64" cy="339.31" r="0.4" fill="#777" opacity="0.5"/>
<circle cx="541.97" cy="332.23" r="0.4" fill="#777" opacity="0.5"/>
<circle cx="543.44" cy="333.40" r="0.4" fill="#777" opacity="0.5"/>
<circle cx="538.76" cy="336.21" r="0.4" fill="#777" opacity="0.5"/>
<circle cx="546.56" cy="331.37" r="0.4" fill="#777" opacity="0.5"/>
<circle cx="538.25" cy="335.94" r="0.4" fill="#777" opacity="0.5"/>
<circle cx="536.22" cy="335.80" r="0.4" fill="#777" opacity="0.5"/>
<ellipse cx="540.30" cy="335.60" rx="6.00" ry="5.40" fill="none" stroke="#000" stroke-width="0.55"/>
<ellipse cx="540.30" cy="335.60" rx="5.53" ry="5.00" fill="none" stroke="#000" stroke-width="0.55"/>
<ellipse cx="540.30" cy="335.60" rx="5.07" ry="4.60" fill="none" stroke="#000" stroke-width="0.55"/>
<ellipse cx="540.30" cy="335.60" rx="4.60" ry="4.20" fill="#000"/>
<ellipse cx="540.30" cy="335.60" rx="0.9" ry="0.6" fill="#fff" filter="url(#bl2)"/>
<ellipse cx="594.70" cy="335.20" rx="7.32" ry="7.67" fill="#000" opacity="0.16" filter="url(#bl)"/>
<circle cx="591.55" cy="339.33" r="0.4" fill="#777" opacity="0.5"/>
<circle cx="590.67" cy="337.76" r="0.4" fill="#777" opacity="0.5"/>
<circle cx="589.43" cy="338.92" r="0.4" fill="#777" opacity="0.5"/>
<circle cx="594.36" cy="341.89" r="0.4" fill="#777" opacity="0.5"/>
<circle cx="598.31" cy="335.45" r="0.4" fill="#777" opacity="0.5"/>
<circle cx="593.50" cy="337.45" r="0.4" fill="#777" opacity="0.5"/>
<circle cx="594.55" cy="331.14" r="0.4" fill="#777" opacity="0.5"/>
<circle cx="597.31" cy="323.75" r="0.4" fill="#777" opacity="0.5"/>
<circle cx="594.50" cy="345.19" r="0.4" fill="#777" opacity="0.5"/>
<circle cx="596.94" cy="328.65" r="0.4" fill="#777" opacity="0.5"/>
<circle cx="599.35" cy="336.09" r="0.4" fill="#777" opacity="0.5"/>
<circle cx="592.20" cy="332.37" r="0.4" fill="#777" opacity="0.5"/>
<circle cx="595.29" cy="339.21" r="0.4" fill="#777" opacity="0.5"/>
<circle cx="594.31" cy="343.50" r="0.4" fill="#777" opacity="0.5"/>
<circle cx="592.12" cy="339.25" r="0.4" fill="#777" opacity="0.5"/>
<circle cx="588.23" cy="326.21" r="0.4" fill="#777" opacity="0.5"/>
<circle cx="594.36" cy="336.56" r="0.4" fill="#777" opacity="0.5"/>
<circle cx="602.66" cy="333.74" r="0.4" fill="#777" opacity="0.5"/>
<circle cx="596.00" cy="329.64" r="0.4" fill="#777" opacity="0.5"/>
<circle cx="594.94" cy="337.92" r="0.4" fill="#777" opacity="0.5"/>
<circle cx="593.11" cy="340.14" r="0.4" fill="#777" opacity="0.5"/>
<circle cx="600.76" cy="338.14" r="0.4" fill="#777" opacity="0.5"/>
<circle cx="594.60" cy="334.44" r="0.4" fill="#777" opacity="0.5"/>
<circle cx="597.42" cy="330.61" r="0.4" fill="#777" opacity="0.5"/>
<circle cx="598.93" cy="332.58" r="0.4" fill="#777" opacity="0.5"/>
<circle cx="596.03" cy="330.22" r="0.4" fill="#777" opacity="0.5"/>
<circle cx="590.89" cy="331.58" r="0.4" fill="#777" opacity="0.5"/>
<circle cx="597.06" cy="335.57" r="0.4" fill="#777" opacity="0.5"/>
<circle cx="595.18" cy="339.99" r="0.4" fill="#777" opacity="0.5"/>
<circle cx="591.08" cy="339.50" r="0.4" fill="#777" opacity="0.5"/>
<circle cx="592.37" cy="331.18" r="0.4" fill="#777" opacity="0.5"/>
<circle cx="592.54" cy="340.32" r="0.4" fill="#777" opacity="0.5"/>
<circle cx="601.84" cy="332.79" r="0.4" fill="#777" opacity="0.5"/>
<circle cx="590.29" cy="327.99" r="0.4" fill="#777" opacity="0.5"/>
<circle cx="594.97" cy="337.36" r="0.4" fill="#777" opacity="0.5"/>
<circle cx="596.51" cy="336.53" r="0.4" fill="#777" opacity="0.5"/>
<circle cx="600.68" cy="335.58" r="0.4" fill="#777" opacity="0.5"/>
<circle cx="596.53" cy="334.07" r="0.4" fill="#777" opacity="0.5"/>
<ellipse cx="594.70" cy="335.20" rx="6.10" ry="5.90" fill="none" stroke="#000" stroke-width="0.55"/>
<ellipse cx="594.70" cy="335.20" rx="5.64" ry="5.46" fill="none" stroke="#000" stroke-width="0.55"/>
<ellipse cx="594.70" cy="335.20" rx="5.18" ry="5.02" fill="none" stroke="#000" stroke-width="0.55"/>
<ellipse cx="594.70" cy="335.20" rx="4.72" ry="4.58" fill="none" stroke="#000" stroke-width="0.55"/>
<ellipse cx="594.70" cy="335.20" rx="4.26" ry="4.14" fill="none" stroke="#000" stroke-width="0.55"/>
<ellipse cx="594.70" cy="335.20" rx="3.80" ry="3.70" fill="#000"/>
<ellipse cx="594.70" cy="335.20" rx="0.9" ry="0.6" fill="#fff" filter="url(#bl2)"/>
<rect x="534.30" y="256.50" width="12.20" height="14.00" fill="none" stroke="#aaa" stroke-width="0.85"/>
<rect x="548.70" y="271.90" width="27.60" height="16.50" fill="none" stroke="#666666" stroke-width="0.85"/>
<rect x="589.00" y="255.30" width="12.20" height="14.90" fill="none" stroke="#999" stroke-width="0.85"/>
<rect x="603.00" y="271.40" width="27.60" height="16.30" fill="none" stroke="#666666" stroke-width="0.85"/>
<rect x="533.80" y="311.40" width="12.70" height="13.50" fill="none" stroke="#aaa" stroke-width="0.85"/>
<rect x="548.30" y="326.60" width="27.50" height="16.60" fill="none" stroke="#666666" stroke-width="0.85"/>
<rect x="588.40" y="311.70" width="14.00" height="15.80" fill="none" stroke="#888" stroke-width="0.85"/>
<rect x="602.40" y="327.50" width="28.10" height="15.70" fill="none" stroke="#666666" stroke-width="0.85"/>
<text x="541.30" y="251.30" font-size="10.4" text-anchor="middle" textLength="15.4" lengthAdjust="spacingAndGlyphs">0.1</text>
<text x="563.50" y="282.80" font-size="10.4" text-anchor="middle" textLength="15.4" lengthAdjust="spacingAndGlyphs">0.1</text>
<text x="600.30" y="250.40" font-size="10.4" text-anchor="middle" textLength="15.4" lengthAdjust="spacingAndGlyphs">5.3</text>
<text x="615.20" y="282.30" font-size="10.4" text-anchor="middle" textLength="15.4" lengthAdjust="spacingAndGlyphs">0.2</text>
<text x="542.50" y="306.50" font-size="10.4" text-anchor="middle" textLength="15.4" lengthAdjust="spacingAndGlyphs">0.1</text>
<text x="563.50" y="338.00" font-size="10.4" text-anchor="middle" textLength="15.4" lengthAdjust="spacingAndGlyphs">0.3</text>
<text x="600.90" y="307.00" font-size="10.4" text-anchor="middle" textLength="15.4" lengthAdjust="spacingAndGlyphs">9.4</text>
<text x="616.50" y="338.00" font-size="10.4" text-anchor="middle" textLength="15.4" lengthAdjust="spacingAndGlyphs">0.2</text>
<line x1="503.50" y1="298.60" x2="503.50" y2="244.60" stroke="#3f4d69" stroke-width="1.5"/>
<path d="M503.50,240.60 L500.70,246.60 L506.30,246.60 Z" fill="#3f4d69"/>
<text x="506.80" y="323.00" font-size="10.0" text-anchor="middle" transform="rotate(-90 506.80 323.00)" textLength="41.7" lengthAdjust="spacingAndGlyphs">Ly49A/D</text>
<text x="512.90" y="301.40" font-size="8.6" textLength="9.2" lengthAdjust="spacingAndGlyphs">10</text>
<text x="522.20" y="298.30" font-size="6.6" textLength="3.8" lengthAdjust="spacingAndGlyphs">5</text>
<text x="512.90" y="310.60" font-size="8.6" textLength="9.2" lengthAdjust="spacingAndGlyphs">10</text>
<text x="522.20" y="307.50" font-size="6.6" textLength="3.8" lengthAdjust="spacingAndGlyphs">4</text>
<text x="512.90" y="321.80" font-size="8.6" textLength="9.2" lengthAdjust="spacingAndGlyphs">10</text>
<text x="522.20" y="318.70" font-size="6.6" textLength="3.8" lengthAdjust="spacingAndGlyphs">3</text>
<text x="523.70" y="348.00" font-size="9.2" text-anchor="middle" textLength="5.8" lengthAdjust="spacingAndGlyphs">0</text>
<text x="542.10" y="354.60" font-size="9.0" text-anchor="middle" transform="rotate(-90 542.10 354.60)">0</text>
<text x="559.10" y="364.20" font-size="8.8" textLength="9.2" lengthAdjust="spacingAndGlyphs" transform="rotate(-90 559.10 364.20)">10</text>
<text x="556.00" y="354.50" font-size="6.6" textLength="3.8" lengthAdjust="spacingAndGlyphs" transform="rotate(-90 556.00 354.50)">3</text>
<text x="571.50" y="364.20" font-size="8.8" textLength="9.2" lengthAdjust="spacingAndGlyphs" transform="rotate(-90 571.50 364.20)">10</text>
<text x="568.40" y="354.50" font-size="6.6" textLength="3.8" lengthAdjust="spacingAndGlyphs" transform="rotate(-90 568.40 354.50)">4</text>
<text x="581.20" y="364.20" font-size="8.8" textLength="9.2" lengthAdjust="spacingAndGlyphs" transform="rotate(-90 581.20 364.20)">10</text>
<text x="578.10" y="354.50" font-size="6.6" textLength="3.8" lengthAdjust="spacingAndGlyphs" transform="rotate(-90 578.10 354.50)">5</text>
<text x="528.30" y="377.60" font-size="10.0" textLength="31.7" lengthAdjust="spacingAndGlyphs">Ly49D</text>
<line x1="562.40" y1="374.00" x2="631.20" y2="374.00" stroke="#3f4d69" stroke-width="1.5"/>
<path d="M635.20,374.00 L629.20,371.20 L629.20,376.80 Z" fill="#3f4d69"/>
<text x="97.90" y="545.50" font-size="10.2" text-anchor="middle" textLength="28.3" lengthAdjust="spacingAndGlyphs">γδ IEL</text>
<text x="151.30" y="545.50" font-size="10.2" text-anchor="middle" textLength="31.0" lengthAdjust="spacingAndGlyphs">DN IEL</text>
<text x="0.60" y="592.70" font-size="10.4" font-style="italic" textLength="22.0" lengthAdjust="spacingAndGlyphs">Ikzf3</text>
<text x="23.30" y="588.30" font-size="7.0" font-style="italic" textLength="9.9" lengthAdjust="spacingAndGlyphs">+/+</text>
<text x="0.60" y="643.80" font-size="10.4" font-style="italic" textLength="22.0" lengthAdjust="spacingAndGlyphs">Ikzf3</text>
<text x="23.30" y="639.40" font-size="7.0" font-style="italic" textLength="9.9" lengthAdjust="spacingAndGlyphs">−/−</text>
<rect x="71.70" y="555.40" width="50.80" height="50.10" fill="none" stroke="#999999" stroke-width="0.8"/>
<line x1="77.34" y1="604.90" x2="77.34" y2="606.40" stroke="#555" stroke-width="0.5"/>
<line x1="82.99" y1="604.90" x2="82.99" y2="606.40" stroke="#555" stroke-width="0.5"/>
<line x1="88.63" y1="604.90" x2="88.63" y2="606.40" stroke="#555" stroke-width="0.5"/>
<line x1="94.28" y1="604.90" x2="94.28" y2="606.40" stroke="#555" stroke-width="0.5"/>
<line x1="99.92" y1="604.90" x2="99.92" y2="606.40" stroke="#555" stroke-width="0.5"/>
<line x1="105.57" y1="604.90" x2="105.57" y2="606.40" stroke="#555" stroke-width="0.5"/>
<line x1="111.21" y1="604.90" x2="111.21" y2="606.40" stroke="#555" stroke-width="0.5"/>
<line x1="116.86" y1="604.90" x2="116.86" y2="606.40" stroke="#555" stroke-width="0.5"/>
<line x1="70.80" y1="562.56" x2="72.30" y2="562.56" stroke="#555" stroke-width="0.5"/>
<line x1="70.80" y1="569.71" x2="72.30" y2="569.71" stroke="#555" stroke-width="0.5"/>
<line x1="70.80" y1="576.87" x2="72.30" y2="576.87" stroke="#555" stroke-width="0.5"/>
<line x1="70.80" y1="584.03" x2="72.30" y2="584.03" stroke="#555" stroke-width="0.5"/>
<line x1="70.80" y1="591.19" x2="72.30" y2="591.19" stroke="#555" stroke-width="0.5"/>
<line x1="70.80" y1="598.34" x2="72.30" y2="598.34" stroke="#555" stroke-width="0.5"/>
<rect x="125.40" y="555.40" width="51.40" height="50.10" fill="none" stroke="#999999" stroke-width="0.8"/>
<line x1="131.11" y1="604.90" x2="131.11" y2="606.40" stroke="#555" stroke-width="0.5"/>
<line x1="136.82" y1="604.90" x2="136.82" y2="606.40" stroke="#555" stroke-width="0.5"/>
<line x1="142.53" y1="604.90" x2="142.53" y2="606.40" stroke="#555" stroke-width="0.5"/>
<line x1="148.24" y1="604.90" x2="148.24" y2="606.40" stroke="#555" stroke-width="0.5"/>
<line x1="153.96" y1="604.90" x2="153.96" y2="606.40" stroke="#555" stroke-width="0.5"/>
<line x1="159.67" y1="604.90" x2="159.67" y2="606.40" stroke="#555" stroke-width="0.5"/>
<line x1="165.38" y1="604.90" x2="165.38" y2="606.40" stroke="#555" stroke-width="0.5"/>
<line x1="171.09" y1="604.90" x2="171.09" y2="606.40" stroke="#555" stroke-width="0.5"/>
<line x1="124.50" y1="562.56" x2="126.00" y2="562.56" stroke="#555" stroke-width="0.5"/>
<line x1="124.50" y1="569.71" x2="126.00" y2="569.71" stroke="#555" stroke-width="0.5"/>
<line x1="124.50" y1="576.87" x2="126.00" y2="576.87" stroke="#555" stroke-width="0.5"/>
<line x1="124.50" y1="584.03" x2="126.00" y2="584.03" stroke="#555" stroke-width="0.5"/>
<line x1="124.50" y1="591.19" x2="126.00" y2="591.19" stroke="#555" stroke-width="0.5"/>
<line x1="124.50" y1="598.34" x2="126.00" y2="598.34" stroke="#555" stroke-width="0.5"/>
<rect x="71.70" y="609.30" width="50.80" height="50.80" fill="none" stroke="#999999" stroke-width="0.8"/>
<line x1="77.34" y1="659.50" x2="77.34" y2="661.00" stroke="#555" stroke-width="0.5"/>
<line x1="82.99" y1="659.50" x2="82.99" y2="661.00" stroke="#555" stroke-width="0.5"/>
<line x1="88.63" y1="659.50" x2="88.63" y2="661.00" stroke="#555" stroke-width="0.5"/>
<line x1="94.28" y1="659.50" x2="94.28" y2="661.00" stroke="#555" stroke-width="0.5"/>
<line x1="99.92" y1="659.50" x2="99.92" y2="661.00" stroke="#555" stroke-width="0.5"/>
<line x1="105.57" y1="659.50" x2="105.57" y2="661.00" stroke="#555" stroke-width="0.5"/>
<line x1="111.21" y1="659.50" x2="111.21" y2="661.00" stroke="#555" stroke-width="0.5"/>
<line x1="116.86" y1="659.50" x2="116.86" y2="661.00" stroke="#555" stroke-width="0.5"/>
<line x1="70.80" y1="616.56" x2="72.30" y2="616.56" stroke="#555" stroke-width="0.5"/>
<line x1="70.80" y1="623.81" x2="72.30" y2="623.81" stroke="#555" stroke-width="0.5"/>
<line x1="70.80" y1="631.07" x2="72.30" y2="631.07" stroke="#555" stroke-width="0.5"/>
<line x1="70.80" y1="638.33" x2="72.30" y2="638.33" stroke="#555" stroke-width="0.5"/>
<line x1="70.80" y1="645.59" x2="72.30" y2="645.59" stroke="#555" stroke-width="0.5"/>
<line x1="70.80" y1="652.84" x2="72.30" y2="652.84" stroke="#555" stroke-width="0.5"/>
<rect x="126.70" y="609.30" width="50.80" height="50.80" fill="none" stroke="#999999" stroke-width="0.8"/>
<line x1="132.34" y1="659.50" x2="132.34" y2="661.00" stroke="#555" stroke-width="0.5"/>
<line x1="137.99" y1="659.50" x2="137.99" y2="661.00" stroke="#555" stroke-width="0.5"/>
<line x1="143.63" y1="659.50" x2="143.63" y2="661.00" stroke="#555" stroke-width="0.5"/>
<line x1="149.28" y1="659.50" x2="149.28" y2="661.00" stroke="#555" stroke-width="0.5"/>
<line x1="154.92" y1="659.50" x2="154.92" y2="661.00" stroke="#555" stroke-width="0.5"/>
<line x1="160.57" y1="659.50" x2="160.57" y2="661.00" stroke="#555" stroke-width="0.5"/>
<line x1="166.21" y1="659.50" x2="166.21" y2="661.00" stroke="#555" stroke-width="0.5"/>
<line x1="171.86" y1="659.50" x2="171.86" y2="661.00" stroke="#555" stroke-width="0.5"/>
<line x1="125.80" y1="616.56" x2="127.30" y2="616.56" stroke="#555" stroke-width="0.5"/>
<line x1="125.80" y1="623.81" x2="127.30" y2="623.81" stroke="#555" stroke-width="0.5"/>
<line x1="125.80" y1="631.07" x2="127.30" y2="631.07" stroke="#555" stroke-width="0.5"/>
<line x1="125.80" y1="638.33" x2="127.30" y2="638.33" stroke="#555" stroke-width="0.5"/>
<line x1="125.80" y1="645.59" x2="127.30" y2="645.59" stroke="#555" stroke-width="0.5"/>
<line x1="125.80" y1="652.84" x2="127.30" y2="652.84" stroke="#555" stroke-width="0.5"/>
<ellipse cx="81.40" cy="570.90" rx="7.68" ry="6.11" fill="#000" opacity="0.16" filter="url(#bl)" transform="rotate(38 81.40 570.90)"/>
<circle cx="84.89" cy="575.85" r="0.4" fill="#777" opacity="0.5"/>
<circle cx="78.02" cy="567.68" r="0.4" fill="#777" opacity="0.5"/>
<circle cx="83.08" cy="577.42" r="0.4" fill="#777" opacity="0.5"/>
<circle cx="83.31" cy="566.69" r="0.4" fill="#777" opacity="0.5"/>
<circle cx="78.11" cy="570.81" r="0.4" fill="#777" opacity="0.5"/>
<circle cx="85.71" cy="570.97" r="0.4" fill="#777" opacity="0.5"/>
<circle cx="79.94" cy="570.17" r="0.4" fill="#777" opacity="0.5"/>
<circle cx="82.28" cy="568.27" r="0.4" fill="#777" opacity="0.5"/>
<circle cx="81.54" cy="572.00" r="0.4" fill="#777" opacity="0.5"/>
<circle cx="88.74" cy="570.81" r="0.4" fill="#777" opacity="0.5"/>
<circle cx="85.78" cy="567.22" r="0.4" fill="#777" opacity="0.5"/>
<circle cx="85.31" cy="571.61" r="0.4" fill="#777" opacity="0.5"/>
<circle cx="79.18" cy="570.93" r="0.4" fill="#777" opacity="0.5"/>
<circle cx="85.50" cy="569.83" r="0.4" fill="#777" opacity="0.5"/>
<circle cx="86.05" cy="576.63" r="0.4" fill="#777" opacity="0.5"/>
<circle cx="88.67" cy="576.99" r="0.4" fill="#777" opacity="0.5"/>
<circle cx="75.97" cy="572.28" r="0.4" fill="#777" opacity="0.5"/>
<circle cx="78.56" cy="574.51" r="0.4" fill="#777" opacity="0.5"/>
<circle cx="81.88" cy="571.85" r="0.4" fill="#777" opacity="0.5"/>
<circle cx="83.58" cy="568.85" r="0.4" fill="#777" opacity="0.5"/>
<circle cx="81.98" cy="568.37" r="0.4" fill="#777" opacity="0.5"/>
<circle cx="90.71" cy="569.35" r="0.4" fill="#777" opacity="0.5"/>
<circle cx="81.63" cy="564.52" r="0.4" fill="#777" opacity="0.5"/>
<circle cx="75.07" cy="567.94" r="0.4" fill="#777" opacity="0.5"/>
<circle cx="85.06" cy="573.88" r="0.4" fill="#777" opacity="0.5"/>
<circle cx="82.80" cy="568.67" r="0.4" fill="#777" opacity="0.5"/>
<circle cx="89.70" cy="567.25" r="0.4" fill="#777" opacity="0.5"/>
<circle cx="77.80" cy="572.83" r="0.4" fill="#777" opacity="0.5"/>
<circle cx="77.18" cy="572.02" r="0.4" fill="#777" opacity="0.5"/>
<circle cx="85.83" cy="570.78" r="0.4" fill="#777" opacity="0.5"/>
<circle cx="83.35" cy="571.18" r="0.4" fill="#777" opacity="0.5"/>
<circle cx="78.60" cy="559.32" r="0.4" fill="#777" opacity="0.5"/>
<circle cx="76.19" cy="571.01" r="0.4" fill="#777" opacity="0.5"/>
<circle cx="74.33" cy="568.95" r="0.4" fill="#777" opacity="0.5"/>
<ellipse cx="81.40" cy="570.90" rx="6.40" ry="4.70" fill="none" stroke="#000" stroke-width="0.55" transform="rotate(38 81.40 570.90)"/>
<ellipse cx="81.40" cy="570.90" rx="5.77" ry="4.27" fill="none" stroke="#000" stroke-width="0.55" transform="rotate(38 81.40 570.90)"/>
<ellipse cx="81.40" cy="570.90" rx="5.13" ry="3.83" fill="none" stroke="#000" stroke-width="0.55" transform="rotate(38 81.40 570.90)"/>
<ellipse cx="81.40" cy="570.90" rx="4.50" ry="3.40" fill="#000" transform="rotate(38 81.40 570.90)"/>
<ellipse cx="81.40" cy="570.90" rx="0.9" ry="0.6" fill="#fff" filter="url(#bl2)"/>
<circle cx="81.67" cy="577.00" r="0.4" fill="#555" opacity="0.5"/>
<circle cx="84.13" cy="571.98" r="0.4" fill="#555" opacity="0.5"/>
<circle cx="84.75" cy="574.94" r="0.4" fill="#555" opacity="0.5"/>
<circle cx="84.32" cy="575.19" r="0.4" fill="#555" opacity="0.5"/>
<circle cx="86.55" cy="576.85" r="0.4" fill="#555" opacity="0.5"/>
<circle cx="79.67" cy="574.98" r="0.4" fill="#555" opacity="0.5"/>
<circle cx="85.21" cy="575.20" r="0.4" fill="#555" opacity="0.5"/>
<circle cx="86.26" cy="576.38" r="0.4" fill="#555" opacity="0.5"/>
<circle cx="87.27" cy="577.81" r="0.4" fill="#555" opacity="0.5"/>
<circle cx="76.58" cy="569.97" r="0.4" fill="#555" opacity="0.5"/>
<circle cx="83.23" cy="580.62" r="0.4" fill="#555" opacity="0.5"/>
<circle cx="82.37" cy="578.30" r="0.4" fill="#555" opacity="0.5"/>
<circle cx="85.63" cy="572.75" r="0.4" fill="#555" opacity="0.5"/>
<circle cx="84.39" cy="574.75" r="0.4" fill="#555" opacity="0.5"/>
<circle cx="82.69" cy="572.15" r="0.4" fill="#555" opacity="0.5"/>
<circle cx="84.25" cy="574.19" r="0.4" fill="#555" opacity="0.5"/>
<circle cx="88.57" cy="575.00" r="0.4" fill="#555" opacity="0.5"/>
<circle cx="82.90" cy="581.58" r="0.4" fill="#555" opacity="0.5"/>
<circle cx="83.80" cy="573.13" r="0.4" fill="#555" opacity="0.5"/>
<circle cx="85.81" cy="570.38" r="0.4" fill="#555" opacity="0.5"/>
<circle cx="78.44" cy="572.79" r="0.4" fill="#555" opacity="0.5"/>
<circle cx="88.06" cy="571.97" r="0.4" fill="#555" opacity="0.5"/>
<circle cx="86.36" cy="571.08" r="0.4" fill="#555" opacity="0.5"/>
<circle cx="82.28" cy="573.78" r="0.4" fill="#555" opacity="0.5"/>
<circle cx="82.04" cy="574.04" r="0.4" fill="#555" opacity="0.5"/>
<circle cx="82.80" cy="578.03" r="0.4" fill="#555" opacity="0.5"/>
<circle cx="85.22" cy="573.30" r="0.4" fill="#555" opacity="0.5"/>
<circle cx="87.33" cy="576.37" r="0.4" fill="#555" opacity="0.5"/>
<circle cx="83.36" cy="573.97" r="0.4" fill="#555" opacity="0.5"/>
<circle cx="84.95" cy="573.13" r="0.4" fill="#555" opacity="0.5"/>
<ellipse cx="136.40" cy="578.70" rx="6.96" ry="4.68" fill="#000" opacity="0.16" filter="url(#bl)"/>
<circle cx="138.56" cy="578.29" r="0.4" fill="#777" opacity="0.5"/>
<circle cx="150.98" cy="580.25" r="0.4" fill="#777" opacity="0.5"/>
<circle cx="137.23" cy="580.04" r="0.4" fill="#777" opacity="0.5"/>
<circle cx="134.23" cy="576.54" r="0.4" fill="#777" opacity="0.5"/>
<circle cx="138.67" cy="577.36" r="0.4" fill="#777" opacity="0.5"/>
<circle cx="139.85" cy="578.06" r="0.4" fill="#777" opacity="0.5"/>
<circle cx="128.82" cy="574.74" r="0.4" fill="#777" opacity="0.5"/>
<circle cx="132.75" cy="572.70" r="0.4" fill="#777" opacity="0.5"/>
<circle cx="136.07" cy="577.82" r="0.4" fill="#777" opacity="0.5"/>
<circle cx="140.38" cy="576.09" r="0.4" fill="#777" opacity="0.5"/>
<circle cx="135.42" cy="580.44" r="0.4" fill="#777" opacity="0.5"/>
<circle cx="139.55" cy="575.62" r="0.4" fill="#777" opacity="0.5"/>
<circle cx="142.88" cy="576.81" r="0.4" fill="#777" opacity="0.5"/>
<circle cx="141.49" cy="577.80" r="0.4" fill="#777" opacity="0.5"/>
<circle cx="134.62" cy="574.94" r="0.4" fill="#777" opacity="0.5"/>
<circle cx="135.86" cy="585.91" r="0.4" fill="#777" opacity="0.5"/>
<circle cx="133.69" cy="583.34" r="0.4" fill="#777" opacity="0.5"/>
<circle cx="142.05" cy="577.53" r="0.4" fill="#777" opacity="0.5"/>
<circle cx="141.15" cy="582.89" r="0.4" fill="#777" opacity="0.5"/>
<circle cx="135.11" cy="577.10" r="0.4" fill="#777" opacity="0.5"/>
<circle cx="141.17" cy="579.78" r="0.4" fill="#777" opacity="0.5"/>
<circle cx="145.45" cy="580.02" r="0.4" fill="#777" opacity="0.5"/>
<circle cx="131.50" cy="578.56" r="0.4" fill="#777" opacity="0.5"/>
<circle cx="131.37" cy="580.98" r="0.4" fill="#777" opacity="0.5"/>
<circle cx="139.41" cy="577.46" r="0.4" fill="#777" opacity="0.5"/>
<circle cx="132.63" cy="581.41" r="0.4" fill="#777" opacity="0.5"/>
<ellipse cx="136.40" cy="578.70" rx="5.80" ry="3.60" fill="none" stroke="#000" stroke-width="0.55"/>
<ellipse cx="136.40" cy="578.70" rx="5.10" ry="3.20" fill="none" stroke="#000" stroke-width="0.55"/>
<ellipse cx="136.40" cy="578.70" rx="4.40" ry="2.80" fill="#000"/>
<ellipse cx="136.40" cy="578.70" rx="0.9" ry="0.6" fill="#fff" filter="url(#bl2)"/>
<ellipse cx="81.60" cy="626.60" rx="8.40" ry="7.28" fill="#000" opacity="0.16" filter="url(#bl)" transform="rotate(22 81.60 626.60)"/>
<circle cx="92.23" cy="621.64" r="0.4" fill="#777" opacity="0.5"/>
<circle cx="83.20" cy="625.43" r="0.4" fill="#777" opacity="0.5"/>
<circle cx="77.29" cy="624.03" r="0.4" fill="#777" opacity="0.5"/>
<circle cx="79.06" cy="626.16" r="0.4" fill="#777" opacity="0.5"/>
<circle cx="83.49" cy="631.14" r="0.4" fill="#777" opacity="0.5"/>
<circle cx="82.58" cy="631.45" r="0.4" fill="#777" opacity="0.5"/>
<circle cx="83.65" cy="626.89" r="0.4" fill="#777" opacity="0.5"/>
<circle cx="80.33" cy="622.06" r="0.4" fill="#777" opacity="0.5"/>
<circle cx="73.65" cy="626.02" r="0.4" fill="#777" opacity="0.5"/>
<circle cx="80.53" cy="627.79" r="0.4" fill="#777" opacity="0.5"/>
<circle cx="82.95" cy="620.75" r="0.4" fill="#777" opacity="0.5"/>
<circle cx="77.87" cy="621.38" r="0.4" fill="#777" opacity="0.5"/>
<circle cx="86.17" cy="625.82" r="0.4" fill="#777" opacity="0.5"/>
<circle cx="81.89" cy="622.31" r="0.4" fill="#777" opacity="0.5"/>
<circle cx="75.12" cy="623.72" r="0.4" fill="#777" opacity="0.5"/>
<circle cx="80.78" cy="628.34" r="0.4" fill="#777" opacity="0.5"/>
<circle cx="73.91" cy="627.76" r="0.4" fill="#777" opacity="0.5"/>
<circle cx="77.10" cy="623.97" r="0.4" fill="#777" opacity="0.5"/>
<circle cx="79.66" cy="624.38" r="0.4" fill="#777" opacity="0.5"/>
<circle cx="83.48" cy="630.17" r="0.4" fill="#777" opacity="0.5"/>
<circle cx="82.90" cy="623.89" r="0.4" fill="#777" opacity="0.5"/>
<circle cx="83.28" cy="627.94" r="0.4" fill="#777" opacity="0.5"/>
<circle cx="85.42" cy="627.47" r="0.4" fill="#777" opacity="0.5"/>
<circle cx="73.45" cy="622.93" r="0.4" fill="#777" opacity="0.5"/>
<circle cx="79.31" cy="630.36" r="0.4" fill="#777" opacity="0.5"/>
<circle cx="80.60" cy="630.31" r="0.4" fill="#777" opacity="0.5"/>
<circle cx="82.67" cy="621.03" r="0.4" fill="#777" opacity="0.5"/>
<circle cx="81.48" cy="628.73" r="0.4" fill="#777" opacity="0.5"/>
<circle cx="83.22" cy="619.74" r="0.4" fill="#777" opacity="0.5"/>
<circle cx="83.31" cy="623.69" r="0.4" fill="#777" opacity="0.5"/>
<circle cx="71.07" cy="623.77" r="0.4" fill="#777" opacity="0.5"/>
<circle cx="71.73" cy="620.66" r="0.4" fill="#777" opacity="0.5"/>
<circle cx="88.21" cy="637.16" r="0.4" fill="#777" opacity="0.5"/>
<circle cx="86.37" cy="628.20" r="0.4" fill="#777" opacity="0.5"/>
<circle cx="90.43" cy="627.79" r="0.4" fill="#777" opacity="0.5"/>
<circle cx="76.52" cy="615.44" r="0.4" fill="#777" opacity="0.5"/>
<circle cx="85.64" cy="616.32" r="0.4" fill="#777" opacity="0.5"/>
<circle cx="67.42" cy="623.39" r="0.4" fill="#777" opacity="0.5"/>
<circle cx="81.57" cy="622.47" r="0.4" fill="#777" opacity="0.5"/>
<circle cx="86.31" cy="625.90" r="0.4" fill="#777" opacity="0.5"/>
<circle cx="82.28" cy="628.27" r="0.4" fill="#777" opacity="0.5"/>
<ellipse cx="81.60" cy="626.60" rx="7.00" ry="5.60" fill="none" stroke="#000" stroke-width="0.55" transform="rotate(22 81.60 626.60)"/>
<ellipse cx="81.60" cy="626.60" rx="6.40" ry="5.07" fill="none" stroke="#000" stroke-width="0.55" transform="rotate(22 81.60 626.60)"/>
<ellipse cx="81.60" cy="626.60" rx="5.80" ry="4.53" fill="none" stroke="#000" stroke-width="0.55" transform="rotate(22 81.60 626.60)"/>
<ellipse cx="81.60" cy="626.60" rx="5.20" ry="4.00" fill="#000" transform="rotate(22 81.60 626.60)"/>
<ellipse cx="82.10" cy="625.80" rx="0.9" ry="0.6" fill="#fff" filter="url(#bl2)"/>
<circle cx="82.79" cy="629.46" r="0.4" fill="#555" opacity="0.5"/>
<circle cx="89.29" cy="629.56" r="0.4" fill="#555" opacity="0.5"/>
<circle cx="79.22" cy="630.65" r="0.4" fill="#555" opacity="0.5"/>
<circle cx="83.85" cy="628.63" r="0.4" fill="#555" opacity="0.5"/>
<circle cx="88.61" cy="628.72" r="0.4" fill="#555" opacity="0.5"/>
<circle cx="86.42" cy="629.00" r="0.4" fill="#555" opacity="0.5"/>
<circle cx="84.19" cy="624.23" r="0.4" fill="#555" opacity="0.5"/>
<circle cx="88.07" cy="631.53" r="0.4" fill="#555" opacity="0.5"/>
<circle cx="83.80" cy="631.01" r="0.4" fill="#555" opacity="0.5"/>
<circle cx="83.87" cy="629.36" r="0.4" fill="#555" opacity="0.5"/>
<circle cx="84.86" cy="630.85" r="0.4" fill="#555" opacity="0.5"/>
<circle cx="79.68" cy="631.97" r="0.4" fill="#555" opacity="0.5"/>
<circle cx="81.30" cy="630.58" r="0.4" fill="#555" opacity="0.5"/>
<circle cx="91.18" cy="633.10" r="0.4" fill="#555" opacity="0.5"/>
<circle cx="81.61" cy="635.16" r="0.4" fill="#555" opacity="0.5"/>
<circle cx="80.96" cy="631.41" r="0.4" fill="#555" opacity="0.5"/>
<circle cx="84.01" cy="634.22" r="0.4" fill="#555" opacity="0.5"/>
<circle cx="87.12" cy="629.64" r="0.4" fill="#555" opacity="0.5"/>
<circle cx="80.76" cy="632.93" r="0.4" fill="#555" opacity="0.5"/>
<circle cx="86.03" cy="627.11" r="0.4" fill="#555" opacity="0.5"/>
<circle cx="85.93" cy="631.51" r="0.4" fill="#555" opacity="0.5"/>
<circle cx="82.75" cy="630.24" r="0.4" fill="#555" opacity="0.5"/>
<circle cx="78.59" cy="633.60" r="0.4" fill="#555" opacity="0.5"/>
<circle cx="85.84" cy="627.26" r="0.4" fill="#555" opacity="0.5"/>
<circle cx="84.98" cy="632.53" r="0.4" fill="#555" opacity="0.5"/>
<circle cx="81.80" cy="631.16" r="0.4" fill="#555" opacity="0.5"/>
<circle cx="84.62" cy="630.79" r="0.4" fill="#555" opacity="0.5"/>
<circle cx="81.95" cy="637.00" r="0.4" fill="#555" opacity="0.5"/>
<circle cx="86.38" cy="632.21" r="0.4" fill="#555" opacity="0.5"/>
<circle cx="80.68" cy="629.37" r="0.4" fill="#555" opacity="0.5"/>
<circle cx="87.16" cy="630.96" r="0.4" fill="#555" opacity="0.5"/>
<circle cx="84.47" cy="629.61" r="0.4" fill="#555" opacity="0.5"/>
<circle cx="85.28" cy="633.34" r="0.4" fill="#555" opacity="0.5"/>
<circle cx="80.29" cy="629.32" r="0.4" fill="#555" opacity="0.5"/>
<circle cx="80.89" cy="631.43" r="0.4" fill="#555" opacity="0.5"/>
<ellipse cx="137.70" cy="633.00" rx="8.40" ry="5.59" fill="#000" opacity="0.16" filter="url(#bl)"/>
<circle cx="135.50" cy="626.60" r="0.4" fill="#777" opacity="0.5"/>
<circle cx="144.89" cy="644.19" r="0.4" fill="#777" opacity="0.5"/>
<circle cx="140.21" cy="637.82" r="0.4" fill="#777" opacity="0.5"/>
<circle cx="144.62" cy="636.16" r="0.4" fill="#777" opacity="0.5"/>
<circle cx="142.16" cy="637.38" r="0.4" fill="#777" opacity="0.5"/>
<circle cx="136.37" cy="627.21" r="0.4" fill="#777" opacity="0.5"/>
<circle cx="128.54" cy="635.48" r="0.4" fill="#777" opacity="0.5"/>
<circle cx="140.12" cy="632.87" r="0.4" fill="#777" opacity="0.5"/>
<circle cx="125.42" cy="632.08" r="0.4" fill="#777" opacity="0.5"/>
<circle cx="137.34" cy="629.28" r="0.4" fill="#777" opacity="0.5"/>
<circle cx="133.62" cy="641.01" r="0.4" fill="#777" opacity="0.5"/>
<circle cx="144.83" cy="635.96" r="0.4" fill="#777" opacity="0.5"/>
<circle cx="139.29" cy="631.32" r="0.4" fill="#777" opacity="0.5"/>
<circle cx="135.76" cy="635.60" r="0.4" fill="#777" opacity="0.5"/>
<circle cx="133.18" cy="632.14" r="0.4" fill="#777" opacity="0.5"/>
<circle cx="146.45" cy="628.15" r="0.4" fill="#777" opacity="0.5"/>
<circle cx="133.50" cy="639.68" r="0.4" fill="#777" opacity="0.5"/>
<circle cx="139.70" cy="633.66" r="0.4" fill="#777" opacity="0.5"/>
<circle cx="133.24" cy="627.69" r="0.4" fill="#777" opacity="0.5"/>
<circle cx="144.11" cy="623.31" r="0.4" fill="#777" opacity="0.5"/>
<circle cx="140.15" cy="630.91" r="0.4" fill="#777" opacity="0.5"/>
<circle cx="137.20" cy="625.19" r="0.4" fill="#777" opacity="0.5"/>
<circle cx="142.46" cy="635.23" r="0.4" fill="#777" opacity="0.5"/>
<circle cx="139.24" cy="634.58" r="0.4" fill="#777" opacity="0.5"/>
<circle cx="130.46" cy="633.66" r="0.4" fill="#777" opacity="0.5"/>
<circle cx="140.27" cy="632.70" r="0.4" fill="#777" opacity="0.5"/>
<circle cx="120.82" cy="632.59" r="0.4" fill="#777" opacity="0.5"/>
<circle cx="138.27" cy="628.78" r="0.4" fill="#777" opacity="0.5"/>
<circle cx="138.02" cy="637.85" r="0.4" fill="#777" opacity="0.5"/>
<circle cx="137.22" cy="637.93" r="0.4" fill="#777" opacity="0.5"/>
<circle cx="134.80" cy="630.24" r="0.4" fill="#777" opacity="0.5"/>
<circle cx="139.08" cy="629.64" r="0.4" fill="#777" opacity="0.5"/>
<circle cx="128.63" cy="634.26" r="0.4" fill="#777" opacity="0.5"/>
<circle cx="137.69" cy="635.20" r="0.4" fill="#777" opacity="0.5"/>
<ellipse cx="137.70" cy="633.00" rx="7.00" ry="4.30" fill="none" stroke="#000" stroke-width="0.55"/>
<ellipse cx="137.70" cy="633.00" rx="6.43" ry="3.97" fill="none" stroke="#000" stroke-width="0.55"/>
<ellipse cx="137.70" cy="633.00" rx="5.87" ry="3.63" fill="none" stroke="#000" stroke-width="0.55"/>
<ellipse cx="137.70" cy="633.00" rx="5.30" ry="3.30" fill="#000"/>
<ellipse cx="138.50" cy="633.00" rx="0.9" ry="0.6" fill="#fff" filter="url(#bl2)"/>
<rect x="89.20" y="560.60" width="30.10" height="27.70" fill="none" stroke="#666666" stroke-width="0.85"/>
<rect x="143.50" y="560.60" width="31.00" height="28.90" fill="none" stroke="#666666" stroke-width="0.85"/>
<rect x="89.50" y="615.40" width="29.80" height="28.60" fill="none" stroke="#666666" stroke-width="0.85"/>
<rect x="145.60" y="614.60" width="29.80" height="31.20" fill="none" stroke="#666666" stroke-width="0.85"/>
<text x="104.90" y="583.90" font-size="10.4" text-anchor="middle" textLength="15.4" lengthAdjust="spacingAndGlyphs">0.2</text>
<text x="158.70" y="583.90" font-size="10.4" text-anchor="middle" textLength="15.4" lengthAdjust="spacingAndGlyphs">0.1</text>
<text x="104.90" y="639.60" font-size="10.4" text-anchor="middle" textLength="15.4" lengthAdjust="spacingAndGlyphs">0.3</text>
<text x="160.10" y="640.90" font-size="10.4" text-anchor="middle" textLength="15.4" lengthAdjust="spacingAndGlyphs">0.4</text>
<line x1="45.20" y1="629.30" x2="45.20" y2="559.20" stroke="#3f4d69" stroke-width="1.5"/>
<path d="M45.20,555.20 L42.40,561.20 L48.00,561.20 Z" fill="#3f4d69"/>
<text x="48.10" y="646.00" font-size="10.0" text-anchor="middle" transform="rotate(-90 48.10 646.00)" textLength="25.7" lengthAdjust="spacingAndGlyphs">Open</text>
<text x="53.60" y="619.50" font-size="8.6" textLength="9.2" lengthAdjust="spacingAndGlyphs">10</text>
<text x="62.90" y="616.40" font-size="6.6" textLength="3.8" lengthAdjust="spacingAndGlyphs">5</text>
<text x="53.60" y="630.00" font-size="8.6" textLength="9.2" lengthAdjust="spacingAndGlyphs">10</text>
<text x="62.90" y="626.90" font-size="6.6" textLength="3.8" lengthAdjust="spacingAndGlyphs">4</text>
<text x="53.60" y="640.50" font-size="8.6" textLength="9.2" lengthAdjust="spacingAndGlyphs">10</text>
<text x="62.90" y="637.40" font-size="6.6" textLength="3.8" lengthAdjust="spacingAndGlyphs">3</text>
<text x="64.40" y="662.80" font-size="9.2" text-anchor="middle" textLength="5.8" lengthAdjust="spacingAndGlyphs">0</text>
<text x="83.50" y="669.50" font-size="9.0" text-anchor="middle" transform="rotate(-90 83.50 669.50)">0</text>
<text x="102.50" y="679.10" font-size="8.8" textLength="9.2" lengthAdjust="spacingAndGlyphs" transform="rotate(-90 102.50 679.10)">10</text>
<text x="99.40" y="669.40" font-size="6.6" textLength="3.8" lengthAdjust="spacingAndGlyphs" transform="rotate(-90 99.40 669.40)">3</text>
<text x="113.10" y="679.10" font-size="8.8" textLength="9.2" lengthAdjust="spacingAndGlyphs" transform="rotate(-90 113.10 679.10)">10</text>
<text x="110.00" y="669.40" font-size="6.6" textLength="3.8" lengthAdjust="spacingAndGlyphs" transform="rotate(-90 110.00 669.40)">4</text>
<text x="122.70" y="679.10" font-size="8.8" textLength="9.2" lengthAdjust="spacingAndGlyphs" transform="rotate(-90 122.70 679.10)">10</text>
<text x="119.60" y="669.40" font-size="6.6" textLength="3.8" lengthAdjust="spacingAndGlyphs" transform="rotate(-90 119.60 669.40)">5</text>
<text x="71.80" y="691.00" font-size="10.0" textLength="30.2" lengthAdjust="spacingAndGlyphs">Ly49H</text>
<line x1="105.30" y1="687.80" x2="172.50" y2="687.80" stroke="#3f4d69" stroke-width="1.5"/>
<path d="M176.50,687.80 L170.50,685.00 L170.50,690.60 Z" fill="#3f4d69"/>
<text x="249.20" y="545.50" font-size="10.2" text-anchor="middle" textLength="28.3" lengthAdjust="spacingAndGlyphs">γδ IEL</text>
<text x="307.20" y="545.50" font-size="10.2" text-anchor="middle" textLength="31.0" lengthAdjust="spacingAndGlyphs">DN IEL</text>
<rect x="222.40" y="554.10" width="52.20" height="50.80" fill="none" stroke="#999999" stroke-width="0.8"/>
<line x1="228.20" y1="604.30" x2="228.20" y2="605.80" stroke="#555" stroke-width="0.5"/>
<line x1="234.00" y1="604.30" x2="234.00" y2="605.80" stroke="#555" stroke-width="0.5"/>
<line x1="239.80" y1="604.30" x2="239.80" y2="605.80" stroke="#555" stroke-width="0.5"/>
<line x1="245.60" y1="604.30" x2="245.60" y2="605.80" stroke="#555" stroke-width="0.5"/>
<line x1="251.40" y1="604.30" x2="251.40" y2="605.80" stroke="#555" stroke-width="0.5"/>
<line x1="257.20" y1="604.30" x2="257.20" y2="605.80" stroke="#555" stroke-width="0.5"/>
<line x1="263.00" y1="604.30" x2="263.00" y2="605.80" stroke="#555" stroke-width="0.5"/>
<line x1="268.80" y1="604.30" x2="268.80" y2="605.80" stroke="#555" stroke-width="0.5"/>
<line x1="221.50" y1="561.36" x2="223.00" y2="561.36" stroke="#555" stroke-width="0.5"/>
<line x1="221.50" y1="568.61" x2="223.00" y2="568.61" stroke="#555" stroke-width="0.5"/>
<line x1="221.50" y1="575.87" x2="223.00" y2="575.87" stroke="#555" stroke-width="0.5"/>
<line x1="221.50" y1="583.13" x2="223.00" y2="583.13" stroke="#555" stroke-width="0.5"/>
<line x1="221.50" y1="590.39" x2="223.00" y2="590.39" stroke="#555" stroke-width="0.5"/>
<line x1="221.50" y1="597.64" x2="223.00" y2="597.64" stroke="#555" stroke-width="0.5"/>
<rect x="281.20" y="554.10" width="52.10" height="50.80" fill="none" stroke="#999999" stroke-width="0.8"/>
<line x1="286.99" y1="604.30" x2="286.99" y2="605.80" stroke="#555" stroke-width="0.5"/>
<line x1="292.78" y1="604.30" x2="292.78" y2="605.80" stroke="#555" stroke-width="0.5"/>
<line x1="298.57" y1="604.30" x2="298.57" y2="605.80" stroke="#555" stroke-width="0.5"/>
<line x1="304.36" y1="604.30" x2="304.36" y2="605.80" stroke="#555" stroke-width="0.5"/>
<line x1="310.14" y1="604.30" x2="310.14" y2="605.80" stroke="#555" stroke-width="0.5"/>
<line x1="315.93" y1="604.30" x2="315.93" y2="605.80" stroke="#555" stroke-width="0.5"/>
<line x1="321.72" y1="604.30" x2="321.72" y2="605.80" stroke="#555" stroke-width="0.5"/>
<line x1="327.51" y1="604.30" x2="327.51" y2="605.80" stroke="#555" stroke-width="0.5"/>
<line x1="280.30" y1="561.36" x2="281.80" y2="561.36" stroke="#555" stroke-width="0.5"/>
<line x1="280.30" y1="568.61" x2="281.80" y2="568.61" stroke="#555" stroke-width="0.5"/>
<line x1="280.30" y1="575.87" x2="281.80" y2="575.87" stroke="#555" stroke-width="0.5"/>
<line x1="280.30" y1="583.13" x2="281.80" y2="583.13" stroke="#555" stroke-width="0.5"/>
<line x1="280.30" y1="590.39" x2="281.80" y2="590.39" stroke="#555" stroke-width="0.5"/>
<line x1="280.30" y1="597.64" x2="281.80" y2="597.64" stroke="#555" stroke-width="0.5"/>
<rect x="222.40" y="608.40" width="52.20" height="50.80" fill="none" stroke="#999999" stroke-width="0.8"/>
<line x1="228.20" y1="658.60" x2="228.20" y2="660.10" stroke="#555" stroke-width="0.5"/>
<line x1="234.00" y1="658.60" x2="234.00" y2="660.10" stroke="#555" stroke-width="0.5"/>
<line x1="239.80" y1="658.60" x2="239.80" y2="660.10" stroke="#555" stroke-width="0.5"/>
<line x1="245.60" y1="658.60" x2="245.60" y2="660.10" stroke="#555" stroke-width="0.5"/>
<line x1="251.40" y1="658.60" x2="251.40" y2="660.10" stroke="#555" stroke-width="0.5"/>
<line x1="257.20" y1="658.60" x2="257.20" y2="660.10" stroke="#555" stroke-width="0.5"/>
<line x1="263.00" y1="658.60" x2="263.00" y2="660.10" stroke="#555" stroke-width="0.5"/>
<line x1="268.80" y1="658.60" x2="268.80" y2="660.10" stroke="#555" stroke-width="0.5"/>
<line x1="221.50" y1="615.66" x2="223.00" y2="615.66" stroke="#555" stroke-width="0.5"/>
<line x1="221.50" y1="622.91" x2="223.00" y2="622.91" stroke="#555" stroke-width="0.5"/>
<line x1="221.50" y1="630.17" x2="223.00" y2="630.17" stroke="#555" stroke-width="0.5"/>
<line x1="221.50" y1="637.43" x2="223.00" y2="637.43" stroke="#555" stroke-width="0.5"/>
<line x1="221.50" y1="644.69" x2="223.00" y2="644.69" stroke="#555" stroke-width="0.5"/>
<line x1="221.50" y1="651.94" x2="223.00" y2="651.94" stroke="#555" stroke-width="0.5"/>
<rect x="281.20" y="608.40" width="52.10" height="50.80" fill="none" stroke="#999999" stroke-width="0.8"/>
<line x1="286.99" y1="658.60" x2="286.99" y2="660.10" stroke="#555" stroke-width="0.5"/>
<line x1="292.78" y1="658.60" x2="292.78" y2="660.10" stroke="#555" stroke-width="0.5"/>
<line x1="298.57" y1="658.60" x2="298.57" y2="660.10" stroke="#555" stroke-width="0.5"/>
<line x1="304.36" y1="658.60" x2="304.36" y2="660.10" stroke="#555" stroke-width="0.5"/>
<line x1="310.14" y1="658.60" x2="310.14" y2="660.10" stroke="#555" stroke-width="0.5"/>
<line x1="315.93" y1="658.60" x2="315.93" y2="660.10" stroke="#555" stroke-width="0.5"/>
<line x1="321.72" y1="658.60" x2="321.72" y2="660.10" stroke="#555" stroke-width="0.5"/>
<line x1="327.51" y1="658.60" x2="327.51" y2="660.10" stroke="#555" stroke-width="0.5"/>
<line x1="280.30" y1="615.66" x2="281.80" y2="615.66" stroke="#555" stroke-width="0.5"/>
<line x1="280.30" y1="622.91" x2="281.80" y2="622.91" stroke="#555" stroke-width="0.5"/>
<line x1="280.30" y1="630.17" x2="281.80" y2="630.17" stroke="#555" stroke-width="0.5"/>
<line x1="280.30" y1="637.43" x2="281.80" y2="637.43" stroke="#555" stroke-width="0.5"/>
<line x1="280.30" y1="644.69" x2="281.80" y2="644.69" stroke="#555" stroke-width="0.5"/>
<line x1="280.30" y1="651.94" x2="281.80" y2="651.94" stroke="#555" stroke-width="0.5"/>
<ellipse cx="244.20" cy="575.20" rx="10.20" ry="5.72" fill="#000" opacity="0.16" filter="url(#bl)"/>
<circle cx="234.46" cy="580.82" r="0.4" fill="#777" opacity="0.5"/>
<circle cx="246.49" cy="573.17" r="0.4" fill="#777" opacity="0.5"/>
<circle cx="250.06" cy="571.59" r="0.4" fill="#777" opacity="0.5"/>
<circle cx="258.39" cy="577.49" r="0.4" fill="#777" opacity="0.5"/>
<circle cx="244.02" cy="578.21" r="0.4" fill="#777" opacity="0.5"/>
<circle cx="237.16" cy="577.35" r="0.4" fill="#777" opacity="0.5"/>
<circle cx="250.63" cy="578.98" r="0.4" fill="#777" opacity="0.5"/>
<circle cx="247.72" cy="571.53" r="0.4" fill="#777" opacity="0.5"/>
<circle cx="246.50" cy="570.46" r="0.4" fill="#777" opacity="0.5"/>
<circle cx="245.90" cy="573.22" r="0.4" fill="#777" opacity="0.5"/>
<circle cx="239.97" cy="578.27" r="0.4" fill="#777" opacity="0.5"/>
<circle cx="256.91" cy="580.95" r="0.4" fill="#777" opacity="0.5"/>
<circle cx="242.42" cy="573.99" r="0.4" fill="#777" opacity="0.5"/>
<circle cx="238.86" cy="573.39" r="0.4" fill="#777" opacity="0.5"/>
<circle cx="245.51" cy="577.14" r="0.4" fill="#777" opacity="0.5"/>
<circle cx="242.00" cy="575.53" r="0.4" fill="#777" opacity="0.5"/>
<circle cx="237.60" cy="573.57" r="0.4" fill="#777" opacity="0.5"/>
<circle cx="252.67" cy="580.34" r="0.4" fill="#777" opacity="0.5"/>
<circle cx="247.74" cy="575.74" r="0.4" fill="#777" opacity="0.5"/>
<circle cx="245.92" cy="572.93" r="0.4" fill="#777" opacity="0.5"/>
<circle cx="237.43" cy="577.27" r="0.4" fill="#777" opacity="0.5"/>
<circle cx="237.82" cy="576.82" r="0.4" fill="#777" opacity="0.5"/>
<circle cx="237.37" cy="575.08" r="0.4" fill="#777" opacity="0.5"/>
<circle cx="254.44" cy="577.49" r="0.4" fill="#777" opacity="0.5"/>
<circle cx="243.82" cy="576.28" r="0.4" fill="#777" opacity="0.5"/>
<circle cx="235.04" cy="578.72" r="0.4" fill="#777" opacity="0.5"/>
<circle cx="239.66" cy="572.38" r="0.4" fill="#777" opacity="0.5"/>
<circle cx="240.05" cy="575.54" r="0.4" fill="#777" opacity="0.5"/>
<circle cx="240.12" cy="572.99" r="0.4" fill="#777" opacity="0.5"/>
<circle cx="247.09" cy="575.93" r="0.4" fill="#777" opacity="0.5"/>
<circle cx="251.75" cy="578.14" r="0.4" fill="#777" opacity="0.5"/>
<circle cx="251.57" cy="571.22" r="0.4" fill="#777" opacity="0.5"/>
<circle cx="244.84" cy="577.15" r="0.4" fill="#777" opacity="0.5"/>
<circle cx="249.68" cy="574.16" r="0.4" fill="#777" opacity="0.5"/>
<circle cx="248.05" cy="579.18" r="0.4" fill="#777" opacity="0.5"/>
<circle cx="238.75" cy="572.22" r="0.4" fill="#777" opacity="0.5"/>
<circle cx="239.37" cy="576.09" r="0.4" fill="#777" opacity="0.5"/>
<circle cx="237.62" cy="575.33" r="0.4" fill="#777" opacity="0.5"/>
<circle cx="241.49" cy="571.71" r="0.4" fill="#777" opacity="0.5"/>
<circle cx="234.11" cy="574.46" r="0.4" fill="#666" opacity="0.45"/>
<circle cx="233.35" cy="573.97" r="0.4" fill="#666" opacity="0.45"/>
<circle cx="232.29" cy="573.79" r="0.4" fill="#666" opacity="0.45"/>
<circle cx="229.47" cy="573.88" r="0.4" fill="#666" opacity="0.45"/>
<circle cx="236.92" cy="575.05" r="0.4" fill="#666" opacity="0.45"/>
<circle cx="234.38" cy="576.27" r="0.4" fill="#666" opacity="0.45"/>
<circle cx="234.37" cy="573.37" r="0.4" fill="#666" opacity="0.45"/>
<circle cx="232.52" cy="573.92" r="0.4" fill="#666" opacity="0.45"/>
<circle cx="230.69" cy="575.05" r="0.4" fill="#666" opacity="0.45"/>
<circle cx="230.94" cy="575.04" r="0.4" fill="#666" opacity="0.45"/>
<circle cx="234.52" cy="574.53" r="0.4" fill="#666" opacity="0.45"/>
<circle cx="229.77" cy="574.01" r="0.4" fill="#666" opacity="0.45"/>
<circle cx="227.14" cy="576.18" r="0.4" fill="#666" opacity="0.45"/>
<circle cx="229.43" cy="573.29" r="0.4" fill="#666" opacity="0.45"/>
<circle cx="233.23" cy="575.69" r="0.4" fill="#666" opacity="0.45"/>
<circle cx="237.13" cy="575.79" r="0.4" fill="#666" opacity="0.45"/>
<circle cx="231.50" cy="574.69" r="0.4" fill="#666" opacity="0.45"/>
<circle cx="229.17" cy="575.35" r="0.4" fill="#666" opacity="0.45"/>
<circle cx="228.59" cy="575.20" r="0.4" fill="#666" opacity="0.45"/>
<circle cx="235.17" cy="574.77" r="0.4" fill="#666" opacity="0.45"/>
<circle cx="229.51" cy="573.27" r="0.4" fill="#666" opacity="0.45"/>
<circle cx="233.99" cy="573.81" r="0.4" fill="#666" opacity="0.45"/>
<circle cx="228.07" cy="574.46" r="0.4" fill="#666" opacity="0.45"/>
<circle cx="229.81" cy="573.16" r="0.4" fill="#666" opacity="0.45"/>
<circle cx="230.62" cy="574.61" r="0.4" fill="#666" opacity="0.45"/>
<circle cx="229.82" cy="574.05" r="0.4" fill="#666" opacity="0.45"/>
<circle cx="231.42" cy="573.65" r="0.4" fill="#666" opacity="0.45"/>
<ellipse cx="244.20" cy="575.20" rx="8.50" ry="4.40" fill="none" stroke="#000" stroke-width="0.55"/>
<ellipse cx="244.27" cy="575.20" rx="7.87" ry="4.37" fill="none" stroke="#000" stroke-width="0.55"/>
<ellipse cx="244.33" cy="575.20" rx="7.23" ry="4.33" fill="none" stroke="#000" stroke-width="0.55"/>
<ellipse cx="244.40" cy="575.20" rx="6.60" ry="4.30" fill="#000"/>
<ellipse cx="244.40" cy="575.20" rx="0.9" ry="0.6" fill="#fff" filter="url(#bl2)"/>
<ellipse cx="299.60" cy="576.00" rx="13.20" ry="4.68" fill="#000" opacity="0.16" filter="url(#bl)"/>
<circle cx="299.51" cy="574.06" r="0.4" fill="#777" opacity="0.5"/>
<circle cx="302.50" cy="579.75" r="0.4" fill="#777" opacity="0.5"/>
<circle cx="312.09" cy="577.74" r="0.4" fill="#777" opacity="0.5"/>
<circle cx="299.80" cy="575.16" r="0.4" fill="#777" opacity="0.5"/>
<circle cx="295.90" cy="572.89" r="0.4" fill="#777" opacity="0.5"/>
<circle cx="287.02" cy="570.63" r="0.4" fill="#777" opacity="0.5"/>
<circle cx="307.47" cy="575.75" r="0.4" fill="#777" opacity="0.5"/>
<circle cx="307.14" cy="571.80" r="0.4" fill="#777" opacity="0.5"/>
<circle cx="301.43" cy="575.88" r="0.4" fill="#777" opacity="0.5"/>
<circle cx="304.65" cy="575.22" r="0.4" fill="#777" opacity="0.5"/>
<circle cx="306.74" cy="578.82" r="0.4" fill="#777" opacity="0.5"/>
<circle cx="309.82" cy="569.88" r="0.4" fill="#777" opacity="0.5"/>
<circle cx="290.10" cy="580.07" r="0.4" fill="#777" opacity="0.5"/>
<circle cx="319.47" cy="577.46" r="0.4" fill="#777" opacity="0.5"/>
<circle cx="297.00" cy="579.47" r="0.4" fill="#777" opacity="0.5"/>
<circle cx="301.24" cy="576.61" r="0.4" fill="#777" opacity="0.5"/>
<circle cx="310.01" cy="576.19" r="0.4" fill="#777" opacity="0.5"/>
<circle cx="286.47" cy="574.01" r="0.4" fill="#777" opacity="0.5"/>
<circle cx="304.40" cy="573.57" r="0.4" fill="#777" opacity="0.5"/>
<circle cx="302.56" cy="574.42" r="0.4" fill="#777" opacity="0.5"/>
<circle cx="303.89" cy="574.51" r="0.4" fill="#777" opacity="0.5"/>
<circle cx="306.65" cy="574.95" r="0.4" fill="#777" opacity="0.5"/>
<circle cx="291.23" cy="577.52" r="0.4" fill="#777" opacity="0.5"/>
<circle cx="302.43" cy="576.41" r="0.4" fill="#777" opacity="0.5"/>
<circle cx="287.90" cy="574.73" r="0.4" fill="#777" opacity="0.5"/>
<circle cx="307.16" cy="576.82" r="0.4" fill="#777" opacity="0.5"/>
<circle cx="290.41" cy="579.66" r="0.4" fill="#777" opacity="0.5"/>
<circle cx="302.95" cy="575.92" r="0.4" fill="#777" opacity="0.5"/>
<circle cx="296.12" cy="575.63" r="0.4" fill="#777" opacity="0.5"/>
<circle cx="303.47" cy="569.28" r="0.4" fill="#777" opacity="0.5"/>
<circle cx="296.85" cy="572.34" r="0.4" fill="#777" opacity="0.5"/>
<circle cx="302.95" cy="576.33" r="0.4" fill="#777" opacity="0.5"/>
<circle cx="299.81" cy="577.19" r="0.4" fill="#777" opacity="0.5"/>
<circle cx="312.60" cy="581.43" r="0.4" fill="#777" opacity="0.5"/>
<circle cx="289.92" cy="581.12" r="0.4" fill="#777" opacity="0.5"/>
<circle cx="300.51" cy="571.03" r="0.4" fill="#777" opacity="0.5"/>
<circle cx="309.77" cy="573.68" r="0.4" fill="#777" opacity="0.5"/>
<circle cx="294.61" cy="578.65" r="0.4" fill="#777" opacity="0.5"/>
<circle cx="298.08" cy="576.47" r="0.4" fill="#777" opacity="0.5"/>
<circle cx="309.19" cy="577.02" r="0.4" fill="#777" opacity="0.5"/>
<circle cx="279.18" cy="574.90" r="0.4" fill="#777" opacity="0.5"/>
<circle cx="286.79" cy="575.01" r="0.4" fill="#666" opacity="0.45"/>
<circle cx="286.40" cy="576.17" r="0.4" fill="#666" opacity="0.45"/>
<circle cx="286.91" cy="575.94" r="0.4" fill="#666" opacity="0.45"/>
<circle cx="289.55" cy="576.23" r="0.4" fill="#666" opacity="0.45"/>
<circle cx="288.43" cy="575.33" r="0.4" fill="#666" opacity="0.45"/>
<circle cx="287.95" cy="574.37" r="0.4" fill="#666" opacity="0.45"/>
<circle cx="286.99" cy="577.29" r="0.4" fill="#666" opacity="0.45"/>
<circle cx="287.53" cy="576.52" r="0.4" fill="#666" opacity="0.45"/>
<circle cx="289.66" cy="574.40" r="0.4" fill="#666" opacity="0.45"/>
<circle cx="288.89" cy="575.69" r="0.4" fill="#666" opacity="0.45"/>
<circle cx="287.91" cy="574.96" r="0.4" fill="#666" opacity="0.45"/>
<circle cx="290.20" cy="577.21" r="0.4" fill="#666" opacity="0.45"/>
<circle cx="287.86" cy="576.23" r="0.4" fill="#666" opacity="0.45"/>
<circle cx="287.75" cy="576.13" r="0.4" fill="#666" opacity="0.45"/>
<circle cx="286.43" cy="576.78" r="0.4" fill="#666" opacity="0.45"/>
<circle cx="292.79" cy="576.04" r="0.4" fill="#666" opacity="0.45"/>
<circle cx="287.50" cy="574.28" r="0.4" fill="#666" opacity="0.45"/>
<circle cx="290.53" cy="577.10" r="0.4" fill="#666" opacity="0.45"/>
<ellipse cx="299.60" cy="576.00" rx="11.00" ry="3.60" fill="none" stroke="#000" stroke-width="0.55"/>
<ellipse cx="299.70" cy="576.00" rx="10.22" ry="3.55" fill="none" stroke="#000" stroke-width="0.55"/>
<ellipse cx="299.80" cy="576.00" rx="9.45" ry="3.50" fill="none" stroke="#000" stroke-width="0.55"/>
<ellipse cx="299.90" cy="576.00" rx="8.68" ry="3.45" fill="none" stroke="#000" stroke-width="0.55"/>
<ellipse cx="300.00" cy="576.00" rx="7.90" ry="3.40" fill="#000"/>
<ellipse cx="300.00" cy="576.00" rx="0.9" ry="0.6" fill="#fff" filter="url(#bl2)"/>
<ellipse cx="242.60" cy="631.20" rx="12.12" ry="5.85" fill="#000" opacity="0.16" filter="url(#bl)"/>
<circle cx="236.06" cy="626.70" r="0.4" fill="#777" opacity="0.5"/>
<circle cx="247.11" cy="630.57" r="0.4" fill="#777" opacity="0.5"/>
<circle cx="254.69" cy="633.88" r="0.4" fill="#777" opacity="0.5"/>
<circle cx="239.20" cy="634.21" r="0.4" fill="#777" opacity="0.5"/>
<circle cx="244.38" cy="629.10" r="0.4" fill="#777" opacity="0.5"/>
<circle cx="249.53" cy="628.95" r="0.4" fill="#777" opacity="0.5"/>
<circle cx="256.84" cy="634.69" r="0.4" fill="#777" opacity="0.5"/>
<circle cx="240.03" cy="630.55" r="0.4" fill="#777" opacity="0.5"/>
<circle cx="249.05" cy="625.92" r="0.4" fill="#777" opacity="0.5"/>
<circle cx="241.96" cy="625.94" r="0.4" fill="#777" opacity="0.5"/>
<circle cx="243.70" cy="631.17" r="0.4" fill="#777" opacity="0.5"/>
<circle cx="252.61" cy="630.37" r="0.4" fill="#777" opacity="0.5"/>
<circle cx="242.42" cy="636.16" r="0.4" fill="#777" opacity="0.5"/>
<circle cx="237.23" cy="635.64" r="0.4" fill="#777" opacity="0.5"/>
<circle cx="240.16" cy="626.99" r="0.4" fill="#777" opacity="0.5"/>
<circle cx="248.34" cy="633.29" r="0.4" fill="#777" opacity="0.5"/>
<circle cx="238.82" cy="636.87" r="0.4" fill="#777" opacity="0.5"/>
<circle cx="253.70" cy="628.59" r="0.4" fill="#777" opacity="0.5"/>
<circle cx="238.36" cy="630.78" r="0.4" fill="#777" opacity="0.5"/>
<circle cx="241.14" cy="628.47" r="0.4" fill="#777" opacity="0.5"/>
<circle cx="246.96" cy="631.16" r="0.4" fill="#777" opacity="0.5"/>
<circle cx="243.81" cy="631.08" r="0.4" fill="#777" opacity="0.5"/>
<circle cx="243.81" cy="627.94" r="0.4" fill="#777" opacity="0.5"/>
<circle cx="236.05" cy="629.52" r="0.4" fill="#777" opacity="0.5"/>
<circle cx="239.90" cy="634.81" r="0.4" fill="#777" opacity="0.5"/>
<circle cx="245.25" cy="628.13" r="0.4" fill="#777" opacity="0.5"/>
<circle cx="234.69" cy="636.01" r="0.4" fill="#777" opacity="0.5"/>
<circle cx="245.52" cy="634.24" r="0.4" fill="#777" opacity="0.5"/>
<circle cx="234.11" cy="630.75" r="0.4" fill="#777" opacity="0.5"/>
<circle cx="248.39" cy="636.56" r="0.4" fill="#777" opacity="0.5"/>
<circle cx="239.51" cy="631.31" r="0.4" fill="#777" opacity="0.5"/>
<circle cx="241.32" cy="632.25" r="0.4" fill="#777" opacity="0.5"/>
<circle cx="240.66" cy="632.67" r="0.4" fill="#777" opacity="0.5"/>
<circle cx="242.35" cy="635.79" r="0.4" fill="#777" opacity="0.5"/>
<circle cx="240.39" cy="628.38" r="0.4" fill="#777" opacity="0.5"/>
<circle cx="234.34" cy="632.18" r="0.4" fill="#777" opacity="0.5"/>
<circle cx="229.38" cy="627.17" r="0.4" fill="#777" opacity="0.5"/>
<circle cx="245.14" cy="637.27" r="0.4" fill="#777" opacity="0.5"/>
<circle cx="228.47" cy="628.65" r="0.4" fill="#777" opacity="0.5"/>
<circle cx="242.35" cy="630.91" r="0.4" fill="#777" opacity="0.5"/>
<circle cx="254.41" cy="633.47" r="0.4" fill="#777" opacity="0.5"/>
<circle cx="239.81" cy="635.96" r="0.4" fill="#777" opacity="0.5"/>
<circle cx="250.05" cy="633.85" r="0.4" fill="#777" opacity="0.5"/>
<circle cx="235.95" cy="633.33" r="0.4" fill="#777" opacity="0.5"/>
<circle cx="257.63" cy="631.37" r="0.4" fill="#777" opacity="0.5"/>
<circle cx="249.08" cy="626.28" r="0.4" fill="#777" opacity="0.5"/>
<circle cx="233.52" cy="631.50" r="0.4" fill="#666" opacity="0.45"/>
<circle cx="230.22" cy="630.77" r="0.4" fill="#666" opacity="0.45"/>
<circle cx="235.37" cy="631.57" r="0.4" fill="#666" opacity="0.45"/>
<circle cx="229.68" cy="631.60" r="0.4" fill="#666" opacity="0.45"/>
<circle cx="228.84" cy="628.36" r="0.4" fill="#666" opacity="0.45"/>
<circle cx="229.30" cy="633.97" r="0.4" fill="#666" opacity="0.45"/>
<circle cx="229.17" cy="634.06" r="0.4" fill="#666" opacity="0.45"/>
<circle cx="230.74" cy="630.36" r="0.4" fill="#666" opacity="0.45"/>
<circle cx="231.79" cy="630.71" r="0.4" fill="#666" opacity="0.45"/>
<circle cx="233.12" cy="631.93" r="0.4" fill="#666" opacity="0.45"/>
<circle cx="231.39" cy="630.96" r="0.4" fill="#666" opacity="0.45"/>
<circle cx="233.90" cy="630.36" r="0.4" fill="#666" opacity="0.45"/>
<circle cx="230.56" cy="629.78" r="0.4" fill="#666" opacity="0.45"/>
<circle cx="229.91" cy="631.74" r="0.4" fill="#666" opacity="0.45"/>
<circle cx="229.56" cy="630.96" r="0.4" fill="#666" opacity="0.45"/>
<circle cx="232.48" cy="631.71" r="0.4" fill="#666" opacity="0.45"/>
<circle cx="233.78" cy="631.76" r="0.4" fill="#666" opacity="0.45"/>
<circle cx="231.43" cy="632.02" r="0.4" fill="#666" opacity="0.45"/>
<ellipse cx="242.60" cy="631.20" rx="10.10" ry="4.50" fill="none" stroke="#000" stroke-width="0.55"/>
<ellipse cx="242.47" cy="631.20" rx="9.37" ry="4.43" fill="none" stroke="#000" stroke-width="0.55"/>
<ellipse cx="242.33" cy="631.20" rx="8.63" ry="4.37" fill="none" stroke="#000" stroke-width="0.55"/>
<ellipse cx="242.20" cy="631.20" rx="7.90" ry="4.30" fill="#000"/>
<ellipse cx="241.20" cy="631.20" rx="0.9" ry="0.6" fill="#fff" filter="url(#bl2)"/>
<ellipse cx="264.50" cy="631.60" rx="7.92" ry="7.41" fill="#000" opacity="0.16" filter="url(#bl)"/>
<circle cx="266.36" cy="633.17" r="0.4" fill="#777" opacity="0.5"/>
<circle cx="262.13" cy="629.96" r="0.4" fill="#777" opacity="0.5"/>
<circle cx="267.97" cy="635.37" r="0.4" fill="#777" opacity="0.5"/>
<circle cx="261.72" cy="633.16" r="0.4" fill="#777" opacity="0.5"/>
<circle cx="257.60" cy="637.11" r="0.4" fill="#777" opacity="0.5"/>
<circle cx="266.52" cy="633.76" r="0.4" fill="#777" opacity="0.5"/>
<circle cx="267.87" cy="632.19" r="0.4" fill="#777" opacity="0.5"/>
<circle cx="275.55" cy="639.01" r="0.4" fill="#777" opacity="0.5"/>
<circle cx="259.02" cy="644.19" r="0.4" fill="#777" opacity="0.5"/>
<circle cx="271.37" cy="638.77" r="0.4" fill="#777" opacity="0.5"/>
<circle cx="257.43" cy="631.32" r="0.4" fill="#777" opacity="0.5"/>
<circle cx="262.58" cy="628.51" r="0.4" fill="#777" opacity="0.5"/>
<circle cx="265.26" cy="638.44" r="0.4" fill="#777" opacity="0.5"/>
<circle cx="265.01" cy="632.15" r="0.4" fill="#777" opacity="0.5"/>
<circle cx="265.36" cy="625.20" r="0.4" fill="#777" opacity="0.5"/>
<circle cx="264.14" cy="637.12" r="0.4" fill="#777" opacity="0.5"/>
<circle cx="267.65" cy="629.62" r="0.4" fill="#777" opacity="0.5"/>
<circle cx="267.92" cy="634.93" r="0.4" fill="#777" opacity="0.5"/>
<circle cx="266.69" cy="635.40" r="0.4" fill="#777" opacity="0.5"/>
<circle cx="272.18" cy="633.18" r="0.4" fill="#777" opacity="0.5"/>
<circle cx="266.05" cy="627.46" r="0.4" fill="#777" opacity="0.5"/>
<circle cx="261.94" cy="634.05" r="0.4" fill="#777" opacity="0.5"/>
<circle cx="273.58" cy="628.93" r="0.4" fill="#777" opacity="0.5"/>
<circle cx="263.00" cy="629.19" r="0.4" fill="#777" opacity="0.5"/>
<circle cx="268.20" cy="638.48" r="0.4" fill="#777" opacity="0.5"/>
<circle cx="267.11" cy="638.07" r="0.4" fill="#777" opacity="0.5"/>
<circle cx="263.48" cy="632.15" r="0.4" fill="#777" opacity="0.5"/>
<circle cx="267.80" cy="641.15" r="0.4" fill="#777" opacity="0.5"/>
<circle cx="261.46" cy="637.74" r="0.4" fill="#777" opacity="0.5"/>
<circle cx="264.84" cy="627.01" r="0.4" fill="#777" opacity="0.5"/>
<circle cx="255.34" cy="631.65" r="0.4" fill="#777" opacity="0.5"/>
<circle cx="263.69" cy="626.13" r="0.4" fill="#777" opacity="0.5"/>
<circle cx="259.66" cy="630.22" r="0.4" fill="#777" opacity="0.5"/>
<circle cx="258.33" cy="634.63" r="0.4" fill="#777" opacity="0.5"/>
<circle cx="264.87" cy="640.73" r="0.4" fill="#777" opacity="0.5"/>
<circle cx="263.58" cy="634.78" r="0.4" fill="#777" opacity="0.5"/>
<circle cx="265.29" cy="631.42" r="0.4" fill="#777" opacity="0.5"/>
<circle cx="259.61" cy="634.79" r="0.4" fill="#777" opacity="0.5"/>
<circle cx="256.42" cy="634.76" r="0.4" fill="#777" opacity="0.5"/>
<circle cx="261.97" cy="626.81" r="0.4" fill="#777" opacity="0.5"/>
<ellipse cx="264.50" cy="631.60" rx="6.60" ry="5.70" fill="none" stroke="#000" stroke-width="0.55"/>
<ellipse cx="264.50" cy="631.60" rx="6.07" ry="5.33" fill="none" stroke="#000" stroke-width="0.55"/>
<ellipse cx="264.50" cy="631.60" rx="5.53" ry="4.97" fill="none" stroke="#000" stroke-width="0.55"/>
<ellipse cx="264.50" cy="631.60" rx="5.00" ry="4.60" fill="#000"/>
<ellipse cx="264.50" cy="631.60" rx="0.9" ry="0.6" fill="#fff" filter="url(#bl2)"/>
<path d="M252.8,629.8 Q255.5,632 258.2,629.6 M252.8,633.2 Q255.5,630.8 258.2,633.6" fill="none" stroke="#000" stroke-width="0.6"/>
<ellipse cx="303.00" cy="631.20" rx="17.40" ry="5.72" fill="#000" opacity="0.16" filter="url(#bl)"/>
<circle cx="294.07" cy="630.23" r="0.4" fill="#777" opacity="0.5"/>
<circle cx="307.70" cy="628.80" r="0.4" fill="#777" opacity="0.5"/>
<circle cx="293.70" cy="630.99" r="0.4" fill="#777" opacity="0.5"/>
<circle cx="279.37" cy="636.01" r="0.4" fill="#777" opacity="0.5"/>
<circle cx="311.75" cy="633.52" r="0.4" fill="#777" opacity="0.5"/>
<circle cx="304.48" cy="634.42" r="0.4" fill="#777" opacity="0.5"/>
<circle cx="312.07" cy="631.18" r="0.4" fill="#777" opacity="0.5"/>
<circle cx="294.75" cy="628.90" r="0.4" fill="#777" opacity="0.5"/>
<circle cx="301.65" cy="627.40" r="0.4" fill="#777" opacity="0.5"/>
<circle cx="308.19" cy="634.50" r="0.4" fill="#777" opacity="0.5"/>
<circle cx="287.92" cy="634.61" r="0.4" fill="#777" opacity="0.5"/>
<circle cx="296.80" cy="630.31" r="0.4" fill="#777" opacity="0.5"/>
<circle cx="299.07" cy="628.57" r="0.4" fill="#777" opacity="0.5"/>
<circle cx="295.87" cy="631.01" r="0.4" fill="#777" opacity="0.5"/>
<circle cx="287.90" cy="634.49" r="0.4" fill="#777" opacity="0.5"/>
<circle cx="286.12" cy="630.62" r="0.4" fill="#777" opacity="0.5"/>
<circle cx="303.57" cy="626.52" r="0.4" fill="#777" opacity="0.5"/>
<circle cx="296.75" cy="628.40" r="0.4" fill="#777" opacity="0.5"/>
<circle cx="290.02" cy="627.08" r="0.4" fill="#777" opacity="0.5"/>
<circle cx="322.42" cy="636.04" r="0.4" fill="#777" opacity="0.5"/>
<circle cx="299.27" cy="632.63" r="0.4" fill="#777" opacity="0.5"/>
<circle cx="308.45" cy="633.80" r="0.4" fill="#777" opacity="0.5"/>
<circle cx="312.27" cy="632.69" r="0.4" fill="#777" opacity="0.5"/>
<circle cx="290.24" cy="633.81" r="0.4" fill="#777" opacity="0.5"/>
<circle cx="279.77" cy="632.92" r="0.4" fill="#777" opacity="0.5"/>
<circle cx="298.18" cy="628.59" r="0.4" fill="#777" opacity="0.5"/>
<circle cx="314.12" cy="627.34" r="0.4" fill="#777" opacity="0.5"/>
<circle cx="319.18" cy="630.03" r="0.4" fill="#777" opacity="0.5"/>
<circle cx="309.72" cy="630.69" r="0.4" fill="#777" opacity="0.5"/>
<circle cx="298.18" cy="640.48" r="0.4" fill="#777" opacity="0.5"/>
<circle cx="325.81" cy="632.29" r="0.4" fill="#777" opacity="0.5"/>
<circle cx="307.64" cy="630.18" r="0.4" fill="#777" opacity="0.5"/>
<circle cx="316.19" cy="637.56" r="0.4" fill="#777" opacity="0.5"/>
<circle cx="322.84" cy="629.42" r="0.4" fill="#777" opacity="0.5"/>
<circle cx="300.27" cy="625.33" r="0.4" fill="#777" opacity="0.5"/>
<circle cx="302.56" cy="631.60" r="0.4" fill="#777" opacity="0.5"/>
<circle cx="288.43" cy="625.96" r="0.4" fill="#777" opacity="0.5"/>
<circle cx="314.58" cy="629.87" r="0.4" fill="#777" opacity="0.5"/>
<circle cx="309.27" cy="631.31" r="0.4" fill="#777" opacity="0.5"/>
<circle cx="296.02" cy="632.00" r="0.4" fill="#777" opacity="0.5"/>
<circle cx="309.54" cy="631.60" r="0.4" fill="#777" opacity="0.5"/>
<circle cx="297.71" cy="631.20" r="0.4" fill="#777" opacity="0.5"/>
<circle cx="307.64" cy="632.58" r="0.4" fill="#777" opacity="0.5"/>
<circle cx="320.36" cy="632.49" r="0.4" fill="#777" opacity="0.5"/>
<circle cx="307.53" cy="629.43" r="0.4" fill="#777" opacity="0.5"/>
<circle cx="289.18" cy="625.83" r="0.4" fill="#777" opacity="0.5"/>
<circle cx="303.37" cy="634.37" r="0.4" fill="#777" opacity="0.5"/>
<circle cx="315.64" cy="627.16" r="0.4" fill="#777" opacity="0.5"/>
<circle cx="289.94" cy="626.88" r="0.4" fill="#777" opacity="0.5"/>
<circle cx="295.09" cy="629.84" r="0.4" fill="#777" opacity="0.5"/>
<circle cx="295.97" cy="625.54" r="0.4" fill="#777" opacity="0.5"/>
<circle cx="311.41" cy="632.26" r="0.4" fill="#777" opacity="0.5"/>
<circle cx="297.18" cy="638.26" r="0.4" fill="#777" opacity="0.5"/>
<circle cx="299.40" cy="636.32" r="0.4" fill="#777" opacity="0.5"/>
<circle cx="293.92" cy="632.57" r="0.4" fill="#777" opacity="0.5"/>
<circle cx="281.45" cy="631.20" r="0.4" fill="#777" opacity="0.5"/>
<circle cx="297.50" cy="628.27" r="0.4" fill="#777" opacity="0.5"/>
<circle cx="308.46" cy="633.82" r="0.4" fill="#777" opacity="0.5"/>
<circle cx="288.62" cy="632.12" r="0.4" fill="#777" opacity="0.5"/>
<circle cx="312.00" cy="631.17" r="0.4" fill="#777" opacity="0.5"/>
<circle cx="323.75" cy="628.36" r="0.4" fill="#777" opacity="0.5"/>
<circle cx="315.23" cy="629.92" r="0.4" fill="#666" opacity="0.45"/>
<circle cx="317.88" cy="633.47" r="0.4" fill="#666" opacity="0.45"/>
<circle cx="322.66" cy="629.07" r="0.4" fill="#666" opacity="0.45"/>
<circle cx="317.17" cy="630.21" r="0.4" fill="#666" opacity="0.45"/>
<circle cx="318.95" cy="630.47" r="0.4" fill="#666" opacity="0.45"/>
<circle cx="317.37" cy="630.80" r="0.4" fill="#666" opacity="0.45"/>
<circle cx="319.16" cy="629.49" r="0.4" fill="#666" opacity="0.45"/>
<circle cx="318.74" cy="630.36" r="0.4" fill="#666" opacity="0.45"/>
<circle cx="318.01" cy="628.88" r="0.4" fill="#666" opacity="0.45"/>
<circle cx="319.18" cy="631.42" r="0.4" fill="#666" opacity="0.45"/>
<circle cx="320.00" cy="631.44" r="0.4" fill="#666" opacity="0.45"/>
<circle cx="318.38" cy="630.47" r="0.4" fill="#666" opacity="0.45"/>
<circle cx="320.60" cy="630.50" r="0.4" fill="#666" opacity="0.45"/>
<circle cx="318.58" cy="631.74" r="0.4" fill="#666" opacity="0.45"/>
<circle cx="320.55" cy="631.80" r="0.4" fill="#666" opacity="0.45"/>
<circle cx="321.37" cy="631.54" r="0.4" fill="#666" opacity="0.45"/>
<circle cx="317.93" cy="631.60" r="0.4" fill="#666" opacity="0.45"/>
<circle cx="315.48" cy="631.19" r="0.4" fill="#666" opacity="0.45"/>
<circle cx="319.08" cy="630.55" r="0.4" fill="#666" opacity="0.45"/>
<circle cx="317.27" cy="630.99" r="0.4" fill="#666" opacity="0.45"/>
<circle cx="319.60" cy="630.63" r="0.4" fill="#666" opacity="0.45"/>
<ellipse cx="303.00" cy="631.20" rx="14.50" ry="4.40" fill="none" stroke="#000" stroke-width="0.55"/>
<ellipse cx="302.90" cy="631.20" rx="13.50" ry="4.28" fill="none" stroke="#000" stroke-width="0.55"/>
<ellipse cx="302.80" cy="631.20" rx="12.50" ry="4.15" fill="none" stroke="#000" stroke-width="0.55"/>
<ellipse cx="302.70" cy="631.20" rx="11.50" ry="4.03" fill="none" stroke="#000" stroke-width="0.55"/>
<ellipse cx="302.60" cy="631.20" rx="10.50" ry="3.90" fill="#000"/>
<ellipse cx="302.60" cy="631.20" rx="0.9" ry="0.6" fill="#fff" filter="url(#bl2)"/>
<rect x="250.40" y="565.50" width="22.90" height="19.80" fill="none" stroke="#666666" stroke-width="0.85"/>
<rect x="309.60" y="565.50" width="22.40" height="19.80" fill="none" stroke="#666666" stroke-width="0.85"/>
<rect x="250.40" y="619.80" width="22.90" height="19.70" fill="none" stroke="#666666" stroke-width="0.85"/>
<rect x="309.60" y="619.80" width="22.40" height="19.70" fill="none" stroke="#666666" stroke-width="0.85"/>
<text x="262.00" y="582.20" font-size="10.4" text-anchor="middle" textLength="15.4" lengthAdjust="spacingAndGlyphs">8.6</text>
<text x="322.20" y="581.80" font-size="10.4" text-anchor="middle" textLength="15.4" lengthAdjust="spacingAndGlyphs">5.0</text>
<text x="260.90" y="649.30" font-size="10.4" text-anchor="middle" textLength="21.0" lengthAdjust="spacingAndGlyphs">48.5</text>
<text x="320.10" y="649.30" font-size="10.4" text-anchor="middle" textLength="21.0" lengthAdjust="spacingAndGlyphs">20.7</text>
<line x1="195.20" y1="629.30" x2="195.20" y2="559.20" stroke="#3f4d69" stroke-width="1.5"/>
<path d="M195.20,555.20 L192.40,561.20 L198.00,561.20 Z" fill="#3f4d69"/>
<text x="198.80" y="646.00" font-size="10.0" text-anchor="middle" transform="rotate(-90 198.80 646.00)" textLength="25.7" lengthAdjust="spacingAndGlyphs">Open</text>
<text x="203.60" y="619.50" font-size="8.6" textLength="9.2" lengthAdjust="spacingAndGlyphs">10</text>
<text x="212.90" y="616.40" font-size="6.6" textLength="3.8" lengthAdjust="spacingAndGlyphs">5</text>
<text x="203.60" y="630.00" font-size="8.6" textLength="9.2" lengthAdjust="spacingAndGlyphs">10</text>
<text x="212.90" y="626.90" font-size="6.6" textLength="3.8" lengthAdjust="spacingAndGlyphs">4</text>
<text x="203.60" y="640.50" font-size="8.6" textLength="9.2" lengthAdjust="spacingAndGlyphs">10</text>
<text x="212.90" y="637.40" font-size="6.6" textLength="3.8" lengthAdjust="spacingAndGlyphs">3</text>
<text x="214.40" y="662.80" font-size="9.2" text-anchor="middle" textLength="5.8" lengthAdjust="spacingAndGlyphs">0</text>
<text x="235.70" y="669.50" font-size="9.0" text-anchor="middle" transform="rotate(-90 235.70 669.50)">0</text>
<text x="253.30" y="679.10" font-size="8.8" textLength="9.2" lengthAdjust="spacingAndGlyphs" transform="rotate(-90 253.30 679.10)">10</text>
<text x="250.20" y="669.40" font-size="6.6" textLength="3.8" lengthAdjust="spacingAndGlyphs" transform="rotate(-90 250.20 669.40)">3</text>
<text x="264.50" y="679.10" font-size="8.8" textLength="9.2" lengthAdjust="spacingAndGlyphs" transform="rotate(-90 264.50 679.10)">10</text>
<text x="261.40" y="669.40" font-size="6.6" textLength="3.8" lengthAdjust="spacingAndGlyphs" transform="rotate(-90 261.40 669.40)">4</text>
<text x="274.40" y="679.10" font-size="8.8" textLength="9.2" lengthAdjust="spacingAndGlyphs" transform="rotate(-90 274.40 679.10)">10</text>
<text x="271.30" y="669.40" font-size="6.6" textLength="3.8" lengthAdjust="spacingAndGlyphs" transform="rotate(-90 271.30 669.40)">5</text>
<text x="223.10" y="690.60" font-size="10.0" textLength="59.3" lengthAdjust="spacingAndGlyphs">Granzyme C</text>
<line x1="285.50" y1="687.80" x2="329.50" y2="687.80" stroke="#3f4d69" stroke-width="1.5"/>
<path d="M333.50,687.80 L327.50,685.00 L327.50,690.60 Z" fill="#3f4d69"/>
<text x="403.60" y="545.50" font-size="10.2" text-anchor="middle" textLength="28.3" lengthAdjust="spacingAndGlyphs">γδ IEL</text>
<text x="457.70" y="545.50" font-size="10.2" text-anchor="middle" textLength="31.0" lengthAdjust="spacingAndGlyphs">DN IEL</text>
<rect x="377.90" y="552.40" width="51.30" height="50.90" fill="none" stroke="#999999" stroke-width="0.8"/>
<line x1="383.60" y1="602.70" x2="383.60" y2="604.20" stroke="#555" stroke-width="0.5"/>
<line x1="389.30" y1="602.70" x2="389.30" y2="604.20" stroke="#555" stroke-width="0.5"/>
<line x1="395.00" y1="602.70" x2="395.00" y2="604.20" stroke="#555" stroke-width="0.5"/>
<line x1="400.70" y1="602.70" x2="400.70" y2="604.20" stroke="#555" stroke-width="0.5"/>
<line x1="406.40" y1="602.70" x2="406.40" y2="604.20" stroke="#555" stroke-width="0.5"/>
<line x1="412.10" y1="602.70" x2="412.10" y2="604.20" stroke="#555" stroke-width="0.5"/>
<line x1="417.80" y1="602.70" x2="417.80" y2="604.20" stroke="#555" stroke-width="0.5"/>
<line x1="423.50" y1="602.70" x2="423.50" y2="604.20" stroke="#555" stroke-width="0.5"/>
<line x1="377.00" y1="559.67" x2="378.50" y2="559.67" stroke="#555" stroke-width="0.5"/>
<line x1="377.00" y1="566.94" x2="378.50" y2="566.94" stroke="#555" stroke-width="0.5"/>
<line x1="377.00" y1="574.21" x2="378.50" y2="574.21" stroke="#555" stroke-width="0.5"/>
<line x1="377.00" y1="581.49" x2="378.50" y2="581.49" stroke="#555" stroke-width="0.5"/>
<line x1="377.00" y1="588.76" x2="378.50" y2="588.76" stroke="#555" stroke-width="0.5"/>
<line x1="377.00" y1="596.03" x2="378.50" y2="596.03" stroke="#555" stroke-width="0.5"/>
<rect x="433.10" y="552.40" width="50.80" height="50.90" fill="none" stroke="#999999" stroke-width="0.8"/>
<line x1="438.74" y1="602.70" x2="438.74" y2="604.20" stroke="#555" stroke-width="0.5"/>
<line x1="444.39" y1="602.70" x2="444.39" y2="604.20" stroke="#555" stroke-width="0.5"/>
<line x1="450.03" y1="602.70" x2="450.03" y2="604.20" stroke="#555" stroke-width="0.5"/>
<line x1="455.68" y1="602.70" x2="455.68" y2="604.20" stroke="#555" stroke-width="0.5"/>
<line x1="461.32" y1="602.70" x2="461.32" y2="604.20" stroke="#555" stroke-width="0.5"/>
<line x1="466.97" y1="602.70" x2="466.97" y2="604.20" stroke="#555" stroke-width="0.5"/>
<line x1="472.61" y1="602.70" x2="472.61" y2="604.20" stroke="#555" stroke-width="0.5"/>
<line x1="478.26" y1="602.70" x2="478.26" y2="604.20" stroke="#555" stroke-width="0.5"/>
<line x1="432.20" y1="559.67" x2="433.70" y2="559.67" stroke="#555" stroke-width="0.5"/>
<line x1="432.20" y1="566.94" x2="433.70" y2="566.94" stroke="#555" stroke-width="0.5"/>
<line x1="432.20" y1="574.21" x2="433.70" y2="574.21" stroke="#555" stroke-width="0.5"/>
<line x1="432.20" y1="581.49" x2="433.70" y2="581.49" stroke="#555" stroke-width="0.5"/>
<line x1="432.20" y1="588.76" x2="433.70" y2="588.76" stroke="#555" stroke-width="0.5"/>
<line x1="432.20" y1="596.03" x2="433.70" y2="596.03" stroke="#555" stroke-width="0.5"/>
<rect x="378.40" y="607.70" width="50.80" height="50.30" fill="none" stroke="#999999" stroke-width="0.8"/>
<line x1="384.04" y1="657.40" x2="384.04" y2="658.90" stroke="#555" stroke-width="0.5"/>
<line x1="389.69" y1="657.40" x2="389.69" y2="658.90" stroke="#555" stroke-width="0.5"/>
<line x1="395.33" y1="657.40" x2="395.33" y2="658.90" stroke="#555" stroke-width="0.5"/>
<line x1="400.98" y1="657.40" x2="400.98" y2="658.90" stroke="#555" stroke-width="0.5"/>
<line x1="406.62" y1="657.40" x2="406.62" y2="658.90" stroke="#555" stroke-width="0.5"/>
<line x1="412.27" y1="657.40" x2="412.27" y2="658.90" stroke="#555" stroke-width="0.5"/>
<line x1="417.91" y1="657.40" x2="417.91" y2="658.90" stroke="#555" stroke-width="0.5"/>
<line x1="423.56" y1="657.40" x2="423.56" y2="658.90" stroke="#555" stroke-width="0.5"/>
<line x1="377.50" y1="614.89" x2="379.00" y2="614.89" stroke="#555" stroke-width="0.5"/>
<line x1="377.50" y1="622.07" x2="379.00" y2="622.07" stroke="#555" stroke-width="0.5"/>
<line x1="377.50" y1="629.26" x2="379.00" y2="629.26" stroke="#555" stroke-width="0.5"/>
<line x1="377.50" y1="636.44" x2="379.00" y2="636.44" stroke="#555" stroke-width="0.5"/>
<line x1="377.50" y1="643.63" x2="379.00" y2="643.63" stroke="#555" stroke-width="0.5"/>
<line x1="377.50" y1="650.81" x2="379.00" y2="650.81" stroke="#555" stroke-width="0.5"/>
<rect x="433.40" y="607.70" width="50.50" height="50.30" fill="none" stroke="#999999" stroke-width="0.8"/>
<line x1="439.01" y1="657.40" x2="439.01" y2="658.90" stroke="#555" stroke-width="0.5"/>
<line x1="444.62" y1="657.40" x2="444.62" y2="658.90" stroke="#555" stroke-width="0.5"/>
<line x1="450.23" y1="657.40" x2="450.23" y2="658.90" stroke="#555" stroke-width="0.5"/>
<line x1="455.84" y1="657.40" x2="455.84" y2="658.90" stroke="#555" stroke-width="0.5"/>
<line x1="461.46" y1="657.40" x2="461.46" y2="658.90" stroke="#555" stroke-width="0.5"/>
<line x1="467.07" y1="657.40" x2="467.07" y2="658.90" stroke="#555" stroke-width="0.5"/>
<line x1="472.68" y1="657.40" x2="472.68" y2="658.90" stroke="#555" stroke-width="0.5"/>
<line x1="478.29" y1="657.40" x2="478.29" y2="658.90" stroke="#555" stroke-width="0.5"/>
<line x1="432.50" y1="614.89" x2="434.00" y2="614.89" stroke="#555" stroke-width="0.5"/>
<line x1="432.50" y1="622.07" x2="434.00" y2="622.07" stroke="#555" stroke-width="0.5"/>
<line x1="432.50" y1="629.26" x2="434.00" y2="629.26" stroke="#555" stroke-width="0.5"/>
<line x1="432.50" y1="636.44" x2="434.00" y2="636.44" stroke="#555" stroke-width="0.5"/>
<line x1="432.50" y1="643.63" x2="434.00" y2="643.63" stroke="#555" stroke-width="0.5"/>
<line x1="432.50" y1="650.81" x2="434.00" y2="650.81" stroke="#555" stroke-width="0.5"/>
<ellipse cx="397.60" cy="573.50" rx="11.04" ry="5.59" fill="#000" opacity="0.16" filter="url(#bl)"/>
<circle cx="400.74" cy="573.63" r="0.4" fill="#777" opacity="0.5"/>
<circle cx="389.96" cy="576.76" r="0.4" fill="#777" opacity="0.5"/>
<circle cx="399.62" cy="574.79" r="0.4" fill="#777" opacity="0.5"/>
<circle cx="398.84" cy="579.25" r="0.4" fill="#777" opacity="0.5"/>
<circle cx="403.96" cy="578.02" r="0.4" fill="#777" opacity="0.5"/>
<circle cx="395.77" cy="571.91" r="0.4" fill="#777" opacity="0.5"/>
<circle cx="390.76" cy="572.67" r="0.4" fill="#777" opacity="0.5"/>
<circle cx="379.20" cy="579.52" r="0.4" fill="#777" opacity="0.5"/>
<circle cx="398.69" cy="573.89" r="0.4" fill="#777" opacity="0.5"/>
<circle cx="403.68" cy="572.21" r="0.4" fill="#777" opacity="0.5"/>
<circle cx="399.43" cy="576.42" r="0.4" fill="#777" opacity="0.5"/>
<circle cx="387.00" cy="579.93" r="0.4" fill="#777" opacity="0.5"/>
<circle cx="398.71" cy="575.83" r="0.4" fill="#777" opacity="0.5"/>
<circle cx="390.62" cy="571.30" r="0.4" fill="#777" opacity="0.5"/>
<circle cx="409.39" cy="571.62" r="0.4" fill="#777" opacity="0.5"/>
<circle cx="394.92" cy="575.33" r="0.4" fill="#777" opacity="0.5"/>
<circle cx="407.59" cy="564.66" r="0.4" fill="#777" opacity="0.5"/>
<circle cx="407.91" cy="574.56" r="0.4" fill="#777" opacity="0.5"/>
<circle cx="403.93" cy="569.83" r="0.4" fill="#777" opacity="0.5"/>
<circle cx="399.87" cy="579.52" r="0.4" fill="#777" opacity="0.5"/>
<circle cx="397.07" cy="571.26" r="0.4" fill="#777" opacity="0.5"/>
<circle cx="394.73" cy="571.63" r="0.4" fill="#777" opacity="0.5"/>
<circle cx="403.23" cy="574.30" r="0.4" fill="#777" opacity="0.5"/>
<circle cx="394.33" cy="576.48" r="0.4" fill="#777" opacity="0.5"/>
<circle cx="390.20" cy="568.29" r="0.4" fill="#777" opacity="0.5"/>
<circle cx="414.71" cy="571.23" r="0.4" fill="#777" opacity="0.5"/>
<circle cx="408.97" cy="573.25" r="0.4" fill="#777" opacity="0.5"/>
<circle cx="396.21" cy="575.51" r="0.4" fill="#777" opacity="0.5"/>
<circle cx="391.83" cy="570.47" r="0.4" fill="#777" opacity="0.5"/>
<circle cx="396.30" cy="572.14" r="0.4" fill="#777" opacity="0.5"/>
<circle cx="402.70" cy="580.76" r="0.4" fill="#777" opacity="0.5"/>
<circle cx="389.62" cy="570.35" r="0.4" fill="#777" opacity="0.5"/>
<circle cx="402.96" cy="575.46" r="0.4" fill="#777" opacity="0.5"/>
<circle cx="405.47" cy="570.83" r="0.4" fill="#777" opacity="0.5"/>
<circle cx="401.86" cy="573.38" r="0.4" fill="#777" opacity="0.5"/>
<circle cx="386.50" cy="575.23" r="0.4" fill="#777" opacity="0.5"/>
<circle cx="386.92" cy="575.57" r="0.4" fill="#777" opacity="0.5"/>
<circle cx="394.61" cy="572.85" r="0.4" fill="#777" opacity="0.5"/>
<circle cx="412.55" cy="579.22" r="0.4" fill="#777" opacity="0.5"/>
<circle cx="400.70" cy="575.04" r="0.4" fill="#777" opacity="0.5"/>
<circle cx="392.41" cy="578.18" r="0.4" fill="#777" opacity="0.5"/>
<circle cx="392.01" cy="575.04" r="0.4" fill="#666" opacity="0.45"/>
<circle cx="404.13" cy="573.56" r="0.4" fill="#666" opacity="0.45"/>
<circle cx="383.63" cy="574.76" r="0.4" fill="#666" opacity="0.45"/>
<circle cx="391.21" cy="574.42" r="0.4" fill="#666" opacity="0.45"/>
<circle cx="402.34" cy="573.47" r="0.4" fill="#666" opacity="0.45"/>
<circle cx="394.51" cy="571.43" r="0.4" fill="#666" opacity="0.45"/>
<circle cx="396.25" cy="571.62" r="0.4" fill="#666" opacity="0.45"/>
<circle cx="392.16" cy="573.06" r="0.4" fill="#666" opacity="0.45"/>
<circle cx="398.47" cy="573.41" r="0.4" fill="#666" opacity="0.45"/>
<circle cx="402.73" cy="574.24" r="0.4" fill="#666" opacity="0.45"/>
<circle cx="386.00" cy="571.84" r="0.4" fill="#666" opacity="0.45"/>
<circle cx="387.96" cy="571.13" r="0.4" fill="#666" opacity="0.45"/>
<circle cx="397.91" cy="572.83" r="0.4" fill="#666" opacity="0.45"/>
<circle cx="405.82" cy="572.01" r="0.4" fill="#666" opacity="0.45"/>
<circle cx="394.56" cy="573.22" r="0.4" fill="#666" opacity="0.45"/>
<circle cx="399.85" cy="573.39" r="0.4" fill="#666" opacity="0.45"/>
<circle cx="410.89" cy="574.25" r="0.4" fill="#666" opacity="0.45"/>
<circle cx="387.36" cy="574.61" r="0.4" fill="#666" opacity="0.45"/>
<circle cx="410.16" cy="572.82" r="0.4" fill="#666" opacity="0.45"/>
<circle cx="399.42" cy="573.74" r="0.4" fill="#666" opacity="0.45"/>
<circle cx="407.94" cy="572.67" r="0.4" fill="#666" opacity="0.45"/>
<circle cx="386.74" cy="575.78" r="0.4" fill="#666" opacity="0.45"/>
<circle cx="406.69" cy="575.33" r="0.4" fill="#666" opacity="0.45"/>
<circle cx="407.36" cy="573.09" r="0.4" fill="#666" opacity="0.45"/>
<circle cx="385.86" cy="576.00" r="0.4" fill="#666" opacity="0.45"/>
<circle cx="387.13" cy="573.48" r="0.4" fill="#666" opacity="0.45"/>
<circle cx="402.32" cy="571.29" r="0.4" fill="#666" opacity="0.45"/>
<circle cx="405.87" cy="570.91" r="0.4" fill="#666" opacity="0.45"/>
<circle cx="402.35" cy="573.29" r="0.4" fill="#666" opacity="0.45"/>
<circle cx="390.70" cy="573.72" r="0.4" fill="#666" opacity="0.45"/>
<circle cx="400.01" cy="572.34" r="0.4" fill="#666" opacity="0.45"/>
<circle cx="413.93" cy="572.80" r="0.4" fill="#666" opacity="0.45"/>
<circle cx="394.03" cy="572.18" r="0.4" fill="#666" opacity="0.45"/>
<circle cx="400.71" cy="571.00" r="0.4" fill="#666" opacity="0.45"/>
<circle cx="402.84" cy="572.16" r="0.4" fill="#666" opacity="0.45"/>
<circle cx="399.42" cy="572.15" r="0.4" fill="#666" opacity="0.45"/>
<circle cx="393.45" cy="573.20" r="0.4" fill="#666" opacity="0.45"/>
<circle cx="396.35" cy="576.13" r="0.4" fill="#666" opacity="0.45"/>
<circle cx="403.09" cy="573.00" r="0.4" fill="#666" opacity="0.45"/>
<circle cx="397.49" cy="572.90" r="0.4" fill="#666" opacity="0.45"/>
<circle cx="392.02" cy="574.08" r="0.4" fill="#666" opacity="0.45"/>
<circle cx="398.32" cy="573.39" r="0.4" fill="#666" opacity="0.45"/>
<circle cx="389.03" cy="570.55" r="0.4" fill="#666" opacity="0.45"/>
<circle cx="400.54" cy="574.19" r="0.4" fill="#666" opacity="0.45"/>
<circle cx="397.51" cy="570.94" r="0.4" fill="#666" opacity="0.45"/>
<circle cx="395.74" cy="571.91" r="0.4" fill="#666" opacity="0.45"/>
<circle cx="412.74" cy="572.26" r="0.4" fill="#666" opacity="0.45"/>
<circle cx="402.25" cy="571.29" r="0.4" fill="#666" opacity="0.45"/>
<circle cx="407.90" cy="575.78" r="0.4" fill="#666" opacity="0.45"/>
<circle cx="389.42" cy="572.16" r="0.4" fill="#666" opacity="0.45"/>
<circle cx="391.48" cy="570.98" r="0.4" fill="#666" opacity="0.45"/>
<circle cx="400.99" cy="573.69" r="0.4" fill="#666" opacity="0.45"/>
<circle cx="395.16" cy="573.56" r="0.4" fill="#666" opacity="0.45"/>
<circle cx="396.55" cy="572.30" r="0.4" fill="#666" opacity="0.45"/>
<circle cx="389.14" cy="571.77" r="0.4" fill="#666" opacity="0.45"/>
<circle cx="397.90" cy="570.70" r="0.4" fill="#666" opacity="0.45"/>
<circle cx="392.49" cy="572.86" r="0.4" fill="#666" opacity="0.45"/>
<circle cx="407.89" cy="571.92" r="0.4" fill="#666" opacity="0.45"/>
<circle cx="380.38" cy="572.97" r="0.4" fill="#666" opacity="0.45"/>
<circle cx="402.63" cy="571.40" r="0.4" fill="#666" opacity="0.45"/>
<circle cx="393.37" cy="573.56" r="0.4" fill="#666" opacity="0.45"/>
<circle cx="400.50" cy="573.14" r="0.4" fill="#666" opacity="0.45"/>
<circle cx="411.03" cy="573.29" r="0.4" fill="#666" opacity="0.45"/>
<circle cx="407.16" cy="574.47" r="0.4" fill="#666" opacity="0.45"/>
<circle cx="397.01" cy="573.85" r="0.4" fill="#666" opacity="0.45"/>
<circle cx="406.11" cy="572.68" r="0.4" fill="#666" opacity="0.45"/>
<circle cx="408.18" cy="574.12" r="0.4" fill="#666" opacity="0.45"/>
<circle cx="386.27" cy="570.37" r="0.4" fill="#666" opacity="0.45"/>
<circle cx="400.32" cy="571.76" r="0.4" fill="#666" opacity="0.45"/>
<circle cx="393.35" cy="572.59" r="0.4" fill="#666" opacity="0.45"/>
<circle cx="392.83" cy="574.24" r="0.4" fill="#666" opacity="0.45"/>
<circle cx="399.34" cy="575.46" r="0.4" fill="#666" opacity="0.45"/>
<circle cx="399.93" cy="571.75" r="0.4" fill="#666" opacity="0.45"/>
<circle cx="401.53" cy="571.76" r="0.4" fill="#666" opacity="0.45"/>
<circle cx="400.69" cy="573.91" r="0.4" fill="#666" opacity="0.45"/>
<circle cx="408.07" cy="574.39" r="0.4" fill="#666" opacity="0.45"/>
<circle cx="396.89" cy="573.43" r="0.4" fill="#666" opacity="0.45"/>
<circle cx="407.05" cy="573.58" r="0.4" fill="#666" opacity="0.45"/>
<circle cx="402.49" cy="572.32" r="0.4" fill="#666" opacity="0.45"/>
<circle cx="404.27" cy="570.88" r="0.4" fill="#666" opacity="0.45"/>
<circle cx="404.38" cy="573.52" r="0.4" fill="#666" opacity="0.45"/>
<circle cx="410.40" cy="571.83" r="0.4" fill="#666" opacity="0.45"/>
<circle cx="396.86" cy="572.80" r="0.4" fill="#666" opacity="0.45"/>
<circle cx="398.33" cy="575.07" r="0.4" fill="#666" opacity="0.45"/>
<ellipse cx="397.60" cy="573.50" rx="9.20" ry="4.30" fill="none" stroke="#000" stroke-width="0.55"/>
<ellipse cx="397.05" cy="573.50" rx="8.42" ry="4.22" fill="none" stroke="#000" stroke-width="0.55"/>
<ellipse cx="396.50" cy="573.50" rx="7.65" ry="4.15" fill="none" stroke="#000" stroke-width="0.55"/>
<ellipse cx="395.95" cy="573.50" rx="6.88" ry="4.08" fill="none" stroke="#000" stroke-width="0.55"/>
<ellipse cx="395.40" cy="573.50" rx="6.10" ry="4.00" fill="#000"/>
<ellipse cx="395.40" cy="573.50" rx="0.9" ry="0.6" fill="#fff" filter="url(#bl2)"/>
<ellipse cx="452.00" cy="575.20" rx="13.20" ry="5.33" fill="#000" opacity="0.16" filter="url(#bl)"/>
<circle cx="456.72" cy="576.26" r="0.4" fill="#777" opacity="0.5"/>
<circle cx="446.58" cy="581.85" r="0.4" fill="#777" opacity="0.5"/>
<circle cx="439.71" cy="575.32" r="0.4" fill="#777" opacity="0.5"/>
<circle cx="459.42" cy="577.50" r="0.4" fill="#777" opacity="0.5"/>
<circle cx="457.17" cy="571.87" r="0.4" fill="#777" opacity="0.5"/>
<circle cx="466.96" cy="572.89" r="0.4" fill="#777" opacity="0.5"/>
<circle cx="451.80" cy="575.29" r="0.4" fill="#777" opacity="0.5"/>
<circle cx="452.13" cy="573.50" r="0.4" fill="#777" opacity="0.5"/>
<circle cx="464.45" cy="575.51" r="0.4" fill="#777" opacity="0.5"/>
<circle cx="460.07" cy="569.99" r="0.4" fill="#777" opacity="0.5"/>
<circle cx="456.95" cy="574.57" r="0.4" fill="#777" opacity="0.5"/>
<circle cx="455.41" cy="576.02" r="0.4" fill="#777" opacity="0.5"/>
<circle cx="455.72" cy="574.98" r="0.4" fill="#777" opacity="0.5"/>
<circle cx="452.84" cy="575.76" r="0.4" fill="#777" opacity="0.5"/>
<circle cx="454.05" cy="575.48" r="0.4" fill="#777" opacity="0.5"/>
<circle cx="449.23" cy="576.76" r="0.4" fill="#777" opacity="0.5"/>
<circle cx="445.52" cy="582.22" r="0.4" fill="#777" opacity="0.5"/>
<circle cx="459.00" cy="580.43" r="0.4" fill="#777" opacity="0.5"/>
<circle cx="451.27" cy="570.96" r="0.4" fill="#777" opacity="0.5"/>
<circle cx="440.26" cy="572.62" r="0.4" fill="#777" opacity="0.5"/>
<circle cx="447.25" cy="573.97" r="0.4" fill="#777" opacity="0.5"/>
<circle cx="449.24" cy="577.35" r="0.4" fill="#777" opacity="0.5"/>
<circle cx="433.54" cy="580.86" r="0.4" fill="#777" opacity="0.5"/>
<circle cx="449.38" cy="575.75" r="0.4" fill="#777" opacity="0.5"/>
<circle cx="438.06" cy="576.07" r="0.4" fill="#777" opacity="0.5"/>
<circle cx="440.71" cy="576.91" r="0.4" fill="#777" opacity="0.5"/>
<circle cx="454.33" cy="575.84" r="0.4" fill="#777" opacity="0.5"/>
<circle cx="450.72" cy="574.32" r="0.4" fill="#777" opacity="0.5"/>
<circle cx="449.56" cy="578.26" r="0.4" fill="#777" opacity="0.5"/>
<circle cx="452.73" cy="576.04" r="0.4" fill="#777" opacity="0.5"/>
<circle cx="470.93" cy="575.54" r="0.4" fill="#777" opacity="0.5"/>
<circle cx="444.88" cy="567.71" r="0.4" fill="#777" opacity="0.5"/>
<circle cx="432.89" cy="575.62" r="0.4" fill="#777" opacity="0.5"/>
<circle cx="458.94" cy="571.74" r="0.4" fill="#777" opacity="0.5"/>
<circle cx="442.93" cy="574.58" r="0.4" fill="#777" opacity="0.5"/>
<circle cx="453.15" cy="578.35" r="0.4" fill="#777" opacity="0.5"/>
<circle cx="451.14" cy="573.07" r="0.4" fill="#777" opacity="0.5"/>
<circle cx="457.40" cy="572.03" r="0.4" fill="#777" opacity="0.5"/>
<circle cx="440.65" cy="571.49" r="0.4" fill="#777" opacity="0.5"/>
<circle cx="449.46" cy="573.78" r="0.4" fill="#777" opacity="0.5"/>
<circle cx="452.01" cy="575.35" r="0.4" fill="#777" opacity="0.5"/>
<circle cx="470.66" cy="576.58" r="0.4" fill="#777" opacity="0.5"/>
<circle cx="435.09" cy="570.44" r="0.4" fill="#777" opacity="0.5"/>
<circle cx="453.28" cy="572.39" r="0.4" fill="#777" opacity="0.5"/>
<circle cx="469.05" cy="573.68" r="0.4" fill="#777" opacity="0.5"/>
<circle cx="448.91" cy="575.57" r="0.4" fill="#777" opacity="0.5"/>
<circle cx="447.28" cy="575.50" r="0.4" fill="#666" opacity="0.45"/>
<circle cx="473.11" cy="573.14" r="0.4" fill="#666" opacity="0.45"/>
<circle cx="449.18" cy="577.17" r="0.4" fill="#666" opacity="0.45"/>
<circle cx="474.36" cy="574.16" r="0.4" fill="#666" opacity="0.45"/>
<circle cx="483.66" cy="575.37" r="0.4" fill="#666" opacity="0.45"/>
<circle cx="454.93" cy="577.12" r="0.4" fill="#666" opacity="0.45"/>
<circle cx="462.25" cy="576.30" r="0.4" fill="#666" opacity="0.45"/>
<circle cx="443.56" cy="575.96" r="0.4" fill="#666" opacity="0.45"/>
<circle cx="458.26" cy="572.31" r="0.4" fill="#666" opacity="0.45"/>
<circle cx="465.91" cy="572.49" r="0.4" fill="#666" opacity="0.45"/>
<circle cx="447.02" cy="573.70" r="0.4" fill="#666" opacity="0.45"/>
<circle cx="458.77" cy="573.02" r="0.4" fill="#666" opacity="0.45"/>
<circle cx="458.75" cy="573.58" r="0.4" fill="#666" opacity="0.45"/>
<circle cx="476.24" cy="574.06" r="0.4" fill="#666" opacity="0.45"/>
<circle cx="461.94" cy="576.98" r="0.4" fill="#666" opacity="0.45"/>
<circle cx="443.00" cy="574.27" r="0.4" fill="#666" opacity="0.45"/>
<circle cx="460.74" cy="572.96" r="0.4" fill="#666" opacity="0.45"/>
<circle cx="445.91" cy="572.45" r="0.4" fill="#666" opacity="0.45"/>
<circle cx="458.17" cy="575.20" r="0.4" fill="#666" opacity="0.45"/>
<circle cx="453.86" cy="575.99" r="0.4" fill="#666" opacity="0.45"/>
<circle cx="458.00" cy="575.08" r="0.4" fill="#666" opacity="0.45"/>
<circle cx="436.29" cy="575.08" r="0.4" fill="#666" opacity="0.45"/>
<circle cx="457.91" cy="573.39" r="0.4" fill="#666" opacity="0.45"/>
<circle cx="465.26" cy="573.55" r="0.4" fill="#666" opacity="0.45"/>
<circle cx="452.89" cy="574.58" r="0.4" fill="#666" opacity="0.45"/>
<circle cx="451.98" cy="575.96" r="0.4" fill="#666" opacity="0.45"/>
<circle cx="464.30" cy="575.41" r="0.4" fill="#666" opacity="0.45"/>
<circle cx="452.60" cy="574.49" r="0.4" fill="#666" opacity="0.45"/>
<circle cx="453.67" cy="577.02" r="0.4" fill="#666" opacity="0.45"/>
<circle cx="444.25" cy="575.91" r="0.4" fill="#666" opacity="0.45"/>
<circle cx="459.75" cy="575.53" r="0.4" fill="#666" opacity="0.45"/>
<circle cx="460.09" cy="572.67" r="0.4" fill="#666" opacity="0.45"/>
<circle cx="466.83" cy="575.94" r="0.4" fill="#666" opacity="0.45"/>
<circle cx="458.30" cy="572.63" r="0.4" fill="#666" opacity="0.45"/>
<circle cx="455.71" cy="572.48" r="0.4" fill="#666" opacity="0.45"/>
<circle cx="445.71" cy="575.99" r="0.4" fill="#666" opacity="0.45"/>
<circle cx="454.93" cy="576.42" r="0.4" fill="#666" opacity="0.45"/>
<circle cx="456.05" cy="572.26" r="0.4" fill="#666" opacity="0.45"/>
<circle cx="454.89" cy="572.84" r="0.4" fill="#666" opacity="0.45"/>
<circle cx="472.65" cy="576.62" r="0.4" fill="#666" opacity="0.45"/>
<circle cx="440.89" cy="576.51" r="0.4" fill="#666" opacity="0.45"/>
<circle cx="468.09" cy="575.56" r="0.4" fill="#666" opacity="0.45"/>
<circle cx="430.12" cy="574.94" r="0.4" fill="#666" opacity="0.45"/>
<circle cx="457.03" cy="573.26" r="0.4" fill="#666" opacity="0.45"/>
<circle cx="454.95" cy="573.36" r="0.4" fill="#666" opacity="0.45"/>
<circle cx="461.76" cy="574.55" r="0.4" fill="#666" opacity="0.45"/>
<circle cx="476.12" cy="573.59" r="0.4" fill="#666" opacity="0.45"/>
<circle cx="451.92" cy="576.82" r="0.4" fill="#666" opacity="0.45"/>
<circle cx="463.18" cy="573.00" r="0.4" fill="#666" opacity="0.45"/>
<circle cx="466.93" cy="574.04" r="0.4" fill="#666" opacity="0.45"/>
<circle cx="430.31" cy="575.38" r="0.4" fill="#666" opacity="0.45"/>
<circle cx="442.01" cy="574.74" r="0.4" fill="#666" opacity="0.45"/>
<circle cx="457.99" cy="574.28" r="0.4" fill="#666" opacity="0.45"/>
<circle cx="455.41" cy="576.70" r="0.4" fill="#666" opacity="0.45"/>
<circle cx="448.45" cy="576.97" r="0.4" fill="#666" opacity="0.45"/>
<circle cx="433.45" cy="574.43" r="0.4" fill="#666" opacity="0.45"/>
<circle cx="449.13" cy="574.88" r="0.4" fill="#666" opacity="0.45"/>
<circle cx="453.60" cy="574.28" r="0.4" fill="#666" opacity="0.45"/>
<circle cx="454.15" cy="573.59" r="0.4" fill="#666" opacity="0.45"/>
<circle cx="454.11" cy="575.52" r="0.4" fill="#666" opacity="0.45"/>
<circle cx="440.42" cy="575.07" r="0.4" fill="#666" opacity="0.45"/>
<circle cx="453.32" cy="572.29" r="0.4" fill="#666" opacity="0.45"/>
<circle cx="441.16" cy="575.34" r="0.4" fill="#666" opacity="0.45"/>
<circle cx="454.08" cy="574.73" r="0.4" fill="#666" opacity="0.45"/>
<circle cx="441.87" cy="575.49" r="0.4" fill="#666" opacity="0.45"/>
<circle cx="460.53" cy="575.12" r="0.4" fill="#666" opacity="0.45"/>
<circle cx="471.48" cy="574.32" r="0.4" fill="#666" opacity="0.45"/>
<circle cx="453.07" cy="575.70" r="0.4" fill="#666" opacity="0.45"/>
<circle cx="467.90" cy="573.75" r="0.4" fill="#666" opacity="0.45"/>
<circle cx="441.61" cy="575.30" r="0.4" fill="#666" opacity="0.45"/>
<circle cx="458.38" cy="574.56" r="0.4" fill="#666" opacity="0.45"/>
<circle cx="458.62" cy="575.35" r="0.4" fill="#666" opacity="0.45"/>
<circle cx="458.42" cy="574.48" r="0.4" fill="#666" opacity="0.45"/>
<circle cx="477.56" cy="575.81" r="0.4" fill="#666" opacity="0.45"/>
<circle cx="456.60" cy="575.07" r="0.4" fill="#666" opacity="0.45"/>
<circle cx="471.69" cy="574.64" r="0.4" fill="#666" opacity="0.45"/>
<circle cx="442.11" cy="576.48" r="0.4" fill="#666" opacity="0.45"/>
<circle cx="457.96" cy="574.63" r="0.4" fill="#666" opacity="0.45"/>
<circle cx="440.52" cy="573.31" r="0.4" fill="#666" opacity="0.45"/>
<circle cx="472.34" cy="573.74" r="0.4" fill="#666" opacity="0.45"/>
<circle cx="450.74" cy="572.70" r="0.4" fill="#666" opacity="0.45"/>
<circle cx="433.36" cy="574.46" r="0.4" fill="#666" opacity="0.45"/>
<circle cx="462.15" cy="575.99" r="0.4" fill="#666" opacity="0.45"/>
<circle cx="472.11" cy="575.56" r="0.4" fill="#666" opacity="0.45"/>
<circle cx="459.14" cy="573.22" r="0.4" fill="#666" opacity="0.45"/>
<circle cx="431.55" cy="574.38" r="0.4" fill="#666" opacity="0.45"/>
<circle cx="444.75" cy="575.83" r="0.4" fill="#666" opacity="0.45"/>
<circle cx="456.49" cy="574.31" r="0.4" fill="#666" opacity="0.45"/>
<circle cx="454.67" cy="576.01" r="0.4" fill="#666" opacity="0.45"/>
<circle cx="449.93" cy="573.84" r="0.4" fill="#666" opacity="0.45"/>
<circle cx="463.17" cy="574.89" r="0.4" fill="#666" opacity="0.45"/>
<circle cx="444.79" cy="574.23" r="0.4" fill="#666" opacity="0.45"/>
<circle cx="481.87" cy="574.60" r="0.4" fill="#666" opacity="0.45"/>
<circle cx="467.55" cy="576.77" r="0.4" fill="#666" opacity="0.45"/>
<circle cx="457.50" cy="574.90" r="0.4" fill="#666" opacity="0.45"/>
<circle cx="461.80" cy="572.47" r="0.4" fill="#666" opacity="0.45"/>
<ellipse cx="452.00" cy="575.20" rx="11.00" ry="4.10" fill="none" stroke="#000" stroke-width="0.55"/>
<ellipse cx="451.65" cy="575.20" rx="10.00" ry="4.05" fill="none" stroke="#000" stroke-width="0.55"/>
<ellipse cx="451.30" cy="575.20" rx="9.00" ry="4.00" fill="none" stroke="#000" stroke-width="0.55"/>
<ellipse cx="450.95" cy="575.20" rx="8.00" ry="3.95" fill="none" stroke="#000" stroke-width="0.55"/>
<ellipse cx="450.60" cy="575.20" rx="7.00" ry="3.90" fill="#000"/>
<ellipse cx="450.60" cy="575.20" rx="0.9" ry="0.6" fill="#fff" filter="url(#bl2)"/>
<ellipse cx="402.00" cy="629.50" rx="11.04" ry="6.37" fill="#000" opacity="0.16" filter="url(#bl)"/>
<circle cx="393.77" cy="627.13" r="0.4" fill="#777" opacity="0.5"/>
<circle cx="404.12" cy="626.62" r="0.4" fill="#777" opacity="0.5"/>
<circle cx="394.16" cy="622.77" r="0.4" fill="#777" opacity="0.5"/>
<circle cx="405.48" cy="628.13" r="0.4" fill="#777" opacity="0.5"/>
<circle cx="396.83" cy="625.07" r="0.4" fill="#777" opacity="0.5"/>
<circle cx="385.24" cy="629.28" r="0.4" fill="#777" opacity="0.5"/>
<circle cx="395.12" cy="628.75" r="0.4" fill="#777" opacity="0.5"/>
<circle cx="410.58" cy="627.57" r="0.4" fill="#777" opacity="0.5"/>
<circle cx="400.25" cy="632.70" r="0.4" fill="#777" opacity="0.5"/>
<circle cx="399.88" cy="629.53" r="0.4" fill="#777" opacity="0.5"/>
<circle cx="393.80" cy="625.50" r="0.4" fill="#777" opacity="0.5"/>
<circle cx="390.85" cy="632.90" r="0.4" fill="#777" opacity="0.5"/>
<circle cx="409.38" cy="627.32" r="0.4" fill="#777" opacity="0.5"/>
<circle cx="400.66" cy="627.72" r="0.4" fill="#777" opacity="0.5"/>
<circle cx="418.91" cy="633.28" r="0.4" fill="#777" opacity="0.5"/>
<circle cx="401.04" cy="632.15" r="0.4" fill="#777" opacity="0.5"/>
<circle cx="410.54" cy="625.55" r="0.4" fill="#777" opacity="0.5"/>
<circle cx="406.06" cy="631.91" r="0.4" fill="#777" opacity="0.5"/>
<circle cx="402.24" cy="632.62" r="0.4" fill="#777" opacity="0.5"/>
<circle cx="409.85" cy="629.69" r="0.4" fill="#777" opacity="0.5"/>
<circle cx="399.84" cy="633.20" r="0.4" fill="#777" opacity="0.5"/>
<circle cx="403.23" cy="631.24" r="0.4" fill="#777" opacity="0.5"/>
<circle cx="414.80" cy="631.13" r="0.4" fill="#777" opacity="0.5"/>
<circle cx="401.86" cy="624.48" r="0.4" fill="#777" opacity="0.5"/>
<circle cx="404.61" cy="631.06" r="0.4" fill="#777" opacity="0.5"/>
<circle cx="406.10" cy="631.84" r="0.4" fill="#777" opacity="0.5"/>
<circle cx="406.83" cy="630.61" r="0.4" fill="#777" opacity="0.5"/>
<circle cx="403.23" cy="631.95" r="0.4" fill="#777" opacity="0.5"/>
<circle cx="397.95" cy="625.93" r="0.4" fill="#777" opacity="0.5"/>
<circle cx="396.02" cy="630.11" r="0.4" fill="#777" opacity="0.5"/>
<circle cx="391.04" cy="627.83" r="0.4" fill="#777" opacity="0.5"/>
<circle cx="401.12" cy="630.90" r="0.4" fill="#777" opacity="0.5"/>
<circle cx="395.76" cy="629.95" r="0.4" fill="#777" opacity="0.5"/>
<circle cx="402.60" cy="627.63" r="0.4" fill="#777" opacity="0.5"/>
<circle cx="402.78" cy="629.01" r="0.4" fill="#777" opacity="0.5"/>
<circle cx="395.27" cy="628.39" r="0.4" fill="#777" opacity="0.5"/>
<circle cx="396.61" cy="637.04" r="0.4" fill="#777" opacity="0.5"/>
<circle cx="400.86" cy="627.27" r="0.4" fill="#777" opacity="0.5"/>
<circle cx="393.14" cy="629.67" r="0.4" fill="#777" opacity="0.5"/>
<circle cx="404.69" cy="629.85" r="0.4" fill="#777" opacity="0.5"/>
<circle cx="393.64" cy="625.72" r="0.4" fill="#777" opacity="0.5"/>
<circle cx="395.44" cy="630.45" r="0.4" fill="#777" opacity="0.5"/>
<circle cx="397.00" cy="629.37" r="0.4" fill="#777" opacity="0.5"/>
<circle cx="413.74" cy="622.48" r="0.4" fill="#777" opacity="0.5"/>
<circle cx="400.70" cy="629.59" r="0.4" fill="#777" opacity="0.5"/>
<circle cx="392.73" cy="633.76" r="0.4" fill="#777" opacity="0.5"/>
<circle cx="391.97" cy="629.66" r="0.4" fill="#666" opacity="0.45"/>
<circle cx="403.89" cy="627.25" r="0.4" fill="#666" opacity="0.45"/>
<circle cx="396.19" cy="630.98" r="0.4" fill="#666" opacity="0.45"/>
<circle cx="392.03" cy="628.19" r="0.4" fill="#666" opacity="0.45"/>
<circle cx="415.74" cy="628.94" r="0.4" fill="#666" opacity="0.45"/>
<circle cx="411.07" cy="628.23" r="0.4" fill="#666" opacity="0.45"/>
<circle cx="401.38" cy="630.66" r="0.4" fill="#666" opacity="0.45"/>
<circle cx="412.35" cy="629.67" r="0.4" fill="#666" opacity="0.45"/>
<circle cx="405.91" cy="630.49" r="0.4" fill="#666" opacity="0.45"/>
<circle cx="402.62" cy="629.73" r="0.4" fill="#666" opacity="0.45"/>
<circle cx="402.89" cy="628.46" r="0.4" fill="#666" opacity="0.45"/>
<circle cx="391.14" cy="627.28" r="0.4" fill="#666" opacity="0.45"/>
<circle cx="399.12" cy="631.25" r="0.4" fill="#666" opacity="0.45"/>
<circle cx="405.02" cy="630.07" r="0.4" fill="#666" opacity="0.45"/>
<circle cx="400.89" cy="629.08" r="0.4" fill="#666" opacity="0.45"/>
<circle cx="408.68" cy="629.52" r="0.4" fill="#666" opacity="0.45"/>
<circle cx="418.34" cy="627.27" r="0.4" fill="#666" opacity="0.45"/>
<circle cx="409.96" cy="630.17" r="0.4" fill="#666" opacity="0.45"/>
<circle cx="395.64" cy="629.63" r="0.4" fill="#666" opacity="0.45"/>
<circle cx="401.88" cy="630.90" r="0.4" fill="#666" opacity="0.45"/>
<circle cx="395.17" cy="629.77" r="0.4" fill="#666" opacity="0.45"/>
<circle cx="393.37" cy="628.60" r="0.4" fill="#666" opacity="0.45"/>
<circle cx="399.74" cy="629.49" r="0.4" fill="#666" opacity="0.45"/>
<circle cx="409.43" cy="628.91" r="0.4" fill="#666" opacity="0.45"/>
<circle cx="397.48" cy="630.07" r="0.4" fill="#666" opacity="0.45"/>
<circle cx="399.89" cy="631.32" r="0.4" fill="#666" opacity="0.45"/>
<circle cx="384.21" cy="630.94" r="0.4" fill="#666" opacity="0.45"/>
<circle cx="393.80" cy="629.85" r="0.4" fill="#666" opacity="0.45"/>
<circle cx="410.47" cy="627.58" r="0.4" fill="#666" opacity="0.45"/>
<circle cx="418.70" cy="629.03" r="0.4" fill="#666" opacity="0.45"/>
<circle cx="387.24" cy="628.51" r="0.4" fill="#666" opacity="0.45"/>
<circle cx="404.49" cy="630.07" r="0.4" fill="#666" opacity="0.45"/>
<circle cx="414.99" cy="629.67" r="0.4" fill="#666" opacity="0.45"/>
<circle cx="403.63" cy="628.76" r="0.4" fill="#666" opacity="0.45"/>
<circle cx="402.16" cy="628.63" r="0.4" fill="#666" opacity="0.45"/>
<circle cx="405.00" cy="628.97" r="0.4" fill="#666" opacity="0.45"/>
<circle cx="400.57" cy="630.69" r="0.4" fill="#666" opacity="0.45"/>
<circle cx="387.21" cy="630.10" r="0.4" fill="#666" opacity="0.45"/>
<circle cx="385.66" cy="629.52" r="0.4" fill="#666" opacity="0.45"/>
<circle cx="413.35" cy="630.40" r="0.4" fill="#666" opacity="0.45"/>
<circle cx="405.23" cy="629.82" r="0.4" fill="#666" opacity="0.45"/>
<circle cx="386.56" cy="630.87" r="0.4" fill="#666" opacity="0.45"/>
<circle cx="395.73" cy="627.76" r="0.4" fill="#666" opacity="0.45"/>
<circle cx="410.75" cy="632.35" r="0.4" fill="#666" opacity="0.45"/>
<circle cx="411.43" cy="628.65" r="0.4" fill="#666" opacity="0.45"/>
<circle cx="405.88" cy="628.13" r="0.4" fill="#666" opacity="0.45"/>
<circle cx="405.76" cy="628.39" r="0.4" fill="#666" opacity="0.45"/>
<circle cx="395.95" cy="629.14" r="0.4" fill="#666" opacity="0.45"/>
<circle cx="396.19" cy="628.24" r="0.4" fill="#666" opacity="0.45"/>
<circle cx="405.92" cy="626.38" r="0.4" fill="#666" opacity="0.45"/>
<circle cx="411.57" cy="628.38" r="0.4" fill="#666" opacity="0.45"/>
<circle cx="400.70" cy="628.96" r="0.4" fill="#666" opacity="0.45"/>
<circle cx="407.43" cy="629.66" r="0.4" fill="#666" opacity="0.45"/>
<circle cx="394.79" cy="629.09" r="0.4" fill="#666" opacity="0.45"/>
<circle cx="397.98" cy="630.40" r="0.4" fill="#666" opacity="0.45"/>
<circle cx="397.26" cy="629.00" r="0.4" fill="#666" opacity="0.45"/>
<circle cx="401.99" cy="629.61" r="0.4" fill="#666" opacity="0.45"/>
<circle cx="407.18" cy="628.81" r="0.4" fill="#666" opacity="0.45"/>
<circle cx="402.26" cy="628.66" r="0.4" fill="#666" opacity="0.45"/>
<circle cx="394.44" cy="628.33" r="0.4" fill="#666" opacity="0.45"/>
<circle cx="395.31" cy="630.98" r="0.4" fill="#666" opacity="0.45"/>
<circle cx="396.15" cy="629.12" r="0.4" fill="#666" opacity="0.45"/>
<circle cx="397.38" cy="629.72" r="0.4" fill="#666" opacity="0.45"/>
<circle cx="406.11" cy="629.33" r="0.4" fill="#666" opacity="0.45"/>
<circle cx="413.48" cy="630.00" r="0.4" fill="#666" opacity="0.45"/>
<circle cx="395.56" cy="629.79" r="0.4" fill="#666" opacity="0.45"/>
<circle cx="410.41" cy="631.74" r="0.4" fill="#666" opacity="0.45"/>
<circle cx="391.40" cy="629.54" r="0.4" fill="#666" opacity="0.45"/>
<circle cx="383.68" cy="630.97" r="0.4" fill="#666" opacity="0.45"/>
<circle cx="408.93" cy="630.24" r="0.4" fill="#666" opacity="0.45"/>
<circle cx="397.86" cy="630.66" r="0.4" fill="#666" opacity="0.45"/>
<circle cx="397.70" cy="626.98" r="0.4" fill="#666" opacity="0.45"/>
<circle cx="399.49" cy="628.80" r="0.4" fill="#666" opacity="0.45"/>
<circle cx="407.53" cy="630.99" r="0.4" fill="#666" opacity="0.45"/>
<circle cx="396.62" cy="628.14" r="0.4" fill="#666" opacity="0.45"/>
<circle cx="390.72" cy="630.47" r="0.4" fill="#666" opacity="0.45"/>
<circle cx="396.48" cy="629.76" r="0.4" fill="#666" opacity="0.45"/>
<circle cx="404.28" cy="630.74" r="0.4" fill="#666" opacity="0.45"/>
<circle cx="399.80" cy="630.50" r="0.4" fill="#666" opacity="0.45"/>
<circle cx="404.54" cy="628.92" r="0.4" fill="#666" opacity="0.45"/>
<circle cx="413.92" cy="629.65" r="0.4" fill="#666" opacity="0.45"/>
<circle cx="398.25" cy="628.53" r="0.4" fill="#666" opacity="0.45"/>
<circle cx="394.77" cy="630.20" r="0.4" fill="#666" opacity="0.45"/>
<circle cx="397.42" cy="630.23" r="0.4" fill="#666" opacity="0.45"/>
<ellipse cx="402.00" cy="629.50" rx="9.20" ry="4.90" fill="none" stroke="#000" stroke-width="0.55"/>
<ellipse cx="401.45" cy="629.50" rx="8.42" ry="4.85" fill="none" stroke="#000" stroke-width="0.55"/>
<ellipse cx="400.90" cy="629.50" rx="7.65" ry="4.80" fill="none" stroke="#000" stroke-width="0.55"/>
<ellipse cx="400.35" cy="629.50" rx="6.88" ry="4.75" fill="none" stroke="#000" stroke-width="0.55"/>
<ellipse cx="399.80" cy="629.50" rx="6.10" ry="4.70" fill="#000"/>
<ellipse cx="398.80" cy="629.50" rx="0.9" ry="0.6" fill="#fff" filter="url(#bl2)"/>
<ellipse cx="458.90" cy="630.00" rx="12.12" ry="5.85" fill="#000" opacity="0.16" filter="url(#bl)"/>
<circle cx="449.67" cy="629.14" r="0.4" fill="#777" opacity="0.5"/>
<circle cx="467.27" cy="623.58" r="0.4" fill="#777" opacity="0.5"/>
<circle cx="463.87" cy="627.69" r="0.4" fill="#777" opacity="0.5"/>
<circle cx="465.95" cy="628.81" r="0.4" fill="#777" opacity="0.5"/>
<circle cx="457.81" cy="631.51" r="0.4" fill="#777" opacity="0.5"/>
<circle cx="454.81" cy="629.85" r="0.4" fill="#777" opacity="0.5"/>
<circle cx="457.43" cy="634.89" r="0.4" fill="#777" opacity="0.5"/>
<circle cx="460.85" cy="624.06" r="0.4" fill="#777" opacity="0.5"/>
<circle cx="461.05" cy="630.66" r="0.4" fill="#777" opacity="0.5"/>
<circle cx="458.61" cy="634.56" r="0.4" fill="#777" opacity="0.5"/>
<circle cx="465.62" cy="624.52" r="0.4" fill="#777" opacity="0.5"/>
<circle cx="467.52" cy="628.06" r="0.4" fill="#777" opacity="0.5"/>
<circle cx="455.06" cy="627.74" r="0.4" fill="#777" opacity="0.5"/>
<circle cx="457.02" cy="632.25" r="0.4" fill="#777" opacity="0.5"/>
<circle cx="449.47" cy="628.92" r="0.4" fill="#777" opacity="0.5"/>
<circle cx="452.58" cy="628.41" r="0.4" fill="#777" opacity="0.5"/>
<circle cx="454.16" cy="631.25" r="0.4" fill="#777" opacity="0.5"/>
<circle cx="462.61" cy="625.64" r="0.4" fill="#777" opacity="0.5"/>
<circle cx="458.79" cy="623.42" r="0.4" fill="#777" opacity="0.5"/>
<circle cx="458.22" cy="631.76" r="0.4" fill="#777" opacity="0.5"/>
<circle cx="455.74" cy="637.68" r="0.4" fill="#777" opacity="0.5"/>
<circle cx="460.77" cy="626.45" r="0.4" fill="#777" opacity="0.5"/>
<circle cx="459.98" cy="626.75" r="0.4" fill="#777" opacity="0.5"/>
<circle cx="460.94" cy="628.83" r="0.4" fill="#777" opacity="0.5"/>
<circle cx="457.77" cy="619.92" r="0.4" fill="#777" opacity="0.5"/>
<circle cx="452.00" cy="631.93" r="0.4" fill="#777" opacity="0.5"/>
<circle cx="462.76" cy="632.12" r="0.4" fill="#777" opacity="0.5"/>
<circle cx="459.50" cy="633.00" r="0.4" fill="#777" opacity="0.5"/>
<circle cx="464.32" cy="631.27" r="0.4" fill="#777" opacity="0.5"/>
<circle cx="465.74" cy="632.68" r="0.4" fill="#777" opacity="0.5"/>
<circle cx="454.67" cy="631.43" r="0.4" fill="#777" opacity="0.5"/>
<circle cx="464.60" cy="628.92" r="0.4" fill="#777" opacity="0.5"/>
<circle cx="444.19" cy="628.50" r="0.4" fill="#777" opacity="0.5"/>
<circle cx="459.86" cy="620.67" r="0.4" fill="#777" opacity="0.5"/>
<circle cx="447.85" cy="625.38" r="0.4" fill="#777" opacity="0.5"/>
<circle cx="469.46" cy="632.33" r="0.4" fill="#777" opacity="0.5"/>
<circle cx="455.70" cy="632.71" r="0.4" fill="#777" opacity="0.5"/>
<circle cx="460.33" cy="624.12" r="0.4" fill="#777" opacity="0.5"/>
<circle cx="455.23" cy="632.87" r="0.4" fill="#777" opacity="0.5"/>
<circle cx="455.95" cy="638.26" r="0.4" fill="#777" opacity="0.5"/>
<circle cx="454.78" cy="628.16" r="0.4" fill="#777" opacity="0.5"/>
<circle cx="456.51" cy="629.75" r="0.4" fill="#777" opacity="0.5"/>
<circle cx="457.88" cy="634.22" r="0.4" fill="#777" opacity="0.5"/>
<circle cx="472.67" cy="628.78" r="0.4" fill="#777" opacity="0.5"/>
<circle cx="447.43" cy="628.20" r="0.4" fill="#777" opacity="0.5"/>
<circle cx="458.77" cy="635.54" r="0.4" fill="#777" opacity="0.5"/>
<circle cx="452.79" cy="630.39" r="0.4" fill="#666" opacity="0.45"/>
<circle cx="479.52" cy="630.01" r="0.4" fill="#666" opacity="0.45"/>
<circle cx="458.56" cy="627.83" r="0.4" fill="#666" opacity="0.45"/>
<circle cx="474.68" cy="630.67" r="0.4" fill="#666" opacity="0.45"/>
<circle cx="466.14" cy="631.12" r="0.4" fill="#666" opacity="0.45"/>
<circle cx="451.92" cy="630.36" r="0.4" fill="#666" opacity="0.45"/>
<circle cx="449.09" cy="629.89" r="0.4" fill="#666" opacity="0.45"/>
<circle cx="466.58" cy="630.50" r="0.4" fill="#666" opacity="0.45"/>
<circle cx="442.51" cy="630.07" r="0.4" fill="#666" opacity="0.45"/>
<circle cx="457.85" cy="629.27" r="0.4" fill="#666" opacity="0.45"/>
<circle cx="471.91" cy="629.10" r="0.4" fill="#666" opacity="0.45"/>
<circle cx="456.30" cy="629.36" r="0.4" fill="#666" opacity="0.45"/>
<circle cx="473.73" cy="628.21" r="0.4" fill="#666" opacity="0.45"/>
<circle cx="448.10" cy="631.69" r="0.4" fill="#666" opacity="0.45"/>
<circle cx="477.43" cy="628.88" r="0.4" fill="#666" opacity="0.45"/>
<circle cx="451.88" cy="628.65" r="0.4" fill="#666" opacity="0.45"/>
<circle cx="470.30" cy="632.21" r="0.4" fill="#666" opacity="0.45"/>
<circle cx="457.26" cy="628.74" r="0.4" fill="#666" opacity="0.45"/>
<circle cx="469.70" cy="628.41" r="0.4" fill="#666" opacity="0.45"/>
<circle cx="473.51" cy="629.69" r="0.4" fill="#666" opacity="0.45"/>
<circle cx="446.76" cy="630.27" r="0.4" fill="#666" opacity="0.45"/>
<circle cx="467.95" cy="630.68" r="0.4" fill="#666" opacity="0.45"/>
<circle cx="459.16" cy="631.01" r="0.4" fill="#666" opacity="0.45"/>
<circle cx="472.67" cy="631.65" r="0.4" fill="#666" opacity="0.45"/>
<circle cx="466.21" cy="631.00" r="0.4" fill="#666" opacity="0.45"/>
<circle cx="453.21" cy="629.49" r="0.4" fill="#666" opacity="0.45"/>
<circle cx="454.10" cy="629.58" r="0.4" fill="#666" opacity="0.45"/>
<circle cx="454.21" cy="628.47" r="0.4" fill="#666" opacity="0.45"/>
<circle cx="462.22" cy="629.08" r="0.4" fill="#666" opacity="0.45"/>
<circle cx="462.76" cy="631.44" r="0.4" fill="#666" opacity="0.45"/>
<circle cx="460.07" cy="629.77" r="0.4" fill="#666" opacity="0.45"/>
<circle cx="473.43" cy="629.27" r="0.4" fill="#666" opacity="0.45"/>
<circle cx="461.59" cy="629.61" r="0.4" fill="#666" opacity="0.45"/>
<circle cx="457.84" cy="629.70" r="0.4" fill="#666" opacity="0.45"/>
<circle cx="460.15" cy="631.16" r="0.4" fill="#666" opacity="0.45"/>
<circle cx="473.67" cy="629.34" r="0.4" fill="#666" opacity="0.45"/>
<circle cx="447.90" cy="630.07" r="0.4" fill="#666" opacity="0.45"/>
<circle cx="447.71" cy="628.80" r="0.4" fill="#666" opacity="0.45"/>
<circle cx="453.19" cy="631.29" r="0.4" fill="#666" opacity="0.45"/>
<circle cx="465.25" cy="629.94" r="0.4" fill="#666" opacity="0.45"/>
<circle cx="477.55" cy="630.46" r="0.4" fill="#666" opacity="0.45"/>
<circle cx="468.35" cy="629.82" r="0.4" fill="#666" opacity="0.45"/>
<circle cx="457.52" cy="629.78" r="0.4" fill="#666" opacity="0.45"/>
<circle cx="459.94" cy="630.34" r="0.4" fill="#666" opacity="0.45"/>
<circle cx="468.15" cy="630.75" r="0.4" fill="#666" opacity="0.45"/>
<circle cx="472.79" cy="630.31" r="0.4" fill="#666" opacity="0.45"/>
<circle cx="452.36" cy="630.54" r="0.4" fill="#666" opacity="0.45"/>
<circle cx="460.03" cy="628.78" r="0.4" fill="#666" opacity="0.45"/>
<circle cx="458.90" cy="629.99" r="0.4" fill="#666" opacity="0.45"/>
<circle cx="442.13" cy="629.55" r="0.4" fill="#666" opacity="0.45"/>
<circle cx="444.66" cy="629.58" r="0.4" fill="#666" opacity="0.45"/>
<circle cx="465.83" cy="630.60" r="0.4" fill="#666" opacity="0.45"/>
<circle cx="459.76" cy="628.77" r="0.4" fill="#666" opacity="0.45"/>
<circle cx="454.92" cy="631.17" r="0.4" fill="#666" opacity="0.45"/>
<circle cx="447.32" cy="631.83" r="0.4" fill="#666" opacity="0.45"/>
<circle cx="467.76" cy="628.49" r="0.4" fill="#666" opacity="0.45"/>
<circle cx="454.68" cy="632.08" r="0.4" fill="#666" opacity="0.45"/>
<circle cx="459.26" cy="633.14" r="0.4" fill="#666" opacity="0.45"/>
<circle cx="452.84" cy="630.63" r="0.4" fill="#666" opacity="0.45"/>
<circle cx="468.51" cy="628.97" r="0.4" fill="#666" opacity="0.45"/>
<circle cx="457.35" cy="631.40" r="0.4" fill="#666" opacity="0.45"/>
<circle cx="457.65" cy="632.53" r="0.4" fill="#666" opacity="0.45"/>
<circle cx="471.48" cy="630.26" r="0.4" fill="#666" opacity="0.45"/>
<circle cx="468.20" cy="631.18" r="0.4" fill="#666" opacity="0.45"/>
<circle cx="464.67" cy="632.27" r="0.4" fill="#666" opacity="0.45"/>
<circle cx="464.83" cy="630.49" r="0.4" fill="#666" opacity="0.45"/>
<circle cx="472.02" cy="628.25" r="0.4" fill="#666" opacity="0.45"/>
<circle cx="466.16" cy="630.44" r="0.4" fill="#666" opacity="0.45"/>
<circle cx="463.68" cy="630.49" r="0.4" fill="#666" opacity="0.45"/>
<circle cx="452.87" cy="631.84" r="0.4" fill="#666" opacity="0.45"/>
<circle cx="472.78" cy="631.00" r="0.4" fill="#666" opacity="0.45"/>
<circle cx="469.15" cy="630.23" r="0.4" fill="#666" opacity="0.45"/>
<circle cx="472.19" cy="630.32" r="0.4" fill="#666" opacity="0.45"/>
<circle cx="471.71" cy="626.84" r="0.4" fill="#666" opacity="0.45"/>
<circle cx="456.63" cy="632.39" r="0.4" fill="#666" opacity="0.45"/>
<circle cx="459.70" cy="628.59" r="0.4" fill="#666" opacity="0.45"/>
<circle cx="453.36" cy="629.04" r="0.4" fill="#666" opacity="0.45"/>
<circle cx="459.76" cy="630.56" r="0.4" fill="#666" opacity="0.45"/>
<circle cx="457.33" cy="630.03" r="0.4" fill="#666" opacity="0.45"/>
<circle cx="463.32" cy="631.54" r="0.4" fill="#666" opacity="0.45"/>
<circle cx="461.62" cy="630.17" r="0.4" fill="#666" opacity="0.45"/>
<circle cx="445.56" cy="629.04" r="0.4" fill="#666" opacity="0.45"/>
<circle cx="448.04" cy="631.35" r="0.4" fill="#666" opacity="0.45"/>
<circle cx="453.42" cy="630.83" r="0.4" fill="#666" opacity="0.45"/>
<circle cx="459.09" cy="631.55" r="0.4" fill="#666" opacity="0.45"/>
<circle cx="451.18" cy="626.60" r="0.4" fill="#666" opacity="0.45"/>
<circle cx="446.54" cy="630.79" r="0.4" fill="#666" opacity="0.45"/>
<circle cx="471.95" cy="630.44" r="0.4" fill="#666" opacity="0.45"/>
<circle cx="462.21" cy="628.63" r="0.4" fill="#666" opacity="0.45"/>
<circle cx="448.55" cy="630.70" r="0.4" fill="#666" opacity="0.45"/>
<ellipse cx="458.90" cy="630.00" rx="10.10" ry="4.50" fill="none" stroke="#000" stroke-width="0.55"/>
<ellipse cx="458.12" cy="630.00" rx="9.32" ry="4.45" fill="none" stroke="#000" stroke-width="0.55"/>
<ellipse cx="457.35" cy="630.00" rx="8.55" ry="4.40" fill="none" stroke="#000" stroke-width="0.55"/>
<ellipse cx="456.57" cy="630.00" rx="7.78" ry="4.35" fill="none" stroke="#000" stroke-width="0.55"/>
<ellipse cx="455.80" cy="630.00" rx="7.00" ry="4.30" fill="#000"/>
<ellipse cx="454.80" cy="630.00" rx="0.9" ry="0.6" fill="#fff" filter="url(#bl2)"/>
<rect x="402.10" y="564.30" width="24.50" height="23.60" fill="none" stroke="#666666" stroke-width="0.85"/>
<rect x="458.50" y="565.10" width="20.10" height="22.30" fill="none" stroke="#666666" stroke-width="0.85"/>
<rect x="405.00" y="620.30" width="20.70" height="21.90" fill="none" stroke="#666666" stroke-width="0.85"/>
<rect x="460.60" y="621.20" width="20.10" height="21.40" fill="none" stroke="#666666" stroke-width="0.85"/>
<text x="411.70" y="600.70" font-size="10.4" text-anchor="middle" textLength="21.0" lengthAdjust="spacingAndGlyphs">11.7</text>
<text x="466.00" y="599.80" font-size="10.4" text-anchor="middle" textLength="21.0" lengthAdjust="spacingAndGlyphs">11.9</text>
<text x="412.60" y="653.30" font-size="10.4" text-anchor="middle" textLength="21.0" lengthAdjust="spacingAndGlyphs">20.4</text>
<text x="467.20" y="654.10" font-size="10.4" text-anchor="middle" textLength="21.0" lengthAdjust="spacingAndGlyphs">34.7</text>
<line x1="350.40" y1="629.30" x2="350.40" y2="559.20" stroke="#3f4d69" stroke-width="1.5"/>
<path d="M350.40,555.20 L347.60,561.20 L353.20,561.20 Z" fill="#3f4d69"/>
<text x="353.80" y="645.00" font-size="10.0" text-anchor="middle" transform="rotate(-90 353.80 645.00)" textLength="25.7" lengthAdjust="spacingAndGlyphs">Open</text>
<text x="358.60" y="619.50" font-size="8.6" textLength="9.2" lengthAdjust="spacingAndGlyphs">10</text>
<text x="367.90" y="616.40" font-size="6.6" textLength="3.8" lengthAdjust="spacingAndGlyphs">5</text>
<text x="358.60" y="630.00" font-size="8.6" textLength="9.2" lengthAdjust="spacingAndGlyphs">10</text>
<text x="367.90" y="626.90" font-size="6.6" textLength="3.8" lengthAdjust="spacingAndGlyphs">4</text>
<text x="358.60" y="640.50" font-size="8.6" textLength="9.2" lengthAdjust="spacingAndGlyphs">10</text>
<text x="367.90" y="637.40" font-size="6.6" textLength="3.8" lengthAdjust="spacingAndGlyphs">3</text>
<text x="369.40" y="662.80" font-size="9.2" text-anchor="middle" textLength="5.8" lengthAdjust="spacingAndGlyphs">0</text>
<text x="390.60" y="669.50" font-size="9.0" text-anchor="middle" transform="rotate(-90 390.60 669.50)">0</text>
<text x="408.30" y="679.10" font-size="8.8" textLength="9.2" lengthAdjust="spacingAndGlyphs" transform="rotate(-90 408.30 679.10)">10</text>
<text x="405.20" y="669.40" font-size="6.6" textLength="3.8" lengthAdjust="spacingAndGlyphs" transform="rotate(-90 405.20 669.40)">3</text>
<text x="419.20" y="679.10" font-size="8.8" textLength="9.2" lengthAdjust="spacingAndGlyphs" transform="rotate(-90 419.20 679.10)">10</text>
<text x="416.10" y="669.40" font-size="6.6" textLength="3.8" lengthAdjust="spacingAndGlyphs" transform="rotate(-90 416.10 669.40)">4</text>
<text x="429.10" y="679.10" font-size="8.8" textLength="9.2" lengthAdjust="spacingAndGlyphs" transform="rotate(-90 429.10 679.10)">10</text>
<text x="426.00" y="669.40" font-size="6.6" textLength="3.8" lengthAdjust="spacingAndGlyphs" transform="rotate(-90 426.00 669.40)">5</text>
<text x="375.20" y="690.60" font-size="10.0" textLength="24.6" lengthAdjust="spacingAndGlyphs">IFN-γ</text>
<line x1="402.40" y1="687.80" x2="479.30" y2="687.80" stroke="#3f4d69" stroke-width="1.5"/>
<path d="M483.30,687.80 L477.30,685.00 L477.30,690.60 Z" fill="#3f4d69"/>
<rect x="83.60" y="502.19" width="12.80" height="4.11" fill="#000"/>
<line x1="110.65" y1="460.09" x2="110.65" y2="442.63" stroke="#666" stroke-width="0.8"/>
<line x1="108.45" y1="442.63" x2="112.85" y2="442.63" stroke="#666" stroke-width="0.8"/>
<rect x="104.20" y="460.09" width="12.90" height="46.21" fill="none" stroke="#777" stroke-width="0.8"/>
<rect x="139.20" y="500.14" width="12.60" height="6.16" fill="#000"/>
<line x1="166.10" y1="445.30" x2="166.10" y2="424.14" stroke="#666" stroke-width="0.8"/>
<line x1="163.90" y1="424.14" x2="168.30" y2="424.14" stroke="#666" stroke-width="0.8"/>
<rect x="159.60" y="445.30" width="13.00" height="61.00" fill="none" stroke="#777" stroke-width="0.8"/>
<circle cx="89.50" cy="495.80" r="3.45" fill="#fff" stroke="#111" stroke-width="0.75"/>
<circle cx="87.00" cy="499.40" r="3.45" fill="#fff" stroke="#111" stroke-width="0.75"/>
<circle cx="91.10" cy="501.50" r="3.45" fill="#fff" stroke="#111" stroke-width="0.75"/>
<circle cx="93.50" cy="503.90" r="3.45" fill="#fff" stroke="#111" stroke-width="0.75"/>
<circle cx="89.50" cy="505.50" r="3.45" fill="#fff" stroke="#111" stroke-width="0.75"/>
<circle cx="86.20" cy="503.10" r="3.45" fill="#fff" stroke="#111" stroke-width="0.75"/>
<circle cx="88.50" cy="497.50" r="3.45" fill="#fff" stroke="#111" stroke-width="0.75"/>
<circle cx="92.20" cy="498.50" r="3.45" fill="#fff" stroke="#111" stroke-width="0.75"/>
<circle cx="113.50" cy="436.10" r="3.45" fill="#fff" stroke="#111" stroke-width="0.75"/>
<circle cx="110.70" cy="438.00" r="3.45" fill="#fff" stroke="#111" stroke-width="0.75"/>
<circle cx="107.10" cy="449.60" r="3.45" fill="#fff" stroke="#111" stroke-width="0.75"/>
<circle cx="113.50" cy="447.30" r="3.45" fill="#fff" stroke="#111" stroke-width="0.75"/>
<circle cx="110.70" cy="453.80" r="3.45" fill="#fff" stroke="#111" stroke-width="0.75"/>
<circle cx="106.80" cy="462.90" r="3.45" fill="#fff" stroke="#111" stroke-width="0.75"/>
<circle cx="111.10" cy="466.10" r="3.45" fill="#fff" stroke="#111" stroke-width="0.75"/>
<circle cx="110.70" cy="475.30" r="3.45" fill="#fff" stroke="#111" stroke-width="0.75"/>
<circle cx="113.90" cy="481.10" r="3.45" fill="#fff" stroke="#111" stroke-width="0.75"/>
<circle cx="107.40" cy="487.00" r="3.45" fill="#fff" stroke="#111" stroke-width="0.75"/>
<circle cx="144.10" cy="493.40" r="3.45" fill="#fff" stroke="#111" stroke-width="0.75"/>
<circle cx="142.40" cy="497.40" r="3.45" fill="#fff" stroke="#111" stroke-width="0.75"/>
<circle cx="146.50" cy="498.30" r="3.45" fill="#fff" stroke="#111" stroke-width="0.75"/>
<circle cx="148.10" cy="500.70" r="3.45" fill="#fff" stroke="#111" stroke-width="0.75"/>
<circle cx="143.30" cy="501.50" r="3.45" fill="#fff" stroke="#111" stroke-width="0.75"/>
<circle cx="145.70" cy="495.50" r="3.45" fill="#fff" stroke="#111" stroke-width="0.75"/>
<circle cx="163.80" cy="410.00" r="3.45" fill="#fff" stroke="#111" stroke-width="0.75"/>
<circle cx="167.80" cy="411.90" r="3.45" fill="#fff" stroke="#111" stroke-width="0.75"/>
<circle cx="165.70" cy="434.00" r="3.45" fill="#fff" stroke="#111" stroke-width="0.75"/>
<circle cx="163.30" cy="439.60" r="3.45" fill="#fff" stroke="#111" stroke-width="0.75"/>
<circle cx="168.10" cy="440.40" r="3.45" fill="#fff" stroke="#111" stroke-width="0.75"/>
<circle cx="164.10" cy="451.70" r="3.45" fill="#fff" stroke="#111" stroke-width="0.75"/>
<circle cx="168.10" cy="458.90" r="3.45" fill="#fff" stroke="#111" stroke-width="0.75"/>
<circle cx="169.80" cy="463.70" r="3.45" fill="#fff" stroke="#111" stroke-width="0.75"/>
<circle cx="164.90" cy="464.50" r="3.45" fill="#fff" stroke="#111" stroke-width="0.75"/>
<circle cx="162.50" cy="466.90" r="3.45" fill="#fff" stroke="#111" stroke-width="0.75"/>
<line x1="76.40" y1="403.60" x2="76.40" y2="506.30" stroke="#8c8c8c" stroke-width="0.9"/>
<line x1="76.40" y1="506.30" x2="180.20" y2="506.30" stroke="#8c8c8c" stroke-width="0.9"/>
<line x1="72.40" y1="506.30" x2="76.40" y2="506.30" stroke="#8c8c8c" stroke-width="0.9"/>
<text x="68.60" y="509.30" font-size="8.4" text-anchor="end" textLength="5.3" lengthAdjust="spacingAndGlyphs">0</text>
<line x1="72.40" y1="485.76" x2="76.40" y2="485.76" stroke="#8c8c8c" stroke-width="0.9"/>
<text x="68.60" y="488.76" font-size="8.4" text-anchor="end" textLength="10.4" lengthAdjust="spacingAndGlyphs">10</text>
<line x1="72.40" y1="465.22" x2="76.40" y2="465.22" stroke="#8c8c8c" stroke-width="0.9"/>
<text x="68.60" y="468.22" font-size="8.4" text-anchor="end" textLength="10.4" lengthAdjust="spacingAndGlyphs">20</text>
<line x1="72.40" y1="444.68" x2="76.40" y2="444.68" stroke="#8c8c8c" stroke-width="0.9"/>
<text x="68.60" y="447.68" font-size="8.4" text-anchor="end" textLength="10.4" lengthAdjust="spacingAndGlyphs">30</text>
<line x1="72.40" y1="424.14" x2="76.40" y2="424.14" stroke="#8c8c8c" stroke-width="0.9"/>
<text x="68.60" y="427.14" font-size="8.4" text-anchor="end" textLength="10.4" lengthAdjust="spacingAndGlyphs">40</text>
<line x1="72.40" y1="403.60" x2="76.40" y2="403.60" stroke="#8c8c8c" stroke-width="0.9"/>
<text x="68.60" y="406.60" font-size="8.4" text-anchor="end" textLength="10.4" lengthAdjust="spacingAndGlyphs">50</text>
<line x1="100.20" y1="506.30" x2="100.20" y2="509.90" stroke="#8c8c8c" stroke-width="0.9"/>
<line x1="155.30" y1="506.30" x2="155.30" y2="509.90" stroke="#8c8c8c" stroke-width="0.9"/>
<text x="100.20" y="524.20" font-size="10.0" text-anchor="middle" textLength="31.0" lengthAdjust="spacingAndGlyphs">γδ IEL</text>
<text x="155.30" y="524.20" font-size="10.0" text-anchor="middle" textLength="31.5" lengthAdjust="spacingAndGlyphs">DN IEL</text>
<text x="98.60" y="420.40" font-size="10.8" text-anchor="middle" textLength="39.60000000000001" lengthAdjust="spacingAndGlyphs">&lt;0.0001</text>
<line x1="86.80" y1="424.50" x2="113.60" y2="424.50" stroke="#222" stroke-width="1.0"/>
<text x="153.80" y="399.40" font-size="10.8" text-anchor="middle" textLength="39.599999999999994" lengthAdjust="spacingAndGlyphs">&lt;0.0001</text>
<line x1="140.50" y1="403.50" x2="167.30" y2="403.50" stroke="#222" stroke-width="1.0"/>
<text x="48.30" y="454.90" font-size="10.4" text-anchor="middle" textLength="71.8" lengthAdjust="spacingAndGlyphs" transform="rotate(-90 48.30 454.90)">NK1.1<tspan font-size="6.6" dy="-4.6">+</tspan><tspan dy="4.6"> cells (%)</tspan></text>
<rect x="231.60" y="502.05" width="12.30" height="3.45" fill="#000"/>
<line x1="258.75" y1="481.35" x2="258.75" y2="472.73" stroke="#666" stroke-width="0.8"/>
<line x1="256.55" y1="472.73" x2="260.95" y2="472.73" stroke="#666" stroke-width="0.8"/>
<rect x="252.10" y="481.35" width="13.30" height="24.15" fill="none" stroke="#777" stroke-width="0.8"/>
<rect x="286.60" y="498.60" width="12.90" height="6.90" fill="#000"/>
<line x1="313.95" y1="429.60" x2="313.95" y2="422.70" stroke="#666" stroke-width="0.8"/>
<line x1="311.75" y1="422.70" x2="316.15" y2="422.70" stroke="#666" stroke-width="0.8"/>
<rect x="307.50" y="429.60" width="12.90" height="75.90" fill="none" stroke="#777" stroke-width="0.8"/>
<circle cx="235.20" cy="501.50" r="3.45" fill="#fff" stroke="#111" stroke-width="0.75"/>
<circle cx="239.40" cy="501.00" r="3.45" fill="#fff" stroke="#111" stroke-width="0.75"/>
<circle cx="242.00" cy="502.30" r="3.45" fill="#fff" stroke="#111" stroke-width="0.75"/>
<circle cx="237.00" cy="503.00" r="3.45" fill="#fff" stroke="#111" stroke-width="0.75"/>
<circle cx="233.80" cy="502.60" r="3.45" fill="#fff" stroke="#111" stroke-width="0.75"/>
<circle cx="258.70" cy="473.20" r="3.45" fill="#fff" stroke="#111" stroke-width="0.75"/>
<circle cx="261.90" cy="481.00" r="3.45" fill="#fff" stroke="#111" stroke-width="0.75"/>
<circle cx="255.30" cy="487.40" r="3.45" fill="#fff" stroke="#111" stroke-width="0.75"/>
<circle cx="258.70" cy="484.20" r="3.45" fill="#fff" stroke="#111" stroke-width="0.75"/>
<circle cx="291.40" cy="494.60" r="3.45" fill="#fff" stroke="#111" stroke-width="0.75"/>
<circle cx="295.10" cy="495.20" r="3.45" fill="#fff" stroke="#111" stroke-width="0.75"/>
<circle cx="289.50" cy="501.30" r="3.45" fill="#fff" stroke="#111" stroke-width="0.75"/>
<circle cx="294.20" cy="502.20" r="3.45" fill="#fff" stroke="#111" stroke-width="0.75"/>
<circle cx="292.30" cy="498.40" r="3.45" fill="#fff" stroke="#111" stroke-width="0.75"/>
<circle cx="296.00" cy="501.80" r="3.45" fill="#fff" stroke="#111" stroke-width="0.75"/>
<circle cx="317.40" cy="418.70" r="3.45" fill="#fff" stroke="#111" stroke-width="0.75"/>
<circle cx="310.30" cy="425.40" r="3.45" fill="#fff" stroke="#111" stroke-width="0.75"/>
<circle cx="317.40" cy="429.20" r="3.45" fill="#fff" stroke="#111" stroke-width="0.75"/>
<circle cx="313.80" cy="440.00" r="3.45" fill="#fff" stroke="#111" stroke-width="0.75"/>
<line x1="224.40" y1="402.00" x2="224.40" y2="505.50" stroke="#8c8c8c" stroke-width="0.9"/>
<line x1="224.40" y1="505.50" x2="327.40" y2="505.50" stroke="#8c8c8c" stroke-width="0.9"/>
<line x1="220.40" y1="505.50" x2="224.40" y2="505.50" stroke="#8c8c8c" stroke-width="0.9"/>
<text x="216.60" y="508.50" font-size="8.4" text-anchor="end" textLength="5.3" lengthAdjust="spacingAndGlyphs">0</text>
<line x1="220.40" y1="471.00" x2="224.40" y2="471.00" stroke="#8c8c8c" stroke-width="0.9"/>
<text x="216.60" y="474.00" font-size="8.4" text-anchor="end" textLength="10.4" lengthAdjust="spacingAndGlyphs">10</text>
<line x1="220.40" y1="436.50" x2="224.40" y2="436.50" stroke="#8c8c8c" stroke-width="0.9"/>
<text x="216.60" y="439.50" font-size="8.4" text-anchor="end" textLength="10.4" lengthAdjust="spacingAndGlyphs">20</text>
<line x1="220.40" y1="402.00" x2="224.40" y2="402.00" stroke="#8c8c8c" stroke-width="0.9"/>
<text x="216.60" y="405.00" font-size="8.4" text-anchor="end" textLength="10.4" lengthAdjust="spacingAndGlyphs">30</text>
<line x1="248.70" y1="505.50" x2="248.70" y2="509.10" stroke="#8c8c8c" stroke-width="0.9"/>
<line x1="303.30" y1="505.50" x2="303.30" y2="509.10" stroke="#8c8c8c" stroke-width="0.9"/>
<text x="248.70" y="524.20" font-size="10.0" text-anchor="middle" textLength="31.0" lengthAdjust="spacingAndGlyphs">γδ IEL</text>
<text x="303.30" y="524.20" font-size="10.0" text-anchor="middle" textLength="31.5" lengthAdjust="spacingAndGlyphs">DN IEL</text>
<text x="247.70" y="456.70" font-size="10.8" text-anchor="middle" textLength="39.80000000000001" lengthAdjust="spacingAndGlyphs">&lt;0.0001</text>
<line x1="235.90" y1="460.50" x2="262.90" y2="460.50" stroke="#222" stroke-width="1.0"/>
<text x="300.55" y="404.90" font-size="10.8" text-anchor="middle" textLength="39.30000000000001" lengthAdjust="spacingAndGlyphs">&lt;0.0001</text>
<line x1="288.50" y1="408.50" x2="315.10" y2="408.50" stroke="#222" stroke-width="1.0"/>
<text x="197.40" y="450.90" font-size="10.4" text-anchor="middle" textLength="81.8" lengthAdjust="spacingAndGlyphs" transform="rotate(-90 197.40 450.90)">NKG2D<tspan font-size="6.6" dy="-4.6">+</tspan><tspan dy="4.6"> cells (%)</tspan></text>
<rect x="386.20" y="502.90" width="11.80" height="3.10" fill="#000"/>
<line x1="412.95" y1="488.84" x2="412.95" y2="478.29" stroke="#666" stroke-width="0.8"/>
<line x1="410.75" y1="478.29" x2="415.15" y2="478.29" stroke="#666" stroke-width="0.8"/>
<rect x="406.50" y="488.84" width="12.90" height="17.16" fill="none" stroke="#777" stroke-width="0.8"/>
<line x1="447.40" y1="491.52" x2="447.40" y2="479.12" stroke="#666" stroke-width="0.8"/>
<line x1="445.20" y1="479.12" x2="449.60" y2="479.12" stroke="#666" stroke-width="0.8"/>
<rect x="441.20" y="491.52" width="12.40" height="14.48" fill="#000"/>
<line x1="468.15" y1="437.14" x2="468.15" y2="425.35" stroke="#666" stroke-width="0.8"/>
<line x1="465.95" y1="425.35" x2="470.35" y2="425.35" stroke="#666" stroke-width="0.8"/>
<rect x="461.90" y="437.14" width="12.50" height="68.86" fill="none" stroke="#777" stroke-width="0.8"/>
<circle cx="390.40" cy="499.40" r="3.45" fill="#fff" stroke="#111" stroke-width="0.75"/>
<circle cx="395.10" cy="501.70" r="3.45" fill="#fff" stroke="#111" stroke-width="0.75"/>
<circle cx="388.50" cy="503.20" r="3.45" fill="#fff" stroke="#111" stroke-width="0.75"/>
<circle cx="393.00" cy="503.50" r="3.45" fill="#fff" stroke="#111" stroke-width="0.75"/>
<circle cx="416.00" cy="476.60" r="3.45" fill="#fff" stroke="#111" stroke-width="0.75"/>
<circle cx="409.70" cy="483.60" r="3.45" fill="#fff" stroke="#111" stroke-width="0.75"/>
<circle cx="409.30" cy="497.50" r="3.45" fill="#fff" stroke="#111" stroke-width="0.75"/>
<circle cx="416.40" cy="494.60" r="3.45" fill="#fff" stroke="#111" stroke-width="0.75"/>
<circle cx="447.30" cy="472.40" r="3.45" fill="#fff" stroke="#111" stroke-width="0.75"/>
<circle cx="447.30" cy="485.50" r="3.45" fill="#fff" stroke="#111" stroke-width="0.75"/>
<circle cx="443.90" cy="499.80" r="3.45" fill="#fff" stroke="#111" stroke-width="0.75"/>
<circle cx="450.70" cy="499.40" r="3.45" fill="#fff" stroke="#111" stroke-width="0.75"/>
<circle cx="464.80" cy="421.60" r="3.45" fill="#fff" stroke="#111" stroke-width="0.75"/>
<circle cx="471.60" cy="420.20" r="3.45" fill="#fff" stroke="#111" stroke-width="0.75"/>
<circle cx="468.20" cy="445.90" r="3.45" fill="#fff" stroke="#111" stroke-width="0.75"/>
<circle cx="467.80" cy="459.10" r="3.45" fill="#fff" stroke="#111" stroke-width="0.75"/>
<line x1="378.60" y1="402.60" x2="378.60" y2="506.00" stroke="#8c8c8c" stroke-width="0.9"/>
<line x1="378.60" y1="506.00" x2="481.50" y2="506.00" stroke="#8c8c8c" stroke-width="0.9"/>
<line x1="374.60" y1="506.00" x2="378.60" y2="506.00" stroke="#8c8c8c" stroke-width="0.9"/>
<text x="370.80" y="509.00" font-size="8.4" text-anchor="end" textLength="5.3" lengthAdjust="spacingAndGlyphs">0</text>
<line x1="374.60" y1="485.32" x2="378.60" y2="485.32" stroke="#8c8c8c" stroke-width="0.9"/>
<text x="370.80" y="488.32" font-size="8.4" text-anchor="end" textLength="10.4" lengthAdjust="spacingAndGlyphs">10</text>
<line x1="374.60" y1="464.64" x2="378.60" y2="464.64" stroke="#8c8c8c" stroke-width="0.9"/>
<text x="370.80" y="467.64" font-size="8.4" text-anchor="end" textLength="10.4" lengthAdjust="spacingAndGlyphs">20</text>
<line x1="374.60" y1="443.96" x2="378.60" y2="443.96" stroke="#8c8c8c" stroke-width="0.9"/>
<text x="370.80" y="446.96" font-size="8.4" text-anchor="end" textLength="10.4" lengthAdjust="spacingAndGlyphs">30</text>
<line x1="374.60" y1="423.28" x2="378.60" y2="423.28" stroke="#8c8c8c" stroke-width="0.9"/>
<text x="370.80" y="426.28" font-size="8.4" text-anchor="end" textLength="10.4" lengthAdjust="spacingAndGlyphs">40</text>
<line x1="374.60" y1="402.60" x2="378.60" y2="402.60" stroke="#8c8c8c" stroke-width="0.9"/>
<text x="370.80" y="405.60" font-size="8.4" text-anchor="end" textLength="10.4" lengthAdjust="spacingAndGlyphs">50</text>
<line x1="402.10" y1="506.00" x2="402.10" y2="509.60" stroke="#8c8c8c" stroke-width="0.9"/>
<line x1="457.70" y1="506.00" x2="457.70" y2="509.60" stroke="#8c8c8c" stroke-width="0.9"/>
<text x="402.10" y="524.20" font-size="10.0" text-anchor="middle" textLength="31.0" lengthAdjust="spacingAndGlyphs">γδ IEL</text>
<text x="457.70" y="524.20" font-size="10.0" text-anchor="middle" textLength="31.5" lengthAdjust="spacingAndGlyphs">DN IEL</text>
<text x="403.35" y="458.60" font-size="10.8" text-anchor="middle" textLength="27.099999999999966" lengthAdjust="spacingAndGlyphs">0.010</text>
<line x1="390.00" y1="462.50" x2="416.90" y2="462.50" stroke="#222" stroke-width="1.0"/>
<text x="456.80" y="406.40" font-size="10.8" text-anchor="middle" textLength="31.19999999999999" lengthAdjust="spacingAndGlyphs">0.0011</text>
<line x1="441.60" y1="409.50" x2="469.50" y2="409.50" stroke="#222" stroke-width="1.0"/>
<text x="350.50" y="453.80" font-size="10.4" text-anchor="middle" textLength="80.6" lengthAdjust="spacingAndGlyphs" transform="rotate(-90 350.50 453.80)">NKG2A<tspan font-size="6.6" dy="-4.6">+</tspan><tspan dy="4.6"> cells (%)</tspan></text>
<rect x="540.00" y="505.38" width="12.50" height="0.52" fill="#000"/>
<rect x="560.50" y="505.38" width="12.50" height="0.52" fill="none" stroke="#777" stroke-width="0.8"/>
<line x1="602.40" y1="462.30" x2="602.40" y2="438.43" stroke="#666" stroke-width="0.8"/>
<line x1="600.20" y1="438.43" x2="604.60" y2="438.43" stroke="#666" stroke-width="0.8"/>
<rect x="596.20" y="462.30" width="12.40" height="43.60" fill="#000"/>
<line x1="623.15" y1="423.90" x2="623.15" y2="409.37" stroke="#666" stroke-width="0.8"/>
<line x1="620.95" y1="409.37" x2="625.35" y2="409.37" stroke="#666" stroke-width="0.8"/>
<rect x="616.90" y="423.90" width="12.50" height="82.00" fill="none" stroke="#777" stroke-width="0.8"/>
<circle cx="545.40" cy="499.80" r="3.45" fill="#fff" stroke="#111" stroke-width="0.75"/>
<circle cx="543.50" cy="504.60" r="3.45" fill="#fff" stroke="#111" stroke-width="0.75"/>
<circle cx="549.20" cy="504.60" r="3.45" fill="#fff" stroke="#111" stroke-width="0.75"/>
<circle cx="546.50" cy="503.00" r="3.45" fill="#fff" stroke="#111" stroke-width="0.75"/>
<circle cx="565.90" cy="503.00" r="3.45" fill="#fff" stroke="#111" stroke-width="0.75"/>
<circle cx="570.00" cy="504.60" r="3.45" fill="#fff" stroke="#111" stroke-width="0.75"/>
<circle cx="563.40" cy="505.00" r="3.45" fill="#fff" stroke="#111" stroke-width="0.75"/>
<circle cx="571.00" cy="505.50" r="3.45" fill="#fff" stroke="#111" stroke-width="0.75"/>
<circle cx="602.30" cy="426.20" r="3.45" fill="#fff" stroke="#111" stroke-width="0.75"/>
<circle cx="602.30" cy="450.90" r="3.45" fill="#fff" stroke="#111" stroke-width="0.75"/>
<circle cx="598.90" cy="472.30" r="3.45" fill="#fff" stroke="#111" stroke-width="0.75"/>
<circle cx="605.70" cy="477.60" r="3.45" fill="#fff" stroke="#111" stroke-width="0.75"/>
<circle cx="598.90" cy="479.50" r="3.45" fill="#fff" stroke="#111" stroke-width="0.75"/>
<circle cx="627.00" cy="408.70" r="3.45" fill="#fff" stroke="#111" stroke-width="0.75"/>
<circle cx="619.80" cy="415.00" r="3.45" fill="#fff" stroke="#111" stroke-width="0.75"/>
<circle cx="619.80" cy="427.10" r="3.45" fill="#fff" stroke="#111" stroke-width="0.75"/>
<circle cx="626.60" cy="430.20" r="3.45" fill="#fff" stroke="#111" stroke-width="0.75"/>
<circle cx="619.80" cy="435.30" r="3.45" fill="#fff" stroke="#111" stroke-width="0.75"/>
<line x1="533.60" y1="402.10" x2="533.60" y2="505.90" stroke="#8c8c8c" stroke-width="0.9"/>
<line x1="533.60" y1="505.90" x2="636.50" y2="505.90" stroke="#8c8c8c" stroke-width="0.9"/>
<line x1="529.60" y1="505.90" x2="533.60" y2="505.90" stroke="#8c8c8c" stroke-width="0.9"/>
<text x="525.80" y="508.90" font-size="8.4" text-anchor="end" textLength="5.3" lengthAdjust="spacingAndGlyphs">0</text>
<line x1="529.60" y1="485.14" x2="533.60" y2="485.14" stroke="#8c8c8c" stroke-width="0.9"/>
<text x="525.80" y="488.14" font-size="8.4" text-anchor="end" textLength="5.3" lengthAdjust="spacingAndGlyphs">2</text>
<line x1="529.60" y1="464.38" x2="533.60" y2="464.38" stroke="#8c8c8c" stroke-width="0.9"/>
<text x="525.80" y="467.38" font-size="8.4" text-anchor="end" textLength="5.3" lengthAdjust="spacingAndGlyphs">4</text>
<line x1="529.60" y1="443.62" x2="533.60" y2="443.62" stroke="#8c8c8c" stroke-width="0.9"/>
<text x="525.80" y="446.62" font-size="8.4" text-anchor="end" textLength="5.3" lengthAdjust="spacingAndGlyphs">6</text>
<line x1="529.60" y1="422.86" x2="533.60" y2="422.86" stroke="#8c8c8c" stroke-width="0.9"/>
<text x="525.80" y="425.86" font-size="8.4" text-anchor="end" textLength="5.3" lengthAdjust="spacingAndGlyphs">8</text>
<line x1="529.60" y1="402.10" x2="533.60" y2="402.10" stroke="#8c8c8c" stroke-width="0.9"/>
<text x="525.80" y="405.10" font-size="8.4" text-anchor="end" textLength="10.4" lengthAdjust="spacingAndGlyphs">10</text>
<line x1="557.10" y1="505.90" x2="557.10" y2="509.50" stroke="#8c8c8c" stroke-width="0.9"/>
<line x1="612.70" y1="505.90" x2="612.70" y2="509.50" stroke="#8c8c8c" stroke-width="0.9"/>
<text x="557.10" y="524.20" font-size="10.0" text-anchor="middle" textLength="31.0" lengthAdjust="spacingAndGlyphs">γδ IEL</text>
<text x="612.70" y="524.20" font-size="10.0" text-anchor="middle" textLength="31.5" lengthAdjust="spacingAndGlyphs">DN IEL</text>
<text x="557.70" y="486.90" font-size="10.8" text-anchor="middle" textLength="21.600000000000023" lengthAdjust="spacingAndGlyphs">0.62</text>
<line x1="544.00" y1="490.50" x2="571.00" y2="490.50" stroke="#222" stroke-width="1.0"/>
<text x="611.60" y="397.90" font-size="10.8" text-anchor="middle" textLength="35.60000000000002" lengthAdjust="spacingAndGlyphs">0.0097</text>
<line x1="597.60" y1="402.50" x2="624.10" y2="402.50" stroke="#222" stroke-width="1.0"/>
<text x="508.20" y="452.70" font-size="10.4" text-anchor="middle" textLength="77.7" lengthAdjust="spacingAndGlyphs" transform="rotate(-90 508.20 452.70)">Ly49A<tspan font-size="6.6" dy="-4.6">+</tspan><tspan dy="4.6"> cells (%)</tspan></text>
<rect x="80.60" y="814.68" width="12.40" height="1.72" fill="#000"/>
<line x1="106.70" y1="795.03" x2="106.70" y2="766.42" stroke="#666" stroke-width="0.8"/>
<line x1="104.50" y1="766.42" x2="108.90" y2="766.42" stroke="#666" stroke-width="0.8"/>
<rect x="100.50" y="795.03" width="12.40" height="21.37" fill="none" stroke="#777" stroke-width="0.8"/>
<rect x="134.70" y="814.68" width="13.30" height="1.72" fill="#000"/>
<line x1="161.95" y1="799.86" x2="161.95" y2="780.90" stroke="#666" stroke-width="0.8"/>
<line x1="159.75" y1="780.90" x2="164.15" y2="780.90" stroke="#666" stroke-width="0.8"/>
<rect x="155.60" y="799.86" width="12.70" height="16.54" fill="none" stroke="#777" stroke-width="0.8"/>
<circle cx="82.50" cy="812.20" r="3.45" fill="#fff" stroke="#111" stroke-width="0.75"/>
<circle cx="85.40" cy="809.00" r="3.45" fill="#fff" stroke="#111" stroke-width="0.75"/>
<circle cx="89.20" cy="810.90" r="3.45" fill="#fff" stroke="#111" stroke-width="0.75"/>
<circle cx="106.60" cy="766.10" r="3.45" fill="#fff" stroke="#111" stroke-width="0.75"/>
<circle cx="103.40" cy="810.70" r="3.45" fill="#fff" stroke="#111" stroke-width="0.75"/>
<circle cx="110.00" cy="806.00" r="3.45" fill="#fff" stroke="#111" stroke-width="0.75"/>
<circle cx="141.40" cy="806.50" r="3.45" fill="#fff" stroke="#111" stroke-width="0.75"/>
<circle cx="137.60" cy="812.60" r="3.45" fill="#fff" stroke="#111" stroke-width="0.75"/>
<circle cx="144.60" cy="812.60" r="3.45" fill="#fff" stroke="#111" stroke-width="0.75"/>
<circle cx="162.20" cy="780.90" r="3.45" fill="#fff" stroke="#111" stroke-width="0.75"/>
<circle cx="158.40" cy="810.30" r="3.45" fill="#fff" stroke="#111" stroke-width="0.75"/>
<circle cx="165.10" cy="805.60" r="3.45" fill="#fff" stroke="#111" stroke-width="0.75"/>
<line x1="73.00" y1="713.00" x2="73.00" y2="816.40" stroke="#8c8c8c" stroke-width="0.9"/>
<line x1="73.00" y1="816.40" x2="175.90" y2="816.40" stroke="#8c8c8c" stroke-width="0.9"/>
<line x1="69.00" y1="816.40" x2="73.00" y2="816.40" stroke="#8c8c8c" stroke-width="0.9"/>
<text x="65.20" y="819.40" font-size="8.4" text-anchor="end" textLength="5.3" lengthAdjust="spacingAndGlyphs">0</text>
<line x1="69.00" y1="781.93" x2="73.00" y2="781.93" stroke="#8c8c8c" stroke-width="0.9"/>
<text x="65.20" y="784.93" font-size="8.4" text-anchor="end" textLength="5.3" lengthAdjust="spacingAndGlyphs">1</text>
<line x1="69.00" y1="747.47" x2="73.00" y2="747.47" stroke="#8c8c8c" stroke-width="0.9"/>
<text x="65.20" y="750.47" font-size="8.4" text-anchor="end" textLength="5.3" lengthAdjust="spacingAndGlyphs">2</text>
<line x1="69.00" y1="713.00" x2="73.00" y2="713.00" stroke="#8c8c8c" stroke-width="0.9"/>
<text x="65.20" y="716.00" font-size="8.4" text-anchor="end" textLength="5.3" lengthAdjust="spacingAndGlyphs">3</text>
<line x1="96.80" y1="816.40" x2="96.80" y2="820.00" stroke="#8c8c8c" stroke-width="0.9"/>
<line x1="151.80" y1="816.40" x2="151.80" y2="820.00" stroke="#8c8c8c" stroke-width="0.9"/>
<text x="96.80" y="834.00" font-size="10.0" text-anchor="middle" textLength="31.0" lengthAdjust="spacingAndGlyphs">γδ IEL</text>
<text x="151.80" y="834.00" font-size="10.0" text-anchor="middle" textLength="31.5" lengthAdjust="spacingAndGlyphs">DN IEL</text>
<text x="96.75" y="751.50" font-size="10.8" text-anchor="middle" textLength="22.69999999999999" lengthAdjust="spacingAndGlyphs">0.30</text>
<line x1="82.50" y1="754.50" x2="110.00" y2="754.50" stroke="#222" stroke-width="1.0"/>
<text x="150.40" y="767.60" font-size="10.8" text-anchor="middle" textLength="21.80000000000001" lengthAdjust="spacingAndGlyphs">0.29</text>
<line x1="137.00" y1="770.50" x2="164.10" y2="770.50" stroke="#222" stroke-width="1.0"/>
<text x="49.40" y="764.80" font-size="10.4" text-anchor="middle" textLength="79.5" lengthAdjust="spacingAndGlyphs" transform="rotate(-90 49.40 764.80)">Ly49H<tspan font-size="6.6" dy="-4.6">+</tspan><tspan dy="4.6"> cells (%)</tspan></text>
<rect x="230.20" y="802.59" width="12.80" height="12.61" fill="#000"/>
<line x1="257.65" y1="744.89" x2="257.65" y2="734.55" stroke="#666" stroke-width="0.8"/>
<line x1="255.45" y1="734.55" x2="259.85" y2="734.55" stroke="#666" stroke-width="0.8"/>
<rect x="251.50" y="744.89" width="12.30" height="70.31" fill="none" stroke="#777" stroke-width="0.8"/>
<rect x="285.70" y="808.17" width="12.90" height="7.03" fill="#000"/>
<line x1="312.95" y1="764.74" x2="312.95" y2="739.72" stroke="#666" stroke-width="0.8"/>
<line x1="310.75" y1="739.72" x2="315.15" y2="739.72" stroke="#666" stroke-width="0.8"/>
<rect x="306.50" y="764.74" width="12.90" height="50.46" fill="none" stroke="#777" stroke-width="0.8"/>
<circle cx="236.90" cy="783.90" r="3.45" fill="#fff" stroke="#111" stroke-width="0.75"/>
<circle cx="236.90" cy="788.60" r="3.45" fill="#fff" stroke="#111" stroke-width="0.75"/>
<circle cx="233.10" cy="799.60" r="3.45" fill="#fff" stroke="#111" stroke-width="0.75"/>
<circle cx="239.20" cy="798.70" r="3.45" fill="#fff" stroke="#111" stroke-width="0.75"/>
<circle cx="236.30" cy="796.80" r="3.45" fill="#fff" stroke="#111" stroke-width="0.75"/>
<circle cx="257.80" cy="724.70" r="3.45" fill="#fff" stroke="#111" stroke-width="0.75"/>
<circle cx="257.80" cy="734.20" r="3.45" fill="#fff" stroke="#111" stroke-width="0.75"/>
<circle cx="253.40" cy="742.10" r="3.45" fill="#fff" stroke="#111" stroke-width="0.75"/>
<circle cx="261.00" cy="743.70" r="3.45" fill="#fff" stroke="#111" stroke-width="0.75"/>
<circle cx="257.80" cy="741.40" r="3.45" fill="#fff" stroke="#111" stroke-width="0.75"/>
<circle cx="257.80" cy="758.50" r="3.45" fill="#fff" stroke="#111" stroke-width="0.75"/>
<circle cx="291.90" cy="788.60" r="3.45" fill="#fff" stroke="#111" stroke-width="0.75"/>
<circle cx="291.90" cy="798.30" r="3.45" fill="#fff" stroke="#111" stroke-width="0.75"/>
<circle cx="288.50" cy="806.70" r="3.45" fill="#fff" stroke="#111" stroke-width="0.75"/>
<circle cx="294.20" cy="807.20" r="3.45" fill="#fff" stroke="#111" stroke-width="0.75"/>
<circle cx="294.80" cy="803.50" r="3.45" fill="#fff" stroke="#111" stroke-width="0.75"/>
<circle cx="312.20" cy="733.80" r="3.45" fill="#fff" stroke="#111" stroke-width="0.75"/>
<circle cx="314.10" cy="733.80" r="3.45" fill="#fff" stroke="#111" stroke-width="0.75"/>
<circle cx="312.80" cy="740.80" r="3.45" fill="#fff" stroke="#111" stroke-width="0.75"/>
<circle cx="312.80" cy="759.80" r="3.45" fill="#fff" stroke="#111" stroke-width="0.75"/>
<circle cx="312.80" cy="764.50" r="3.45" fill="#fff" stroke="#111" stroke-width="0.75"/>
<circle cx="312.80" cy="772.10" r="3.45" fill="#fff" stroke="#111" stroke-width="0.75"/>
<circle cx="311.30" cy="780.70" r="3.45" fill="#fff" stroke="#111" stroke-width="0.75"/>
<circle cx="316.00" cy="782.00" r="3.45" fill="#fff" stroke="#111" stroke-width="0.75"/>
<circle cx="309.00" cy="785.40" r="3.45" fill="#fff" stroke="#111" stroke-width="0.75"/>
<line x1="222.70" y1="711.80" x2="222.70" y2="815.20" stroke="#8c8c8c" stroke-width="0.9"/>
<line x1="222.70" y1="815.20" x2="326.50" y2="815.20" stroke="#8c8c8c" stroke-width="0.9"/>
<line x1="218.70" y1="815.20" x2="222.70" y2="815.20" stroke="#8c8c8c" stroke-width="0.9"/>
<text x="214.90" y="818.20" font-size="8.4" text-anchor="end" textLength="5.3" lengthAdjust="spacingAndGlyphs">0</text>
<line x1="218.70" y1="794.52" x2="222.70" y2="794.52" stroke="#8c8c8c" stroke-width="0.9"/>
<text x="214.90" y="797.52" font-size="8.4" text-anchor="end" textLength="10.4" lengthAdjust="spacingAndGlyphs">10</text>
<line x1="218.70" y1="773.84" x2="222.70" y2="773.84" stroke="#8c8c8c" stroke-width="0.9"/>
<text x="214.90" y="776.84" font-size="8.4" text-anchor="end" textLength="10.4" lengthAdjust="spacingAndGlyphs">20</text>
<line x1="218.70" y1="753.16" x2="222.70" y2="753.16" stroke="#8c8c8c" stroke-width="0.9"/>
<text x="214.90" y="756.16" font-size="8.4" text-anchor="end" textLength="10.4" lengthAdjust="spacingAndGlyphs">30</text>
<line x1="218.70" y1="732.48" x2="222.70" y2="732.48" stroke="#8c8c8c" stroke-width="0.9"/>
<text x="214.90" y="735.48" font-size="8.4" text-anchor="end" textLength="10.4" lengthAdjust="spacingAndGlyphs">40</text>
<line x1="218.70" y1="711.80" x2="222.70" y2="711.80" stroke="#8c8c8c" stroke-width="0.9"/>
<text x="214.90" y="714.80" font-size="8.4" text-anchor="end" textLength="10.4" lengthAdjust="spacingAndGlyphs">50</text>
<line x1="247.10" y1="815.20" x2="247.10" y2="818.80" stroke="#8c8c8c" stroke-width="0.9"/>
<line x1="302.70" y1="815.20" x2="302.70" y2="818.80" stroke="#8c8c8c" stroke-width="0.9"/>
<text x="247.10" y="834.00" font-size="10.0" text-anchor="middle" textLength="31.0" lengthAdjust="spacingAndGlyphs">γδ IEL</text>
<text x="302.70" y="834.00" font-size="10.0" text-anchor="middle" textLength="31.5" lengthAdjust="spacingAndGlyphs">DN IEL</text>
<text x="246.75" y="713.90" font-size="10.8" text-anchor="middle" textLength="39.89999999999998" lengthAdjust="spacingAndGlyphs">&lt;0.0001</text>
<line x1="233.50" y1="716.50" x2="260.00" y2="716.50" stroke="#222" stroke-width="1.0"/>
<text x="300.55" y="723.70" font-size="10.8" text-anchor="middle" textLength="39.30000000000001" lengthAdjust="spacingAndGlyphs">&lt;0.0001</text>
<line x1="287.20" y1="727.50" x2="314.10" y2="727.50" stroke="#222" stroke-width="1.0"/>
<text x="194.30" y="763.60" font-size="10.4" text-anchor="middle" textLength="107.4" lengthAdjust="spacingAndGlyphs" transform="rotate(-90 194.30 763.60)">Granzyme C<tspan font-size="6.6" dy="-4.6">+</tspan><tspan dy="4.6"> cells (%)</tspan></text>
<circle cx="236.90" cy="808.60" r="2.40" fill="#fff"/>
<rect x="394.40" y="788.48" width="12.40" height="27.32" fill="#000"/>
<line x1="421.45" y1="766.12" x2="421.45" y2="747.49" stroke="#666" stroke-width="0.8"/>
<line x1="419.25" y1="747.49" x2="423.65" y2="747.49" stroke="#666" stroke-width="0.8"/>
<rect x="415.30" y="766.12" width="12.30" height="49.68" fill="none" stroke="#777" stroke-width="0.8"/>
<rect x="450.00" y="787.85" width="12.40" height="27.95" fill="#000"/>
<rect x="470.30" y="748.32" width="13.30" height="67.48" fill="none" stroke="#777" stroke-width="0.8"/>
<circle cx="399.20" cy="777.40" r="3.45" fill="#fff" stroke="#111" stroke-width="0.75"/>
<circle cx="403.90" cy="779.70" r="3.45" fill="#fff" stroke="#111" stroke-width="0.75"/>
<circle cx="396.90" cy="783.50" r="3.45" fill="#fff" stroke="#111" stroke-width="0.75"/>
<circle cx="399.50" cy="791.70" r="3.45" fill="#fff" stroke="#111" stroke-width="0.75"/>
<circle cx="397.30" cy="798.30" r="3.45" fill="#fff" stroke="#111" stroke-width="0.75"/>
<circle cx="403.00" cy="797.70" r="3.45" fill="#fff" stroke="#111" stroke-width="0.75"/>
<circle cx="400.10" cy="786.40" r="3.45" fill="#fff" stroke="#111" stroke-width="0.75"/>
<circle cx="421.60" cy="731.30" r="3.45" fill="#fff" stroke="#111" stroke-width="0.75"/>
<circle cx="421.60" cy="738.90" r="3.45" fill="#fff" stroke="#111" stroke-width="0.75"/>
<circle cx="421.00" cy="744.60" r="3.45" fill="#fff" stroke="#111" stroke-width="0.75"/>
<circle cx="421.60" cy="768.30" r="3.45" fill="#fff" stroke="#111" stroke-width="0.75"/>
<circle cx="418.10" cy="771.70" r="3.45" fill="#fff" stroke="#111" stroke-width="0.75"/>
<circle cx="424.80" cy="773.60" r="3.45" fill="#fff" stroke="#111" stroke-width="0.75"/>
<circle cx="418.10" cy="783.50" r="3.45" fill="#fff" stroke="#111" stroke-width="0.75"/>
<circle cx="424.80" cy="783.50" r="3.45" fill="#fff" stroke="#111" stroke-width="0.75"/>
<circle cx="421.60" cy="775.90" r="3.45" fill="#fff" stroke="#111" stroke-width="0.75"/>
<circle cx="454.20" cy="779.30" r="3.45" fill="#fff" stroke="#111" stroke-width="0.75"/>
<circle cx="458.00" cy="779.70" r="3.45" fill="#fff" stroke="#111" stroke-width="0.75"/>
<circle cx="453.30" cy="789.20" r="3.45" fill="#fff" stroke="#111" stroke-width="0.75"/>
<circle cx="458.00" cy="790.10" r="3.45" fill="#fff" stroke="#111" stroke-width="0.75"/>
<circle cx="459.90" cy="793.00" r="3.45" fill="#fff" stroke="#111" stroke-width="0.75"/>
<circle cx="476.60" cy="736.10" r="3.45" fill="#fff" stroke="#111" stroke-width="0.75"/>
<circle cx="478.50" cy="736.10" r="3.45" fill="#fff" stroke="#111" stroke-width="0.75"/>
<circle cx="475.10" cy="743.30" r="3.45" fill="#fff" stroke="#111" stroke-width="0.75"/>
<circle cx="473.20" cy="749.30" r="3.45" fill="#fff" stroke="#111" stroke-width="0.75"/>
<circle cx="478.90" cy="749.70" r="3.45" fill="#fff" stroke="#111" stroke-width="0.75"/>
<circle cx="481.20" cy="747.40" r="3.45" fill="#fff" stroke="#111" stroke-width="0.75"/>
<circle cx="476.00" cy="757.90" r="3.45" fill="#fff" stroke="#111" stroke-width="0.75"/>
<line x1="387.40" y1="712.30" x2="387.40" y2="815.80" stroke="#8c8c8c" stroke-width="0.9"/>
<line x1="387.40" y1="815.80" x2="490.30" y2="815.80" stroke="#8c8c8c" stroke-width="0.9"/>
<line x1="383.40" y1="815.80" x2="387.40" y2="815.80" stroke="#8c8c8c" stroke-width="0.9"/>
<text x="379.60" y="818.80" font-size="8.4" text-anchor="end" textLength="5.3" lengthAdjust="spacingAndGlyphs">0</text>
<line x1="383.40" y1="795.10" x2="387.40" y2="795.10" stroke="#8c8c8c" stroke-width="0.9"/>
<text x="379.60" y="798.10" font-size="8.4" text-anchor="end" textLength="10.4" lengthAdjust="spacingAndGlyphs">10</text>
<line x1="383.40" y1="774.40" x2="387.40" y2="774.40" stroke="#8c8c8c" stroke-width="0.9"/>
<text x="379.60" y="777.40" font-size="8.4" text-anchor="end" textLength="10.4" lengthAdjust="spacingAndGlyphs">20</text>
<line x1="383.40" y1="753.70" x2="387.40" y2="753.70" stroke="#8c8c8c" stroke-width="0.9"/>
<text x="379.60" y="756.70" font-size="8.4" text-anchor="end" textLength="10.4" lengthAdjust="spacingAndGlyphs">30</text>
<line x1="383.40" y1="733.00" x2="387.40" y2="733.00" stroke="#8c8c8c" stroke-width="0.9"/>
<text x="379.60" y="736.00" font-size="8.4" text-anchor="end" textLength="10.4" lengthAdjust="spacingAndGlyphs">40</text>
<line x1="383.40" y1="712.30" x2="387.40" y2="712.30" stroke="#8c8c8c" stroke-width="0.9"/>
<text x="379.60" y="715.30" font-size="8.4" text-anchor="end" textLength="10.4" lengthAdjust="spacingAndGlyphs">50</text>
<line x1="411.50" y1="815.80" x2="411.50" y2="819.40" stroke="#8c8c8c" stroke-width="0.9"/>
<line x1="466.50" y1="815.80" x2="466.50" y2="819.40" stroke="#8c8c8c" stroke-width="0.9"/>
<text x="411.50" y="834.00" font-size="10.0" text-anchor="middle" textLength="31.0" lengthAdjust="spacingAndGlyphs">γδ IEL</text>
<text x="466.50" y="834.00" font-size="10.0" text-anchor="middle" textLength="31.5" lengthAdjust="spacingAndGlyphs">DN IEL</text>
<text x="409.60" y="715.20" font-size="10.8" text-anchor="middle" textLength="36.0" lengthAdjust="spacingAndGlyphs">0.0043</text>
<line x1="396.30" y1="718.50" x2="422.90" y2="718.50" stroke="#222" stroke-width="1.0"/>
<text x="463.95" y="725.20" font-size="10.8" text-anchor="middle" textLength="39.30000000000001" lengthAdjust="spacingAndGlyphs">&lt;0.0001</text>
<line x1="451.40" y1="729.50" x2="477.90" y2="729.50" stroke="#222" stroke-width="1.0"/>
<text x="357.50" y="764.20" font-size="10.4" text-anchor="middle" textLength="68.9" lengthAdjust="spacingAndGlyphs" transform="rotate(-90 357.50 764.20)">IFN-γ cells (%)</text>
<rect x="639.80" y="402.90" width="7.20" height="7.20" fill="#000"/>
<rect x="640.20" y="422.40" width="6.60" height="6.60" fill="none" stroke="#111" stroke-width="0.8"/>
<text x="650.90" y="410.50" font-size="10.4" font-style="italic" textLength="21.8" lengthAdjust="spacingAndGlyphs">Ikzf3</text>
<text x="673.40" y="406.10" font-size="7.0" font-style="italic" textLength="9.9" lengthAdjust="spacingAndGlyphs">+/+</text>
<text x="650.90" y="429.40" font-size="10.4" font-style="italic" textLength="21.8" lengthAdjust="spacingAndGlyphs">Ikzf3</text>
<text x="673.40" y="425.00" font-size="7.0" font-style="italic" textLength="9.9" lengthAdjust="spacingAndGlyphs">−/−</text>
<rect x="511.80" y="713.70" width="7.20" height="7.20" fill="#000"/>
<rect x="512.20" y="731.90" width="6.60" height="6.60" fill="none" stroke="#111" stroke-width="0.8"/>
<text x="524.10" y="721.30" font-size="10.4" font-style="italic" textLength="21.8" lengthAdjust="spacingAndGlyphs">Ikzf3</text>
<text x="546.60" y="716.90" font-size="7.0" font-style="italic" textLength="9.9" lengthAdjust="spacingAndGlyphs">+/+</text>
<text x="524.10" y="738.90" font-size="10.4" font-style="italic" textLength="21.8" lengthAdjust="spacingAndGlyphs">Ikzf3</text>
<text x="546.60" y="734.50" font-size="7.0" font-style="italic" textLength="9.9" lengthAdjust="spacingAndGlyphs">−/−</text>
</svg></body></html>
